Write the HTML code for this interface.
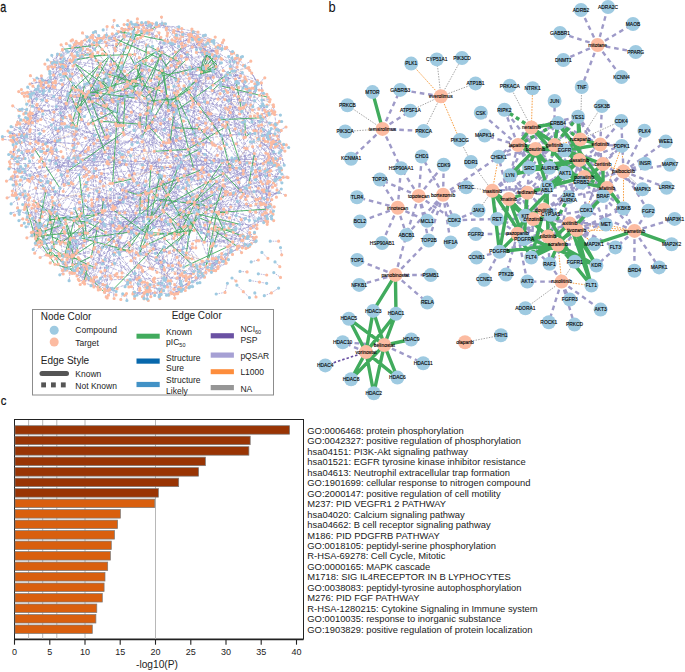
<!DOCTYPE html><html><head><meta charset="utf-8"><style>
html,body{margin:0;padding:0;background:#fff;overflow:hidden;}
svg{display:block;}
text{font-family:"Liberation Sans",sans-serif;}
.nl{font-size:4.9px;text-anchor:middle;fill:#000;stroke:#000;stroke-width:0.12px;}
</style></head><body>
<svg width="685" height="672" viewBox="0 0 685 672">
<rect width="685" height="672" fill="#fff"/>

<path d="M121.1 125.3L116.4 125.9M241.7 196.5L71.5 246.4M241.7 196.5L236.2 215.5M238.8 182.3L237.6 178.1M188.7 180.1L133.2 34.1M32.5 218.3L36.7 233.0M32.5 218.3L38.5 206.6M196.4 209.7L211.1 205.8M180.6 154.8L168.8 135.0M178.7 201.8L185.7 199.2M100.4 278.4L105.0 276.1M88.7 91.7L96.4 95.6M107.8 148.2L139.2 124.7M209.5 185.0L259.8 168.2M105.8 74.1L239.2 133.9M103.1 260.5L96.1 264.2M68.6 183.4L21.4 172.3M178.6 46.3L191.5 35.4M150.0 268.2L130.2 282.7M16.7 139.4L36.9 105.3M135.8 81.3L149.3 100.9M198.7 153.4L115.0 218.0M39.2 220.3L37.9 203.8M204.2 242.2L247.4 237.7M258.4 188.3L265.8 153.0M155.9 52.3L176.0 79.8M155.9 52.3L166.6 102.8M204.5 101.8L282.5 145.3M108.9 56.4L92.7 37.6M108.9 56.4L96.5 45.1M60.4 113.0L33.8 93.1M60.4 113.0L61.6 119.0M218.6 45.6L222.0 49.3M31.9 178.7L35.8 188.1M256.0 204.1L278.8 192.6M62.5 49.4L48.1 68.9M180.5 89.0L92.7 35.0M58.6 236.3L56.5 218.3M58.6 236.3L97.3 228.4M243.2 173.9L88.7 94.9M261.1 204.7L170.5 219.8M197.0 213.9L194.2 204.8M44.8 242.7L40.0 226.0M230.8 207.0L240.6 190.2M20.8 119.8L29.8 131.4M200.9 42.0L213.4 77.3M129.4 252.1L137.8 267.5M63.0 262.0L83.5 264.9M203.3 144.4L204.2 131.7M178.2 224.4L153.9 227.4M178.2 224.4L185.3 226.1M156.5 259.8L139.8 248.3M156.5 259.8L152.5 269.1M81.5 119.5L71.2 126.1M239.9 162.4L275.2 180.9M258.6 125.8L216.5 181.6M34.6 149.1L37.1 89.1M129.3 126.6L161.8 91.2M246.3 86.6L142.5 78.7M246.3 86.6L268.3 111.8M234.5 70.9L257.5 80.7M74.3 217.5L56.5 218.3M236.1 228.6L224.1 223.6M184.2 175.7L173.6 177.4M161.7 219.3L141.3 232.4M126.2 191.2L166.0 195.8M126.2 191.2L145.9 181.2M205.4 160.1L193.7 169.1M205.4 160.1L198.7 153.4M216.8 212.5L233.5 193.0M110.4 200.8L75.7 234.1M226.7 47.4L210.6 39.9M226.7 47.4L206.9 53.1M48.0 181.3L67.9 216.9M48.0 181.3L24.8 178.2M188.7 185.6L207.8 234.5M104.0 223.8L67.3 254.8M104.0 223.8L239.6 224.3M280.5 179.7L267.3 171.3M280.5 179.7L267.3 171.3M88.3 149.7L94.6 135.3M119.6 152.7L115.7 123.7M119.6 152.7L80.3 155.5M10.5 135.8L16.4 143.5M223.2 70.6L257.0 82.2M139.8 248.3L115.9 217.6M207.6 267.3L216.7 258.3M24.4 134.7L24.0 140.2M24.4 134.7L11.1 126.7M198.0 32.1L152.1 23.6M196.5 49.6L198.0 32.1M196.5 49.6L190.7 34.3M161.1 262.3L151.2 235.4M128.6 182.3L119.8 197.6M139.2 277.6L106.2 245.7M239.2 133.9L199.9 139.0M273.6 106.7L260.3 116.2M230.8 135.4L205.4 160.1M159.2 230.1L148.4 219.0M168.4 224.3L192.5 247.7M51.7 66.8L55.3 81.1M199.7 75.8L204.5 101.8M74.0 56.9L29.8 96.5M245.4 218.6L236.2 215.5M251.0 93.2L234.5 70.9M83.7 269.2L62.2 242.0M236.2 143.8L249.5 163.0M35.6 238.8L32.5 218.3M187.5 202.5L192.4 197.9M250.3 89.0L243.9 107.3M223.4 261.4L207.1 268.6M260.2 145.8L275.9 163.7M83.4 245.7L63.5 227.6M160.0 175.0L19.3 134.3M258.6 139.2L258.6 125.8M13.1 137.6L15.4 193.0M26.5 212.8L233.5 193.0M26.5 212.8L29.8 197.6M177.8 98.7L175.1 106.2M145.1 240.0L150.0 268.2M152.5 269.1L142.8 246.8M140.5 253.8L157.0 272.3M86.6 237.8L84.0 281.2M31.0 93.6L44.0 91.1M41.4 158.9L21.9 135.6M85.8 183.8L134.1 199.1M271.6 163.1L262.7 184.0M271.6 163.1L272.9 158.5M192.5 247.7L163.6 290.7M129.4 54.5L99.6 38.3M98.5 251.9L66.6 255.6M230.2 226.2L247.0 148.7M230.2 226.2L229.1 227.8M146.7 238.0L216.0 51.0M146.7 238.0L120.9 249.3M228.2 109.6L210.6 87.7M68.3 93.6L164.6 269.9M28.5 151.0L15.2 158.5M104.9 35.6L99.6 38.3M216.8 133.1L197.4 84.5M20.0 110.5L240.7 197.6M176.5 112.0L168.8 135.0M215.5 226.6L214.3 194.5M211.7 192.2L222.8 214.2M250.0 211.5L247.4 238.5M174.0 30.6L210.6 39.9M213.6 258.7L219.3 262.5M247.5 68.0L232.1 71.0M171.8 293.5L180.0 289.9M171.8 293.5L170.8 292.5M65.3 220.0L91.6 199.8M273.7 151.9L267.3 171.3M196.3 240.9L232.7 242.2M61.0 151.6L40.8 151.4M173.8 238.3L151.1 244.8M141.9 136.7L145.9 113.9M55.4 128.0L59.1 139.5M55.4 128.0L45.9 143.6M230.0 169.6L180.6 154.8M72.8 87.8L53.9 112.0M273.0 214.3L269.4 194.8M178.8 26.8L135.1 24.7M206.5 206.8L204.9 225.2M266.4 190.6L154.9 116.5M28.3 222.6L47.4 146.3M177.8 91.4L71.9 61.5M39.0 109.2L24.0 140.2M178.5 180.5L181.2 162.4M178.5 180.5L161.7 219.3M110.2 72.4L96.4 60.5M267.3 219.4L263.7 222.6M62.5 65.9L59.8 140.2M264.8 212.9L269.7 181.7M64.1 184.5L226.0 235.5M19.1 116.0L11.9 136.0M19.1 116.0L21.4 136.1M139.8 215.0L143.8 221.5M74.1 147.7L74.1 134.1M193.3 198.8L188.9 212.7M210.3 181.1L226.8 144.5M115.1 235.4L93.5 281.7M115.1 235.4L120.9 249.3M150.7 80.5L173.5 105.6M132.9 178.8L130.5 155.7M132.9 178.8L119.8 197.6M145.9 181.2L137.2 183.2M134.7 54.3L144.0 76.0M182.9 252.3L193.7 271.6M192.5 139.8L204.8 129.9M192.5 139.8L213.6 258.7M186.0 73.5L195.9 80.9M17.9 164.0L28.5 151.0M65.9 223.7L43.1 211.8M75.6 266.9L73.0 240.1M74.6 208.7L84.7 184.5M255.7 212.2L264.6 190.1M143.8 221.5L112.0 222.1M256.9 225.1L188.4 221.5M256.9 225.1L250.5 228.5M131.4 232.0L129.4 252.1M131.4 232.0L161.7 219.3M119.8 254.4L146.2 291.5M134.6 296.1L145.3 292.6M114.1 241.3L144.8 246.4M236.1 160.6L253.5 141.6M45.3 176.2L23.1 169.0M222.3 162.4L240.6 190.2M223.7 209.2L258.3 219.1M170.3 166.5L178.5 180.5M121.9 228.0L155.6 130.6M56.3 106.5L48.3 66.9M146.4 44.9L118.2 31.8M146.4 44.9L137.2 92.4M118.2 31.8L112.6 27.1M81.5 213.7L72.9 184.0M127.6 47.5L134.1 41.3M269.4 194.8L279.3 192.5M269.4 194.8L279.3 192.5M233.7 89.2L225.8 75.6M233.7 89.2L227.2 119.4M17.9 156.5L19.9 172.3M17.9 156.5L32.7 151.3M189.0 39.9L167.8 67.9M31.9 93.4L191.4 107.1M97.8 52.4L29.1 120.7M149.7 189.0L148.5 190.6M204.9 225.2L218.6 213.9M247.4 238.5L255.4 241.7M247.4 238.5L242.7 240.4M40.8 119.5L28.7 123.3M64.0 76.7L59.6 54.7M135.4 160.7L129.4 175.4M182.0 43.4L201.0 48.0M41.1 158.0L59.1 139.5M123.9 125.5L160.7 123.7M139.8 85.5L170.6 101.6M214.3 194.5L227.5 191.9M214.3 194.5L224.1 223.6M137.2 92.4L149.2 91.9M137.2 22.8L141.3 31.7M29.9 175.4L31.9 178.7M29.9 175.4L40.9 181.5M157.9 48.8L160.9 37.3M157.9 48.8L269.1 133.1M118.6 125.6L94.6 135.3M191.1 220.0L158.1 199.0M142.5 78.7L135.8 81.3M142.5 78.7L162.7 204.1M128.4 152.0L124.7 160.9M217.4 188.6L210.4 202.4M94.0 171.2L126.4 164.6M94.0 171.2L132.9 178.8M198.8 118.3L131.6 149.4M279.7 141.5L276.6 129.6M243.3 170.7L260.5 202.8M72.9 184.0L102.2 219.4M179.8 291.3L223.0 259.1M211.4 240.8L230.2 226.2M199.5 143.6L226.8 144.5M235.9 82.6L207.9 112.9M161.5 291.5L142.5 296.7M119.7 162.3L107.8 148.2M247.0 162.3L262.3 189.9M68.8 184.7L94.0 159.8M200.5 226.5L208.4 231.5M94.2 277.6L78.2 257.5M268.2 161.3L274.5 165.3M174.4 114.6L177.8 98.7M252.8 106.7L257.5 80.7M210.9 113.8L183.1 89.1M82.6 225.7L84.6 240.7M255.6 159.2L270.8 211.9M140.4 195.1L149.6 192.0M248.9 236.4L247.4 237.7M248.9 236.4L242.8 235.0M116.1 291.5L74.6 273.2M116.1 291.5L88.7 278.4M80.3 155.5L67.6 171.2M240.5 75.9L238.5 83.2M240.5 75.9L187.7 74.3M55.2 62.2L82.0 42.3M244.9 121.4L12.0 178.6M244.9 121.4L228.2 109.6M139.2 124.7L155.6 130.6M139.2 124.7L175.7 156.2M135.3 63.5L122.7 89.5M147.9 45.9L156.4 26.7M137.9 194.8L163.9 167.4M195.3 135.6L144.6 124.5M61.4 174.9L55.0 140.8M110.1 275.9L121.7 277.1M110.1 275.9L93.9 286.9M221.0 148.7L222.3 162.4M100.9 92.8L100.0 82.9M60.4 127.8L74.1 134.1M60.4 127.8L58.0 131.0M176.4 213.1L9.9 132.7M180.8 288.3L150.0 284.5M75.7 161.3L49.5 160.3M261.4 82.9L262.5 119.3M91.5 177.7L84.7 184.5M91.5 177.7L103.6 186.0M162.7 204.1L201.4 232.7M120.2 199.6L113.5 209.6M151.2 235.4L131.4 228.0M26.7 104.2L52.9 86.4M145.8 66.7L121.7 62.8M56.9 213.5L56.5 218.3M56.9 213.5L15.4 193.0M218.2 189.7L70.0 272.9M199.6 149.0L188.2 111.1M33.1 157.6L28.5 151.0M191.4 107.1L176.0 79.8M136.2 233.6L151.2 235.4M67.9 216.9L45.4 226.0M269.7 123.2L281.3 130.4M163.3 142.2L161.4 145.5M262.7 184.0L231.9 157.9M262.7 184.0L220.6 85.8M224.7 99.5L250.8 105.2M143.6 158.5L173.6 177.4M41.7 244.6L197.9 207.6M205.3 44.8L193.8 38.1M30.1 143.6L146.4 44.9M71.9 61.5L60.2 74.7M71.9 61.5L63.7 73.9M43.5 188.2L51.1 213.8M266.6 190.6L276.8 179.0M160.6 293.1L141.1 267.4M96.4 95.6L99.6 66.9M197.8 213.8L201.4 232.7M92.0 205.8L68.2 249.7M131.6 149.4L143.6 158.5M114.8 253.0L118.7 252.4M256.3 130.9L269.7 123.2M220.1 93.7L191.3 88.2M261.1 130.9L194.5 38.8M261.1 130.9L281.0 150.3M137.2 183.2L77.4 250.6M29.6 161.2L52.6 188.9M79.9 196.3L97.1 191.1M79.9 196.3L86.4 182.6M79.4 43.5L95.5 31.7M150.4 190.1L134.1 199.1M118.4 98.9L106.9 130.1M181.4 43.9L186.1 59.3M77.9 157.9L104.7 205.6M226.8 144.5L226.7 122.2M176.6 95.0L199.2 104.8M176.6 95.0L170.6 101.6M167.9 280.9L168.3 294.9M108.1 290.6L103.1 260.5M80.6 161.7L82.1 160.0M161.6 252.5L165.4 279.9M77.1 43.0L14.2 149.5M201.4 232.7L204.9 225.2M169.0 188.6L166.0 195.8M169.0 188.6L205.8 182.7M131.0 22.0L130.0 24.0M145.3 130.5L122.0 157.0M100.0 82.9L63.5 66.6M86.6 220.2L53.4 204.7M150.8 168.7L129.4 175.4M129.8 245.3L102.2 247.7M212.8 144.8L232.7 166.5M67.0 259.7L64.2 254.4M187.7 74.3L213.4 77.3M240.6 190.2L61.5 57.0M240.6 190.2L236.3 168.0M176.9 242.6L180.8 288.3M169.0 142.6L204.8 154.3M38.8 227.3L36.0 244.7M212.1 123.7L226.8 144.5M253.9 130.6L208.7 113.9M136.9 279.3L149.4 287.6M114.4 231.1L136.2 233.6M268.5 162.9L273.4 160.1M244.0 103.3L242.9 121.6M156.1 258.9L179.8 291.3M277.1 123.5L43.5 87.6M89.6 208.8L82.6 225.7M89.6 208.8L280.2 158.4M54.5 203.1L55.6 212.4M204.2 131.7L32.6 93.0M200.6 48.9L205.7 52.0M80.2 107.5L36.9 105.3M108.8 239.7L94.7 247.3M154.9 116.5L152.3 122.1M185.8 275.7L180.8 288.3M185.8 275.7L173.8 289.2M146.7 200.5L153.3 248.8M250.0 182.5L269.4 194.8M82.9 282.4L86.1 266.3M248.8 67.6L258.2 84.0M141.7 205.4L101.5 173.6M141.7 205.4L120.2 199.6M229.5 217.9L247.4 196.2M121.8 66.3L156.0 88.6M155.3 253.3L192.5 247.7M61.3 80.2L53.0 82.9M144.4 31.0L125.2 29.3M118.5 113.8L140.6 37.6M189.3 92.6L176.6 95.0M64.6 123.6L61.6 119.0M141.0 92.9L103.4 105.5M141.0 92.9L45.7 228.4M147.2 233.9L168.5 265.5M72.0 120.3L88.7 94.9M72.0 120.3L26.7 104.2M36.0 244.2L61.9 224.9M36.0 244.2L48.4 255.3M74.1 156.7L88.4 147.6M74.1 156.7L78.1 143.5M187.2 52.9L199.1 39.4M217.9 47.5L222.0 48.7M194.2 204.8L237.6 178.1M194.2 204.8L166.6 205.5M253.5 141.6L267.8 161.7M226.7 122.2L168.0 41.6M210.6 87.7L220.9 58.4M138.2 283.9L158.9 289.1M193.7 143.1L211.8 142.6M188.9 212.7L190.2 226.2M142.6 270.4L167.4 287.0M142.6 270.4L134.6 258.0M106.7 104.7L255.7 212.2M229.9 166.0L201.4 169.8M117.7 101.4L145.8 66.7M175.8 58.2L175.4 52.0M191.8 179.2L176.4 158.5M61.9 224.9L19.7 211.5M115.7 123.7L137.2 92.4M206.9 261.1L212.4 245.6M79.5 202.3L83.6 215.4M97.8 287.2L82.9 282.4M87.6 233.3L79.6 226.5M237.3 55.5L239.7 59.8M237.3 55.5L234.3 62.1M136.7 92.7L36.7 233.0M278.6 164.9L269.4 194.8M33.2 218.6L36.3 243.0M33.2 218.6L205.4 35.0M36.7 233.0L34.1 201.0M86.5 174.9L235.1 58.5M251.9 169.9L265.1 141.3M61.5 57.0L49.2 90.8M241.2 219.6L250.5 228.5M75.7 234.1L63.5 227.6M193.9 222.5L213.4 243.5M12.9 142.2L16.4 143.5M12.9 142.2L10.5 135.8M224.2 223.7L219.1 229.1M192.2 31.1L216.0 51.0M192.2 31.1L196.2 38.6M227.2 119.4L249.1 89.1M238.4 96.5L252.0 121.8M173.5 105.6L176.5 112.0M161.8 91.2L167.4 96.1M39.6 232.8L58.9 253.6M39.6 232.8L50.5 250.4M164.3 250.2L151.1 244.8M164.3 250.2L159.1 296.8M56.3 149.9L27.5 118.5M199.0 211.7L190.7 34.3M125.2 29.3L107.1 286.2M147.5 128.1L164.3 130.0M173.9 114.9L167.4 96.1M59.9 97.8L74.3 45.0M89.0 101.6L84.6 84.3M50.5 212.5L42.2 216.6M43.1 211.8L149.0 232.4M55.4 191.5L28.1 194.6M256.8 176.4L256.8 199.7M73.7 164.8L41.4 158.9M156.6 36.2L127.6 47.5M156.6 36.2L149.0 34.2M211.8 228.7L194.1 230.3M113.1 157.9L122.5 190.1M116.4 125.9L115.7 123.7M133.1 36.5L109.1 37.8M56.3 157.8L67.6 171.2M200.0 142.8L176.2 140.5M232.5 51.5L232.1 71.0M131.8 34.0L124.5 36.9M9.9 167.0L32.4 177.4M199.4 128.9L204.2 131.7M178.1 29.3L181.4 43.9M225.5 194.7L223.2 185.7M148.4 99.3L137.2 92.4M207.9 112.9L234.4 95.5M169.3 106.8L161.8 91.2M165.7 233.6L75.4 56.7M208.9 174.8L211.7 192.2M208.9 174.8L230.0 194.5M89.4 40.4L114.5 263.3M206.9 268.7L212.3 270.6M224.4 229.2L197.0 213.9M88.5 93.7L164.6 269.9M30.9 96.7L32.5 106.2M83.3 93.4L88.5 93.7M83.3 93.4L121.0 68.7M254.4 153.5L235.3 158.4M254.4 153.5L268.9 156.7M67.3 254.8L176.9 103.1M144.6 124.5L155.6 130.6M177.8 92.1L158.9 87.7M46.8 100.6L16.4 143.5M203.8 172.4L193.3 131.9M74.9 96.5L94.9 105.8M14.2 149.5L12.1 158.1M194.2 212.6L200.5 226.5M131.6 139.4L135.4 160.7M131.6 139.4L148.3 107.6M233.2 161.4L211.7 192.2M88.4 123.9L180.1 38.9M75.2 90.2L75.8 103.9M239.6 224.3L242.8 235.0M231.9 70.0L251.0 93.2M231.9 70.0L250.2 92.9M83.7 204.1L113.1 225.6M83.7 204.1L89.6 208.8M65.9 126.9L52.8 119.7M87.2 83.6L109.2 83.1M257.6 113.5L272.4 142.8M246.6 188.6L267.6 221.9M85.5 200.6L45.9 190.9M262.0 204.5L256.8 199.7M199.9 139.0L227.2 119.4M180.7 265.6L156.5 259.8M32.3 155.0L127.2 75.0M170.6 101.6L174.3 92.8M116.5 235.3L114.4 231.1M271.8 199.6L258.9 218.3M170.6 43.0L186.0 73.5M170.6 43.0L189.0 39.9M143.0 61.5L163.3 66.9M141.0 62.8L133.1 36.5M153.6 209.9L166.0 195.8M149.6 192.0L143.8 221.5M83.5 264.9L77.0 276.0M83.5 264.9L89.6 278.2M127.7 85.6L149.0 109.3M55.7 128.3L40.7 85.7M170.8 59.2L160.4 75.8M135.1 273.3L132.0 250.9M135.1 273.3L139.6 290.5M214.2 144.8L211.8 129.9M141.3 232.4L119.8 197.6M141.3 232.4L128.5 231.5M140.8 24.6L146.3 30.2M144.0 76.0L175.4 52.0M207.5 102.4L228.2 109.6M155.0 292.8L145.3 292.6M65.7 73.7L52.8 119.7M76.1 41.4L74.1 62.5M104.1 37.3L134.1 41.3M35.0 206.2L43.1 211.8M72.1 125.0L71.1 107.0M72.1 125.0L93.9 143.7M263.7 222.6L248.6 185.1M162.8 181.5L150.4 190.1M162.8 181.5L178.7 201.8M251.4 243.5L244.5 244.5M251.4 243.5L237.3 246.5M113.6 207.8L146.3 236.6M178.7 166.0L218.9 189.0M178.7 166.0L163.3 142.2M106.4 45.5L109.5 38.0M106.4 45.5L97.8 52.4M246.4 204.0L257.4 199.6M63.0 256.1L59.7 236.2M63.0 256.1L48.4 255.3M201.9 40.4L163.3 66.9M201.9 40.4L205.3 44.8M262.3 90.6L261.4 82.9M262.3 90.6L246.3 86.6M199.4 202.5L199.0 211.7M199.4 202.5L235.2 193.9M169.3 179.7L181.2 162.4M218.9 56.5L195.4 68.8M218.9 56.5L242.3 72.7M61.2 64.8L31.0 93.6M92.3 101.7L94.9 105.8M149.2 91.9L185.0 168.7M220.7 169.9L203.8 172.4M220.7 169.9L210.3 181.1M121.7 277.1L135.1 273.3M89.7 221.5L85.0 219.6M245.5 137.1L217.3 155.3M212.6 70.0L219.8 45.8M78.1 143.5L36.0 141.7M176.6 124.0L170.4 150.9M213.7 160.6L191.8 179.2M20.7 166.7L12.0 178.6M20.7 166.7L17.3 176.5M186.5 252.8L165.5 279.3M72.6 264.8L66.6 255.6M137.0 295.1L156.7 51.3M131.4 228.0L141.3 232.4M114.3 63.5L112.3 33.8M233.4 232.3L224.7 260.8M255.1 220.8L267.6 221.9M105.3 42.0L196.6 265.8M85.4 97.2L122.6 103.1M71.6 213.2L44.8 242.7M50.5 250.4L39.3 246.6M156.1 257.6L129.4 252.1M156.1 257.6L167.9 280.9M148.1 45.8L141.0 62.8M148.1 45.8L106.4 45.5M97.3 228.4L100.3 181.3M218.1 266.6L223.0 259.1M82.2 56.5L64.0 65.4M161.9 52.5L173.8 86.3M161.9 52.5L159.0 32.8M215.0 229.9L230.8 207.0M200.7 111.9L207.9 112.9M175.1 235.6L192.4 197.9M108.7 36.8L140.8 24.6M180.0 209.7L176.9 242.6M147.3 244.0L147.2 233.9M85.5 151.5L74.7 157.8M115.0 218.0L147.3 244.0M265.1 141.3L263.3 129.3M265.1 141.3L245.1 131.9M255.6 241.6L225.6 254.2M218.6 213.9L277.2 145.7M218.6 213.9L197.1 195.9M270.7 147.3L99.6 66.9M136.0 65.0L104.1 72.8M183.7 267.1L183.5 247.9M45.3 234.1L53.7 246.7M110.6 64.6L116.4 44.2M79.8 87.3L60.9 62.0M215.6 246.1L273.5 211.1M45.7 228.4L58.9 222.5M225.6 108.1L199.9 139.0M36.9 105.3L61.3 80.2M123.2 30.8L109.5 38.0M163.8 43.0L175.8 58.2M216.1 66.6L216.0 51.0M102.5 264.0L115.1 235.4M222.8 214.2L217.4 188.6M170.1 43.1L163.8 43.0M94.9 105.8L79.8 87.3M59.5 205.1L149.3 100.9M59.5 205.1L53.4 204.7M85.1 40.0L74.3 45.0M192.9 264.9L183.4 276.3M192.9 264.9L190.6 276.0M162.0 70.6L177.6 81.1M212.1 265.4L219.3 262.5M242.4 122.3L250.0 133.3M233.2 224.3L241.8 240.5M233.2 224.3L224.2 223.7M30.3 129.5L26.7 136.6M32.7 151.3L17.9 164.0M32.7 151.3L45.9 143.6M195.4 68.8L170.8 59.2M31.3 232.5L154.1 286.2M31.3 232.5L113.1 101.8M50.0 236.9L84.6 240.7M50.0 236.9L61.5 219.4M239.6 167.8L77.9 157.9M239.6 167.8L247.0 162.3M42.2 216.6L31.9 235.4M100.2 221.3L103.4 199.6M165.4 279.9L242.9 88.1M242.9 121.6L259.5 95.3M231.3 250.1L223.0 259.1M187.4 54.6L146.3 30.2M187.4 54.6L257.0 228.6M40.8 180.7L35.8 188.1M166.5 295.2L177.7 293.7M77.4 250.6L65.5 243.2M199.1 44.8L201.9 40.4M93.9 143.7L107.0 138.2M93.9 143.7L94.0 159.8M189.8 84.6L154.9 103.9M191.4 98.1L205.6 123.2M191.4 98.1L177.8 92.1M92.6 212.6L115.9 217.6M87.7 189.2L96.6 176.7M266.0 162.0L74.3 45.0M131.6 232.4L114.4 231.1M114.1 254.6L143.8 293.5M262.7 103.9L273.7 151.9M265.6 204.8L256.9 225.1M265.6 204.8L266.1 217.4M249.4 90.5L59.1 139.5M281.6 169.8L267.6 141.6M281.6 169.8L250.6 205.6M104.5 98.1L107.0 138.2M192.5 194.5L183.7 211.5M158.7 283.4L164.5 286.3M249.1 89.1L248.7 90.0M49.3 81.7L79.8 87.3M81.2 44.8L61.2 64.8M176.4 35.2L178.1 29.3M24.3 209.5L31.9 178.7M74.1 134.1L95.9 168.5M151.7 217.0L86.1 169.2M89.0 171.9L73.8 150.6M19.9 128.0L24.4 134.7M274.5 165.3L250.0 182.5M40.9 181.5L50.5 182.9M80.8 49.2L90.7 37.3M80.8 49.2L90.6 56.1M79.6 226.5L101.4 248.2M188.1 149.4L193.7 143.1M72.1 74.0L52.3 63.0M255.5 179.8L220.7 169.9M90.7 37.3L109.1 37.8M79.2 280.6L204.5 277.2M45.9 153.3L48.1 149.8M170.2 141.8L62.3 270.5M77.3 270.4L105.8 285.3M79.7 234.1L267.3 183.5M24.0 140.2L30.1 143.6M24.0 140.2L29.6 161.2M51.9 209.9L31.9 208.1M183.1 89.1L208.7 52.9M189.4 78.4L180.0 62.1M68.7 158.2L73.8 150.6M68.7 158.2L49.5 160.3M8.7 154.5L13.8 154.4M75.4 56.7L82.0 42.3M105.7 232.4L115.1 235.4M112.7 264.1L93.9 286.9M63.5 66.6L256.8 199.7M63.5 66.6L82.2 56.5M262.3 189.9L225.5 194.7M225.6 90.3L204.9 52.3M223.0 184.9L230.0 194.5M243.9 107.3L223.7 80.3M243.9 107.3L258.2 84.0M77.7 55.4L102.4 38.7M240.0 100.2L258.3 83.6M62.3 84.6L46.0 82.5M109.6 56.0L113.2 68.8M116.9 97.2L221.0 148.7M97.3 75.2L70.9 95.7M149.9 110.5L154.9 116.5M159.2 188.6L156.4 216.8M159.2 188.6L167.4 157.1M166.5 28.1L263.4 138.7M201.0 48.0L206.9 53.1M201.0 48.0L221.8 59.2M76.1 131.3L115.0 111.0M106.3 246.5L114.1 254.6M106.3 246.5L68.9 256.9M247.4 196.2L242.4 122.3M197.7 173.1L186.8 182.2M230.3 112.7L239.2 133.9M236.3 168.0L32.5 106.2M236.3 168.0L243.3 170.7M32.9 86.2L39.8 91.5M244.8 148.0L227.2 119.4M103.6 186.0L101.5 173.6M103.6 186.0L86.6 220.2M103.4 105.5L125.0 96.8M158.3 177.4L253.7 237.7M263.1 163.5L13.1 137.6M161.6 176.4L239.6 167.8M131.9 87.9L163.3 66.9M139.3 94.9L140.2 114.7M263.8 198.4L265.6 204.8M263.8 198.4L149.4 30.3M140.2 114.7L123.1 132.5M63.7 73.9L79.8 87.3M15.4 193.0L39.7 167.2M142.2 141.8L130.5 155.7M260.1 170.6L269.5 193.6M164.3 119.4L183.0 73.1M100.9 271.8L108.1 290.6M211.4 272.3L226.2 263.1M107.0 163.4L119.2 179.0M73.0 240.1L66.4 265.5M73.0 240.1L64.4 256.3M37.9 203.8L184.3 271.5M223.0 259.1L192.9 264.9M223.0 259.1L183.4 276.3M71.5 246.4L67.8 251.3M81.6 91.7L70.0 45.8M52.0 242.1L41.7 244.6M263.2 117.7L272.9 113.2M109.1 37.8L120.8 44.3M272.6 141.9L282.5 148.2M80.1 111.4L106.0 106.4M27.3 217.2L158.1 284.6M27.3 217.2L26.5 212.8M62.2 242.0L65.3 220.0M39.8 81.0L25.9 122.0M222.2 160.8L250.0 182.5M49.4 211.2L67.9 216.9M269.5 193.6L267.1 169.9M195.3 39.3L181.9 32.3M220.9 58.4L229.9 61.5M92.7 37.6L93.9 286.9M119.8 197.6L97.1 191.1M183.4 276.3L28.1 194.6M183.4 276.3L180.3 275.4M211.8 129.9L199.5 143.6M211.8 129.9L192.5 139.8M54.7 87.4L57.5 54.1M142.4 282.2L134.5 273.7M171.4 65.4L127.3 250.5M253.5 226.1L73.1 269.6M253.5 226.1L273.5 211.1M156.0 88.6L161.9 52.5M223.9 91.4L212.3 90.5M223.9 91.4L216.8 133.1M37.6 176.1L44.3 164.1M37.6 176.1L15.9 181.8M196.0 267.4L213.6 258.7M76.0 241.6L67.0 259.7M76.0 241.6L85.2 232.8M61.5 219.4L163.8 43.0M166.3 187.6L197.7 173.1M166.3 187.6L224.1 223.6M235.3 158.4L254.4 153.5M160.0 101.4L174.0 112.6M160.0 101.4L151.1 113.3M75.5 110.6L62.3 84.6M122.0 157.0L126.4 164.6M163.3 66.9L152.1 60.7M262.5 119.3L240.0 100.2M145.2 191.9L144.8 185.5M165.5 221.3L153.3 248.8M177.5 178.3L168.8 135.0M23.8 113.9L46.0 82.5M15.0 195.2L22.9 194.6M15.0 195.2L17.3 176.5M180.1 138.3L199.6 149.0M71.1 107.0L89.6 95.1M71.1 107.0L42.4 111.1M141.1 267.4L165.7 233.6M59.6 54.7L109.5 38.0M281.3 130.4L267.8 161.7M151.7 191.6L198.0 175.2M164.3 130.0L169.9 119.1M164.3 130.0L166.6 102.8M173.0 44.0L216.0 51.0M62.5 50.0L64.0 65.4M200.7 180.0L215.8 212.6M150.2 24.9L151.8 29.8M110.2 87.7L100.9 92.8M43.0 93.3L80.1 111.4M43.0 93.3L41.4 75.8M212.0 211.5L230.0 194.5M84.0 167.3L80.6 161.7M150.2 217.8L177.5 178.3M137.5 142.5L93.9 143.7M132.4 94.8L139.3 94.9M277.0 190.1L276.8 179.0M170.8 292.5L156.1 258.9M170.8 292.5L179.8 291.3M234.3 62.1L197.3 41.6M207.8 234.5L241.8 240.5M207.8 65.6L213.0 85.1M207.8 65.6L193.9 37.5M64.3 185.2L82.1 160.0M64.3 185.2L61.4 174.9M190.2 70.6L216.0 51.0M152.8 197.6L133.9 180.9M121.9 56.2L125.0 96.8M226.2 263.1L211.5 268.7M136.4 252.7L132.9 293.9M189.1 224.1L194.1 230.3M191.3 88.2L168.4 110.7M195.8 247.8L198.6 217.5M90.9 280.8L63.9 269.3M90.9 280.8L84.0 281.2M269.9 206.2L245.2 218.8M112.1 99.9L121.0 68.7M67.6 171.2L63.2 191.3M142.7 227.5L113.1 225.6M280.2 158.4L257.4 138.3M211.1 205.8L186.8 182.2M176.6 136.7L172.6 103.3M176.6 136.7L183.6 121.1M134.2 80.8L142.5 78.7M167.4 157.1L87.8 49.3M176.0 79.8L175.8 58.2M151.3 166.4L176.2 140.5M151.3 166.4L165.2 153.6M197.5 69.4L178.6 46.3M197.5 69.4L187.7 74.3M183.5 247.9L197.0 213.9M205.6 123.2L169.3 106.8M130.0 95.1L116.4 125.9M130.0 95.1L97.4 95.4M186.8 182.2L185.7 199.2M186.8 182.2L160.8 184.1M67.3 96.1L103.1 98.9M67.3 96.1L68.3 93.6M135.8 227.5L128.5 231.5M55.5 82.8L36.9 78.0M187.1 59.0L180.1 38.9M158.1 199.0L183.4 187.8M135.9 67.7L127.7 85.6M139.3 122.8L145.9 113.9M177.6 81.1L156.0 88.6M217.1 50.9L202.2 50.1M124.7 160.9L97.4 140.2M124.7 160.9L108.6 157.3M230.2 106.8L225.6 108.1M104.7 205.6L92.2 203.4M70.1 239.7L50.2 222.5M70.1 239.7L44.3 225.5M249.5 163.0L276.5 165.9M48.8 194.5L250.6 205.6M198.9 41.0L190.7 34.3M94.6 267.6L77.8 268.0M94.6 267.6L111.1 278.7M56.2 242.9L278.6 164.9M267.2 209.1L265.1 169.5M243.1 131.2L263.2 117.7M122.4 154.4L109.0 164.0M215.4 145.6L235.2 128.8M166.6 205.5L142.2 201.5M193.7 169.1L36.3 236.7M125.0 96.8L134.2 80.8M255.7 172.2L118.7 228.2M53.9 112.0L92.7 37.6M131.4 112.2L154.9 116.5M227.7 72.5L239.9 162.4M198.0 175.2L188.7 185.6M44.3 164.1L84.0 167.3M136.0 213.0L113.5 209.6M98.9 191.7L112.0 209.0M37.1 89.1L63.5 66.6M211.1 246.4L281.3 189.0M211.1 246.4L212.1 265.4M144.7 98.3L186.5 117.9M208.1 40.1L190.2 70.6M74.0 220.6L76.1 253.2M38.8 242.5L49.9 237.5M19.3 214.3L19.8 210.9M197.3 41.6L199.1 44.8M243.5 194.1L254.0 191.7M276.1 124.7L273.6 106.7M146.4 254.3L192.5 247.7M86.7 94.7L143.0 61.5M105.0 152.0L94.0 171.2M52.7 201.7L50.2 222.5M52.7 201.7L53.4 204.7M202.8 167.5L225.2 191.6M267.8 136.5L236.3 168.0M250.4 116.3L265.8 153.0M193.9 37.5L217.1 53.1M97.8 100.5L67.3 96.1M112.3 90.2L137.2 92.4M112.3 90.2L67.3 96.1M16.5 124.8L32.5 122.7M92.0 108.5L78.1 109.7M92.0 108.5L139.2 124.7M51.3 147.9L44.4 163.6M51.3 147.9L64.3 185.2M221.6 135.9L196.1 98.2M221.6 135.9L225.6 108.1M107.0 267.5L94.7 247.3M107.0 267.5L83.7 269.2M226.0 235.5L231.0 252.0M226.0 235.5L200.5 226.5M245.1 131.9L279.7 141.5M134.6 258.0L116.5 245.1M88.4 147.6L45.3 176.2M88.4 147.6L118.5 113.8M185.7 199.2L187.5 202.5M185.7 199.2L210.2 264.2M120.9 249.3L62.5 49.4M128.5 231.5L131.4 228.0M128.5 231.5L116.5 235.3M42.4 111.1L28.9 117.5M42.4 111.1L80.2 107.5M182.0 273.6L193.4 273.4M43.1 185.8L24.0 140.2M70.9 95.7L68.3 93.6M118.7 228.2L136.0 213.0M164.3 261.3L163.6 267.7M64.9 233.2L79.7 216.4M232.7 166.5L231.9 157.9M232.7 166.5L146.4 254.3M193.1 104.4L205.7 52.0M51.4 124.8L25.9 135.9M116.0 294.9L86.6 278.8M168.4 194.5L257.0 228.6M212.3 90.5L210.6 87.7M263.3 129.3L281.8 174.0M194.1 230.3L161.6 252.5M49.8 73.8L61.6 56.0M190.7 66.8L207.8 65.6M137.4 38.7L212.3 90.5M152.1 60.7L152.1 23.6M171.9 43.8L176.0 79.8M193.3 131.9L230.8 135.4M156.7 51.3L176.4 35.2M9.4 161.8L15.7 146.7M61.6 119.0L28.5 151.0M173.5 32.2L180.1 38.9M173.5 32.2L166.5 28.1M75.8 103.9L88.7 91.7M132.5 81.2L127.2 75.0M63.5 227.6L77.1 245.8M63.5 227.6L94.8 219.6M83.6 215.4L41.4 201.3M83.6 215.4L38.8 227.3M175.8 34.3L193.8 38.1M49.5 160.3L67.6 171.2M178.7 234.5L203.8 264.7M178.7 234.5L185.7 199.2M105.4 137.2L66.3 126.5M219.4 119.8L196.1 98.2M217.1 53.1L203.5 68.7M211.8 142.6L207.2 127.8M211.8 142.6L176.2 140.5M26.7 219.4L59.7 236.2M52.8 119.7L87.2 83.6M254.6 100.6L265.9 112.0M11.1 126.7L43.9 131.1M43.3 148.7L41.9 151.3M77.1 245.8L73.9 238.2M77.1 245.8L76.0 241.6M65.5 269.2L52.0 246.9M99.6 66.9L250.0 133.3M58.9 222.5L73.5 255.2M28.7 101.1L30.5 97.2M244.0 137.7L205.4 35.0M21.4 136.1L25.9 135.9M185.7 232.9L175.1 235.6M185.7 232.9L197.0 213.9M272.4 142.8L266.0 162.0M272.4 142.8L270.7 147.3M205.4 35.0L166.3 29.8M217.9 99.1L227.7 72.5M190.2 226.2L159.2 230.1M70.3 79.2L62.5 65.9M62.3 270.5L72.0 257.0M124.1 134.7L112.1 99.9M40.0 226.0L44.3 225.5M104.9 270.3L127.8 282.4M227.4 162.0L221.0 148.7M205.8 68.5L110.1 275.9M205.8 68.5L75.5 110.6M113.1 101.8L114.9 74.1M134.5 273.7L104.9 259.5M9.9 132.7L198.9 41.0M62.8 118.0L68.3 93.6M189.6 201.7L160.8 184.1M196.7 196.9L200.5 226.5M196.7 196.9L177.5 178.3M19.9 142.1L24.2 158.4M50.3 77.7L52.9 86.4M163.9 167.4L65.5 243.2M156.8 77.1L136.0 65.0M156.8 77.1L145.3 130.5M127.2 75.0L101.2 85.7M183.2 227.1L148.4 219.0M70.8 117.2L59.9 97.8M270.2 204.4L262.7 184.0M27.5 92.3L57.5 140.9M41.9 201.5L70.3 79.2M146.1 194.1L149.7 189.0M146.1 194.1L119.2 179.0M263.5 105.5L264.5 110.1M93.5 281.7L87.3 268.9M178.7 85.6L181.5 56.1M36.9 78.0L53.0 82.9M36.9 78.0L53.7 96.3M10.2 163.8L255.6 159.2M132.1 90.9L100.5 63.6M132.1 90.9L255.6 241.6M98.5 282.0L201.6 72.0M21.4 172.3L19.9 172.3M148.6 223.1L147.2 233.9M104.9 210.7L98.9 191.7M97.4 140.2L123.9 125.5M97.4 140.2L142.2 141.8M57.5 140.9L9.9 132.7M237.1 249.2L196.6 265.8M102.2 219.4L85.0 219.6M174.5 233.5L188.9 212.7M174.5 233.5L148.6 223.1M148.5 190.6L137.9 194.8M148.5 190.6L164.5 176.0M102.0 86.4L110.6 64.6M212.2 258.7L223.0 259.1M210.4 202.4L181.2 162.4M174.0 112.6L178.7 85.6M166.6 102.8L149.3 100.9M73.6 255.8L80.4 237.8M48.4 255.3L47.2 248.0M181.4 291.2L139.3 57.7M92.8 176.3L94.0 171.2M234.4 95.5L153.9 227.4M234.4 95.5L251.5 81.5M96.0 214.6L138.9 215.0M92.2 116.5L74.1 134.1M183.6 121.1L225.9 125.9M40.8 151.4L10.5 135.8M59.7 236.2L58.6 236.3M71.2 126.1L78.1 143.5M71.2 126.1L123.7 49.7M203.2 275.9L170.8 292.5M96.1 264.2L89.6 278.2M96.1 264.2L188.6 34.6M80.4 237.8L87.3 268.9M119.2 226.0L128.5 231.5M230.0 245.2L201.4 232.7M127.3 250.5L118.7 252.4M250.2 92.9L257.5 80.7M250.2 92.9L242.9 121.6M242.3 72.7L226.6 79.8M242.3 72.7L159.2 230.1M198.6 217.5L153.9 227.4M260.8 181.6L225.2 191.6M47.7 220.2L67.9 216.9M122.7 89.5L136.1 98.2M195.6 88.7L176.6 66.9M101.5 113.3L121.1 125.3M245.9 248.4L135.3 63.5M134.1 41.3L134.7 54.3M177.6 168.2L151.3 166.4M181.2 217.1L178.7 201.8M116.5 245.1L104.0 223.8M116.5 245.1L148.2 193.0M225.7 180.1L223.1 173.7M104.6 111.0L97.4 95.4M203.5 68.7L225.8 75.6M130.4 86.5L114.3 63.5M38.5 206.6L43.1 211.8M142.4 165.0L130.5 155.7M208.7 52.9L199.1 44.8M208.7 52.9L195.3 39.3M138.4 192.8L125.8 197.1M213.6 71.9L220.5 82.7M216.5 181.6L85.1 40.0M241.8 240.5L211.8 228.7M145.9 113.9L123.9 125.5M114.9 74.1L109.6 56.0M235.2 128.8L242.4 122.3M252.6 110.0L260.8 106.3M136.9 32.5L109.1 39.4M78.5 89.9L106.9 77.5M257.4 199.6L223.0 184.9M53.4 204.7L27.8 165.9M148.5 126.1L144.6 124.5M109.1 39.4L116.5 40.5M138.6 265.6L164.6 269.9M257.4 138.3L280.2 158.4M74.4 139.7L76.6 128.9M227.5 191.9L210.3 181.1M88.6 195.6L86.6 220.2M124.9 212.7L151.6 233.2M124.9 212.7L79.0 209.1M115.0 48.1L142.9 35.9M151.6 233.2L223.2 70.6M49.9 150.7L68.8 184.7M225.9 125.9L230.2 106.8M105.8 285.3L88.7 278.4M213.4 243.5L240.2 235.8M213.4 243.5L191.1 220.0M82.4 269.7L86.1 266.3M28.7 123.3L25.9 135.9M66.1 103.0L60.4 127.8M159.0 32.8L182.9 252.3M159.0 32.8L141.7 22.6M102.3 212.5L106.3 246.5M218.9 189.0L258.3 219.1M184.7 272.0L192.9 264.9M96.6 176.7L85.8 183.8M101.4 248.2L94.2 277.6M105.4 207.3L120.2 199.6M105.4 207.3L123.2 202.0M249.4 220.3L201.0 205.0M252.6 146.7L260.8 181.6M224.1 223.6L199.4 202.5M85.7 186.4L98.9 191.7M130.5 155.7L73.8 150.6M130.5 155.7L134.1 199.1M245.8 104.8L230.3 66.5M245.8 104.8L214.8 56.1M52.3 63.0L92.4 56.6M52.3 63.0L77.3 219.0M103.1 98.9L116.4 125.9M103.1 98.9L101.6 121.3M147.4 217.1L160.0 175.0M268.0 181.4L269.5 193.6M188.9 92.0L207.8 65.6M190.6 264.4L189.1 287.8M222.0 49.3L161.4 203.2M207.1 268.6L190.1 286.7M204.8 53.6L181.7 36.0M115.9 217.6L134.2 235.2M115.9 217.6L150.2 217.8M184.0 85.9L188.2 111.1M73.9 238.2L41.7 244.6M73.9 238.2L85.2 232.8M58.9 253.6L36.3 243.0M58.9 253.6L272.9 158.5M148.2 193.0L180.0 209.7M196.4 52.4L203.5 68.7M258.2 84.0L249.7 70.3M44.4 163.6L41.4 158.9M190.4 227.5L207.8 234.5M122.6 103.1L96.4 95.6M144.3 150.3L140.2 114.7M216.0 51.0L196.4 52.4M167.8 67.9L180.0 62.1M167.8 67.9L155.9 52.3M122.1 272.9L118.7 252.4M52.2 151.4L57.5 140.9M52.2 151.4L29.8 131.4M95.3 241.4L98.9 191.7M95.3 241.4L112.7 264.1M81.8 49.8L76.1 41.4M196.8 125.0L176.6 136.7M118.7 252.4L118.7 228.2M118.7 252.4L142.8 246.8M66.3 126.5L42.9 144.4M161.4 203.2L178.2 208.1M102.2 247.7L102.2 219.4M277.0 136.1L230.3 112.7M237.1 57.2L233.7 89.2M237.1 57.2L235.6 79.1M254.9 133.4L221.6 135.9M160.7 123.7L167.4 157.1M96.4 60.5L121.7 62.8M114.5 263.3L107.0 267.5M241.6 130.8L258.3 83.6M241.6 130.8L259.9 121.7M97.4 95.4L131.4 112.2M73.1 269.6L52.7 256.0M210.7 171.4L198.2 145.0M104.1 72.8L97.3 75.2M245.2 218.8L224.7 260.8M70.5 238.4L76.1 253.2M55.6 212.4L31.3 232.5M61.8 123.7L70.9 95.7M227.7 92.4L250.2 92.9M227.7 92.4L227.6 73.3M245.0 244.3L198.5 271.9M144.9 208.2L156.4 216.8M72.7 145.6L110.2 133.7M39.7 167.2L132.6 37.6M161.9 267.0L128.8 242.8M224.1 227.1L237.6 178.1M108.1 136.4L109.0 164.0M110.0 183.5L122.8 179.6M25.2 208.3L21.6 177.0M32.5 122.7L30.4 118.4M148.3 107.6L136.7 92.7M265.8 153.0L271.2 128.6M97.1 199.4L246.9 162.8M250.0 133.3L255.6 159.2M153.3 248.8L172.6 269.1M255.5 170.5L272.9 158.5M121.0 68.7L139.3 57.7M231.8 87.7L238.7 87.6M220.5 82.7L233.7 89.2M259.5 95.3L262.3 90.6M206.0 266.0L174.3 294.4M79.1 263.4L91.3 256.5M135.1 24.7L133.1 36.5M140.0 126.6L100.9 92.8M106.9 130.1L110.2 133.7M25.9 122.0L21.4 136.1M247.8 247.5L212.4 245.6M112.0 93.0L254.6 100.6M179.8 250.6L177.1 278.1M203.3 67.4L170.1 43.1M164.5 176.0L178.7 201.8M242.7 240.4L212.2 258.7M188.2 257.9L173.8 289.2M116.8 273.7L144.8 246.4M103.4 199.6L112.0 209.0M220.6 85.8L207.9 112.9M220.6 85.8L225.8 75.6M99.2 42.7L102.4 38.7M165.2 153.6L163.3 142.2M113.5 209.6L120.1 222.8M15.2 158.5L17.9 156.5M15.2 158.5L21.3 142.5M155.6 130.6L75.7 161.3M155.6 130.6L170.2 141.8M198.4 275.7L188.2 257.9M86.1 169.2L67.6 171.2M197.4 84.5L268.0 154.0M223.7 80.3L187.2 52.9M223.7 80.3L199.1 39.4M220.9 198.7L229.9 166.0M117.2 141.9L32.3 113.5M188.5 236.9L188.4 221.5M79.7 216.4L88.3 179.4M254.6 164.1L247.0 162.3M133.9 180.9L125.8 197.1M133.9 180.9L124.7 160.9M12.3 194.9L17.9 164.0M109.1 91.9L80.1 111.4M131.1 260.7L181.0 281.3M137.8 267.5L148.0 284.4M11.9 136.0L26.9 151.3M176.4 158.5L34.6 80.1M176.4 158.5L208.9 174.8M31.2 114.0L37.7 121.0M94.8 219.6L100.9 271.8M182.7 34.5L187.1 59.0M254.4 116.0L269.4 139.0M105.0 276.1L107.0 267.5M88.7 94.9L89.0 101.6M88.7 94.9L110.1 88.8M58.0 131.0L29.1 120.7M225.2 191.6L218.6 213.9M84.6 283.9L71.9 255.2M58.0 170.3L96.6 176.7M58.0 170.3L56.3 149.9M113.0 205.9L112.0 209.0M276.5 165.9L282.5 148.2M53.6 188.0L173.5 32.2M72.3 126.0L64.9 117.3M166.0 195.8L157.3 172.3M120.0 237.6L94.8 219.6M225.1 127.2L243.2 173.9M202.1 190.9L212.0 211.5M25.1 93.0L43.5 87.6M68.9 256.9L83.4 245.7M28.6 216.8L50.5 182.9M237.4 201.4L245.4 218.6M208.7 113.9L227.2 119.4M144.8 185.5L169.0 188.6M185.3 226.1L197.8 213.8M126.2 92.8L92.0 108.5M91.6 199.8L125.8 197.1M42.1 81.6L30.0 84.0M106.0 106.4L92.0 108.5M132.2 24.0L166.5 28.1M193.8 38.1L200.9 42.0M193.8 38.1L156.5 22.8M115.2 207.7L113.0 205.9M185.8 257.2L144.8 246.4M207.2 127.8L170.2 141.8M89.4 268.2L105.7 232.4M91.1 85.5L88.7 94.9M91.1 85.5L98.5 85.9M109.2 83.1L85.4 97.2M109.2 83.1L101.9 80.1M233.5 193.0L250.0 182.5M254.0 191.7L279.3 192.5M84.4 116.5L97.8 100.5M126.4 164.6L94.0 171.2M241.8 111.4L225.6 108.1M183.9 157.0L169.3 179.7M55.3 81.1L63.9 58.9M123.2 202.0L113.0 205.9M178.2 208.1L193.3 198.8M151.1 113.3L148.4 99.3M151.1 113.3L136.1 98.2M39.7 133.7L11.9 136.0M39.7 133.7L38.3 143.3M37.7 121.0L30.9 96.7M78.1 109.7L84.4 116.5M141.8 84.6L141.0 62.8M116.5 40.5L97.5 44.2M159.3 79.1L51.7 66.8M159.3 79.1L168.6 87.0M165.5 23.8L151.8 29.8M12.2 140.3L19.9 142.1M12.2 140.3L21.4 136.1M157.3 172.3L163.9 167.4M147.9 113.0L148.5 126.1M201.4 169.8L212.8 144.8M240.7 197.6L233.2 224.3M85.3 138.0L55.4 128.0M228.1 127.3L200.7 111.9M160.8 184.1L177.5 178.3M158.9 87.7L182.2 47.0M247.0 148.7L232.7 166.5M89.6 95.1L119.2 179.0M89.6 95.1L60.4 113.0M176.6 66.9L148.4 99.3M176.6 66.9L205.8 68.5M86.6 278.8L115.1 235.4M86.6 278.8L79.1 263.4M240.2 235.8L201.4 232.7M250.6 205.6L240.6 190.2M250.6 205.6L92.6 212.6M39.8 235.3L36.0 244.2M245.9 199.5L135.8 81.3M33.0 231.8L63.5 227.6M252.0 121.8L256.3 130.9M252.0 121.8L246.3 86.6M158.1 233.8L166.8 233.4M153.9 227.4L142.2 201.5M104.4 292.3L127.5 284.1M218.0 268.4L24.8 178.2M198.3 103.8L225.1 127.2M147.2 32.7L142.9 35.9M128.8 242.8L104.9 259.5M207.7 259.5L205.3 44.8M66.4 104.0L27.5 92.3M30.5 97.2L52.8 119.7M30.5 97.2L30.1 94.3M178.8 287.3L174.3 294.4M178.8 287.3L204.5 277.2M188.2 111.1L164.3 130.0M138.3 185.0L154.3 151.3M279.1 167.9L275.2 180.9M216.7 258.3L204.5 277.2M126.7 117.0L103.4 105.5M126.7 117.0L108.1 136.4M74.6 273.2L79.2 259.2M118.4 31.6L135.7 26.4M175.7 156.2L208.7 113.9M158.1 284.6L153.2 279.7M158.1 284.6L172.6 265.6M134.2 130.4L148.3 107.6M74.1 157.8L86.5 174.9M100.3 181.3L124.7 160.9M283.3 177.3L82.1 160.0M92.8 279.9L91.0 285.7M219.1 229.1L210.0 222.2M208.4 231.5L230.0 245.2M208.4 231.5L198.3 178.6M196.6 265.8L190.6 276.0M94.0 159.8L68.6 183.4M221.5 117.7L181.6 130.7M175.8 293.7L179.8 291.3M235.6 79.1L71.9 61.5M136.8 223.1L122.4 184.6M142.2 201.5L119.2 226.0M244.8 187.5L245.9 199.5M56.5 218.3L59.9 188.1M56.5 218.3L53.4 204.7M43.9 131.1L25.9 122.0M230.2 74.8L238.5 83.2M26.0 226.8L38.8 227.3M77.3 219.0L79.7 216.4M97.1 191.1L94.0 171.2M159.1 159.9L180.6 154.8M41.4 75.8L38.3 86.2M41.4 75.8L42.7 80.1M142.7 271.3L127.5 284.1M93.6 211.1L98.9 191.7M162.8 210.0L162.7 204.1M162.8 210.0L120.1 222.8M214.8 56.1L117.7 101.4M214.8 56.1L175.8 58.2M176.2 140.5L170.6 101.6M117.2 81.3L168.4 224.3M81.6 75.6L84.6 84.3M267.8 160.7L266.4 190.6M208.1 78.3L189.8 84.6M30.0 84.0L64.0 76.7M30.0 84.0L34.6 80.1M157.0 272.3L146.4 254.3M142.2 70.3L145.8 66.7M124.5 71.2L267.2 209.1M36.0 141.7L60.4 127.8M73.2 83.5L68.3 93.6M73.2 83.5L190.6 264.4M164.6 269.9L177.0 257.4M133.5 292.6L171.8 293.5M27.7 180.1L235.9 82.6M156.4 216.8L71.1 107.0M239.7 114.0L227.2 119.4M239.7 114.0L223.9 91.4M42.9 144.4L59.8 140.2M174.3 92.8L177.6 81.1M205.7 272.4L206.0 266.0M35.8 188.1L42.2 216.6M35.8 188.1L55.4 191.5M52.0 246.9L50.5 250.4M168.4 110.7L211.8 129.9M188.4 221.5L145.1 240.0M215.8 212.6L202.1 190.9M180.0 62.1L169.3 106.8M101.5 173.6L233.2 161.4M101.5 173.6L97.1 191.1M36.0 244.7L36.1 211.1M113.2 68.8L78.5 89.9M113.2 68.8L80.2 107.5M21.6 177.0L44.1 152.6M149.3 100.9L158.9 87.7M108.4 79.9L112.0 93.0M73.8 150.6L69.6 115.6M129.4 175.4L279.2 152.9M178.8 262.9L192.5 247.7M130.6 83.8L132.4 94.8M113.1 225.6L119.8 197.6M60.9 62.0L74.9 96.5M174.2 250.1L150.0 268.2M174.2 250.1L161.2 294.4M122.4 184.6L115.2 207.7M127.3 81.9L110.0 76.5M50.2 222.5L81.5 119.5M50.2 222.5L59.7 236.2M178.4 79.3L213.4 77.3M64.3 231.7L150.8 168.7M204.8 129.9L176.6 124.0M263.4 138.7L265.8 153.0M263.4 138.7L238.8 182.3M65.5 243.2L89.4 268.2M125.8 197.1L201.0 205.0M149.4 70.2L167.4 96.1M45.9 143.6L9.9 132.7M45.9 143.6L74.1 134.1M245.8 88.7L251.0 93.2M254.4 177.6L281.1 168.3M50.5 182.9L39.2 220.3M50.5 182.9L124.5 71.2M195.9 80.9L179.1 289.4M195.9 80.9L196.1 98.2M15.9 181.8L11.1 178.9M15.9 181.8L37.4 224.5M52.2 197.3L45.9 190.9M18.9 150.6L43.3 148.7M87.8 53.5L75.7 60.0M119.2 179.0L96.6 176.7M100.5 63.6L88.7 94.9M100.5 63.6L81.9 56.6M160.9 37.3L180.6 154.8M258.3 219.1L262.3 189.9M183.4 187.8L210.0 222.2M183.4 187.8L162.7 204.1M148.2 52.6L189.0 39.9M148.2 52.6L130.4 86.5M256.0 199.6L278.8 192.6M256.8 199.7L263.6 203.7M272.9 158.5L262.5 135.4M272.9 158.5L8.9 168.8M93.7 249.2L105.4 207.3M284.2 165.2L277.2 145.7M284.2 165.2L277.0 136.1M134.2 235.2L112.6 183.3M223.2 185.7L246.9 162.8M230.3 66.5L217.1 53.1M192.8 100.9L203.3 67.4M156.9 195.1L168.5 265.5M59.1 139.5L53.9 112.0M69.6 115.6L96.5 86.4M167.4 96.1L176.9 103.1M239.3 108.2L192.8 100.9M224.3 186.1L269.4 194.8M55.0 140.8L51.4 124.8M69.2 126.8L71.2 126.1M115.2 275.2L104.4 292.3M181.5 56.1L156.6 36.2M16.6 197.9L18.7 210.7M16.6 197.9L188.2 111.1M235.2 193.9L208.9 174.8M123.1 132.5L141.9 136.7M173.6 127.7L174.4 114.6M240.7 109.8L233.7 89.2M177.8 63.5L156.8 77.1M92.4 56.6L53.7 96.3M126.8 226.3L120.0 237.6M176.8 110.3L166.6 102.8M263.5 93.3L266.9 94.4M37.4 224.5L36.7 233.0M140.3 280.4L144.5 282.1M263.6 203.7L260.0 198.3M264.0 191.7L254.0 191.7M109.5 289.7L108.1 290.6M39.3 246.6L41.7 244.6M167.4 287.0L163.7 277.8M128.1 30.1L137.2 22.8M250.8 105.2L250.3 96.4M112.4 288.3L105.8 285.3M146.3 30.2L150.2 24.9M269.6 101.7L261.9 100.1M25.0 171.6L25.7 165.6M40.7 85.7L49.3 81.7M222.0 48.7L216.0 51.0M80.8 273.3L77.3 270.4M199.3 271.2L200.0 266.6M249.7 232.6L253.7 237.7M244.9 66.0L237.1 57.2M17.1 163.1L12.1 158.1M242.4 247.8L253.7 237.7M13.8 154.4L18.5 150.3M185.3 290.5L178.8 287.3M153.7 281.1L145.3 292.6M265.0 171.3L256.8 176.4M162.1 283.2L161.2 294.4M251.7 73.1L257.0 82.2M44.0 90.4L42.4 100.2M149.4 287.6L150.8 296.7M194.5 38.8L193.8 38.1M31.9 235.4L39.6 232.8M189.1 287.8L173.8 289.2M168.0 41.6L166.5 28.1M186.0 280.6L183.4 276.3M250.5 228.5L257.0 228.6M66.7 270.2L63.0 262.0M269.1 133.1L270.7 147.3M142.2 23.9L140.6 37.6M202.6 54.5L209.6 54.5M35.6 89.5L31.9 93.4M237.9 63.1L228.6 56.6M271.2 128.6L269.4 136.1M161.2 294.4L154.1 286.2M16.1 195.2L24.8 191.1M96.5 45.1L106.5 35.2M180.1 38.9L175.0 41.0M32.3 236.0L31.3 232.5M275.9 163.7L268.0 154.0M42.7 80.1L41.4 75.8M72.0 257.0L65.5 269.2M237.3 246.5L242.7 240.4M165.5 279.3L158.1 284.6M43.8 239.9L41.7 244.6M270.6 124.5L263.2 117.7M281.0 150.3L276.0 144.0M229.9 61.5L232.1 71.0M258.9 218.3L267.3 219.4M56.7 62.6L52.3 63.0M254.3 88.6L259.2 90.0M68.2 249.7L63.0 256.1M28.4 200.1L28.1 194.6M145.8 22.6L147.2 32.7M224.7 260.8L231.0 252.0M49.1 237.9L36.0 244.7M114.5 38.4L118.2 31.8M136.1 24.7L138.3 31.3M262.5 135.4L258.6 139.2M272.9 113.2L273.6 106.7M250.3 244.5L256.3 237.0M28.5 114.5L37.7 121.0M148.2 26.0L147.2 33.2M54.2 62.0L48.1 68.9M205.4 46.3L193.9 37.5M73.5 255.2L68.2 249.7M132.9 293.9L144.6 292.3M41.1 224.0L38.8 227.3M72.9 66.1L75.7 60.0M62.3 66.4L56.7 62.6M166.3 29.8L162.2 23.4M261.8 114.5L265.9 112.0M74.1 270.5L89.6 278.2M19.3 134.3L19.9 128.0M266.3 212.9L271.6 216.1M24.2 158.4L18.9 158.0M175.2 41.4L175.0 41.0M242.9 88.1L244.9 77.2M140.6 37.6L147.9 45.9M109.5 38.0L123.8 35.0M124.5 295.3L126.5 293.6M48.5 85.9L39.8 91.5M168.3 294.9L168.9 295.1M188.6 34.6L191.5 35.4M216.3 47.0L208.7 52.9M267.9 207.5L260.5 202.8M30.4 118.4L29.5 113.7M264.6 190.1L273.6 183.0M54.7 63.5L57.5 54.1M83.5 272.0L82.4 269.7M192.5 39.7L191.5 35.4M273.6 183.0L279.7 171.5M60.6 69.0L61.6 56.0M25.5 195.9L18.5 198.8M36.3 236.7L36.7 233.0M188.8 277.0L189.1 287.8M186.4 278.6L189.1 287.8M29.5 113.7L32.3 113.5M259.9 121.7L269.7 123.2M124.5 36.9L116.4 44.2M211.5 268.7L216.2 261.7M71.9 255.2L67.3 254.8M255.4 241.7L256.2 240.9M216.2 261.7L219.3 262.5M29.5 181.3L25.0 171.6M250.7 95.1L246.3 86.6M276.0 144.0L271.3 142.7M131.4 28.8L145.8 22.6M174.7 284.7L185.3 290.5M205.7 52.0L218.9 56.5M244.9 77.2L242.6 81.2M266.1 217.4L266.3 212.9M60.2 74.7L55.5 82.8M19.9 172.3L27.8 165.9M18.7 210.7L19.3 214.3M124.1 24.6L127.4 24.6M16.5 184.1L11.1 178.9M87.8 49.3L76.1 41.4M154.1 286.2L155.0 292.8M99.6 38.3L100.9 40.6M175.0 41.0L181.4 43.9M169.9 283.7L171.8 293.5M152.1 23.6L149.0 34.2M213.4 270.5L218.5 257.2M267.8 161.7L269.2 157.9M18.9 158.0L24.2 158.4M44.0 91.1L37.1 89.1M141.7 22.6L149.0 34.2M204.9 52.3L196.4 52.4M273.3 141.0L276.1 124.7M63.9 269.3L63.0 262.0M130.9 39.1L134.1 41.3M225.1 48.6L237.0 55.4M56.1 258.7L62.2 259.8M162.2 23.4L152.1 23.6M267.6 221.9L266.1 217.4M16.4 143.5L13.1 137.6M74.5 63.4L72.1 74.0M117.4 25.6L125.2 29.3M94.7 49.5L82.0 42.3M36.1 211.1L42.2 216.6M29.1 204.8L22.7 204.5M143.8 293.5L133.5 292.6M271.5 144.8L276.0 144.0M207.4 58.9L209.6 54.5M146.2 291.5L149.4 287.6M236.7 81.3L235.9 82.6M87.3 268.9L86.6 278.8M242.8 235.0L233.4 232.3M96.5 277.0L90.9 280.8M278.6 130.9L279.7 141.5M21.9 135.6L12.9 142.2M279.7 171.5L281.8 174.0M142.9 35.9L149.4 30.3M180.0 289.9L175.8 293.7M269.5 131.8L269.4 139.0M43.5 87.6L54.7 87.4M58.3 264.0L62.3 270.5M244.5 244.5L243.1 236.1M102.9 284.3L113.0 289.6M97.5 38.5L102.4 38.7M127.4 24.6L128.1 30.1M213.9 40.6L204.2 36.0M210.0 41.4L196.2 38.6M221.4 62.8L212.6 70.0M82.0 42.3L80.8 49.2M281.1 168.3L280.2 158.4M258.3 83.6L249.4 90.5M77.0 52.4L87.5 54.5M74.3 45.0L82.8 48.6M277.2 145.7L282.5 145.3M267.3 171.3L275.9 163.7M225.6 254.2L218.5 257.2M10.9 140.3L12.2 140.3M161.8 290.0L155.0 292.8M62.2 259.8L64.4 256.3M264.5 110.1L252.6 110.0M267.5 218.6L267.2 224.3M231.6 53.7L226.7 47.4M267.2 115.2L272.9 113.2M235.1 58.5L232.1 71.0M261.9 100.1L268.3 97.3M130.0 24.0L135.7 26.4M18.5 198.8L14.4 195.6M58.3 264.4L65.5 269.2M275.4 147.1L269.5 131.8M274.8 180.0L266.6 190.6M46.0 82.5L49.3 81.7M263.2 118.3L272.9 113.2M174.3 294.4L168.3 294.9M19.8 210.9L33.5 204.6M190.6 276.0L193.4 273.4M42.4 100.2L30.1 94.3M43.3 232.7L39.6 232.8M265.1 169.5L268.2 161.3M159.8 289.4L164.5 286.3M48.3 66.9L57.5 54.1M214.0 43.2L217.1 53.1M276.6 159.7L280.2 158.4M76.3 265.1L68.9 256.9M276.8 179.0L279.6 177.7M210.2 264.2L219.3 262.5M273.4 160.1L274.5 165.3M30.2 112.6L30.9 117.8M232.6 241.9L242.7 240.4M249.7 70.3L237.9 63.1M33.8 93.1L31.9 93.4M44.3 225.5L40.0 226.0M113.0 289.6L105.8 285.3M269.1 133.1L275.0 133.8M228.6 56.6L233.6 52.9M53.5 75.1L49.7 71.4M74.1 62.5L69.9 60.2M105.1 290.8L106.2 297.0M250.7 95.1L255.7 89.6M262.5 214.7L266.7 216.4M18.5 198.8L11.2 203.9M100.9 40.6L98.8 35.7M56.1 258.7L50.2 262.9M164.9 40.6L167.7 33.2M134.5 292.0L134.6 298.4M99.6 38.3L95.5 31.7M23.1 169.0L18.1 170.3M30.4 118.4L25.6 117.6M273.8 125.2L279.5 121.4M29.5 113.7L25.9 113.2M52.9 86.4L46.0 82.7M44.3 225.5L36.6 228.4M34.6 80.1L30.4 75.7M197.0 268.1L199.4 271.3M147.3 283.1L146.3 290.0M205.4 46.3L207.0 42.7M189.8 37.0L193.7 31.9M266.1 217.4L273.7 220.6M274.6 114.5L280.4 115.1M188.6 34.6L191.9 29.0M18.7 110.3L12.7 105.8M175.0 41.0L175.2 37.2M281.0 150.3L284.9 151.1M64.0 65.4L62.8 61.3M248.7 90.0L252.0 88.0M138.3 31.3L138.7 27.6M258.9 108.8L266.8 106.6M211.9 41.3L215.2 37.1M22.8 218.9L18.9 220.6M237.3 246.5L241.6 252.6M175.2 41.4L176.9 38.2M54.2 62.0L51.8 55.3M10.4 136.6L2.4 136.7M94.7 49.5L92.9 44.0M24.8 191.1L19.9 193.9M81.9 56.6L80.1 49.5M279.6 177.7L288.0 177.6M222.0 48.7L223.7 40.2M30.9 117.8L25.7 112.5M29.1 204.8L24.9 207.0M18.5 150.3L10.8 152.2M32.3 236.0L26.9 237.8M250.3 96.4L255.5 90.6M243.4 65.4L250.8 61.2M10.9 140.3L2.7 139.2M140.3 280.4L139.8 288.3M267.9 207.5L274.2 206.8M268.9 156.7L275.9 158.7M89.6 278.2L84.1 282.3M36.1 211.1L30.0 215.4M102.9 284.3L98.3 289.9M242.8 235.0L245.4 237.7M63.9 269.3L63.2 274.0M260.0 198.3L267.7 199.6M24.3 223.1L21.5 225.5M72.1 55.2L68.0 51.9M106.5 35.2L107.1 26.5M126.5 293.6L126.9 300.5M75.5 44.0L72.5 39.9M180.1 38.9L182.4 36.3M276.0 144.0L283.7 144.4M127.8 280.6L125.1 286.7M266.3 212.9L271.7 218.8M149.4 287.6L149.0 291.3M43.5 87.6L41.1 83.9M26.9 151.3L21.9 152.7M159.8 289.4L160.3 294.7M142.9 35.9L142.4 30.7M181.7 36.0L181.8 28.6M148.2 26.0L148.9 22.3M41.1 224.0L36.7 224.7M232.6 241.9L239.1 246.1M186.4 278.6L186.2 287.3M267.0 105.2L273.4 104.9M14.5 135.5L8.0 131.1M27.4 96.2L21.4 89.6M281.8 174.0L287.0 177.2M14.4 195.6L7.1 197.8M77.8 268.0L72.0 272.7M229.9 61.5L232.0 58.2M25.1 158.6L17.3 161.7M128.1 30.1L129.1 26.6M123.8 35.0L121.7 28.5M282.5 145.3L286.3 144.9M82.8 48.6L81.7 41.7M275.2 124.2L281.7 121.5M273.3 141.0L279.8 142.6M29.1 120.7L23.7 120.0M32.6 93.0L27.7 87.2M210.2 264.2L215.7 270.7M83.5 272.0L78.3 279.4M107.1 286.2L104.6 289.1M16.5 184.1L13.1 185.0M64.2 254.4L59.9 256.2M151.8 29.8L150.2 23.5M42.2 241.6L35.3 243.2M87.3 268.9L81.9 273.6M190.6 276.0L192.4 281.7M58.9 241.3L56.1 243.5M113.0 289.6L114.1 298.5M11.1 178.9L6.5 181.1M221.3 257.2L225.9 263.3M30.1 94.3L22.3 93.4M181.0 281.3L181.6 285.0M258.3 83.6L264.8 77.8M17.3 176.5L12.9 176.0M191.5 35.4L193.3 31.9M74.3 45.0L71.1 40.8M276.8 179.0L281.9 182.8M242.6 81.2L245.9 79.7M46.4 254.9L40.1 257.5M66.6 50.7L61.1 44.8M96.5 45.1L96.5 40.7M36.3 243.0L33.2 249.4M43.8 239.9L39.9 241.1M174.3 294.4L174.8 298.2M144.5 282.1L147.1 287.8M261.9 100.1L270.1 99.5M24.4 96.3L18.7 91.6M130.9 39.1L128.5 33.5M46.0 82.5L41.6 81.1M168.0 41.6L167.1 35.8M70.0 45.8L66.3 43.7M279.3 192.5L285.5 195.3M97.5 44.2L94.6 40.5M154.5 278.2L154.3 282.0M112.4 288.3L108.4 295.2M161.2 294.4L159.9 298.6M264.0 191.7L269.5 195.0M63.1 67.2L56.3 62.9M26.6 109.7L22.2 109.2M19.9 172.3L15.8 171.8M258.9 218.3L265.0 221.2M39.3 246.6L34.7 253.2M148.0 284.4L148.6 290.7M171.5 43.4L172.2 39.9M66.7 270.2L59.8 274.8M143.8 293.5L144.1 298.8M271.5 144.8L275.7 142.8M82.9 55.4L80.2 50.3M72.0 257.0L65.1 262.8M278.6 130.9L286.0 127.0M249.6 236.2L254.8 239.0M263.2 118.3L269.3 114.7M239.7 59.8L242.5 56.5M219.8 45.8L222.4 42.5M265.0 171.3L270.8 170.7M249.7 232.6L254.2 238.9M144.6 292.3L144.0 298.4M162.2 23.4L161.5 17.1M150.0 284.5L150.4 290.8M147.3 294.3L147.3 299.1M262.5 135.4L267.8 133.5M130.0 24.0L127.9 20.5M265.1 169.5L270.2 171.1M180.3 275.4L181.0 283.5M122.7 293.8L120.8 299.5M207.4 58.9L212.4 54.7M242.9 88.1L246.4 81.1M282.5 148.2L288.7 147.5M200.0 266.6L201.9 273.6M130.0 279.7L131.5 286.7M39.8 91.5L37.4 89.0M18.9 158.0L12.1 156.6M132.6 37.6L133.0 31.9M77.0 52.4L72.5 47.5M203.8 264.7L209.4 270.3M79.2 259.2L77.6 265.5M25.0 171.6L20.0 171.4M145.3 292.6L148.3 300.5M112.6 27.1L114.1 20.3M136.1 24.7L137.4 18.9M19.7 211.5L14.5 215.2M268.5 139.0L273.7 135.1M188.8 277.0L189.1 282.3M194.5 38.8L197.5 36.0M237.9 63.1L241.3 57.1M18.7 210.7L10.9 213.3M70.0 272.9L69.1 280.7M62.3 66.4L60.3 63.5M84.0 281.2L80.2 284.5M109.5 289.7L107.2 298.0M148.3 26.0L147.9 22.1M271.3 142.7L278.2 139.6M199.3 271.2L203.1 274.8M227.6 73.3L230.3 68.0M237.1 67.1L240.5 58.9M74.5 63.4L73.5 59.4M87.2 37.4L82.5 32.9M271.2 128.6L278.7 130.4M54.7 63.5L47.5 59.9M60.6 69.0L54.7 66.8M48.1 68.9L44.9 64.1M86.1 266.3L81.7 272.3M265.4 176.0L269.5 175.2M92.7 53.8L90.3 50.7M268.9 113.1L271.7 110.7M263.6 203.7L270.8 205.1M42.4 100.2L36.4 99.0M127.8 282.4L128.9 286.9" stroke="#8e8ac8" stroke-width="0.6" stroke-dasharray="3 1.3" fill="none" opacity="1"/>
<path d="M196.1 98.2L214.8 56.1M191.9 258.8L203.8 264.7M161.1 262.3L272.9 113.2M230.8 135.4L225.6 108.1M260.2 145.8L261.1 130.9M28.9 117.5L24.4 96.3M141.9 136.7L147.5 128.1M110.2 72.4L127.7 85.6M82.1 160.0L57.5 140.9M225.8 75.6L247.5 68.0M250.4 141.9L265.1 141.3M204.8 154.3L52.7 201.7M55.2 62.2L71.9 61.5M30.1 143.6L30.5 97.2M258.0 116.9L238.4 96.5M150.8 168.7L139.2 124.7M185.0 168.7L197.9 207.6M20.5 180.1L15.0 195.2M249.7 187.4L256.0 199.6M163.6 267.7L169.9 283.7M147.3 292.8L134.5 273.7M19.9 184.5L36.1 211.1M265.4 212.5L246.6 188.6M228.9 100.8L258.0 116.9M170.4 283.4L129.8 245.3M43.8 209.3L73.5 255.2M227.3 258.8L226.2 263.1M263.1 163.5L275.3 185.4M62.2 242.0L87.1 222.1M92.7 37.6L108.9 56.4M27.5 118.5L16.5 124.8M76.6 128.9L57.5 140.9M198.5 271.9L193.4 273.4M37.1 89.1L42.1 81.6M154.3 151.3L107.3 161.7M212.4 245.6L215.8 212.6M253.7 237.7L248.4 236.5M224.4 145.8L211.8 129.9M110.5 189.4L102.2 219.4M230.0 245.2L226.2 263.1M145.9 113.9L139.3 94.9M202.3 261.2L153.2 279.7M154.9 103.9L143.0 61.5M259.5 95.3L273.6 106.7M183.0 73.1L186.1 59.3M159.3 73.0L177.8 92.1M183.7 211.5L164.6 238.7M218.0 268.4L186.5 252.8M207.7 259.5L202.3 261.2M207.8 43.2L217.9 47.5M215.8 212.6L229.1 227.8M175.4 52.0L196.2 38.6M121.7 62.8L100.0 82.9M51.1 213.8L52.2 197.3" stroke="#fdd0a2" stroke-width="0.4" fill="none"/>
<path d="M115.0 111.0L88.4 123.9M148.1 45.8L180.0 62.1M129.4 54.5L154.9 103.9M149.3 100.9L177.8 98.7M101.9 80.1L110.0 76.5M110.1 88.8L71.9 61.5M127.3 81.9L114.9 74.1M146.4 44.9L145.8 66.7M159.3 73.0L182.2 47.0M97.5 44.2L121.0 68.7M160.3 58.5L114.5 38.4M112.1 99.9L101.9 80.1M125.5 86.9L139.8 85.5M97.3 75.2L110.2 87.7M163.3 66.9L168.4 110.7M132.4 94.8L141.0 62.8M90.6 56.1L134.7 54.3M108.9 56.4L68.3 93.6M88.5 93.7L109.6 56.0M99.2 42.7L94.7 49.5M105.8 74.1L92.7 53.8M110.1 88.8L97.8 100.5M115.0 48.1L124.5 36.9M132.6 37.6L158.5 25.8M118.5 113.8L92.3 101.7M133.2 34.1L164.9 40.6M87.2 83.6L100.5 63.6M156.7 51.3L135.3 63.5M141.8 84.6L112.0 93.0M133.2 34.1L118.4 31.6M141.0 92.9L161.9 52.5M156.7 51.3L110.2 87.7M104.1 72.8L161.8 91.2M88.5 93.7L75.5 110.6M96.5 45.1L62.5 49.4M92.7 53.8L74.0 56.9M88.7 91.7L136.1 98.2M144.7 98.3L187.1 59.0M123.8 35.0L125.2 29.3M97.4 95.4L98.5 85.9M156.8 77.1L207.8 65.6M135.3 63.5L141.8 84.6M162.0 70.6L151.1 113.3M106.1 54.1L75.7 60.0M148.4 99.3L137.2 92.4M110.1 88.8L121.9 56.2M156.7 51.3L167.8 67.9M88.7 94.9L105.4 137.2M116.9 97.2L130.0 95.1M148.4 99.3L145.3 130.5M89.6 95.1L78.1 109.7M205.8 68.5L201.6 72.0M212.6 70.0L205.8 68.5M213.6 71.9L212.6 70.0M207.4 58.9L204.9 52.3M205.5 66.0L201.6 72.0M203.5 68.7L197.5 69.4M91.3 256.5L97.3 228.4M36.7 233.0L43.3 232.7M39.6 232.8L36.7 233.0M61.9 224.9L39.6 232.8M64.4 256.3L52.0 246.9M83.7 204.1L92.6 212.6M91.3 256.5L62.3 270.5M61.9 224.9L56.9 213.5M67.3 254.8L94.6 267.6M39.6 232.8L52.7 256.0M51.1 213.8L34.1 201.0M50.5 250.4L48.4 255.3M72.0 257.0L73.1 269.6M41.1 224.0L39.2 220.3M47.2 248.0L74.6 273.2M85.0 219.6L104.9 210.7M35.6 238.8L25.8 204.7M46.4 254.9L64.4 256.3M67.9 216.9L47.7 220.2M43.3 232.7L33.2 218.6M65.9 223.7L73.6 255.8M77.8 268.0L82.4 269.7M43.3 232.7L65.5 243.2M77.1 245.8L77.4 250.6M102.2 219.4L87.6 233.3M82.4 269.7L104.4 292.3M74.0 220.6L79.6 226.5M36.3 236.7L44.8 242.7M83.6 215.4L74.3 217.5M53.7 246.7L50.5 250.4M49.1 237.9L36.0 244.7M64.9 233.2L36.3 236.7M61.9 224.9L49.4 211.2M65.5 269.2L68.8 268.4M79.1 263.4L83.5 264.9M85.2 232.8L80.4 237.8M82.6 225.7L84.6 240.7M36.0 244.7L40.0 226.0M87.1 222.1L56.5 218.3M53.7 246.7L49.4 211.2M49.1 237.9L56.9 213.5M70.5 238.4L66.6 255.6M64.9 233.2L85.2 232.8M87.3 268.9L84.0 281.2M87.1 222.1L105.7 232.4M36.3 236.7L36.0 244.2M58.3 264.0L56.1 258.7M82.6 225.7L60.3 243.9M63.5 227.6L48.4 255.3M36.3 236.7L54.9 264.3M59.5 255.6L79.2 259.2M54.9 264.3L73.1 269.6M65.3 220.0L73.0 240.1M72.0 257.0L95.3 241.4M164.6 238.7L199.3 271.2M162.7 204.1L149.7 189.0M199.5 202.5L214.3 194.5M194.5 202.3L216.5 181.6M197.8 213.8L199.4 202.5M185.7 232.9L162.8 210.0M191.1 220.0L185.8 257.2M188.2 257.9L191.9 258.8M215.0 229.9L234.9 230.0M156.1 257.6L163.9 246.9M170.5 219.8L178.7 234.5M139.8 248.3L153.6 209.9M183.7 267.1L227.5 246.8M178.7 201.8L201.0 205.0M147.2 233.9L153.9 227.4M197.0 213.9L239.6 224.3M147.2 233.9L112.0 209.0M185.7 199.2L187.5 202.5M204.2 242.2L223.0 184.9M178.7 201.8L158.1 199.0M178.7 234.5L225.5 194.7M139.8 215.0L140.4 195.1M178.7 234.5L194.2 204.8M153.3 248.8L113.0 289.6M210.0 222.2L198.6 217.5M193.9 222.5L142.8 246.8M197.9 207.6L201.0 205.0M195.9 80.9L170.6 101.6M73.2 83.5L66.4 104.0M144.0 76.0L88.5 93.7M102.2 247.7L158.1 199.0M248.6 185.1L254.4 153.5M112.0 93.0L136.9 32.5M82.6 225.7L74.6 208.7M196.8 125.0L211.8 142.6M199.4 128.9L173.6 127.7M194.5 202.3L222.3 162.4M125.0 96.8L123.1 132.5M181.2 217.1L194.2 212.6M176.4 213.1L188.4 221.5M142.2 70.3L130.4 86.5M232.7 166.5L227.4 162.0M204.2 242.2L183.7 211.5M72.0 120.3L76.6 128.9M112.6 183.3L118.4 98.9M79.0 209.1L83.6 215.4M188.1 149.4L225.1 127.2M81.5 119.5L70.9 95.7M166.6 205.5L223.1 173.7M45.9 190.9L36.3 236.7M170.7 221.4L194.5 202.3M199.6 149.0L183.9 157.0M215.8 212.6L267.2 209.1M136.7 92.7L109.6 56.0M243.5 194.1L220.7 169.9M197.0 213.9L188.5 236.9M191.3 88.2L166.6 102.8M121.1 125.3L74.1 62.5M150.8 168.7L147.4 217.1M216.8 212.5L206.0 266.0M168.4 224.3L165.5 221.3M53.4 204.7L41.7 244.6M86.6 237.8L131.4 232.0M112.6 183.3L132.9 178.8M154.3 151.3L188.1 149.4M79.3 174.8L86.6 237.8M193.7 169.1L174.3 92.8M85.4 97.2L63.7 73.9M157.3 172.3L166.3 187.6M88.7 94.9L96.4 95.6M216.8 212.5L226.7 212.4M239.9 162.4L226.7 122.2M140.2 114.7L140.0 126.6M184.0 85.9L221.6 135.9M146.7 238.0L138.6 255.2M230.0 169.6L221.6 135.9M185.5 188.7L194.5 202.3M76.6 128.9L84.6 84.3M163.8 211.9L120.9 249.3M177.8 98.7L195.5 136.0M245.5 137.1L244.9 121.4M105.0 152.0L81.6 91.7M220.6 85.8L268.3 97.3M219.1 229.1L206.0 266.0M176.9 242.6L198.6 217.5M219.4 119.8L263.2 117.7M121.9 56.2L137.2 22.8M123.1 132.5L67.6 171.2M215.5 226.6L247.4 237.7M102.1 210.6L103.4 199.6M176.8 110.3L232.1 71.0M196.7 196.9L199.4 202.5M250.0 133.3L245.5 137.1M151.2 235.4L194.1 230.3M223.7 80.3L212.3 90.5M127.3 250.5L178.5 180.5M162.0 70.6L169.3 106.8M199.4 202.5L206.5 206.8M96.0 214.6L47.7 220.2M146.3 236.6L160.0 175.0M150.7 80.5L161.9 52.5M241.8 111.4L235.6 79.1M74.0 220.6L64.4 256.3M149.0 232.4L178.7 234.5M127.3 250.5L80.4 237.8M59.9 188.1L34.6 149.1M177.6 168.2L162.8 210.0M201.4 169.8L137.9 194.8M160.8 184.1L181.2 217.1M211.8 228.7L237.3 246.5M149.4 127.3L163.3 142.2M137.9 194.8L126.2 191.2M170.2 141.8L174.0 112.6M164.3 250.2L185.7 232.9M169.3 106.8L195.9 80.9M215.8 212.6L226.0 235.5M71.2 126.1L81.6 91.7M141.9 136.7L167.4 96.1M132.0 250.9L115.7 249.3M178.4 79.3L141.0 62.8M144.6 124.5L101.6 121.3M200.5 74L207 55M200.5 74L210 56M200.5 74L213 58M200.5 74L216 61M200.5 74L217 65M200.5 74L216 69M200.5 74L212 71M207 55L217 65M210 56L216 69M203 60L207 55M203 60L200.5 74" stroke="#41ab5d" stroke-width="0.9" fill="none"/>
<path d="M270.2 241.2L278.6 241.2M280.5 247.6L281.7 254.8M261.9 252.4L267.9 258.3M251.2 261.9L258.3 260M275 261.9L279.8 266.7M240 271.4L247.1 271.9M258.3 273.8L266.7 275M273.8 272.6L280.5 277.4M250 280.5L259.5 282.1L266.7 283.3M236.9 285.2L243.3 291.7L249.5 297.6M216.2 294L225 292.4L227.4 283.3M254.8 292.9L256 297M264.3 295.7L271.4 292.9L278.6 288.1M232 278L236 281" stroke="#8e8ac8" stroke-width="0.6" stroke-dasharray="1.5 1" fill="none"/>
<path d="M117.8 213.1a1.6 1.6 0 1 0 3.2 0a1.6 1.6 0 1 0 -3.2 0M119.5 125.3a1.6 1.6 0 1 0 3.2 0a1.6 1.6 0 1 0 -3.2 0M240.1 196.5a1.6 1.6 0 1 0 3.2 0a1.6 1.6 0 1 0 -3.2 0M237.2 182.3a1.6 1.6 0 1 0 3.2 0a1.6 1.6 0 1 0 -3.2 0M187.1 180.1a1.6 1.6 0 1 0 3.2 0a1.6 1.6 0 1 0 -3.2 0M49.9 62.6a1.6 1.6 0 1 0 3.2 0a1.6 1.6 0 1 0 -3.2 0M63.3 117.3a1.6 1.6 0 1 0 3.2 0a1.6 1.6 0 1 0 -3.2 0M179.0 154.8a1.6 1.6 0 1 0 3.2 0a1.6 1.6 0 1 0 -3.2 0M190.3 258.8a1.6 1.6 0 1 0 3.2 0a1.6 1.6 0 1 0 -3.2 0M87.1 91.7a1.6 1.6 0 1 0 3.2 0a1.6 1.6 0 1 0 -3.2 0M106.2 148.2a1.6 1.6 0 1 0 3.2 0a1.6 1.6 0 1 0 -3.2 0M101.5 260.5a1.6 1.6 0 1 0 3.2 0a1.6 1.6 0 1 0 -3.2 0M148.4 268.2a1.6 1.6 0 1 0 3.2 0a1.6 1.6 0 1 0 -3.2 0M15.1 139.4a1.6 1.6 0 1 0 3.2 0a1.6 1.6 0 1 0 -3.2 0M134.2 81.3a1.6 1.6 0 1 0 3.2 0a1.6 1.6 0 1 0 -3.2 0M197.1 153.4a1.6 1.6 0 1 0 3.2 0a1.6 1.6 0 1 0 -3.2 0M37.6 220.3a1.6 1.6 0 1 0 3.2 0a1.6 1.6 0 1 0 -3.2 0M202.6 242.2a1.6 1.6 0 1 0 3.2 0a1.6 1.6 0 1 0 -3.2 0M256.8 188.3a1.6 1.6 0 1 0 3.2 0a1.6 1.6 0 1 0 -3.2 0M217.0 45.6a1.6 1.6 0 1 0 3.2 0a1.6 1.6 0 1 0 -3.2 0M30.3 178.7a1.6 1.6 0 1 0 3.2 0a1.6 1.6 0 1 0 -3.2 0M254.4 204.1a1.6 1.6 0 1 0 3.2 0a1.6 1.6 0 1 0 -3.2 0M60.9 49.4a1.6 1.6 0 1 0 3.2 0a1.6 1.6 0 1 0 -3.2 0M178.9 89.0a1.6 1.6 0 1 0 3.2 0a1.6 1.6 0 1 0 -3.2 0M241.6 173.9a1.6 1.6 0 1 0 3.2 0a1.6 1.6 0 1 0 -3.2 0M259.5 204.7a1.6 1.6 0 1 0 3.2 0a1.6 1.6 0 1 0 -3.2 0M195.4 213.9a1.6 1.6 0 1 0 3.2 0a1.6 1.6 0 1 0 -3.2 0M229.2 207.0a1.6 1.6 0 1 0 3.2 0a1.6 1.6 0 1 0 -3.2 0M199.3 42.0a1.6 1.6 0 1 0 3.2 0a1.6 1.6 0 1 0 -3.2 0M127.8 252.1a1.6 1.6 0 1 0 3.2 0a1.6 1.6 0 1 0 -3.2 0M201.7 144.4a1.6 1.6 0 1 0 3.2 0a1.6 1.6 0 1 0 -3.2 0M176.6 224.4a1.6 1.6 0 1 0 3.2 0a1.6 1.6 0 1 0 -3.2 0M79.9 119.5a1.6 1.6 0 1 0 3.2 0a1.6 1.6 0 1 0 -3.2 0M238.3 162.4a1.6 1.6 0 1 0 3.2 0a1.6 1.6 0 1 0 -3.2 0M71.1 238.8a1.6 1.6 0 1 0 3.2 0a1.6 1.6 0 1 0 -3.2 0M257.0 125.8a1.6 1.6 0 1 0 3.2 0a1.6 1.6 0 1 0 -3.2 0M33.0 149.1a1.6 1.6 0 1 0 3.2 0a1.6 1.6 0 1 0 -3.2 0M182.6 175.7a1.6 1.6 0 1 0 3.2 0a1.6 1.6 0 1 0 -3.2 0M160.1 219.3a1.6 1.6 0 1 0 3.2 0a1.6 1.6 0 1 0 -3.2 0M124.6 191.2a1.6 1.6 0 1 0 3.2 0a1.6 1.6 0 1 0 -3.2 0M203.8 160.1a1.6 1.6 0 1 0 3.2 0a1.6 1.6 0 1 0 -3.2 0M215.2 212.5a1.6 1.6 0 1 0 3.2 0a1.6 1.6 0 1 0 -3.2 0M100.0 121.3a1.6 1.6 0 1 0 3.2 0a1.6 1.6 0 1 0 -3.2 0M143.2 246.4a1.6 1.6 0 1 0 3.2 0a1.6 1.6 0 1 0 -3.2 0M108.8 200.8a1.6 1.6 0 1 0 3.2 0a1.6 1.6 0 1 0 -3.2 0M225.1 47.4a1.6 1.6 0 1 0 3.2 0a1.6 1.6 0 1 0 -3.2 0M173.5 106.2a1.6 1.6 0 1 0 3.2 0a1.6 1.6 0 1 0 -3.2 0M278.9 179.7a1.6 1.6 0 1 0 3.2 0a1.6 1.6 0 1 0 -3.2 0M86.7 149.7a1.6 1.6 0 1 0 3.2 0a1.6 1.6 0 1 0 -3.2 0M8.9 135.8a1.6 1.6 0 1 0 3.2 0a1.6 1.6 0 1 0 -3.2 0M221.6 70.6a1.6 1.6 0 1 0 3.2 0a1.6 1.6 0 1 0 -3.2 0M22.8 134.7a1.6 1.6 0 1 0 3.2 0a1.6 1.6 0 1 0 -3.2 0M196.4 32.1a1.6 1.6 0 1 0 3.2 0a1.6 1.6 0 1 0 -3.2 0M220.2 59.2a1.6 1.6 0 1 0 3.2 0a1.6 1.6 0 1 0 -3.2 0M159.5 262.3a1.6 1.6 0 1 0 3.2 0a1.6 1.6 0 1 0 -3.2 0M221.5 173.7a1.6 1.6 0 1 0 3.2 0a1.6 1.6 0 1 0 -3.2 0M137.6 277.6a1.6 1.6 0 1 0 3.2 0a1.6 1.6 0 1 0 -3.2 0M272.0 106.7a1.6 1.6 0 1 0 3.2 0a1.6 1.6 0 1 0 -3.2 0M229.2 135.4a1.6 1.6 0 1 0 3.2 0a1.6 1.6 0 1 0 -3.2 0M157.6 230.1a1.6 1.6 0 1 0 3.2 0a1.6 1.6 0 1 0 -3.2 0M50.1 66.8a1.6 1.6 0 1 0 3.2 0a1.6 1.6 0 1 0 -3.2 0M72.4 56.9a1.6 1.6 0 1 0 3.2 0a1.6 1.6 0 1 0 -3.2 0M249.4 93.2a1.6 1.6 0 1 0 3.2 0a1.6 1.6 0 1 0 -3.2 0M144.5 60.3a1.6 1.6 0 1 0 3.2 0a1.6 1.6 0 1 0 -3.2 0M198.6 272.6a1.6 1.6 0 1 0 3.2 0a1.6 1.6 0 1 0 -3.2 0M82.1 269.2a1.6 1.6 0 1 0 3.2 0a1.6 1.6 0 1 0 -3.2 0M234.6 143.8a1.6 1.6 0 1 0 3.2 0a1.6 1.6 0 1 0 -3.2 0M34.0 238.8a1.6 1.6 0 1 0 3.2 0a1.6 1.6 0 1 0 -3.2 0M134.5 98.2a1.6 1.6 0 1 0 3.2 0a1.6 1.6 0 1 0 -3.2 0M185.9 202.5a1.6 1.6 0 1 0 3.2 0a1.6 1.6 0 1 0 -3.2 0M248.7 89.0a1.6 1.6 0 1 0 3.2 0a1.6 1.6 0 1 0 -3.2 0M258.6 145.8a1.6 1.6 0 1 0 3.2 0a1.6 1.6 0 1 0 -3.2 0M81.8 245.7a1.6 1.6 0 1 0 3.2 0a1.6 1.6 0 1 0 -3.2 0M176.2 98.7a1.6 1.6 0 1 0 3.2 0a1.6 1.6 0 1 0 -3.2 0M150.9 269.1a1.6 1.6 0 1 0 3.2 0a1.6 1.6 0 1 0 -3.2 0M29.4 93.6a1.6 1.6 0 1 0 3.2 0a1.6 1.6 0 1 0 -3.2 0M39.8 158.9a1.6 1.6 0 1 0 3.2 0a1.6 1.6 0 1 0 -3.2 0M121.5 156.6a1.6 1.6 0 1 0 3.2 0a1.6 1.6 0 1 0 -3.2 0M84.2 183.8a1.6 1.6 0 1 0 3.2 0a1.6 1.6 0 1 0 -3.2 0M190.9 247.7a1.6 1.6 0 1 0 3.2 0a1.6 1.6 0 1 0 -3.2 0M127.8 54.5a1.6 1.6 0 1 0 3.2 0a1.6 1.6 0 1 0 -3.2 0M96.9 251.9a1.6 1.6 0 1 0 3.2 0a1.6 1.6 0 1 0 -3.2 0M27.3 117.5a1.6 1.6 0 1 0 3.2 0a1.6 1.6 0 1 0 -3.2 0M145.1 238.0a1.6 1.6 0 1 0 3.2 0a1.6 1.6 0 1 0 -3.2 0M158.7 58.5a1.6 1.6 0 1 0 3.2 0a1.6 1.6 0 1 0 -3.2 0M30.7 113.5a1.6 1.6 0 1 0 3.2 0a1.6 1.6 0 1 0 -3.2 0M226.6 109.6a1.6 1.6 0 1 0 3.2 0a1.6 1.6 0 1 0 -3.2 0M26.9 151.0a1.6 1.6 0 1 0 3.2 0a1.6 1.6 0 1 0 -3.2 0M44.3 190.9a1.6 1.6 0 1 0 3.2 0a1.6 1.6 0 1 0 -3.2 0M10.4 178.6a1.6 1.6 0 1 0 3.2 0a1.6 1.6 0 1 0 -3.2 0M103.3 35.6a1.6 1.6 0 1 0 3.2 0a1.6 1.6 0 1 0 -3.2 0M215.2 133.1a1.6 1.6 0 1 0 3.2 0a1.6 1.6 0 1 0 -3.2 0M18.4 110.5a1.6 1.6 0 1 0 3.2 0a1.6 1.6 0 1 0 -3.2 0M213.9 226.6a1.6 1.6 0 1 0 3.2 0a1.6 1.6 0 1 0 -3.2 0M210.1 192.2a1.6 1.6 0 1 0 3.2 0a1.6 1.6 0 1 0 -3.2 0M248.4 211.5a1.6 1.6 0 1 0 3.2 0a1.6 1.6 0 1 0 -3.2 0M172.4 30.6a1.6 1.6 0 1 0 3.2 0a1.6 1.6 0 1 0 -3.2 0M212.0 258.7a1.6 1.6 0 1 0 3.2 0a1.6 1.6 0 1 0 -3.2 0M245.9 68.0a1.6 1.6 0 1 0 3.2 0a1.6 1.6 0 1 0 -3.2 0M170.2 293.5a1.6 1.6 0 1 0 3.2 0a1.6 1.6 0 1 0 -3.2 0M63.7 220.0a1.6 1.6 0 1 0 3.2 0a1.6 1.6 0 1 0 -3.2 0M194.7 240.9a1.6 1.6 0 1 0 3.2 0a1.6 1.6 0 1 0 -3.2 0M59.4 151.6a1.6 1.6 0 1 0 3.2 0a1.6 1.6 0 1 0 -3.2 0M172.2 238.3a1.6 1.6 0 1 0 3.2 0a1.6 1.6 0 1 0 -3.2 0M228.4 169.6a1.6 1.6 0 1 0 3.2 0a1.6 1.6 0 1 0 -3.2 0M71.2 87.8a1.6 1.6 0 1 0 3.2 0a1.6 1.6 0 1 0 -3.2 0M271.4 214.3a1.6 1.6 0 1 0 3.2 0a1.6 1.6 0 1 0 -3.2 0M204.9 206.8a1.6 1.6 0 1 0 3.2 0a1.6 1.6 0 1 0 -3.2 0M264.8 190.6a1.6 1.6 0 1 0 3.2 0a1.6 1.6 0 1 0 -3.2 0M26.7 222.6a1.6 1.6 0 1 0 3.2 0a1.6 1.6 0 1 0 -3.2 0M176.2 91.4a1.6 1.6 0 1 0 3.2 0a1.6 1.6 0 1 0 -3.2 0M37.4 109.2a1.6 1.6 0 1 0 3.2 0a1.6 1.6 0 1 0 -3.2 0M176.9 180.5a1.6 1.6 0 1 0 3.2 0a1.6 1.6 0 1 0 -3.2 0M108.6 72.4a1.6 1.6 0 1 0 3.2 0a1.6 1.6 0 1 0 -3.2 0M265.7 219.4a1.6 1.6 0 1 0 3.2 0a1.6 1.6 0 1 0 -3.2 0M60.9 65.9a1.6 1.6 0 1 0 3.2 0a1.6 1.6 0 1 0 -3.2 0M263.2 212.9a1.6 1.6 0 1 0 3.2 0a1.6 1.6 0 1 0 -3.2 0M62.5 184.5a1.6 1.6 0 1 0 3.2 0a1.6 1.6 0 1 0 -3.2 0M208.7 181.1a1.6 1.6 0 1 0 3.2 0a1.6 1.6 0 1 0 -3.2 0M149.1 80.5a1.6 1.6 0 1 0 3.2 0a1.6 1.6 0 1 0 -3.2 0M80.5 160.0a1.6 1.6 0 1 0 3.2 0a1.6 1.6 0 1 0 -3.2 0M131.3 178.8a1.6 1.6 0 1 0 3.2 0a1.6 1.6 0 1 0 -3.2 0M144.3 181.2a1.6 1.6 0 1 0 3.2 0a1.6 1.6 0 1 0 -3.2 0M133.1 54.3a1.6 1.6 0 1 0 3.2 0a1.6 1.6 0 1 0 -3.2 0M190.9 139.8a1.6 1.6 0 1 0 3.2 0a1.6 1.6 0 1 0 -3.2 0M16.3 164.0a1.6 1.6 0 1 0 3.2 0a1.6 1.6 0 1 0 -3.2 0M64.3 223.7a1.6 1.6 0 1 0 3.2 0a1.6 1.6 0 1 0 -3.2 0M113.9 50.8a1.6 1.6 0 1 0 3.2 0a1.6 1.6 0 1 0 -3.2 0M196.7 178.6a1.6 1.6 0 1 0 3.2 0a1.6 1.6 0 1 0 -3.2 0M254.1 212.2a1.6 1.6 0 1 0 3.2 0a1.6 1.6 0 1 0 -3.2 0M255.3 225.1a1.6 1.6 0 1 0 3.2 0a1.6 1.6 0 1 0 -3.2 0M197.4 240.8a1.6 1.6 0 1 0 3.2 0a1.6 1.6 0 1 0 -3.2 0M149.2 296.7a1.6 1.6 0 1 0 3.2 0a1.6 1.6 0 1 0 -3.2 0M112.5 241.3a1.6 1.6 0 1 0 3.2 0a1.6 1.6 0 1 0 -3.2 0M234.5 160.6a1.6 1.6 0 1 0 3.2 0a1.6 1.6 0 1 0 -3.2 0M43.7 176.2a1.6 1.6 0 1 0 3.2 0a1.6 1.6 0 1 0 -3.2 0M175.4 257.4a1.6 1.6 0 1 0 3.2 0a1.6 1.6 0 1 0 -3.2 0M220.7 162.4a1.6 1.6 0 1 0 3.2 0a1.6 1.6 0 1 0 -3.2 0M222.1 209.2a1.6 1.6 0 1 0 3.2 0a1.6 1.6 0 1 0 -3.2 0M168.7 166.5a1.6 1.6 0 1 0 3.2 0a1.6 1.6 0 1 0 -3.2 0M120.3 228.0a1.6 1.6 0 1 0 3.2 0a1.6 1.6 0 1 0 -3.2 0M144.8 44.9a1.6 1.6 0 1 0 3.2 0a1.6 1.6 0 1 0 -3.2 0M116.6 31.8a1.6 1.6 0 1 0 3.2 0a1.6 1.6 0 1 0 -3.2 0M79.9 213.7a1.6 1.6 0 1 0 3.2 0a1.6 1.6 0 1 0 -3.2 0M126.0 47.5a1.6 1.6 0 1 0 3.2 0a1.6 1.6 0 1 0 -3.2 0M267.8 194.8a1.6 1.6 0 1 0 3.2 0a1.6 1.6 0 1 0 -3.2 0M232.1 89.2a1.6 1.6 0 1 0 3.2 0a1.6 1.6 0 1 0 -3.2 0M16.3 156.5a1.6 1.6 0 1 0 3.2 0a1.6 1.6 0 1 0 -3.2 0M187.4 39.9a1.6 1.6 0 1 0 3.2 0a1.6 1.6 0 1 0 -3.2 0M96.2 52.4a1.6 1.6 0 1 0 3.2 0a1.6 1.6 0 1 0 -3.2 0M203.3 225.2a1.6 1.6 0 1 0 3.2 0a1.6 1.6 0 1 0 -3.2 0M39.2 119.5a1.6 1.6 0 1 0 3.2 0a1.6 1.6 0 1 0 -3.2 0M133.8 160.7a1.6 1.6 0 1 0 3.2 0a1.6 1.6 0 1 0 -3.2 0M180.4 43.4a1.6 1.6 0 1 0 3.2 0a1.6 1.6 0 1 0 -3.2 0M39.5 158.0a1.6 1.6 0 1 0 3.2 0a1.6 1.6 0 1 0 -3.2 0M122.3 125.5a1.6 1.6 0 1 0 3.2 0a1.6 1.6 0 1 0 -3.2 0M135.6 92.4a1.6 1.6 0 1 0 3.2 0a1.6 1.6 0 1 0 -3.2 0M135.6 22.8a1.6 1.6 0 1 0 3.2 0a1.6 1.6 0 1 0 -3.2 0M156.3 48.8a1.6 1.6 0 1 0 3.2 0a1.6 1.6 0 1 0 -3.2 0M117.0 125.6a1.6 1.6 0 1 0 3.2 0a1.6 1.6 0 1 0 -3.2 0M140.9 78.7a1.6 1.6 0 1 0 3.2 0a1.6 1.6 0 1 0 -3.2 0M126.8 152.0a1.6 1.6 0 1 0 3.2 0a1.6 1.6 0 1 0 -3.2 0M215.8 188.6a1.6 1.6 0 1 0 3.2 0a1.6 1.6 0 1 0 -3.2 0M89.0 56.1a1.6 1.6 0 1 0 3.2 0a1.6 1.6 0 1 0 -3.2 0M108.5 88.8a1.6 1.6 0 1 0 3.2 0a1.6 1.6 0 1 0 -3.2 0M197.2 118.3a1.6 1.6 0 1 0 3.2 0a1.6 1.6 0 1 0 -3.2 0M241.7 170.7a1.6 1.6 0 1 0 3.2 0a1.6 1.6 0 1 0 -3.2 0M202.6 36.0a1.6 1.6 0 1 0 3.2 0a1.6 1.6 0 1 0 -3.2 0M71.3 184.0a1.6 1.6 0 1 0 3.2 0a1.6 1.6 0 1 0 -3.2 0M178.2 291.3a1.6 1.6 0 1 0 3.2 0a1.6 1.6 0 1 0 -3.2 0M171.0 265.6a1.6 1.6 0 1 0 3.2 0a1.6 1.6 0 1 0 -3.2 0M159.9 291.5a1.6 1.6 0 1 0 3.2 0a1.6 1.6 0 1 0 -3.2 0M118.1 162.3a1.6 1.6 0 1 0 3.2 0a1.6 1.6 0 1 0 -3.2 0M245.4 162.3a1.6 1.6 0 1 0 3.2 0a1.6 1.6 0 1 0 -3.2 0M67.2 184.7a1.6 1.6 0 1 0 3.2 0a1.6 1.6 0 1 0 -3.2 0M92.6 277.6a1.6 1.6 0 1 0 3.2 0a1.6 1.6 0 1 0 -3.2 0M266.6 161.3a1.6 1.6 0 1 0 3.2 0a1.6 1.6 0 1 0 -3.2 0M209.3 113.8a1.6 1.6 0 1 0 3.2 0a1.6 1.6 0 1 0 -3.2 0M81.0 225.7a1.6 1.6 0 1 0 3.2 0a1.6 1.6 0 1 0 -3.2 0M254.0 159.2a1.6 1.6 0 1 0 3.2 0a1.6 1.6 0 1 0 -3.2 0M83.6 232.8a1.6 1.6 0 1 0 3.2 0a1.6 1.6 0 1 0 -3.2 0M138.8 195.1a1.6 1.6 0 1 0 3.2 0a1.6 1.6 0 1 0 -3.2 0M247.3 236.4a1.6 1.6 0 1 0 3.2 0a1.6 1.6 0 1 0 -3.2 0M144.7 236.6a1.6 1.6 0 1 0 3.2 0a1.6 1.6 0 1 0 -3.2 0M78.7 155.5a1.6 1.6 0 1 0 3.2 0a1.6 1.6 0 1 0 -3.2 0M49.1 257.3a1.6 1.6 0 1 0 3.2 0a1.6 1.6 0 1 0 -3.2 0M238.9 75.9a1.6 1.6 0 1 0 3.2 0a1.6 1.6 0 1 0 -3.2 0M53.6 62.2a1.6 1.6 0 1 0 3.2 0a1.6 1.6 0 1 0 -3.2 0M137.6 124.7a1.6 1.6 0 1 0 3.2 0a1.6 1.6 0 1 0 -3.2 0M136.3 194.8a1.6 1.6 0 1 0 3.2 0a1.6 1.6 0 1 0 -3.2 0M108.5 275.9a1.6 1.6 0 1 0 3.2 0a1.6 1.6 0 1 0 -3.2 0M219.4 148.7a1.6 1.6 0 1 0 3.2 0a1.6 1.6 0 1 0 -3.2 0M99.3 92.8a1.6 1.6 0 1 0 3.2 0a1.6 1.6 0 1 0 -3.2 0M179.2 288.3a1.6 1.6 0 1 0 3.2 0a1.6 1.6 0 1 0 -3.2 0M74.1 161.3a1.6 1.6 0 1 0 3.2 0a1.6 1.6 0 1 0 -3.2 0M259.8 82.9a1.6 1.6 0 1 0 3.2 0a1.6 1.6 0 1 0 -3.2 0M89.9 177.7a1.6 1.6 0 1 0 3.2 0a1.6 1.6 0 1 0 -3.2 0M118.6 199.6a1.6 1.6 0 1 0 3.2 0a1.6 1.6 0 1 0 -3.2 0M149.6 235.4a1.6 1.6 0 1 0 3.2 0a1.6 1.6 0 1 0 -3.2 0M216.6 189.7a1.6 1.6 0 1 0 3.2 0a1.6 1.6 0 1 0 -3.2 0M31.5 157.6a1.6 1.6 0 1 0 3.2 0a1.6 1.6 0 1 0 -3.2 0M189.8 107.1a1.6 1.6 0 1 0 3.2 0a1.6 1.6 0 1 0 -3.2 0M134.6 233.6a1.6 1.6 0 1 0 3.2 0a1.6 1.6 0 1 0 -3.2 0M161.7 142.2a1.6 1.6 0 1 0 3.2 0a1.6 1.6 0 1 0 -3.2 0M261.1 184.0a1.6 1.6 0 1 0 3.2 0a1.6 1.6 0 1 0 -3.2 0M223.1 99.5a1.6 1.6 0 1 0 3.2 0a1.6 1.6 0 1 0 -3.2 0M142.0 158.5a1.6 1.6 0 1 0 3.2 0a1.6 1.6 0 1 0 -3.2 0M40.1 244.6a1.6 1.6 0 1 0 3.2 0a1.6 1.6 0 1 0 -3.2 0M217.6 147.1a1.6 1.6 0 1 0 3.2 0a1.6 1.6 0 1 0 -3.2 0M190.8 197.9a1.6 1.6 0 1 0 3.2 0a1.6 1.6 0 1 0 -3.2 0M28.5 143.6a1.6 1.6 0 1 0 3.2 0a1.6 1.6 0 1 0 -3.2 0M256.4 116.9a1.6 1.6 0 1 0 3.2 0a1.6 1.6 0 1 0 -3.2 0M70.3 61.5a1.6 1.6 0 1 0 3.2 0a1.6 1.6 0 1 0 -3.2 0M41.9 188.2a1.6 1.6 0 1 0 3.2 0a1.6 1.6 0 1 0 -3.2 0M159.0 293.1a1.6 1.6 0 1 0 3.2 0a1.6 1.6 0 1 0 -3.2 0M94.8 95.6a1.6 1.6 0 1 0 3.2 0a1.6 1.6 0 1 0 -3.2 0M196.2 213.8a1.6 1.6 0 1 0 3.2 0a1.6 1.6 0 1 0 -3.2 0M36.7 143.3a1.6 1.6 0 1 0 3.2 0a1.6 1.6 0 1 0 -3.2 0M90.4 205.8a1.6 1.6 0 1 0 3.2 0a1.6 1.6 0 1 0 -3.2 0M130.0 149.4a1.6 1.6 0 1 0 3.2 0a1.6 1.6 0 1 0 -3.2 0M113.2 253.0a1.6 1.6 0 1 0 3.2 0a1.6 1.6 0 1 0 -3.2 0M254.7 130.9a1.6 1.6 0 1 0 3.2 0a1.6 1.6 0 1 0 -3.2 0M218.5 93.7a1.6 1.6 0 1 0 3.2 0a1.6 1.6 0 1 0 -3.2 0M151.5 233.8a1.6 1.6 0 1 0 3.2 0a1.6 1.6 0 1 0 -3.2 0M259.5 130.9a1.6 1.6 0 1 0 3.2 0a1.6 1.6 0 1 0 -3.2 0M78.3 196.3a1.6 1.6 0 1 0 3.2 0a1.6 1.6 0 1 0 -3.2 0M77.8 43.5a1.6 1.6 0 1 0 3.2 0a1.6 1.6 0 1 0 -3.2 0M148.8 190.1a1.6 1.6 0 1 0 3.2 0a1.6 1.6 0 1 0 -3.2 0M116.8 98.9a1.6 1.6 0 1 0 3.2 0a1.6 1.6 0 1 0 -3.2 0M179.8 43.9a1.6 1.6 0 1 0 3.2 0a1.6 1.6 0 1 0 -3.2 0M175.0 95.0a1.6 1.6 0 1 0 3.2 0a1.6 1.6 0 1 0 -3.2 0M166.3 280.9a1.6 1.6 0 1 0 3.2 0a1.6 1.6 0 1 0 -3.2 0M106.5 290.6a1.6 1.6 0 1 0 3.2 0a1.6 1.6 0 1 0 -3.2 0M75.5 43.0a1.6 1.6 0 1 0 3.2 0a1.6 1.6 0 1 0 -3.2 0M176.1 293.7a1.6 1.6 0 1 0 3.2 0a1.6 1.6 0 1 0 -3.2 0M229.3 193.7a1.6 1.6 0 1 0 3.2 0a1.6 1.6 0 1 0 -3.2 0M249.9 81.5a1.6 1.6 0 1 0 3.2 0a1.6 1.6 0 1 0 -3.2 0M221.0 124.9a1.6 1.6 0 1 0 3.2 0a1.6 1.6 0 1 0 -3.2 0M143.7 130.5a1.6 1.6 0 1 0 3.2 0a1.6 1.6 0 1 0 -3.2 0M98.4 82.9a1.6 1.6 0 1 0 3.2 0a1.6 1.6 0 1 0 -3.2 0M149.2 168.7a1.6 1.6 0 1 0 3.2 0a1.6 1.6 0 1 0 -3.2 0M128.2 245.3a1.6 1.6 0 1 0 3.2 0a1.6 1.6 0 1 0 -3.2 0M196.6 145.0a1.6 1.6 0 1 0 3.2 0a1.6 1.6 0 1 0 -3.2 0M211.2 144.8a1.6 1.6 0 1 0 3.2 0a1.6 1.6 0 1 0 -3.2 0M65.4 259.7a1.6 1.6 0 1 0 3.2 0a1.6 1.6 0 1 0 -3.2 0M186.1 74.3a1.6 1.6 0 1 0 3.2 0a1.6 1.6 0 1 0 -3.2 0M239.0 190.2a1.6 1.6 0 1 0 3.2 0a1.6 1.6 0 1 0 -3.2 0M51.1 256.0a1.6 1.6 0 1 0 3.2 0a1.6 1.6 0 1 0 -3.2 0M167.4 142.6a1.6 1.6 0 1 0 3.2 0a1.6 1.6 0 1 0 -3.2 0M147.8 127.3a1.6 1.6 0 1 0 3.2 0a1.6 1.6 0 1 0 -3.2 0M183.4 168.7a1.6 1.6 0 1 0 3.2 0a1.6 1.6 0 1 0 -3.2 0M210.5 123.7a1.6 1.6 0 1 0 3.2 0a1.6 1.6 0 1 0 -3.2 0M142.1 27.6a1.6 1.6 0 1 0 3.2 0a1.6 1.6 0 1 0 -3.2 0M252.3 130.6a1.6 1.6 0 1 0 3.2 0a1.6 1.6 0 1 0 -3.2 0M135.3 279.3a1.6 1.6 0 1 0 3.2 0a1.6 1.6 0 1 0 -3.2 0M168.8 150.9a1.6 1.6 0 1 0 3.2 0a1.6 1.6 0 1 0 -3.2 0M154.5 258.9a1.6 1.6 0 1 0 3.2 0a1.6 1.6 0 1 0 -3.2 0M275.5 123.5a1.6 1.6 0 1 0 3.2 0a1.6 1.6 0 1 0 -3.2 0M202.6 131.7a1.6 1.6 0 1 0 3.2 0a1.6 1.6 0 1 0 -3.2 0M183.7 45.3a1.6 1.6 0 1 0 3.2 0a1.6 1.6 0 1 0 -3.2 0M78.6 107.5a1.6 1.6 0 1 0 3.2 0a1.6 1.6 0 1 0 -3.2 0M107.2 239.7a1.6 1.6 0 1 0 3.2 0a1.6 1.6 0 1 0 -3.2 0M153.3 116.5a1.6 1.6 0 1 0 3.2 0a1.6 1.6 0 1 0 -3.2 0M184.2 275.7a1.6 1.6 0 1 0 3.2 0a1.6 1.6 0 1 0 -3.2 0M145.1 200.5a1.6 1.6 0 1 0 3.2 0a1.6 1.6 0 1 0 -3.2 0M248.4 182.5a1.6 1.6 0 1 0 3.2 0a1.6 1.6 0 1 0 -3.2 0M81.3 282.4a1.6 1.6 0 1 0 3.2 0a1.6 1.6 0 1 0 -3.2 0M247.2 67.6a1.6 1.6 0 1 0 3.2 0a1.6 1.6 0 1 0 -3.2 0M140.1 205.4a1.6 1.6 0 1 0 3.2 0a1.6 1.6 0 1 0 -3.2 0M227.9 217.9a1.6 1.6 0 1 0 3.2 0a1.6 1.6 0 1 0 -3.2 0M142.8 31.0a1.6 1.6 0 1 0 3.2 0a1.6 1.6 0 1 0 -3.2 0M187.7 92.6a1.6 1.6 0 1 0 3.2 0a1.6 1.6 0 1 0 -3.2 0M63.0 123.6a1.6 1.6 0 1 0 3.2 0a1.6 1.6 0 1 0 -3.2 0M139.4 92.9a1.6 1.6 0 1 0 3.2 0a1.6 1.6 0 1 0 -3.2 0M145.6 233.9a1.6 1.6 0 1 0 3.2 0a1.6 1.6 0 1 0 -3.2 0M70.4 120.3a1.6 1.6 0 1 0 3.2 0a1.6 1.6 0 1 0 -3.2 0M34.4 244.2a1.6 1.6 0 1 0 3.2 0a1.6 1.6 0 1 0 -3.2 0M72.5 156.7a1.6 1.6 0 1 0 3.2 0a1.6 1.6 0 1 0 -3.2 0M185.6 52.9a1.6 1.6 0 1 0 3.2 0a1.6 1.6 0 1 0 -3.2 0M18.9 180.1a1.6 1.6 0 1 0 3.2 0a1.6 1.6 0 1 0 -3.2 0M221.9 180.1a1.6 1.6 0 1 0 3.2 0a1.6 1.6 0 1 0 -3.2 0M192.6 204.8a1.6 1.6 0 1 0 3.2 0a1.6 1.6 0 1 0 -3.2 0M225.1 122.2a1.6 1.6 0 1 0 3.2 0a1.6 1.6 0 1 0 -3.2 0M192.1 143.1a1.6 1.6 0 1 0 3.2 0a1.6 1.6 0 1 0 -3.2 0M187.3 212.7a1.6 1.6 0 1 0 3.2 0a1.6 1.6 0 1 0 -3.2 0M141.0 270.4a1.6 1.6 0 1 0 3.2 0a1.6 1.6 0 1 0 -3.2 0M105.1 104.7a1.6 1.6 0 1 0 3.2 0a1.6 1.6 0 1 0 -3.2 0M228.3 166.0a1.6 1.6 0 1 0 3.2 0a1.6 1.6 0 1 0 -3.2 0M174.2 58.2a1.6 1.6 0 1 0 3.2 0a1.6 1.6 0 1 0 -3.2 0M114.1 123.7a1.6 1.6 0 1 0 3.2 0a1.6 1.6 0 1 0 -3.2 0M77.9 202.3a1.6 1.6 0 1 0 3.2 0a1.6 1.6 0 1 0 -3.2 0M96.2 287.2a1.6 1.6 0 1 0 3.2 0a1.6 1.6 0 1 0 -3.2 0M86.0 233.3a1.6 1.6 0 1 0 3.2 0a1.6 1.6 0 1 0 -3.2 0M100.5 210.6a1.6 1.6 0 1 0 3.2 0a1.6 1.6 0 1 0 -3.2 0M135.1 92.7a1.6 1.6 0 1 0 3.2 0a1.6 1.6 0 1 0 -3.2 0M277.0 164.9a1.6 1.6 0 1 0 3.2 0a1.6 1.6 0 1 0 -3.2 0M31.6 218.6a1.6 1.6 0 1 0 3.2 0a1.6 1.6 0 1 0 -3.2 0M35.1 233.0a1.6 1.6 0 1 0 3.2 0a1.6 1.6 0 1 0 -3.2 0M84.9 174.9a1.6 1.6 0 1 0 3.2 0a1.6 1.6 0 1 0 -3.2 0M59.9 57.0a1.6 1.6 0 1 0 3.2 0a1.6 1.6 0 1 0 -3.2 0M239.6 219.6a1.6 1.6 0 1 0 3.2 0a1.6 1.6 0 1 0 -3.2 0M192.3 222.5a1.6 1.6 0 1 0 3.2 0a1.6 1.6 0 1 0 -3.2 0M11.3 142.2a1.6 1.6 0 1 0 3.2 0a1.6 1.6 0 1 0 -3.2 0M222.6 223.7a1.6 1.6 0 1 0 3.2 0a1.6 1.6 0 1 0 -3.2 0M190.6 31.1a1.6 1.6 0 1 0 3.2 0a1.6 1.6 0 1 0 -3.2 0M162.2 211.9a1.6 1.6 0 1 0 3.2 0a1.6 1.6 0 1 0 -3.2 0M273.2 111.9a1.6 1.6 0 1 0 3.2 0a1.6 1.6 0 1 0 -3.2 0M107.4 164.0a1.6 1.6 0 1 0 3.2 0a1.6 1.6 0 1 0 -3.2 0M236.8 96.5a1.6 1.6 0 1 0 3.2 0a1.6 1.6 0 1 0 -3.2 0M171.9 105.6a1.6 1.6 0 1 0 3.2 0a1.6 1.6 0 1 0 -3.2 0M160.2 91.2a1.6 1.6 0 1 0 3.2 0a1.6 1.6 0 1 0 -3.2 0M38.0 232.8a1.6 1.6 0 1 0 3.2 0a1.6 1.6 0 1 0 -3.2 0M162.7 250.2a1.6 1.6 0 1 0 3.2 0a1.6 1.6 0 1 0 -3.2 0M123.6 29.3a1.6 1.6 0 1 0 3.2 0a1.6 1.6 0 1 0 -3.2 0M248.1 187.4a1.6 1.6 0 1 0 3.2 0a1.6 1.6 0 1 0 -3.2 0M145.9 128.1a1.6 1.6 0 1 0 3.2 0a1.6 1.6 0 1 0 -3.2 0M172.3 114.9a1.6 1.6 0 1 0 3.2 0a1.6 1.6 0 1 0 -3.2 0M58.3 97.8a1.6 1.6 0 1 0 3.2 0a1.6 1.6 0 1 0 -3.2 0M87.4 101.6a1.6 1.6 0 1 0 3.2 0a1.6 1.6 0 1 0 -3.2 0M48.9 212.5a1.6 1.6 0 1 0 3.2 0a1.6 1.6 0 1 0 -3.2 0M41.5 211.8a1.6 1.6 0 1 0 3.2 0a1.6 1.6 0 1 0 -3.2 0M255.2 176.4a1.6 1.6 0 1 0 3.2 0a1.6 1.6 0 1 0 -3.2 0M155.0 36.2a1.6 1.6 0 1 0 3.2 0a1.6 1.6 0 1 0 -3.2 0M82.4 176.6a1.6 1.6 0 1 0 3.2 0a1.6 1.6 0 1 0 -3.2 0M94.3 168.5a1.6 1.6 0 1 0 3.2 0a1.6 1.6 0 1 0 -3.2 0M210.2 228.7a1.6 1.6 0 1 0 3.2 0a1.6 1.6 0 1 0 -3.2 0M225.1 212.4a1.6 1.6 0 1 0 3.2 0a1.6 1.6 0 1 0 -3.2 0M111.5 157.9a1.6 1.6 0 1 0 3.2 0a1.6 1.6 0 1 0 -3.2 0M114.8 125.9a1.6 1.6 0 1 0 3.2 0a1.6 1.6 0 1 0 -3.2 0M54.7 157.8a1.6 1.6 0 1 0 3.2 0a1.6 1.6 0 1 0 -3.2 0M198.4 142.8a1.6 1.6 0 1 0 3.2 0a1.6 1.6 0 1 0 -3.2 0M130.2 34.0a1.6 1.6 0 1 0 3.2 0a1.6 1.6 0 1 0 -3.2 0M8.3 167.0a1.6 1.6 0 1 0 3.2 0a1.6 1.6 0 1 0 -3.2 0M197.8 128.9a1.6 1.6 0 1 0 3.2 0a1.6 1.6 0 1 0 -3.2 0M176.5 29.3a1.6 1.6 0 1 0 3.2 0a1.6 1.6 0 1 0 -3.2 0M223.9 194.7a1.6 1.6 0 1 0 3.2 0a1.6 1.6 0 1 0 -3.2 0M206.3 112.9a1.6 1.6 0 1 0 3.2 0a1.6 1.6 0 1 0 -3.2 0M10.5 158.1a1.6 1.6 0 1 0 3.2 0a1.6 1.6 0 1 0 -3.2 0M61.3 156.9a1.6 1.6 0 1 0 3.2 0a1.6 1.6 0 1 0 -3.2 0M207.3 174.8a1.6 1.6 0 1 0 3.2 0a1.6 1.6 0 1 0 -3.2 0M205.3 268.7a1.6 1.6 0 1 0 3.2 0a1.6 1.6 0 1 0 -3.2 0M222.8 229.2a1.6 1.6 0 1 0 3.2 0a1.6 1.6 0 1 0 -3.2 0M86.9 93.7a1.6 1.6 0 1 0 3.2 0a1.6 1.6 0 1 0 -3.2 0M81.7 93.4a1.6 1.6 0 1 0 3.2 0a1.6 1.6 0 1 0 -3.2 0M167.0 87.0a1.6 1.6 0 1 0 3.2 0a1.6 1.6 0 1 0 -3.2 0M252.8 153.5a1.6 1.6 0 1 0 3.2 0a1.6 1.6 0 1 0 -3.2 0M65.7 254.8a1.6 1.6 0 1 0 3.2 0a1.6 1.6 0 1 0 -3.2 0M176.2 92.1a1.6 1.6 0 1 0 3.2 0a1.6 1.6 0 1 0 -3.2 0M45.2 100.6a1.6 1.6 0 1 0 3.2 0a1.6 1.6 0 1 0 -3.2 0M141.3 167.5a1.6 1.6 0 1 0 3.2 0a1.6 1.6 0 1 0 -3.2 0M202.2 172.4a1.6 1.6 0 1 0 3.2 0a1.6 1.6 0 1 0 -3.2 0M73.3 96.5a1.6 1.6 0 1 0 3.2 0a1.6 1.6 0 1 0 -3.2 0M12.6 149.5a1.6 1.6 0 1 0 3.2 0a1.6 1.6 0 1 0 -3.2 0M130.0 139.4a1.6 1.6 0 1 0 3.2 0a1.6 1.6 0 1 0 -3.2 0M162.0 267.7a1.6 1.6 0 1 0 3.2 0a1.6 1.6 0 1 0 -3.2 0M86.8 123.9a1.6 1.6 0 1 0 3.2 0a1.6 1.6 0 1 0 -3.2 0M73.6 90.2a1.6 1.6 0 1 0 3.2 0a1.6 1.6 0 1 0 -3.2 0M230.3 70.0a1.6 1.6 0 1 0 3.2 0a1.6 1.6 0 1 0 -3.2 0M256.0 113.5a1.6 1.6 0 1 0 3.2 0a1.6 1.6 0 1 0 -3.2 0M145.7 292.8a1.6 1.6 0 1 0 3.2 0a1.6 1.6 0 1 0 -3.2 0M83.9 200.6a1.6 1.6 0 1 0 3.2 0a1.6 1.6 0 1 0 -3.2 0M260.4 204.5a1.6 1.6 0 1 0 3.2 0a1.6 1.6 0 1 0 -3.2 0M198.3 139.0a1.6 1.6 0 1 0 3.2 0a1.6 1.6 0 1 0 -3.2 0M179.1 265.6a1.6 1.6 0 1 0 3.2 0a1.6 1.6 0 1 0 -3.2 0M114.9 235.3a1.6 1.6 0 1 0 3.2 0a1.6 1.6 0 1 0 -3.2 0M270.2 199.6a1.6 1.6 0 1 0 3.2 0a1.6 1.6 0 1 0 -3.2 0M141.4 61.5a1.6 1.6 0 1 0 3.2 0a1.6 1.6 0 1 0 -3.2 0M148.0 192.0a1.6 1.6 0 1 0 3.2 0a1.6 1.6 0 1 0 -3.2 0M81.9 264.9a1.6 1.6 0 1 0 3.2 0a1.6 1.6 0 1 0 -3.2 0M100.8 38.7a1.6 1.6 0 1 0 3.2 0a1.6 1.6 0 1 0 -3.2 0M126.1 85.6a1.6 1.6 0 1 0 3.2 0a1.6 1.6 0 1 0 -3.2 0M169.2 59.2a1.6 1.6 0 1 0 3.2 0a1.6 1.6 0 1 0 -3.2 0M212.6 144.8a1.6 1.6 0 1 0 3.2 0a1.6 1.6 0 1 0 -3.2 0M159.8 145.5a1.6 1.6 0 1 0 3.2 0a1.6 1.6 0 1 0 -3.2 0M139.2 24.6a1.6 1.6 0 1 0 3.2 0a1.6 1.6 0 1 0 -3.2 0M205.9 102.4a1.6 1.6 0 1 0 3.2 0a1.6 1.6 0 1 0 -3.2 0M153.4 292.8a1.6 1.6 0 1 0 3.2 0a1.6 1.6 0 1 0 -3.2 0M64.1 73.7a1.6 1.6 0 1 0 3.2 0a1.6 1.6 0 1 0 -3.2 0M74.5 41.4a1.6 1.6 0 1 0 3.2 0a1.6 1.6 0 1 0 -3.2 0M102.5 37.3a1.6 1.6 0 1 0 3.2 0a1.6 1.6 0 1 0 -3.2 0M33.4 206.2a1.6 1.6 0 1 0 3.2 0a1.6 1.6 0 1 0 -3.2 0M70.5 125.0a1.6 1.6 0 1 0 3.2 0a1.6 1.6 0 1 0 -3.2 0M161.2 181.5a1.6 1.6 0 1 0 3.2 0a1.6 1.6 0 1 0 -3.2 0M249.8 243.5a1.6 1.6 0 1 0 3.2 0a1.6 1.6 0 1 0 -3.2 0M112.0 207.8a1.6 1.6 0 1 0 3.2 0a1.6 1.6 0 1 0 -3.2 0M104.5 54.1a1.6 1.6 0 1 0 3.2 0a1.6 1.6 0 1 0 -3.2 0M104.8 45.5a1.6 1.6 0 1 0 3.2 0a1.6 1.6 0 1 0 -3.2 0M244.8 204.0a1.6 1.6 0 1 0 3.2 0a1.6 1.6 0 1 0 -3.2 0M200.3 40.4a1.6 1.6 0 1 0 3.2 0a1.6 1.6 0 1 0 -3.2 0M263.8 212.5a1.6 1.6 0 1 0 3.2 0a1.6 1.6 0 1 0 -3.2 0M260.7 90.6a1.6 1.6 0 1 0 3.2 0a1.6 1.6 0 1 0 -3.2 0M197.8 202.5a1.6 1.6 0 1 0 3.2 0a1.6 1.6 0 1 0 -3.2 0M167.7 179.7a1.6 1.6 0 1 0 3.2 0a1.6 1.6 0 1 0 -3.2 0M59.6 64.8a1.6 1.6 0 1 0 3.2 0a1.6 1.6 0 1 0 -3.2 0M90.7 101.7a1.6 1.6 0 1 0 3.2 0a1.6 1.6 0 1 0 -3.2 0M183.9 188.7a1.6 1.6 0 1 0 3.2 0a1.6 1.6 0 1 0 -3.2 0M147.6 91.9a1.6 1.6 0 1 0 3.2 0a1.6 1.6 0 1 0 -3.2 0M104.6 245.7a1.6 1.6 0 1 0 3.2 0a1.6 1.6 0 1 0 -3.2 0M120.1 277.1a1.6 1.6 0 1 0 3.2 0a1.6 1.6 0 1 0 -3.2 0M243.9 137.1a1.6 1.6 0 1 0 3.2 0a1.6 1.6 0 1 0 -3.2 0M236.0 178.1a1.6 1.6 0 1 0 3.2 0a1.6 1.6 0 1 0 -3.2 0M30.3 208.1a1.6 1.6 0 1 0 3.2 0a1.6 1.6 0 1 0 -3.2 0M76.6 257.5a1.6 1.6 0 1 0 3.2 0a1.6 1.6 0 1 0 -3.2 0M76.5 143.5a1.6 1.6 0 1 0 3.2 0a1.6 1.6 0 1 0 -3.2 0M171.0 103.3a1.6 1.6 0 1 0 3.2 0a1.6 1.6 0 1 0 -3.2 0M212.1 160.6a1.6 1.6 0 1 0 3.2 0a1.6 1.6 0 1 0 -3.2 0M184.9 252.8a1.6 1.6 0 1 0 3.2 0a1.6 1.6 0 1 0 -3.2 0M71.0 264.8a1.6 1.6 0 1 0 3.2 0a1.6 1.6 0 1 0 -3.2 0M129.8 228.0a1.6 1.6 0 1 0 3.2 0a1.6 1.6 0 1 0 -3.2 0M112.7 63.5a1.6 1.6 0 1 0 3.2 0a1.6 1.6 0 1 0 -3.2 0M231.8 232.3a1.6 1.6 0 1 0 3.2 0a1.6 1.6 0 1 0 -3.2 0M103.7 42.0a1.6 1.6 0 1 0 3.2 0a1.6 1.6 0 1 0 -3.2 0M83.8 97.2a1.6 1.6 0 1 0 3.2 0a1.6 1.6 0 1 0 -3.2 0M70.0 213.2a1.6 1.6 0 1 0 3.2 0a1.6 1.6 0 1 0 -3.2 0M180.0 130.7a1.6 1.6 0 1 0 3.2 0a1.6 1.6 0 1 0 -3.2 0M164.7 142.9a1.6 1.6 0 1 0 3.2 0a1.6 1.6 0 1 0 -3.2 0M165.2 233.4a1.6 1.6 0 1 0 3.2 0a1.6 1.6 0 1 0 -3.2 0M48.9 250.4a1.6 1.6 0 1 0 3.2 0a1.6 1.6 0 1 0 -3.2 0M154.5 257.6a1.6 1.6 0 1 0 3.2 0a1.6 1.6 0 1 0 -3.2 0M146.5 45.8a1.6 1.6 0 1 0 3.2 0a1.6 1.6 0 1 0 -3.2 0M95.7 228.4a1.6 1.6 0 1 0 3.2 0a1.6 1.6 0 1 0 -3.2 0M216.5 266.6a1.6 1.6 0 1 0 3.2 0a1.6 1.6 0 1 0 -3.2 0M80.6 56.5a1.6 1.6 0 1 0 3.2 0a1.6 1.6 0 1 0 -3.2 0M190.9 243.9a1.6 1.6 0 1 0 3.2 0a1.6 1.6 0 1 0 -3.2 0M160.3 52.5a1.6 1.6 0 1 0 3.2 0a1.6 1.6 0 1 0 -3.2 0M213.4 229.9a1.6 1.6 0 1 0 3.2 0a1.6 1.6 0 1 0 -3.2 0M199.1 111.9a1.6 1.6 0 1 0 3.2 0a1.6 1.6 0 1 0 -3.2 0M173.5 235.6a1.6 1.6 0 1 0 3.2 0a1.6 1.6 0 1 0 -3.2 0M107.1 36.8a1.6 1.6 0 1 0 3.2 0a1.6 1.6 0 1 0 -3.2 0M178.4 209.7a1.6 1.6 0 1 0 3.2 0a1.6 1.6 0 1 0 -3.2 0M145.7 244.0a1.6 1.6 0 1 0 3.2 0a1.6 1.6 0 1 0 -3.2 0M83.9 151.5a1.6 1.6 0 1 0 3.2 0a1.6 1.6 0 1 0 -3.2 0M263.5 141.3a1.6 1.6 0 1 0 3.2 0a1.6 1.6 0 1 0 -3.2 0M217.0 213.9a1.6 1.6 0 1 0 3.2 0a1.6 1.6 0 1 0 -3.2 0M269.1 147.3a1.6 1.6 0 1 0 3.2 0a1.6 1.6 0 1 0 -3.2 0M134.4 65.0a1.6 1.6 0 1 0 3.2 0a1.6 1.6 0 1 0 -3.2 0M121.2 179.6a1.6 1.6 0 1 0 3.2 0a1.6 1.6 0 1 0 -3.2 0M43.7 234.1a1.6 1.6 0 1 0 3.2 0a1.6 1.6 0 1 0 -3.2 0M109.0 64.6a1.6 1.6 0 1 0 3.2 0a1.6 1.6 0 1 0 -3.2 0M44.1 228.4a1.6 1.6 0 1 0 3.2 0a1.6 1.6 0 1 0 -3.2 0M224.0 108.1a1.6 1.6 0 1 0 3.2 0a1.6 1.6 0 1 0 -3.2 0M35.3 105.3a1.6 1.6 0 1 0 3.2 0a1.6 1.6 0 1 0 -3.2 0M121.6 30.8a1.6 1.6 0 1 0 3.2 0a1.6 1.6 0 1 0 -3.2 0M214.5 66.6a1.6 1.6 0 1 0 3.2 0a1.6 1.6 0 1 0 -3.2 0M221.2 214.2a1.6 1.6 0 1 0 3.2 0a1.6 1.6 0 1 0 -3.2 0M57.9 205.1a1.6 1.6 0 1 0 3.2 0a1.6 1.6 0 1 0 -3.2 0M77.2 95.7a1.6 1.6 0 1 0 3.2 0a1.6 1.6 0 1 0 -3.2 0M83.5 40.0a1.6 1.6 0 1 0 3.2 0a1.6 1.6 0 1 0 -3.2 0M191.3 264.9a1.6 1.6 0 1 0 3.2 0a1.6 1.6 0 1 0 -3.2 0M160.4 70.6a1.6 1.6 0 1 0 3.2 0a1.6 1.6 0 1 0 -3.2 0M231.6 224.3a1.6 1.6 0 1 0 3.2 0a1.6 1.6 0 1 0 -3.2 0M28.7 129.5a1.6 1.6 0 1 0 3.2 0a1.6 1.6 0 1 0 -3.2 0M31.1 151.3a1.6 1.6 0 1 0 3.2 0a1.6 1.6 0 1 0 -3.2 0M29.7 232.5a1.6 1.6 0 1 0 3.2 0a1.6 1.6 0 1 0 -3.2 0M173.5 273.5a1.6 1.6 0 1 0 3.2 0a1.6 1.6 0 1 0 -3.2 0M120.9 190.1a1.6 1.6 0 1 0 3.2 0a1.6 1.6 0 1 0 -3.2 0M130.4 250.9a1.6 1.6 0 1 0 3.2 0a1.6 1.6 0 1 0 -3.2 0M40.6 216.6a1.6 1.6 0 1 0 3.2 0a1.6 1.6 0 1 0 -3.2 0M98.6 221.3a1.6 1.6 0 1 0 3.2 0a1.6 1.6 0 1 0 -3.2 0M241.3 121.6a1.6 1.6 0 1 0 3.2 0a1.6 1.6 0 1 0 -3.2 0M168.8 283.4a1.6 1.6 0 1 0 3.2 0a1.6 1.6 0 1 0 -3.2 0M90.6 203.4a1.6 1.6 0 1 0 3.2 0a1.6 1.6 0 1 0 -3.2 0M75.8 250.6a1.6 1.6 0 1 0 3.2 0a1.6 1.6 0 1 0 -3.2 0M197.5 44.8a1.6 1.6 0 1 0 3.2 0a1.6 1.6 0 1 0 -3.2 0M65.8 176.0a1.6 1.6 0 1 0 3.2 0a1.6 1.6 0 1 0 -3.2 0M92.3 143.7a1.6 1.6 0 1 0 3.2 0a1.6 1.6 0 1 0 -3.2 0M189.8 98.1a1.6 1.6 0 1 0 3.2 0a1.6 1.6 0 1 0 -3.2 0M86.1 189.2a1.6 1.6 0 1 0 3.2 0a1.6 1.6 0 1 0 -3.2 0M264.4 162.0a1.6 1.6 0 1 0 3.2 0a1.6 1.6 0 1 0 -3.2 0M264.0 204.8a1.6 1.6 0 1 0 3.2 0a1.6 1.6 0 1 0 -3.2 0M225.7 258.8a1.6 1.6 0 1 0 3.2 0a1.6 1.6 0 1 0 -3.2 0M280.0 169.8a1.6 1.6 0 1 0 3.2 0a1.6 1.6 0 1 0 -3.2 0M110.4 209.0a1.6 1.6 0 1 0 3.2 0a1.6 1.6 0 1 0 -3.2 0M247.5 89.1a1.6 1.6 0 1 0 3.2 0a1.6 1.6 0 1 0 -3.2 0M79.6 44.8a1.6 1.6 0 1 0 3.2 0a1.6 1.6 0 1 0 -3.2 0M182.7 271.5a1.6 1.6 0 1 0 3.2 0a1.6 1.6 0 1 0 -3.2 0M22.7 209.5a1.6 1.6 0 1 0 3.2 0a1.6 1.6 0 1 0 -3.2 0M72.5 134.1a1.6 1.6 0 1 0 3.2 0a1.6 1.6 0 1 0 -3.2 0M150.1 217.0a1.6 1.6 0 1 0 3.2 0a1.6 1.6 0 1 0 -3.2 0M105.7 161.7a1.6 1.6 0 1 0 3.2 0a1.6 1.6 0 1 0 -3.2 0M87.4 171.9a1.6 1.6 0 1 0 3.2 0a1.6 1.6 0 1 0 -3.2 0M43.0 165.5a1.6 1.6 0 1 0 3.2 0a1.6 1.6 0 1 0 -3.2 0M39.3 181.5a1.6 1.6 0 1 0 3.2 0a1.6 1.6 0 1 0 -3.2 0M78.0 226.5a1.6 1.6 0 1 0 3.2 0a1.6 1.6 0 1 0 -3.2 0M186.5 149.4a1.6 1.6 0 1 0 3.2 0a1.6 1.6 0 1 0 -3.2 0M70.5 74.0a1.6 1.6 0 1 0 3.2 0a1.6 1.6 0 1 0 -3.2 0M89.1 37.3a1.6 1.6 0 1 0 3.2 0a1.6 1.6 0 1 0 -3.2 0M77.6 280.6a1.6 1.6 0 1 0 3.2 0a1.6 1.6 0 1 0 -3.2 0M44.3 153.3a1.6 1.6 0 1 0 3.2 0a1.6 1.6 0 1 0 -3.2 0M168.6 141.8a1.6 1.6 0 1 0 3.2 0a1.6 1.6 0 1 0 -3.2 0M75.7 270.4a1.6 1.6 0 1 0 3.2 0a1.6 1.6 0 1 0 -3.2 0M78.1 234.1a1.6 1.6 0 1 0 3.2 0a1.6 1.6 0 1 0 -3.2 0M167.8 252.7a1.6 1.6 0 1 0 3.2 0a1.6 1.6 0 1 0 -3.2 0M187.8 78.4a1.6 1.6 0 1 0 3.2 0a1.6 1.6 0 1 0 -3.2 0M73.8 56.7a1.6 1.6 0 1 0 3.2 0a1.6 1.6 0 1 0 -3.2 0M104.1 232.4a1.6 1.6 0 1 0 3.2 0a1.6 1.6 0 1 0 -3.2 0M111.1 264.1a1.6 1.6 0 1 0 3.2 0a1.6 1.6 0 1 0 -3.2 0M61.9 66.6a1.6 1.6 0 1 0 3.2 0a1.6 1.6 0 1 0 -3.2 0M260.7 189.9a1.6 1.6 0 1 0 3.2 0a1.6 1.6 0 1 0 -3.2 0M224.0 90.3a1.6 1.6 0 1 0 3.2 0a1.6 1.6 0 1 0 -3.2 0M221.4 184.9a1.6 1.6 0 1 0 3.2 0a1.6 1.6 0 1 0 -3.2 0M242.3 107.3a1.6 1.6 0 1 0 3.2 0a1.6 1.6 0 1 0 -3.2 0M238.4 100.2a1.6 1.6 0 1 0 3.2 0a1.6 1.6 0 1 0 -3.2 0M60.7 84.6a1.6 1.6 0 1 0 3.2 0a1.6 1.6 0 1 0 -3.2 0M108.0 56.0a1.6 1.6 0 1 0 3.2 0a1.6 1.6 0 1 0 -3.2 0M95.7 75.2a1.6 1.6 0 1 0 3.2 0a1.6 1.6 0 1 0 -3.2 0M157.6 188.6a1.6 1.6 0 1 0 3.2 0a1.6 1.6 0 1 0 -3.2 0M164.9 28.1a1.6 1.6 0 1 0 3.2 0a1.6 1.6 0 1 0 -3.2 0M199.4 48.0a1.6 1.6 0 1 0 3.2 0a1.6 1.6 0 1 0 -3.2 0M74.5 131.3a1.6 1.6 0 1 0 3.2 0a1.6 1.6 0 1 0 -3.2 0M245.8 196.2a1.6 1.6 0 1 0 3.2 0a1.6 1.6 0 1 0 -3.2 0M196.1 173.1a1.6 1.6 0 1 0 3.2 0a1.6 1.6 0 1 0 -3.2 0M184.5 59.3a1.6 1.6 0 1 0 3.2 0a1.6 1.6 0 1 0 -3.2 0M228.7 112.7a1.6 1.6 0 1 0 3.2 0a1.6 1.6 0 1 0 -3.2 0M234.7 168.0a1.6 1.6 0 1 0 3.2 0a1.6 1.6 0 1 0 -3.2 0M31.3 86.2a1.6 1.6 0 1 0 3.2 0a1.6 1.6 0 1 0 -3.2 0M243.2 148.0a1.6 1.6 0 1 0 3.2 0a1.6 1.6 0 1 0 -3.2 0M102.0 186.0a1.6 1.6 0 1 0 3.2 0a1.6 1.6 0 1 0 -3.2 0M101.8 105.5a1.6 1.6 0 1 0 3.2 0a1.6 1.6 0 1 0 -3.2 0M261.5 163.5a1.6 1.6 0 1 0 3.2 0a1.6 1.6 0 1 0 -3.2 0M255.4 228.6a1.6 1.6 0 1 0 3.2 0a1.6 1.6 0 1 0 -3.2 0M137.7 94.9a1.6 1.6 0 1 0 3.2 0a1.6 1.6 0 1 0 -3.2 0M138.6 114.7a1.6 1.6 0 1 0 3.2 0a1.6 1.6 0 1 0 -3.2 0M62.1 73.9a1.6 1.6 0 1 0 3.2 0a1.6 1.6 0 1 0 -3.2 0M13.8 193.0a1.6 1.6 0 1 0 3.2 0a1.6 1.6 0 1 0 -3.2 0M140.9 296.7a1.6 1.6 0 1 0 3.2 0a1.6 1.6 0 1 0 -3.2 0M140.6 141.8a1.6 1.6 0 1 0 3.2 0a1.6 1.6 0 1 0 -3.2 0M258.5 170.6a1.6 1.6 0 1 0 3.2 0a1.6 1.6 0 1 0 -3.2 0M99.3 271.8a1.6 1.6 0 1 0 3.2 0a1.6 1.6 0 1 0 -3.2 0M105.4 163.4a1.6 1.6 0 1 0 3.2 0a1.6 1.6 0 1 0 -3.2 0M36.3 203.8a1.6 1.6 0 1 0 3.2 0a1.6 1.6 0 1 0 -3.2 0M221.4 259.1a1.6 1.6 0 1 0 3.2 0a1.6 1.6 0 1 0 -3.2 0M80.0 91.7a1.6 1.6 0 1 0 3.2 0a1.6 1.6 0 1 0 -3.2 0M50.4 242.1a1.6 1.6 0 1 0 3.2 0a1.6 1.6 0 1 0 -3.2 0M261.6 117.7a1.6 1.6 0 1 0 3.2 0a1.6 1.6 0 1 0 -3.2 0M107.5 37.8a1.6 1.6 0 1 0 3.2 0a1.6 1.6 0 1 0 -3.2 0M89.7 256.5a1.6 1.6 0 1 0 3.2 0a1.6 1.6 0 1 0 -3.2 0M271.0 141.9a1.6 1.6 0 1 0 3.2 0a1.6 1.6 0 1 0 -3.2 0M78.5 111.4a1.6 1.6 0 1 0 3.2 0a1.6 1.6 0 1 0 -3.2 0M60.6 242.0a1.6 1.6 0 1 0 3.2 0a1.6 1.6 0 1 0 -3.2 0M38.2 81.0a1.6 1.6 0 1 0 3.2 0a1.6 1.6 0 1 0 -3.2 0M47.8 211.2a1.6 1.6 0 1 0 3.2 0a1.6 1.6 0 1 0 -3.2 0M267.9 193.6a1.6 1.6 0 1 0 3.2 0a1.6 1.6 0 1 0 -3.2 0M193.7 39.3a1.6 1.6 0 1 0 3.2 0a1.6 1.6 0 1 0 -3.2 0M74.6 126.1a1.6 1.6 0 1 0 3.2 0a1.6 1.6 0 1 0 -3.2 0M219.3 58.4a1.6 1.6 0 1 0 3.2 0a1.6 1.6 0 1 0 -3.2 0M91.1 37.6a1.6 1.6 0 1 0 3.2 0a1.6 1.6 0 1 0 -3.2 0M181.8 276.3a1.6 1.6 0 1 0 3.2 0a1.6 1.6 0 1 0 -3.2 0M210.2 129.9a1.6 1.6 0 1 0 3.2 0a1.6 1.6 0 1 0 -3.2 0M53.1 87.4a1.6 1.6 0 1 0 3.2 0a1.6 1.6 0 1 0 -3.2 0M140.8 282.2a1.6 1.6 0 1 0 3.2 0a1.6 1.6 0 1 0 -3.2 0M169.8 65.4a1.6 1.6 0 1 0 3.2 0a1.6 1.6 0 1 0 -3.2 0M251.9 226.1a1.6 1.6 0 1 0 3.2 0a1.6 1.6 0 1 0 -3.2 0M154.4 88.6a1.6 1.6 0 1 0 3.2 0a1.6 1.6 0 1 0 -3.2 0M28.2 96.5a1.6 1.6 0 1 0 3.2 0a1.6 1.6 0 1 0 -3.2 0M36.0 176.1a1.6 1.6 0 1 0 3.2 0a1.6 1.6 0 1 0 -3.2 0M169.1 221.4a1.6 1.6 0 1 0 3.2 0a1.6 1.6 0 1 0 -3.2 0M194.4 267.4a1.6 1.6 0 1 0 3.2 0a1.6 1.6 0 1 0 -3.2 0M164.7 187.6a1.6 1.6 0 1 0 3.2 0a1.6 1.6 0 1 0 -3.2 0M158.4 101.4a1.6 1.6 0 1 0 3.2 0a1.6 1.6 0 1 0 -3.2 0M120.4 157.0a1.6 1.6 0 1 0 3.2 0a1.6 1.6 0 1 0 -3.2 0M211.4 85.1a1.6 1.6 0 1 0 3.2 0a1.6 1.6 0 1 0 -3.2 0M143.6 191.9a1.6 1.6 0 1 0 3.2 0a1.6 1.6 0 1 0 -3.2 0M175.9 178.3a1.6 1.6 0 1 0 3.2 0a1.6 1.6 0 1 0 -3.2 0M22.2 113.9a1.6 1.6 0 1 0 3.2 0a1.6 1.6 0 1 0 -3.2 0M13.4 195.2a1.6 1.6 0 1 0 3.2 0a1.6 1.6 0 1 0 -3.2 0M178.5 138.3a1.6 1.6 0 1 0 3.2 0a1.6 1.6 0 1 0 -3.2 0M139.5 267.4a1.6 1.6 0 1 0 3.2 0a1.6 1.6 0 1 0 -3.2 0M58.0 54.7a1.6 1.6 0 1 0 3.2 0a1.6 1.6 0 1 0 -3.2 0M86.7 179.4a1.6 1.6 0 1 0 3.2 0a1.6 1.6 0 1 0 -3.2 0M279.7 130.4a1.6 1.6 0 1 0 3.2 0a1.6 1.6 0 1 0 -3.2 0M150.1 191.6a1.6 1.6 0 1 0 3.2 0a1.6 1.6 0 1 0 -3.2 0M141.2 246.8a1.6 1.6 0 1 0 3.2 0a1.6 1.6 0 1 0 -3.2 0M253.2 83.8a1.6 1.6 0 1 0 3.2 0a1.6 1.6 0 1 0 -3.2 0M60.9 50.0a1.6 1.6 0 1 0 3.2 0a1.6 1.6 0 1 0 -3.2 0M108.6 87.7a1.6 1.6 0 1 0 3.2 0a1.6 1.6 0 1 0 -3.2 0M210.4 211.5a1.6 1.6 0 1 0 3.2 0a1.6 1.6 0 1 0 -3.2 0M82.4 167.3a1.6 1.6 0 1 0 3.2 0a1.6 1.6 0 1 0 -3.2 0M148.6 217.8a1.6 1.6 0 1 0 3.2 0a1.6 1.6 0 1 0 -3.2 0M275.4 190.1a1.6 1.6 0 1 0 3.2 0a1.6 1.6 0 1 0 -3.2 0M169.2 292.5a1.6 1.6 0 1 0 3.2 0a1.6 1.6 0 1 0 -3.2 0M254.7 237.0a1.6 1.6 0 1 0 3.2 0a1.6 1.6 0 1 0 -3.2 0M206.2 65.6a1.6 1.6 0 1 0 3.2 0a1.6 1.6 0 1 0 -3.2 0M62.7 185.2a1.6 1.6 0 1 0 3.2 0a1.6 1.6 0 1 0 -3.2 0M104.3 118.3a1.6 1.6 0 1 0 3.2 0a1.6 1.6 0 1 0 -3.2 0M151.2 197.6a1.6 1.6 0 1 0 3.2 0a1.6 1.6 0 1 0 -3.2 0M120.3 56.2a1.6 1.6 0 1 0 3.2 0a1.6 1.6 0 1 0 -3.2 0M224.6 263.1a1.6 1.6 0 1 0 3.2 0a1.6 1.6 0 1 0 -3.2 0M134.8 252.7a1.6 1.6 0 1 0 3.2 0a1.6 1.6 0 1 0 -3.2 0M189.7 88.2a1.6 1.6 0 1 0 3.2 0a1.6 1.6 0 1 0 -3.2 0M194.2 247.8a1.6 1.6 0 1 0 3.2 0a1.6 1.6 0 1 0 -3.2 0M89.3 280.8a1.6 1.6 0 1 0 3.2 0a1.6 1.6 0 1 0 -3.2 0M110.5 99.9a1.6 1.6 0 1 0 3.2 0a1.6 1.6 0 1 0 -3.2 0M66.0 171.2a1.6 1.6 0 1 0 3.2 0a1.6 1.6 0 1 0 -3.2 0M53.3 264.3a1.6 1.6 0 1 0 3.2 0a1.6 1.6 0 1 0 -3.2 0M278.6 158.4a1.6 1.6 0 1 0 3.2 0a1.6 1.6 0 1 0 -3.2 0M209.5 205.8a1.6 1.6 0 1 0 3.2 0a1.6 1.6 0 1 0 -3.2 0M132.6 80.8a1.6 1.6 0 1 0 3.2 0a1.6 1.6 0 1 0 -3.2 0M165.8 157.1a1.6 1.6 0 1 0 3.2 0a1.6 1.6 0 1 0 -3.2 0M149.7 166.4a1.6 1.6 0 1 0 3.2 0a1.6 1.6 0 1 0 -3.2 0M195.9 69.4a1.6 1.6 0 1 0 3.2 0a1.6 1.6 0 1 0 -3.2 0M204.0 123.2a1.6 1.6 0 1 0 3.2 0a1.6 1.6 0 1 0 -3.2 0M53.9 82.8a1.6 1.6 0 1 0 3.2 0a1.6 1.6 0 1 0 -3.2 0M185.5 59.0a1.6 1.6 0 1 0 3.2 0a1.6 1.6 0 1 0 -3.2 0M134.3 67.7a1.6 1.6 0 1 0 3.2 0a1.6 1.6 0 1 0 -3.2 0M137.7 122.8a1.6 1.6 0 1 0 3.2 0a1.6 1.6 0 1 0 -3.2 0M176.0 81.1a1.6 1.6 0 1 0 3.2 0a1.6 1.6 0 1 0 -3.2 0M215.5 50.9a1.6 1.6 0 1 0 3.2 0a1.6 1.6 0 1 0 -3.2 0M228.6 106.8a1.6 1.6 0 1 0 3.2 0a1.6 1.6 0 1 0 -3.2 0M197.6 104.8a1.6 1.6 0 1 0 3.2 0a1.6 1.6 0 1 0 -3.2 0M194.4 277.7a1.6 1.6 0 1 0 3.2 0a1.6 1.6 0 1 0 -3.2 0M68.5 239.7a1.6 1.6 0 1 0 3.2 0a1.6 1.6 0 1 0 -3.2 0M247.9 163.0a1.6 1.6 0 1 0 3.2 0a1.6 1.6 0 1 0 -3.2 0M231.1 242.2a1.6 1.6 0 1 0 3.2 0a1.6 1.6 0 1 0 -3.2 0M197.3 41.0a1.6 1.6 0 1 0 3.2 0a1.6 1.6 0 1 0 -3.2 0M93.0 267.6a1.6 1.6 0 1 0 3.2 0a1.6 1.6 0 1 0 -3.2 0M265.6 209.1a1.6 1.6 0 1 0 3.2 0a1.6 1.6 0 1 0 -3.2 0M213.8 145.6a1.6 1.6 0 1 0 3.2 0a1.6 1.6 0 1 0 -3.2 0M165.0 205.5a1.6 1.6 0 1 0 3.2 0a1.6 1.6 0 1 0 -3.2 0M144.0 286.9a1.6 1.6 0 1 0 3.2 0a1.6 1.6 0 1 0 -3.2 0M192.1 169.1a1.6 1.6 0 1 0 3.2 0a1.6 1.6 0 1 0 -3.2 0M254.1 172.2a1.6 1.6 0 1 0 3.2 0a1.6 1.6 0 1 0 -3.2 0M52.3 112.0a1.6 1.6 0 1 0 3.2 0a1.6 1.6 0 1 0 -3.2 0M129.8 112.2a1.6 1.6 0 1 0 3.2 0a1.6 1.6 0 1 0 -3.2 0M196.4 175.2a1.6 1.6 0 1 0 3.2 0a1.6 1.6 0 1 0 -3.2 0M42.7 164.1a1.6 1.6 0 1 0 3.2 0a1.6 1.6 0 1 0 -3.2 0M134.4 213.0a1.6 1.6 0 1 0 3.2 0a1.6 1.6 0 1 0 -3.2 0M97.3 191.7a1.6 1.6 0 1 0 3.2 0a1.6 1.6 0 1 0 -3.2 0M209.5 246.4a1.6 1.6 0 1 0 3.2 0a1.6 1.6 0 1 0 -3.2 0M143.1 98.3a1.6 1.6 0 1 0 3.2 0a1.6 1.6 0 1 0 -3.2 0M206.5 40.1a1.6 1.6 0 1 0 3.2 0a1.6 1.6 0 1 0 -3.2 0M72.4 220.6a1.6 1.6 0 1 0 3.2 0a1.6 1.6 0 1 0 -3.2 0M200.0 72.0a1.6 1.6 0 1 0 3.2 0a1.6 1.6 0 1 0 -3.2 0M37.2 242.5a1.6 1.6 0 1 0 3.2 0a1.6 1.6 0 1 0 -3.2 0M189.1 34.3a1.6 1.6 0 1 0 3.2 0a1.6 1.6 0 1 0 -3.2 0M195.7 41.6a1.6 1.6 0 1 0 3.2 0a1.6 1.6 0 1 0 -3.2 0M241.9 194.1a1.6 1.6 0 1 0 3.2 0a1.6 1.6 0 1 0 -3.2 0M144.8 254.3a1.6 1.6 0 1 0 3.2 0a1.6 1.6 0 1 0 -3.2 0M85.1 94.7a1.6 1.6 0 1 0 3.2 0a1.6 1.6 0 1 0 -3.2 0M103.4 152.0a1.6 1.6 0 1 0 3.2 0a1.6 1.6 0 1 0 -3.2 0M51.1 201.7a1.6 1.6 0 1 0 3.2 0a1.6 1.6 0 1 0 -3.2 0M201.2 167.5a1.6 1.6 0 1 0 3.2 0a1.6 1.6 0 1 0 -3.2 0M248.8 116.3a1.6 1.6 0 1 0 3.2 0a1.6 1.6 0 1 0 -3.2 0M192.3 37.5a1.6 1.6 0 1 0 3.2 0a1.6 1.6 0 1 0 -3.2 0M167.2 139.8a1.6 1.6 0 1 0 3.2 0a1.6 1.6 0 1 0 -3.2 0M96.2 100.5a1.6 1.6 0 1 0 3.2 0a1.6 1.6 0 1 0 -3.2 0M110.7 90.2a1.6 1.6 0 1 0 3.2 0a1.6 1.6 0 1 0 -3.2 0M14.9 124.8a1.6 1.6 0 1 0 3.2 0a1.6 1.6 0 1 0 -3.2 0M49.7 147.9a1.6 1.6 0 1 0 3.2 0a1.6 1.6 0 1 0 -3.2 0M224.4 235.5a1.6 1.6 0 1 0 3.2 0a1.6 1.6 0 1 0 -3.2 0M243.5 131.9a1.6 1.6 0 1 0 3.2 0a1.6 1.6 0 1 0 -3.2 0M133.0 258.0a1.6 1.6 0 1 0 3.2 0a1.6 1.6 0 1 0 -3.2 0M86.8 147.6a1.6 1.6 0 1 0 3.2 0a1.6 1.6 0 1 0 -3.2 0M119.3 249.3a1.6 1.6 0 1 0 3.2 0a1.6 1.6 0 1 0 -3.2 0M126.9 231.5a1.6 1.6 0 1 0 3.2 0a1.6 1.6 0 1 0 -3.2 0M203.9 66.0a1.6 1.6 0 1 0 3.2 0a1.6 1.6 0 1 0 -3.2 0M40.8 111.1a1.6 1.6 0 1 0 3.2 0a1.6 1.6 0 1 0 -3.2 0M180.4 273.6a1.6 1.6 0 1 0 3.2 0a1.6 1.6 0 1 0 -3.2 0M69.3 95.7a1.6 1.6 0 1 0 3.2 0a1.6 1.6 0 1 0 -3.2 0M117.1 228.2a1.6 1.6 0 1 0 3.2 0a1.6 1.6 0 1 0 -3.2 0M63.3 233.2a1.6 1.6 0 1 0 3.2 0a1.6 1.6 0 1 0 -3.2 0M191.5 104.4a1.6 1.6 0 1 0 3.2 0a1.6 1.6 0 1 0 -3.2 0M114.4 294.9a1.6 1.6 0 1 0 3.2 0a1.6 1.6 0 1 0 -3.2 0M109.5 278.7a1.6 1.6 0 1 0 3.2 0a1.6 1.6 0 1 0 -3.2 0M166.8 194.5a1.6 1.6 0 1 0 3.2 0a1.6 1.6 0 1 0 -3.2 0M210.7 90.5a1.6 1.6 0 1 0 3.2 0a1.6 1.6 0 1 0 -3.2 0M228.4 194.5a1.6 1.6 0 1 0 3.2 0a1.6 1.6 0 1 0 -3.2 0M31.9 204.6a1.6 1.6 0 1 0 3.2 0a1.6 1.6 0 1 0 -3.2 0M192.5 230.3a1.6 1.6 0 1 0 3.2 0a1.6 1.6 0 1 0 -3.2 0M74.5 253.2a1.6 1.6 0 1 0 3.2 0a1.6 1.6 0 1 0 -3.2 0M189.1 66.8a1.6 1.6 0 1 0 3.2 0a1.6 1.6 0 1 0 -3.2 0M135.8 38.7a1.6 1.6 0 1 0 3.2 0a1.6 1.6 0 1 0 -3.2 0M150.5 60.7a1.6 1.6 0 1 0 3.2 0a1.6 1.6 0 1 0 -3.2 0M152.7 151.3a1.6 1.6 0 1 0 3.2 0a1.6 1.6 0 1 0 -3.2 0M155.1 51.3a1.6 1.6 0 1 0 3.2 0a1.6 1.6 0 1 0 -3.2 0M7.8 161.8a1.6 1.6 0 1 0 3.2 0a1.6 1.6 0 1 0 -3.2 0M60.0 119.0a1.6 1.6 0 1 0 3.2 0a1.6 1.6 0 1 0 -3.2 0M171.9 32.2a1.6 1.6 0 1 0 3.2 0a1.6 1.6 0 1 0 -3.2 0M74.2 103.9a1.6 1.6 0 1 0 3.2 0a1.6 1.6 0 1 0 -3.2 0M51.0 188.9a1.6 1.6 0 1 0 3.2 0a1.6 1.6 0 1 0 -3.2 0M130.9 81.2a1.6 1.6 0 1 0 3.2 0a1.6 1.6 0 1 0 -3.2 0M61.9 227.6a1.6 1.6 0 1 0 3.2 0a1.6 1.6 0 1 0 -3.2 0M174.2 34.3a1.6 1.6 0 1 0 3.2 0a1.6 1.6 0 1 0 -3.2 0M177.1 234.5a1.6 1.6 0 1 0 3.2 0a1.6 1.6 0 1 0 -3.2 0M210.8 245.6a1.6 1.6 0 1 0 3.2 0a1.6 1.6 0 1 0 -3.2 0M103.8 137.2a1.6 1.6 0 1 0 3.2 0a1.6 1.6 0 1 0 -3.2 0M217.8 119.8a1.6 1.6 0 1 0 3.2 0a1.6 1.6 0 1 0 -3.2 0M215.5 53.1a1.6 1.6 0 1 0 3.2 0a1.6 1.6 0 1 0 -3.2 0M210.2 142.6a1.6 1.6 0 1 0 3.2 0a1.6 1.6 0 1 0 -3.2 0M25.1 219.4a1.6 1.6 0 1 0 3.2 0a1.6 1.6 0 1 0 -3.2 0M51.2 119.7a1.6 1.6 0 1 0 3.2 0a1.6 1.6 0 1 0 -3.2 0M41.7 148.7a1.6 1.6 0 1 0 3.2 0a1.6 1.6 0 1 0 -3.2 0M108.4 76.5a1.6 1.6 0 1 0 3.2 0a1.6 1.6 0 1 0 -3.2 0M98.0 66.9a1.6 1.6 0 1 0 3.2 0a1.6 1.6 0 1 0 -3.2 0M217.0 212.0a1.6 1.6 0 1 0 3.2 0a1.6 1.6 0 1 0 -3.2 0M27.1 101.1a1.6 1.6 0 1 0 3.2 0a1.6 1.6 0 1 0 -3.2 0M242.4 137.7a1.6 1.6 0 1 0 3.2 0a1.6 1.6 0 1 0 -3.2 0M39.8 201.3a1.6 1.6 0 1 0 3.2 0a1.6 1.6 0 1 0 -3.2 0M184.1 232.9a1.6 1.6 0 1 0 3.2 0a1.6 1.6 0 1 0 -3.2 0M270.8 142.8a1.6 1.6 0 1 0 3.2 0a1.6 1.6 0 1 0 -3.2 0M237.1 87.6a1.6 1.6 0 1 0 3.2 0a1.6 1.6 0 1 0 -3.2 0M216.3 99.1a1.6 1.6 0 1 0 3.2 0a1.6 1.6 0 1 0 -3.2 0M188.6 226.2a1.6 1.6 0 1 0 3.2 0a1.6 1.6 0 1 0 -3.2 0M42.5 152.6a1.6 1.6 0 1 0 3.2 0a1.6 1.6 0 1 0 -3.2 0M168.9 219.8a1.6 1.6 0 1 0 3.2 0a1.6 1.6 0 1 0 -3.2 0M68.7 79.2a1.6 1.6 0 1 0 3.2 0a1.6 1.6 0 1 0 -3.2 0M60.7 270.5a1.6 1.6 0 1 0 3.2 0a1.6 1.6 0 1 0 -3.2 0M122.5 134.7a1.6 1.6 0 1 0 3.2 0a1.6 1.6 0 1 0 -3.2 0M103.3 270.3a1.6 1.6 0 1 0 3.2 0a1.6 1.6 0 1 0 -3.2 0M225.8 162.0a1.6 1.6 0 1 0 3.2 0a1.6 1.6 0 1 0 -3.2 0M204.2 68.5a1.6 1.6 0 1 0 3.2 0a1.6 1.6 0 1 0 -3.2 0M111.5 101.8a1.6 1.6 0 1 0 3.2 0a1.6 1.6 0 1 0 -3.2 0M37.9 161.4a1.6 1.6 0 1 0 3.2 0a1.6 1.6 0 1 0 -3.2 0M188.0 201.7a1.6 1.6 0 1 0 3.2 0a1.6 1.6 0 1 0 -3.2 0M147.4 109.3a1.6 1.6 0 1 0 3.2 0a1.6 1.6 0 1 0 -3.2 0M195.1 196.9a1.6 1.6 0 1 0 3.2 0a1.6 1.6 0 1 0 -3.2 0M162.3 167.4a1.6 1.6 0 1 0 3.2 0a1.6 1.6 0 1 0 -3.2 0M155.2 77.1a1.6 1.6 0 1 0 3.2 0a1.6 1.6 0 1 0 -3.2 0M125.6 75.0a1.6 1.6 0 1 0 3.2 0a1.6 1.6 0 1 0 -3.2 0M181.6 227.1a1.6 1.6 0 1 0 3.2 0a1.6 1.6 0 1 0 -3.2 0M252.1 237.7a1.6 1.6 0 1 0 3.2 0a1.6 1.6 0 1 0 -3.2 0M69.2 117.2a1.6 1.6 0 1 0 3.2 0a1.6 1.6 0 1 0 -3.2 0M268.6 204.4a1.6 1.6 0 1 0 3.2 0a1.6 1.6 0 1 0 -3.2 0M25.9 92.3a1.6 1.6 0 1 0 3.2 0a1.6 1.6 0 1 0 -3.2 0M144.5 194.1a1.6 1.6 0 1 0 3.2 0a1.6 1.6 0 1 0 -3.2 0M91.9 281.7a1.6 1.6 0 1 0 3.2 0a1.6 1.6 0 1 0 -3.2 0M177.1 85.6a1.6 1.6 0 1 0 3.2 0a1.6 1.6 0 1 0 -3.2 0M8.6 163.8a1.6 1.6 0 1 0 3.2 0a1.6 1.6 0 1 0 -3.2 0M148.4 250.9a1.6 1.6 0 1 0 3.2 0a1.6 1.6 0 1 0 -3.2 0M130.5 90.9a1.6 1.6 0 1 0 3.2 0a1.6 1.6 0 1 0 -3.2 0M19.8 172.3a1.6 1.6 0 1 0 3.2 0a1.6 1.6 0 1 0 -3.2 0M103.3 210.7a1.6 1.6 0 1 0 3.2 0a1.6 1.6 0 1 0 -3.2 0M222.8 145.8a1.6 1.6 0 1 0 3.2 0a1.6 1.6 0 1 0 -3.2 0M95.8 140.2a1.6 1.6 0 1 0 3.2 0a1.6 1.6 0 1 0 -3.2 0M111.0 183.3a1.6 1.6 0 1 0 3.2 0a1.6 1.6 0 1 0 -3.2 0M235.5 249.2a1.6 1.6 0 1 0 3.2 0a1.6 1.6 0 1 0 -3.2 0M172.9 233.5a1.6 1.6 0 1 0 3.2 0a1.6 1.6 0 1 0 -3.2 0M100.4 86.4a1.6 1.6 0 1 0 3.2 0a1.6 1.6 0 1 0 -3.2 0M210.6 258.7a1.6 1.6 0 1 0 3.2 0a1.6 1.6 0 1 0 -3.2 0M172.4 112.6a1.6 1.6 0 1 0 3.2 0a1.6 1.6 0 1 0 -3.2 0M24.2 204.7a1.6 1.6 0 1 0 3.2 0a1.6 1.6 0 1 0 -3.2 0M165.0 102.8a1.6 1.6 0 1 0 3.2 0a1.6 1.6 0 1 0 -3.2 0M72.0 255.8a1.6 1.6 0 1 0 3.2 0a1.6 1.6 0 1 0 -3.2 0M46.8 255.3a1.6 1.6 0 1 0 3.2 0a1.6 1.6 0 1 0 -3.2 0M73.1 157.8a1.6 1.6 0 1 0 3.2 0a1.6 1.6 0 1 0 -3.2 0M91.2 176.3a1.6 1.6 0 1 0 3.2 0a1.6 1.6 0 1 0 -3.2 0M123.9 86.9a1.6 1.6 0 1 0 3.2 0a1.6 1.6 0 1 0 -3.2 0M232.8 95.5a1.6 1.6 0 1 0 3.2 0a1.6 1.6 0 1 0 -3.2 0M94.4 214.6a1.6 1.6 0 1 0 3.2 0a1.6 1.6 0 1 0 -3.2 0M182.0 121.1a1.6 1.6 0 1 0 3.2 0a1.6 1.6 0 1 0 -3.2 0M128.6 282.7a1.6 1.6 0 1 0 3.2 0a1.6 1.6 0 1 0 -3.2 0M58.1 236.2a1.6 1.6 0 1 0 3.2 0a1.6 1.6 0 1 0 -3.2 0M69.6 126.1a1.6 1.6 0 1 0 3.2 0a1.6 1.6 0 1 0 -3.2 0M94.5 264.2a1.6 1.6 0 1 0 3.2 0a1.6 1.6 0 1 0 -3.2 0M227.5 227.8a1.6 1.6 0 1 0 3.2 0a1.6 1.6 0 1 0 -3.2 0M117.6 226.0a1.6 1.6 0 1 0 3.2 0a1.6 1.6 0 1 0 -3.2 0M228.4 245.2a1.6 1.6 0 1 0 3.2 0a1.6 1.6 0 1 0 -3.2 0M125.7 250.5a1.6 1.6 0 1 0 3.2 0a1.6 1.6 0 1 0 -3.2 0M248.6 92.9a1.6 1.6 0 1 0 3.2 0a1.6 1.6 0 1 0 -3.2 0M259.2 181.6a1.6 1.6 0 1 0 3.2 0a1.6 1.6 0 1 0 -3.2 0M99.6 85.7a1.6 1.6 0 1 0 3.2 0a1.6 1.6 0 1 0 -3.2 0M121.1 89.5a1.6 1.6 0 1 0 3.2 0a1.6 1.6 0 1 0 -3.2 0M99.9 113.3a1.6 1.6 0 1 0 3.2 0a1.6 1.6 0 1 0 -3.2 0M244.3 248.4a1.6 1.6 0 1 0 3.2 0a1.6 1.6 0 1 0 -3.2 0M132.5 41.3a1.6 1.6 0 1 0 3.2 0a1.6 1.6 0 1 0 -3.2 0M179.6 217.1a1.6 1.6 0 1 0 3.2 0a1.6 1.6 0 1 0 -3.2 0M114.9 245.1a1.6 1.6 0 1 0 3.2 0a1.6 1.6 0 1 0 -3.2 0M36.9 206.6a1.6 1.6 0 1 0 3.2 0a1.6 1.6 0 1 0 -3.2 0M207.1 52.9a1.6 1.6 0 1 0 3.2 0a1.6 1.6 0 1 0 -3.2 0M214.9 181.6a1.6 1.6 0 1 0 3.2 0a1.6 1.6 0 1 0 -3.2 0M240.2 240.5a1.6 1.6 0 1 0 3.2 0a1.6 1.6 0 1 0 -3.2 0M144.3 113.9a1.6 1.6 0 1 0 3.2 0a1.6 1.6 0 1 0 -3.2 0M142.4 32.3a1.6 1.6 0 1 0 3.2 0a1.6 1.6 0 1 0 -3.2 0M135.3 206.1a1.6 1.6 0 1 0 3.2 0a1.6 1.6 0 1 0 -3.2 0M233.6 128.8a1.6 1.6 0 1 0 3.2 0a1.6 1.6 0 1 0 -3.2 0M251.0 110.0a1.6 1.6 0 1 0 3.2 0a1.6 1.6 0 1 0 -3.2 0M135.3 32.5a1.6 1.6 0 1 0 3.2 0a1.6 1.6 0 1 0 -3.2 0M76.9 89.9a1.6 1.6 0 1 0 3.2 0a1.6 1.6 0 1 0 -3.2 0M255.8 199.6a1.6 1.6 0 1 0 3.2 0a1.6 1.6 0 1 0 -3.2 0M51.8 204.7a1.6 1.6 0 1 0 3.2 0a1.6 1.6 0 1 0 -3.2 0M193.9 136.0a1.6 1.6 0 1 0 3.2 0a1.6 1.6 0 1 0 -3.2 0M146.9 126.1a1.6 1.6 0 1 0 3.2 0a1.6 1.6 0 1 0 -3.2 0M107.5 39.4a1.6 1.6 0 1 0 3.2 0a1.6 1.6 0 1 0 -3.2 0M137.0 265.6a1.6 1.6 0 1 0 3.2 0a1.6 1.6 0 1 0 -3.2 0M255.8 138.3a1.6 1.6 0 1 0 3.2 0a1.6 1.6 0 1 0 -3.2 0M72.8 139.7a1.6 1.6 0 1 0 3.2 0a1.6 1.6 0 1 0 -3.2 0M225.9 191.9a1.6 1.6 0 1 0 3.2 0a1.6 1.6 0 1 0 -3.2 0M123.3 212.7a1.6 1.6 0 1 0 3.2 0a1.6 1.6 0 1 0 -3.2 0M113.4 48.1a1.6 1.6 0 1 0 3.2 0a1.6 1.6 0 1 0 -3.2 0M48.3 150.7a1.6 1.6 0 1 0 3.2 0a1.6 1.6 0 1 0 -3.2 0M224.3 125.9a1.6 1.6 0 1 0 3.2 0a1.6 1.6 0 1 0 -3.2 0M104.2 285.3a1.6 1.6 0 1 0 3.2 0a1.6 1.6 0 1 0 -3.2 0M211.8 243.5a1.6 1.6 0 1 0 3.2 0a1.6 1.6 0 1 0 -3.2 0M27.1 123.3a1.6 1.6 0 1 0 3.2 0a1.6 1.6 0 1 0 -3.2 0M200.7 261.2a1.6 1.6 0 1 0 3.2 0a1.6 1.6 0 1 0 -3.2 0M64.5 103.0a1.6 1.6 0 1 0 3.2 0a1.6 1.6 0 1 0 -3.2 0M157.4 32.8a1.6 1.6 0 1 0 3.2 0a1.6 1.6 0 1 0 -3.2 0M204.2 212.4a1.6 1.6 0 1 0 3.2 0a1.6 1.6 0 1 0 -3.2 0M100.7 212.5a1.6 1.6 0 1 0 3.2 0a1.6 1.6 0 1 0 -3.2 0M95.0 176.7a1.6 1.6 0 1 0 3.2 0a1.6 1.6 0 1 0 -3.2 0M99.8 248.2a1.6 1.6 0 1 0 3.2 0a1.6 1.6 0 1 0 -3.2 0M266.4 154.0a1.6 1.6 0 1 0 3.2 0a1.6 1.6 0 1 0 -3.2 0M251.0 146.7a1.6 1.6 0 1 0 3.2 0a1.6 1.6 0 1 0 -3.2 0M244.2 104.8a1.6 1.6 0 1 0 3.2 0a1.6 1.6 0 1 0 -3.2 0M101.5 98.9a1.6 1.6 0 1 0 3.2 0a1.6 1.6 0 1 0 -3.2 0M145.8 217.1a1.6 1.6 0 1 0 3.2 0a1.6 1.6 0 1 0 -3.2 0M266.4 181.4a1.6 1.6 0 1 0 3.2 0a1.6 1.6 0 1 0 -3.2 0M187.3 92.0a1.6 1.6 0 1 0 3.2 0a1.6 1.6 0 1 0 -3.2 0M205.5 268.6a1.6 1.6 0 1 0 3.2 0a1.6 1.6 0 1 0 -3.2 0M203.2 53.6a1.6 1.6 0 1 0 3.2 0a1.6 1.6 0 1 0 -3.2 0M114.3 217.6a1.6 1.6 0 1 0 3.2 0a1.6 1.6 0 1 0 -3.2 0M182.4 85.9a1.6 1.6 0 1 0 3.2 0a1.6 1.6 0 1 0 -3.2 0M72.3 238.2a1.6 1.6 0 1 0 3.2 0a1.6 1.6 0 1 0 -3.2 0M57.3 253.6a1.6 1.6 0 1 0 3.2 0a1.6 1.6 0 1 0 -3.2 0M146.6 193.0a1.6 1.6 0 1 0 3.2 0a1.6 1.6 0 1 0 -3.2 0M194.8 52.4a1.6 1.6 0 1 0 3.2 0a1.6 1.6 0 1 0 -3.2 0M42.8 163.6a1.6 1.6 0 1 0 3.2 0a1.6 1.6 0 1 0 -3.2 0M188.8 227.5a1.6 1.6 0 1 0 3.2 0a1.6 1.6 0 1 0 -3.2 0M105.4 138.2a1.6 1.6 0 1 0 3.2 0a1.6 1.6 0 1 0 -3.2 0M121.0 103.1a1.6 1.6 0 1 0 3.2 0a1.6 1.6 0 1 0 -3.2 0M15.9 207.9a1.6 1.6 0 1 0 3.2 0a1.6 1.6 0 1 0 -3.2 0M83.1 184.5a1.6 1.6 0 1 0 3.2 0a1.6 1.6 0 1 0 -3.2 0M142.7 150.3a1.6 1.6 0 1 0 3.2 0a1.6 1.6 0 1 0 -3.2 0M214.4 51.0a1.6 1.6 0 1 0 3.2 0a1.6 1.6 0 1 0 -3.2 0M166.2 67.9a1.6 1.6 0 1 0 3.2 0a1.6 1.6 0 1 0 -3.2 0M120.5 272.9a1.6 1.6 0 1 0 3.2 0a1.6 1.6 0 1 0 -3.2 0M50.6 151.4a1.6 1.6 0 1 0 3.2 0a1.6 1.6 0 1 0 -3.2 0M93.7 241.4a1.6 1.6 0 1 0 3.2 0a1.6 1.6 0 1 0 -3.2 0M80.2 49.8a1.6 1.6 0 1 0 3.2 0a1.6 1.6 0 1 0 -3.2 0M195.2 125.0a1.6 1.6 0 1 0 3.2 0a1.6 1.6 0 1 0 -3.2 0M159.8 203.2a1.6 1.6 0 1 0 3.2 0a1.6 1.6 0 1 0 -3.2 0M275.4 136.1a1.6 1.6 0 1 0 3.2 0a1.6 1.6 0 1 0 -3.2 0M235.5 57.2a1.6 1.6 0 1 0 3.2 0a1.6 1.6 0 1 0 -3.2 0M159.1 123.7a1.6 1.6 0 1 0 3.2 0a1.6 1.6 0 1 0 -3.2 0M94.8 60.5a1.6 1.6 0 1 0 3.2 0a1.6 1.6 0 1 0 -3.2 0M240.0 130.8a1.6 1.6 0 1 0 3.2 0a1.6 1.6 0 1 0 -3.2 0M95.8 95.4a1.6 1.6 0 1 0 3.2 0a1.6 1.6 0 1 0 -3.2 0M102.5 72.8a1.6 1.6 0 1 0 3.2 0a1.6 1.6 0 1 0 -3.2 0M68.9 238.4a1.6 1.6 0 1 0 3.2 0a1.6 1.6 0 1 0 -3.2 0M54.0 212.4a1.6 1.6 0 1 0 3.2 0a1.6 1.6 0 1 0 -3.2 0M60.2 123.7a1.6 1.6 0 1 0 3.2 0a1.6 1.6 0 1 0 -3.2 0M192.9 202.3a1.6 1.6 0 1 0 3.2 0a1.6 1.6 0 1 0 -3.2 0M226.1 92.4a1.6 1.6 0 1 0 3.2 0a1.6 1.6 0 1 0 -3.2 0M143.3 208.2a1.6 1.6 0 1 0 3.2 0a1.6 1.6 0 1 0 -3.2 0M71.1 145.6a1.6 1.6 0 1 0 3.2 0a1.6 1.6 0 1 0 -3.2 0M38.1 167.2a1.6 1.6 0 1 0 3.2 0a1.6 1.6 0 1 0 -3.2 0M106.5 136.4a1.6 1.6 0 1 0 3.2 0a1.6 1.6 0 1 0 -3.2 0M108.4 183.5a1.6 1.6 0 1 0 3.2 0a1.6 1.6 0 1 0 -3.2 0M23.6 208.3a1.6 1.6 0 1 0 3.2 0a1.6 1.6 0 1 0 -3.2 0M30.9 122.7a1.6 1.6 0 1 0 3.2 0a1.6 1.6 0 1 0 -3.2 0M146.7 107.6a1.6 1.6 0 1 0 3.2 0a1.6 1.6 0 1 0 -3.2 0M264.2 153.0a1.6 1.6 0 1 0 3.2 0a1.6 1.6 0 1 0 -3.2 0M95.5 199.4a1.6 1.6 0 1 0 3.2 0a1.6 1.6 0 1 0 -3.2 0M153.3 103.9a1.6 1.6 0 1 0 3.2 0a1.6 1.6 0 1 0 -3.2 0M150.7 122.1a1.6 1.6 0 1 0 3.2 0a1.6 1.6 0 1 0 -3.2 0M151.7 248.8a1.6 1.6 0 1 0 3.2 0a1.6 1.6 0 1 0 -3.2 0M253.9 170.5a1.6 1.6 0 1 0 3.2 0a1.6 1.6 0 1 0 -3.2 0M163.0 238.7a1.6 1.6 0 1 0 3.2 0a1.6 1.6 0 1 0 -3.2 0M230.2 87.7a1.6 1.6 0 1 0 3.2 0a1.6 1.6 0 1 0 -3.2 0M257.9 95.3a1.6 1.6 0 1 0 3.2 0a1.6 1.6 0 1 0 -3.2 0M204.4 266.0a1.6 1.6 0 1 0 3.2 0a1.6 1.6 0 1 0 -3.2 0M90.5 44.4a1.6 1.6 0 1 0 3.2 0a1.6 1.6 0 1 0 -3.2 0M208.4 222.2a1.6 1.6 0 1 0 3.2 0a1.6 1.6 0 1 0 -3.2 0M138.4 126.6a1.6 1.6 0 1 0 3.2 0a1.6 1.6 0 1 0 -3.2 0M105.3 130.1a1.6 1.6 0 1 0 3.2 0a1.6 1.6 0 1 0 -3.2 0M24.3 122.0a1.6 1.6 0 1 0 3.2 0a1.6 1.6 0 1 0 -3.2 0M246.2 247.5a1.6 1.6 0 1 0 3.2 0a1.6 1.6 0 1 0 -3.2 0M178.2 250.6a1.6 1.6 0 1 0 3.2 0a1.6 1.6 0 1 0 -3.2 0M162.9 176.0a1.6 1.6 0 1 0 3.2 0a1.6 1.6 0 1 0 -3.2 0M241.1 240.4a1.6 1.6 0 1 0 3.2 0a1.6 1.6 0 1 0 -3.2 0M186.6 257.9a1.6 1.6 0 1 0 3.2 0a1.6 1.6 0 1 0 -3.2 0M115.2 273.7a1.6 1.6 0 1 0 3.2 0a1.6 1.6 0 1 0 -3.2 0M101.8 199.6a1.6 1.6 0 1 0 3.2 0a1.6 1.6 0 1 0 -3.2 0M163.6 153.6a1.6 1.6 0 1 0 3.2 0a1.6 1.6 0 1 0 -3.2 0M111.9 209.6a1.6 1.6 0 1 0 3.2 0a1.6 1.6 0 1 0 -3.2 0M154.0 130.6a1.6 1.6 0 1 0 3.2 0a1.6 1.6 0 1 0 -3.2 0M84.5 169.2a1.6 1.6 0 1 0 3.2 0a1.6 1.6 0 1 0 -3.2 0M222.1 80.3a1.6 1.6 0 1 0 3.2 0a1.6 1.6 0 1 0 -3.2 0M219.3 198.7a1.6 1.6 0 1 0 3.2 0a1.6 1.6 0 1 0 -3.2 0M172.2 289.2a1.6 1.6 0 1 0 3.2 0a1.6 1.6 0 1 0 -3.2 0M115.6 141.9a1.6 1.6 0 1 0 3.2 0a1.6 1.6 0 1 0 -3.2 0M38.1 181.8a1.6 1.6 0 1 0 3.2 0a1.6 1.6 0 1 0 -3.2 0M78.1 216.4a1.6 1.6 0 1 0 3.2 0a1.6 1.6 0 1 0 -3.2 0M253.0 164.1a1.6 1.6 0 1 0 3.2 0a1.6 1.6 0 1 0 -3.2 0M132.3 180.9a1.6 1.6 0 1 0 3.2 0a1.6 1.6 0 1 0 -3.2 0M10.7 194.9a1.6 1.6 0 1 0 3.2 0a1.6 1.6 0 1 0 -3.2 0M200.5 176.4a1.6 1.6 0 1 0 3.2 0a1.6 1.6 0 1 0 -3.2 0M107.5 91.9a1.6 1.6 0 1 0 3.2 0a1.6 1.6 0 1 0 -3.2 0M129.5 260.7a1.6 1.6 0 1 0 3.2 0a1.6 1.6 0 1 0 -3.2 0M136.2 267.5a1.6 1.6 0 1 0 3.2 0a1.6 1.6 0 1 0 -3.2 0M10.3 136.0a1.6 1.6 0 1 0 3.2 0a1.6 1.6 0 1 0 -3.2 0M29.6 114.0a1.6 1.6 0 1 0 3.2 0a1.6 1.6 0 1 0 -3.2 0M93.2 219.6a1.6 1.6 0 1 0 3.2 0a1.6 1.6 0 1 0 -3.2 0M252.8 116.0a1.6 1.6 0 1 0 3.2 0a1.6 1.6 0 1 0 -3.2 0M103.4 276.1a1.6 1.6 0 1 0 3.2 0a1.6 1.6 0 1 0 -3.2 0M137.7 57.7a1.6 1.6 0 1 0 3.2 0a1.6 1.6 0 1 0 -3.2 0M87.1 94.9a1.6 1.6 0 1 0 3.2 0a1.6 1.6 0 1 0 -3.2 0M56.4 131.0a1.6 1.6 0 1 0 3.2 0a1.6 1.6 0 1 0 -3.2 0M223.6 191.6a1.6 1.6 0 1 0 3.2 0a1.6 1.6 0 1 0 -3.2 0M83.0 283.9a1.6 1.6 0 1 0 3.2 0a1.6 1.6 0 1 0 -3.2 0M56.4 170.3a1.6 1.6 0 1 0 3.2 0a1.6 1.6 0 1 0 -3.2 0M111.4 205.9a1.6 1.6 0 1 0 3.2 0a1.6 1.6 0 1 0 -3.2 0M274.9 165.9a1.6 1.6 0 1 0 3.2 0a1.6 1.6 0 1 0 -3.2 0M70.7 126.0a1.6 1.6 0 1 0 3.2 0a1.6 1.6 0 1 0 -3.2 0M164.4 195.8a1.6 1.6 0 1 0 3.2 0a1.6 1.6 0 1 0 -3.2 0M118.4 237.6a1.6 1.6 0 1 0 3.2 0a1.6 1.6 0 1 0 -3.2 0M128.9 54.8a1.6 1.6 0 1 0 3.2 0a1.6 1.6 0 1 0 -3.2 0M223.5 127.2a1.6 1.6 0 1 0 3.2 0a1.6 1.6 0 1 0 -3.2 0M240.4 108.2a1.6 1.6 0 1 0 3.2 0a1.6 1.6 0 1 0 -3.2 0M200.5 190.9a1.6 1.6 0 1 0 3.2 0a1.6 1.6 0 1 0 -3.2 0M23.5 93.0a1.6 1.6 0 1 0 3.2 0a1.6 1.6 0 1 0 -3.2 0M67.3 256.9a1.6 1.6 0 1 0 3.2 0a1.6 1.6 0 1 0 -3.2 0M27.0 216.8a1.6 1.6 0 1 0 3.2 0a1.6 1.6 0 1 0 -3.2 0M207.1 113.9a1.6 1.6 0 1 0 3.2 0a1.6 1.6 0 1 0 -3.2 0M183.7 226.1a1.6 1.6 0 1 0 3.2 0a1.6 1.6 0 1 0 -3.2 0M124.6 92.8a1.6 1.6 0 1 0 3.2 0a1.6 1.6 0 1 0 -3.2 0M90.0 199.8a1.6 1.6 0 1 0 3.2 0a1.6 1.6 0 1 0 -3.2 0M40.5 81.6a1.6 1.6 0 1 0 3.2 0a1.6 1.6 0 1 0 -3.2 0M104.4 106.4a1.6 1.6 0 1 0 3.2 0a1.6 1.6 0 1 0 -3.2 0M192.2 38.1a1.6 1.6 0 1 0 3.2 0a1.6 1.6 0 1 0 -3.2 0M113.6 207.7a1.6 1.6 0 1 0 3.2 0a1.6 1.6 0 1 0 -3.2 0M184.2 257.2a1.6 1.6 0 1 0 3.2 0a1.6 1.6 0 1 0 -3.2 0M205.6 127.8a1.6 1.6 0 1 0 3.2 0a1.6 1.6 0 1 0 -3.2 0M89.5 85.5a1.6 1.6 0 1 0 3.2 0a1.6 1.6 0 1 0 -3.2 0M93.1 247.3a1.6 1.6 0 1 0 3.2 0a1.6 1.6 0 1 0 -3.2 0M124.8 164.6a1.6 1.6 0 1 0 3.2 0a1.6 1.6 0 1 0 -3.2 0M53.7 81.1a1.6 1.6 0 1 0 3.2 0a1.6 1.6 0 1 0 -3.2 0M181.4 73.1a1.6 1.6 0 1 0 3.2 0a1.6 1.6 0 1 0 -3.2 0M36.1 121.0a1.6 1.6 0 1 0 3.2 0a1.6 1.6 0 1 0 -3.2 0M76.5 109.7a1.6 1.6 0 1 0 3.2 0a1.6 1.6 0 1 0 -3.2 0M140.2 84.6a1.6 1.6 0 1 0 3.2 0a1.6 1.6 0 1 0 -3.2 0M114.9 40.5a1.6 1.6 0 1 0 3.2 0a1.6 1.6 0 1 0 -3.2 0M157.7 79.1a1.6 1.6 0 1 0 3.2 0a1.6 1.6 0 1 0 -3.2 0M69.6 182.7a1.6 1.6 0 1 0 3.2 0a1.6 1.6 0 1 0 -3.2 0M10.6 140.3a1.6 1.6 0 1 0 3.2 0a1.6 1.6 0 1 0 -3.2 0M155.7 172.3a1.6 1.6 0 1 0 3.2 0a1.6 1.6 0 1 0 -3.2 0M30.8 177.4a1.6 1.6 0 1 0 3.2 0a1.6 1.6 0 1 0 -3.2 0M157.7 73.0a1.6 1.6 0 1 0 3.2 0a1.6 1.6 0 1 0 -3.2 0M215.7 155.3a1.6 1.6 0 1 0 3.2 0a1.6 1.6 0 1 0 -3.2 0M146.3 113.0a1.6 1.6 0 1 0 3.2 0a1.6 1.6 0 1 0 -3.2 0M199.8 169.8a1.6 1.6 0 1 0 3.2 0a1.6 1.6 0 1 0 -3.2 0M239.1 197.6a1.6 1.6 0 1 0 3.2 0a1.6 1.6 0 1 0 -3.2 0M83.7 138.0a1.6 1.6 0 1 0 3.2 0a1.6 1.6 0 1 0 -3.2 0M182.1 211.5a1.6 1.6 0 1 0 3.2 0a1.6 1.6 0 1 0 -3.2 0M134.1 26.4a1.6 1.6 0 1 0 3.2 0a1.6 1.6 0 1 0 -3.2 0M159.2 184.1a1.6 1.6 0 1 0 3.2 0a1.6 1.6 0 1 0 -3.2 0M157.3 87.7a1.6 1.6 0 1 0 3.2 0a1.6 1.6 0 1 0 -3.2 0M245.4 148.7a1.6 1.6 0 1 0 3.2 0a1.6 1.6 0 1 0 -3.2 0M175.0 66.9a1.6 1.6 0 1 0 3.2 0a1.6 1.6 0 1 0 -3.2 0M85.0 278.8a1.6 1.6 0 1 0 3.2 0a1.6 1.6 0 1 0 -3.2 0M238.6 235.8a1.6 1.6 0 1 0 3.2 0a1.6 1.6 0 1 0 -3.2 0M249.0 205.6a1.6 1.6 0 1 0 3.2 0a1.6 1.6 0 1 0 -3.2 0M38.2 235.3a1.6 1.6 0 1 0 3.2 0a1.6 1.6 0 1 0 -3.2 0M244.3 199.5a1.6 1.6 0 1 0 3.2 0a1.6 1.6 0 1 0 -3.2 0M31.4 231.8a1.6 1.6 0 1 0 3.2 0a1.6 1.6 0 1 0 -3.2 0M156.5 233.8a1.6 1.6 0 1 0 3.2 0a1.6 1.6 0 1 0 -3.2 0M137.0 255.2a1.6 1.6 0 1 0 3.2 0a1.6 1.6 0 1 0 -3.2 0M102.8 292.3a1.6 1.6 0 1 0 3.2 0a1.6 1.6 0 1 0 -3.2 0M166.9 265.5a1.6 1.6 0 1 0 3.2 0a1.6 1.6 0 1 0 -3.2 0M216.4 268.4a1.6 1.6 0 1 0 3.2 0a1.6 1.6 0 1 0 -3.2 0M196.7 103.8a1.6 1.6 0 1 0 3.2 0a1.6 1.6 0 1 0 -3.2 0M145.6 32.7a1.6 1.6 0 1 0 3.2 0a1.6 1.6 0 1 0 -3.2 0M127.2 242.8a1.6 1.6 0 1 0 3.2 0a1.6 1.6 0 1 0 -3.2 0M13.0 172.0a1.6 1.6 0 1 0 3.2 0a1.6 1.6 0 1 0 -3.2 0M206.1 259.5a1.6 1.6 0 1 0 3.2 0a1.6 1.6 0 1 0 -3.2 0M64.8 104.0a1.6 1.6 0 1 0 3.2 0a1.6 1.6 0 1 0 -3.2 0M177.2 287.3a1.6 1.6 0 1 0 3.2 0a1.6 1.6 0 1 0 -3.2 0M65.0 255.6a1.6 1.6 0 1 0 3.2 0a1.6 1.6 0 1 0 -3.2 0M235.4 55.4a1.6 1.6 0 1 0 3.2 0a1.6 1.6 0 1 0 -3.2 0M136.7 185.0a1.6 1.6 0 1 0 3.2 0a1.6 1.6 0 1 0 -3.2 0M215.1 258.3a1.6 1.6 0 1 0 3.2 0a1.6 1.6 0 1 0 -3.2 0M195.5 195.9a1.6 1.6 0 1 0 3.2 0a1.6 1.6 0 1 0 -3.2 0M125.1 117.0a1.6 1.6 0 1 0 3.2 0a1.6 1.6 0 1 0 -3.2 0M73.0 273.2a1.6 1.6 0 1 0 3.2 0a1.6 1.6 0 1 0 -3.2 0M116.8 31.6a1.6 1.6 0 1 0 3.2 0a1.6 1.6 0 1 0 -3.2 0M174.1 156.2a1.6 1.6 0 1 0 3.2 0a1.6 1.6 0 1 0 -3.2 0M156.5 284.6a1.6 1.6 0 1 0 3.2 0a1.6 1.6 0 1 0 -3.2 0M98.7 181.3a1.6 1.6 0 1 0 3.2 0a1.6 1.6 0 1 0 -3.2 0M281.7 177.3a1.6 1.6 0 1 0 3.2 0a1.6 1.6 0 1 0 -3.2 0M91.2 279.9a1.6 1.6 0 1 0 3.2 0a1.6 1.6 0 1 0 -3.2 0M217.5 229.1a1.6 1.6 0 1 0 3.2 0a1.6 1.6 0 1 0 -3.2 0M206.8 231.5a1.6 1.6 0 1 0 3.2 0a1.6 1.6 0 1 0 -3.2 0M83.0 240.7a1.6 1.6 0 1 0 3.2 0a1.6 1.6 0 1 0 -3.2 0M174.2 293.7a1.6 1.6 0 1 0 3.2 0a1.6 1.6 0 1 0 -3.2 0M234.0 79.1a1.6 1.6 0 1 0 3.2 0a1.6 1.6 0 1 0 -3.2 0M140.6 201.5a1.6 1.6 0 1 0 3.2 0a1.6 1.6 0 1 0 -3.2 0M54.9 218.3a1.6 1.6 0 1 0 3.2 0a1.6 1.6 0 1 0 -3.2 0M132.7 173.6a1.6 1.6 0 1 0 3.2 0a1.6 1.6 0 1 0 -3.2 0M100.9 53.8a1.6 1.6 0 1 0 3.2 0a1.6 1.6 0 1 0 -3.2 0M42.3 131.1a1.6 1.6 0 1 0 3.2 0a1.6 1.6 0 1 0 -3.2 0M77.4 209.1a1.6 1.6 0 1 0 3.2 0a1.6 1.6 0 1 0 -3.2 0M75.7 219.0a1.6 1.6 0 1 0 3.2 0a1.6 1.6 0 1 0 -3.2 0M157.5 159.9a1.6 1.6 0 1 0 3.2 0a1.6 1.6 0 1 0 -3.2 0M39.8 75.8a1.6 1.6 0 1 0 3.2 0a1.6 1.6 0 1 0 -3.2 0M141.1 271.3a1.6 1.6 0 1 0 3.2 0a1.6 1.6 0 1 0 -3.2 0M92.0 211.1a1.6 1.6 0 1 0 3.2 0a1.6 1.6 0 1 0 -3.2 0M161.2 210.0a1.6 1.6 0 1 0 3.2 0a1.6 1.6 0 1 0 -3.2 0M174.6 140.5a1.6 1.6 0 1 0 3.2 0a1.6 1.6 0 1 0 -3.2 0M115.6 81.3a1.6 1.6 0 1 0 3.2 0a1.6 1.6 0 1 0 -3.2 0M80.0 75.6a1.6 1.6 0 1 0 3.2 0a1.6 1.6 0 1 0 -3.2 0M266.2 160.7a1.6 1.6 0 1 0 3.2 0a1.6 1.6 0 1 0 -3.2 0M206.5 78.3a1.6 1.6 0 1 0 3.2 0a1.6 1.6 0 1 0 -3.2 0M28.4 84.0a1.6 1.6 0 1 0 3.2 0a1.6 1.6 0 1 0 -3.2 0M155.4 272.3a1.6 1.6 0 1 0 3.2 0a1.6 1.6 0 1 0 -3.2 0M140.6 70.3a1.6 1.6 0 1 0 3.2 0a1.6 1.6 0 1 0 -3.2 0M122.9 71.2a1.6 1.6 0 1 0 3.2 0a1.6 1.6 0 1 0 -3.2 0M34.4 141.7a1.6 1.6 0 1 0 3.2 0a1.6 1.6 0 1 0 -3.2 0M163.0 269.9a1.6 1.6 0 1 0 3.2 0a1.6 1.6 0 1 0 -3.2 0M131.9 292.6a1.6 1.6 0 1 0 3.2 0a1.6 1.6 0 1 0 -3.2 0M26.1 180.1a1.6 1.6 0 1 0 3.2 0a1.6 1.6 0 1 0 -3.2 0M45.8 146.3a1.6 1.6 0 1 0 3.2 0a1.6 1.6 0 1 0 -3.2 0M154.8 216.8a1.6 1.6 0 1 0 3.2 0a1.6 1.6 0 1 0 -3.2 0M238.1 114.0a1.6 1.6 0 1 0 3.2 0a1.6 1.6 0 1 0 -3.2 0M41.3 144.4a1.6 1.6 0 1 0 3.2 0a1.6 1.6 0 1 0 -3.2 0M172.7 92.8a1.6 1.6 0 1 0 3.2 0a1.6 1.6 0 1 0 -3.2 0M204.1 272.4a1.6 1.6 0 1 0 3.2 0a1.6 1.6 0 1 0 -3.2 0M34.2 188.1a1.6 1.6 0 1 0 3.2 0a1.6 1.6 0 1 0 -3.2 0M167.2 135.0a1.6 1.6 0 1 0 3.2 0a1.6 1.6 0 1 0 -3.2 0M166.8 110.7a1.6 1.6 0 1 0 3.2 0a1.6 1.6 0 1 0 -3.2 0M214.2 212.6a1.6 1.6 0 1 0 3.2 0a1.6 1.6 0 1 0 -3.2 0M178.4 62.1a1.6 1.6 0 1 0 3.2 0a1.6 1.6 0 1 0 -3.2 0M99.9 173.6a1.6 1.6 0 1 0 3.2 0a1.6 1.6 0 1 0 -3.2 0M34.4 244.7a1.6 1.6 0 1 0 3.2 0a1.6 1.6 0 1 0 -3.2 0M111.6 68.8a1.6 1.6 0 1 0 3.2 0a1.6 1.6 0 1 0 -3.2 0M147.7 100.9a1.6 1.6 0 1 0 3.2 0a1.6 1.6 0 1 0 -3.2 0M72.2 150.6a1.6 1.6 0 1 0 3.2 0a1.6 1.6 0 1 0 -3.2 0M85.5 222.1a1.6 1.6 0 1 0 3.2 0a1.6 1.6 0 1 0 -3.2 0M127.8 175.4a1.6 1.6 0 1 0 3.2 0a1.6 1.6 0 1 0 -3.2 0M177.2 262.9a1.6 1.6 0 1 0 3.2 0a1.6 1.6 0 1 0 -3.2 0M204.2 182.7a1.6 1.6 0 1 0 3.2 0a1.6 1.6 0 1 0 -3.2 0M129.0 83.8a1.6 1.6 0 1 0 3.2 0a1.6 1.6 0 1 0 -3.2 0M111.5 225.6a1.6 1.6 0 1 0 3.2 0a1.6 1.6 0 1 0 -3.2 0M168.3 119.1a1.6 1.6 0 1 0 3.2 0a1.6 1.6 0 1 0 -3.2 0M172.6 250.1a1.6 1.6 0 1 0 3.2 0a1.6 1.6 0 1 0 -3.2 0M173.8 52.0a1.6 1.6 0 1 0 3.2 0a1.6 1.6 0 1 0 -3.2 0M61.6 191.3a1.6 1.6 0 1 0 3.2 0a1.6 1.6 0 1 0 -3.2 0M125.7 81.9a1.6 1.6 0 1 0 3.2 0a1.6 1.6 0 1 0 -3.2 0M48.6 222.5a1.6 1.6 0 1 0 3.2 0a1.6 1.6 0 1 0 -3.2 0M176.8 79.3a1.6 1.6 0 1 0 3.2 0a1.6 1.6 0 1 0 -3.2 0M62.7 231.7a1.6 1.6 0 1 0 3.2 0a1.6 1.6 0 1 0 -3.2 0M203.2 129.9a1.6 1.6 0 1 0 3.2 0a1.6 1.6 0 1 0 -3.2 0M261.8 138.7a1.6 1.6 0 1 0 3.2 0a1.6 1.6 0 1 0 -3.2 0M63.9 243.2a1.6 1.6 0 1 0 3.2 0a1.6 1.6 0 1 0 -3.2 0M124.2 197.1a1.6 1.6 0 1 0 3.2 0a1.6 1.6 0 1 0 -3.2 0M147.8 70.2a1.6 1.6 0 1 0 3.2 0a1.6 1.6 0 1 0 -3.2 0M244.2 88.7a1.6 1.6 0 1 0 3.2 0a1.6 1.6 0 1 0 -3.2 0M252.8 177.6a1.6 1.6 0 1 0 3.2 0a1.6 1.6 0 1 0 -3.2 0M48.9 182.9a1.6 1.6 0 1 0 3.2 0a1.6 1.6 0 1 0 -3.2 0M194.3 80.9a1.6 1.6 0 1 0 3.2 0a1.6 1.6 0 1 0 -3.2 0M14.3 181.8a1.6 1.6 0 1 0 3.2 0a1.6 1.6 0 1 0 -3.2 0M50.6 197.3a1.6 1.6 0 1 0 3.2 0a1.6 1.6 0 1 0 -3.2 0M17.3 150.6a1.6 1.6 0 1 0 3.2 0a1.6 1.6 0 1 0 -3.2 0M86.2 53.5a1.6 1.6 0 1 0 3.2 0a1.6 1.6 0 1 0 -3.2 0M117.6 179.0a1.6 1.6 0 1 0 3.2 0a1.6 1.6 0 1 0 -3.2 0M98.9 63.6a1.6 1.6 0 1 0 3.2 0a1.6 1.6 0 1 0 -3.2 0M159.3 37.3a1.6 1.6 0 1 0 3.2 0a1.6 1.6 0 1 0 -3.2 0M196.3 207.6a1.6 1.6 0 1 0 3.2 0a1.6 1.6 0 1 0 -3.2 0M146.6 52.6a1.6 1.6 0 1 0 3.2 0a1.6 1.6 0 1 0 -3.2 0M254.4 199.6a1.6 1.6 0 1 0 3.2 0a1.6 1.6 0 1 0 -3.2 0M120.1 62.8a1.6 1.6 0 1 0 3.2 0a1.6 1.6 0 1 0 -3.2 0M255.2 199.7a1.6 1.6 0 1 0 3.2 0a1.6 1.6 0 1 0 -3.2 0M49.5 213.8a1.6 1.6 0 1 0 3.2 0a1.6 1.6 0 1 0 -3.2 0M271.3 158.5a1.6 1.6 0 1 0 3.2 0a1.6 1.6 0 1 0 -3.2 0M92.1 249.2a1.6 1.6 0 1 0 3.2 0a1.6 1.6 0 1 0 -3.2 0M115.4 229.3a1.6 1.6 0 1 0 3.2 0a1.6 1.6 0 1 0 -3.2 0M211.8 77.3a1.6 1.6 0 1 0 3.2 0a1.6 1.6 0 1 0 -3.2 0M50.5 153.5a1.6 1.6 0 1 0 3.2 0a1.6 1.6 0 1 0 -3.2 0M221.6 185.7a1.6 1.6 0 1 0 3.2 0a1.6 1.6 0 1 0 -3.2 0M191.2 100.9a1.6 1.6 0 1 0 3.2 0a1.6 1.6 0 1 0 -3.2 0M155.3 195.1a1.6 1.6 0 1 0 3.2 0a1.6 1.6 0 1 0 -3.2 0M57.5 139.5a1.6 1.6 0 1 0 3.2 0a1.6 1.6 0 1 0 -3.2 0M68.0 115.6a1.6 1.6 0 1 0 3.2 0a1.6 1.6 0 1 0 -3.2 0M165.8 96.1a1.6 1.6 0 1 0 3.2 0a1.6 1.6 0 1 0 -3.2 0M237.7 108.2a1.6 1.6 0 1 0 3.2 0a1.6 1.6 0 1 0 -3.2 0M222.7 186.1a1.6 1.6 0 1 0 3.2 0a1.6 1.6 0 1 0 -3.2 0M53.4 140.8a1.6 1.6 0 1 0 3.2 0a1.6 1.6 0 1 0 -3.2 0M113.6 275.2a1.6 1.6 0 1 0 3.2 0a1.6 1.6 0 1 0 -3.2 0M179.9 56.1a1.6 1.6 0 1 0 3.2 0a1.6 1.6 0 1 0 -3.2 0M233.6 193.9a1.6 1.6 0 1 0 3.2 0a1.6 1.6 0 1 0 -3.2 0M121.5 132.5a1.6 1.6 0 1 0 3.2 0a1.6 1.6 0 1 0 -3.2 0M172.0 127.7a1.6 1.6 0 1 0 3.2 0a1.6 1.6 0 1 0 -3.2 0M91.5 123.4a1.6 1.6 0 1 0 3.2 0a1.6 1.6 0 1 0 -3.2 0M239.1 109.8a1.6 1.6 0 1 0 3.2 0a1.6 1.6 0 1 0 -3.2 0M176.2 63.5a1.6 1.6 0 1 0 3.2 0a1.6 1.6 0 1 0 -3.2 0M90.8 56.6a1.6 1.6 0 1 0 3.2 0a1.6 1.6 0 1 0 -3.2 0M125.2 226.3a1.6 1.6 0 1 0 3.2 0a1.6 1.6 0 1 0 -3.2 0M169.9 43.4a1.6 1.6 0 1 0 3.2 0a1.6 1.6 0 1 0 -3.2 0M91.1 35.0a1.6 1.6 0 1 0 3.2 0a1.6 1.6 0 1 0 -3.2 0M262.0 203.7a1.6 1.6 0 1 0 3.2 0a1.6 1.6 0 1 0 -3.2 0M262.4 191.7a1.6 1.6 0 1 0 3.2 0a1.6 1.6 0 1 0 -3.2 0M107.9 289.7a1.6 1.6 0 1 0 3.2 0a1.6 1.6 0 1 0 -3.2 0M257.6 90.0a1.6 1.6 0 1 0 3.2 0a1.6 1.6 0 1 0 -3.2 0M218.2 45.8a1.6 1.6 0 1 0 3.2 0a1.6 1.6 0 1 0 -3.2 0M180.6 47.0a1.6 1.6 0 1 0 3.2 0a1.6 1.6 0 1 0 -3.2 0M37.7 246.6a1.6 1.6 0 1 0 3.2 0a1.6 1.6 0 1 0 -3.2 0M52.1 246.7a1.6 1.6 0 1 0 3.2 0a1.6 1.6 0 1 0 -3.2 0M165.8 287.0a1.6 1.6 0 1 0 3.2 0a1.6 1.6 0 1 0 -3.2 0M126.5 30.1a1.6 1.6 0 1 0 3.2 0a1.6 1.6 0 1 0 -3.2 0M209.0 39.9a1.6 1.6 0 1 0 3.2 0a1.6 1.6 0 1 0 -3.2 0M249.2 105.2a1.6 1.6 0 1 0 3.2 0a1.6 1.6 0 1 0 -3.2 0M264.3 112.0a1.6 1.6 0 1 0 3.2 0a1.6 1.6 0 1 0 -3.2 0M144.7 30.2a1.6 1.6 0 1 0 3.2 0a1.6 1.6 0 1 0 -3.2 0M268.0 101.7a1.6 1.6 0 1 0 3.2 0a1.6 1.6 0 1 0 -3.2 0M39.1 85.7a1.6 1.6 0 1 0 3.2 0a1.6 1.6 0 1 0 -3.2 0M266.7 97.3a1.6 1.6 0 1 0 3.2 0a1.6 1.6 0 1 0 -3.2 0M77.6 259.2a1.6 1.6 0 1 0 3.2 0a1.6 1.6 0 1 0 -3.2 0M146.4 284.4a1.6 1.6 0 1 0 3.2 0a1.6 1.6 0 1 0 -3.2 0M197.7 271.2a1.6 1.6 0 1 0 3.2 0a1.6 1.6 0 1 0 -3.2 0M103.5 290.8a1.6 1.6 0 1 0 3.2 0a1.6 1.6 0 1 0 -3.2 0M17.1 110.3a1.6 1.6 0 1 0 3.2 0a1.6 1.6 0 1 0 -3.2 0M27.5 120.7a1.6 1.6 0 1 0 3.2 0a1.6 1.6 0 1 0 -3.2 0M270.9 187.2a1.6 1.6 0 1 0 3.2 0a1.6 1.6 0 1 0 -3.2 0M248.1 232.6a1.6 1.6 0 1 0 3.2 0a1.6 1.6 0 1 0 -3.2 0M230.9 254.4a1.6 1.6 0 1 0 3.2 0a1.6 1.6 0 1 0 -3.2 0M64.8 265.5a1.6 1.6 0 1 0 3.2 0a1.6 1.6 0 1 0 -3.2 0M73.9 44.0a1.6 1.6 0 1 0 3.2 0a1.6 1.6 0 1 0 -3.2 0M84.5 266.3a1.6 1.6 0 1 0 3.2 0a1.6 1.6 0 1 0 -3.2 0M235.5 67.1a1.6 1.6 0 1 0 3.2 0a1.6 1.6 0 1 0 -3.2 0M15.5 163.1a1.6 1.6 0 1 0 3.2 0a1.6 1.6 0 1 0 -3.2 0M240.8 247.8a1.6 1.6 0 1 0 3.2 0a1.6 1.6 0 1 0 -3.2 0M210.7 270.6a1.6 1.6 0 1 0 3.2 0a1.6 1.6 0 1 0 -3.2 0M12.2 154.4a1.6 1.6 0 1 0 3.2 0a1.6 1.6 0 1 0 -3.2 0M186.9 284.6a1.6 1.6 0 1 0 3.2 0a1.6 1.6 0 1 0 -3.2 0M183.7 290.5a1.6 1.6 0 1 0 3.2 0a1.6 1.6 0 1 0 -3.2 0M152.1 281.1a1.6 1.6 0 1 0 3.2 0a1.6 1.6 0 1 0 -3.2 0M273.7 185.4a1.6 1.6 0 1 0 3.2 0a1.6 1.6 0 1 0 -3.2 0M250.1 73.1a1.6 1.6 0 1 0 3.2 0a1.6 1.6 0 1 0 -3.2 0M25.8 96.2a1.6 1.6 0 1 0 3.2 0a1.6 1.6 0 1 0 -3.2 0M111.0 27.1a1.6 1.6 0 1 0 3.2 0a1.6 1.6 0 1 0 -3.2 0M147.8 287.6a1.6 1.6 0 1 0 3.2 0a1.6 1.6 0 1 0 -3.2 0M280.9 145.3a1.6 1.6 0 1 0 3.2 0a1.6 1.6 0 1 0 -3.2 0M51.9 75.1a1.6 1.6 0 1 0 3.2 0a1.6 1.6 0 1 0 -3.2 0M196.9 38.0a1.6 1.6 0 1 0 3.2 0a1.6 1.6 0 1 0 -3.2 0M192.9 38.8a1.6 1.6 0 1 0 3.2 0a1.6 1.6 0 1 0 -3.2 0M265.3 94.4a1.6 1.6 0 1 0 3.2 0a1.6 1.6 0 1 0 -3.2 0M266.7 111.8a1.6 1.6 0 1 0 3.2 0a1.6 1.6 0 1 0 -3.2 0M85.6 37.4a1.6 1.6 0 1 0 3.2 0a1.6 1.6 0 1 0 -3.2 0M68.4 272.9a1.6 1.6 0 1 0 3.2 0a1.6 1.6 0 1 0 -3.2 0M86.5 263.7a1.6 1.6 0 1 0 3.2 0a1.6 1.6 0 1 0 -3.2 0M267.6 157.9a1.6 1.6 0 1 0 3.2 0a1.6 1.6 0 1 0 -3.2 0M15.7 176.5a1.6 1.6 0 1 0 3.2 0a1.6 1.6 0 1 0 -3.2 0M166.4 41.6a1.6 1.6 0 1 0 3.2 0a1.6 1.6 0 1 0 -3.2 0M184.4 280.6a1.6 1.6 0 1 0 3.2 0a1.6 1.6 0 1 0 -3.2 0M214.2 58.3a1.6 1.6 0 1 0 3.2 0a1.6 1.6 0 1 0 -3.2 0M248.9 228.5a1.6 1.6 0 1 0 3.2 0a1.6 1.6 0 1 0 -3.2 0M65.1 270.2a1.6 1.6 0 1 0 3.2 0a1.6 1.6 0 1 0 -3.2 0M140.6 23.9a1.6 1.6 0 1 0 3.2 0a1.6 1.6 0 1 0 -3.2 0M247.1 90.0a1.6 1.6 0 1 0 3.2 0a1.6 1.6 0 1 0 -3.2 0M200.6 50.1a1.6 1.6 0 1 0 3.2 0a1.6 1.6 0 1 0 -3.2 0M236.3 63.1a1.6 1.6 0 1 0 3.2 0a1.6 1.6 0 1 0 -3.2 0M273.0 114.5a1.6 1.6 0 1 0 3.2 0a1.6 1.6 0 1 0 -3.2 0M142.9 282.1a1.6 1.6 0 1 0 3.2 0a1.6 1.6 0 1 0 -3.2 0M14.5 195.2a1.6 1.6 0 1 0 3.2 0a1.6 1.6 0 1 0 -3.2 0M94.9 45.1a1.6 1.6 0 1 0 3.2 0a1.6 1.6 0 1 0 -3.2 0M48.3 237.5a1.6 1.6 0 1 0 3.2 0a1.6 1.6 0 1 0 -3.2 0M178.5 38.9a1.6 1.6 0 1 0 3.2 0a1.6 1.6 0 1 0 -3.2 0M30.7 236.0a1.6 1.6 0 1 0 3.2 0a1.6 1.6 0 1 0 -3.2 0M76.2 268.0a1.6 1.6 0 1 0 3.2 0a1.6 1.6 0 1 0 -3.2 0M274.3 163.7a1.6 1.6 0 1 0 3.2 0a1.6 1.6 0 1 0 -3.2 0M194.6 38.6a1.6 1.6 0 1 0 3.2 0a1.6 1.6 0 1 0 -3.2 0M75.4 276.0a1.6 1.6 0 1 0 3.2 0a1.6 1.6 0 1 0 -3.2 0M70.4 257.0a1.6 1.6 0 1 0 3.2 0a1.6 1.6 0 1 0 -3.2 0M46.5 68.9a1.6 1.6 0 1 0 3.2 0a1.6 1.6 0 1 0 -3.2 0M79.2 55.8a1.6 1.6 0 1 0 3.2 0a1.6 1.6 0 1 0 -3.2 0M235.7 246.5a1.6 1.6 0 1 0 3.2 0a1.6 1.6 0 1 0 -3.2 0M262.8 191.6a1.6 1.6 0 1 0 3.2 0a1.6 1.6 0 1 0 -3.2 0M272.2 125.2a1.6 1.6 0 1 0 3.2 0a1.6 1.6 0 1 0 -3.2 0M51.4 82.9a1.6 1.6 0 1 0 3.2 0a1.6 1.6 0 1 0 -3.2 0M269.0 124.5a1.6 1.6 0 1 0 3.2 0a1.6 1.6 0 1 0 -3.2 0M8.8 136.6a1.6 1.6 0 1 0 3.2 0a1.6 1.6 0 1 0 -3.2 0M198.4 266.6a1.6 1.6 0 1 0 3.2 0a1.6 1.6 0 1 0 -3.2 0M26.5 194.6a1.6 1.6 0 1 0 3.2 0a1.6 1.6 0 1 0 -3.2 0M143.7 292.6a1.6 1.6 0 1 0 3.2 0a1.6 1.6 0 1 0 -3.2 0M248.0 236.2a1.6 1.6 0 1 0 3.2 0a1.6 1.6 0 1 0 -3.2 0M58.7 243.9a1.6 1.6 0 1 0 3.2 0a1.6 1.6 0 1 0 -3.2 0M32.5 201.0a1.6 1.6 0 1 0 3.2 0a1.6 1.6 0 1 0 -3.2 0M62.8 256.3a1.6 1.6 0 1 0 3.2 0a1.6 1.6 0 1 0 -3.2 0M19.7 142.5a1.6 1.6 0 1 0 3.2 0a1.6 1.6 0 1 0 -3.2 0M252.7 88.6a1.6 1.6 0 1 0 3.2 0a1.6 1.6 0 1 0 -3.2 0M66.6 249.7a1.6 1.6 0 1 0 3.2 0a1.6 1.6 0 1 0 -3.2 0M258.9 202.8a1.6 1.6 0 1 0 3.2 0a1.6 1.6 0 1 0 -3.2 0M26.8 200.1a1.6 1.6 0 1 0 3.2 0a1.6 1.6 0 1 0 -3.2 0M241.0 81.2a1.6 1.6 0 1 0 3.2 0a1.6 1.6 0 1 0 -3.2 0M82.4 281.2a1.6 1.6 0 1 0 3.2 0a1.6 1.6 0 1 0 -3.2 0M260.0 124.8a1.6 1.6 0 1 0 3.2 0a1.6 1.6 0 1 0 -3.2 0M223.1 260.8a1.6 1.6 0 1 0 3.2 0a1.6 1.6 0 1 0 -3.2 0M22.8 96.3a1.6 1.6 0 1 0 3.2 0a1.6 1.6 0 1 0 -3.2 0M60.0 56.0a1.6 1.6 0 1 0 3.2 0a1.6 1.6 0 1 0 -3.2 0M154.8 26.7a1.6 1.6 0 1 0 3.2 0a1.6 1.6 0 1 0 -3.2 0M18.2 123.9a1.6 1.6 0 1 0 3.2 0a1.6 1.6 0 1 0 -3.2 0M269.7 142.7a1.6 1.6 0 1 0 3.2 0a1.6 1.6 0 1 0 -3.2 0M187.0 41.5a1.6 1.6 0 1 0 3.2 0a1.6 1.6 0 1 0 -3.2 0M57.3 241.3a1.6 1.6 0 1 0 3.2 0a1.6 1.6 0 1 0 -3.2 0M112.9 38.4a1.6 1.6 0 1 0 3.2 0a1.6 1.6 0 1 0 -3.2 0M35.4 104.3a1.6 1.6 0 1 0 3.2 0a1.6 1.6 0 1 0 -3.2 0M180.3 32.3a1.6 1.6 0 1 0 3.2 0a1.6 1.6 0 1 0 -3.2 0M241.8 65.4a1.6 1.6 0 1 0 3.2 0a1.6 1.6 0 1 0 -3.2 0M92.3 286.9a1.6 1.6 0 1 0 3.2 0a1.6 1.6 0 1 0 -3.2 0M271.3 113.2a1.6 1.6 0 1 0 3.2 0a1.6 1.6 0 1 0 -3.2 0M88.0 278.2a1.6 1.6 0 1 0 3.2 0a1.6 1.6 0 1 0 -3.2 0M40.6 241.6a1.6 1.6 0 1 0 3.2 0a1.6 1.6 0 1 0 -3.2 0M178.7 275.4a1.6 1.6 0 1 0 3.2 0a1.6 1.6 0 1 0 -3.2 0M28.2 197.6a1.6 1.6 0 1 0 3.2 0a1.6 1.6 0 1 0 -3.2 0M63.9 66.2a1.6 1.6 0 1 0 3.2 0a1.6 1.6 0 1 0 -3.2 0M90.6 284.8a1.6 1.6 0 1 0 3.2 0a1.6 1.6 0 1 0 -3.2 0M150.2 29.8a1.6 1.6 0 1 0 3.2 0a1.6 1.6 0 1 0 -3.2 0M26.9 114.5a1.6 1.6 0 1 0 3.2 0a1.6 1.6 0 1 0 -3.2 0M12.9 135.5a1.6 1.6 0 1 0 3.2 0a1.6 1.6 0 1 0 -3.2 0M162.8 23.9a1.6 1.6 0 1 0 3.2 0a1.6 1.6 0 1 0 -3.2 0M203.8 46.3a1.6 1.6 0 1 0 3.2 0a1.6 1.6 0 1 0 -3.2 0M71.9 255.2a1.6 1.6 0 1 0 3.2 0a1.6 1.6 0 1 0 -3.2 0M131.3 293.9a1.6 1.6 0 1 0 3.2 0a1.6 1.6 0 1 0 -3.2 0M260.9 214.7a1.6 1.6 0 1 0 3.2 0a1.6 1.6 0 1 0 -3.2 0M147.4 34.2a1.6 1.6 0 1 0 3.2 0a1.6 1.6 0 1 0 -3.2 0M71.3 66.1a1.6 1.6 0 1 0 3.2 0a1.6 1.6 0 1 0 -3.2 0M164.7 29.8a1.6 1.6 0 1 0 3.2 0a1.6 1.6 0 1 0 -3.2 0M260.2 114.5a1.6 1.6 0 1 0 3.2 0a1.6 1.6 0 1 0 -3.2 0M189.9 35.4a1.6 1.6 0 1 0 3.2 0a1.6 1.6 0 1 0 -3.2 0M17.7 134.3a1.6 1.6 0 1 0 3.2 0a1.6 1.6 0 1 0 -3.2 0M264.7 212.9a1.6 1.6 0 1 0 3.2 0a1.6 1.6 0 1 0 -3.2 0M22.6 158.4a1.6 1.6 0 1 0 3.2 0a1.6 1.6 0 1 0 -3.2 0M81.2 48.6a1.6 1.6 0 1 0 3.2 0a1.6 1.6 0 1 0 -3.2 0M39.0 232.9a1.6 1.6 0 1 0 3.2 0a1.6 1.6 0 1 0 -3.2 0M126.2 280.6a1.6 1.6 0 1 0 3.2 0a1.6 1.6 0 1 0 -3.2 0M173.6 41.4a1.6 1.6 0 1 0 3.2 0a1.6 1.6 0 1 0 -3.2 0M217.7 262.5a1.6 1.6 0 1 0 3.2 0a1.6 1.6 0 1 0 -3.2 0M147.8 30.3a1.6 1.6 0 1 0 3.2 0a1.6 1.6 0 1 0 -3.2 0M139.0 37.6a1.6 1.6 0 1 0 3.2 0a1.6 1.6 0 1 0 -3.2 0M122.9 295.3a1.6 1.6 0 1 0 3.2 0a1.6 1.6 0 1 0 -3.2 0M46.9 85.9a1.6 1.6 0 1 0 3.2 0a1.6 1.6 0 1 0 -3.2 0M124.9 293.6a1.6 1.6 0 1 0 3.2 0a1.6 1.6 0 1 0 -3.2 0M91.1 53.8a1.6 1.6 0 1 0 3.2 0a1.6 1.6 0 1 0 -3.2 0M187.0 34.6a1.6 1.6 0 1 0 3.2 0a1.6 1.6 0 1 0 -3.2 0M214.7 47.0a1.6 1.6 0 1 0 3.2 0a1.6 1.6 0 1 0 -3.2 0M271.3 162.7a1.6 1.6 0 1 0 3.2 0a1.6 1.6 0 1 0 -3.2 0M28.8 118.4a1.6 1.6 0 1 0 3.2 0a1.6 1.6 0 1 0 -3.2 0M263.0 190.1a1.6 1.6 0 1 0 3.2 0a1.6 1.6 0 1 0 -3.2 0M248.0 246.3a1.6 1.6 0 1 0 3.2 0a1.6 1.6 0 1 0 -3.2 0M53.1 63.5a1.6 1.6 0 1 0 3.2 0a1.6 1.6 0 1 0 -3.2 0M81.9 272.0a1.6 1.6 0 1 0 3.2 0a1.6 1.6 0 1 0 -3.2 0M169.1 280.7a1.6 1.6 0 1 0 3.2 0a1.6 1.6 0 1 0 -3.2 0M175.5 278.1a1.6 1.6 0 1 0 3.2 0a1.6 1.6 0 1 0 -3.2 0M265.7 183.5a1.6 1.6 0 1 0 3.2 0a1.6 1.6 0 1 0 -3.2 0M272.0 183.0a1.6 1.6 0 1 0 3.2 0a1.6 1.6 0 1 0 -3.2 0M59.0 69.0a1.6 1.6 0 1 0 3.2 0a1.6 1.6 0 1 0 -3.2 0M31.0 93.0a1.6 1.6 0 1 0 3.2 0a1.6 1.6 0 1 0 -3.2 0M267.3 156.7a1.6 1.6 0 1 0 3.2 0a1.6 1.6 0 1 0 -3.2 0M273.5 128.0a1.6 1.6 0 1 0 3.2 0a1.6 1.6 0 1 0 -3.2 0M280.9 148.2a1.6 1.6 0 1 0 3.2 0a1.6 1.6 0 1 0 -3.2 0M110.7 33.8a1.6 1.6 0 1 0 3.2 0a1.6 1.6 0 1 0 -3.2 0M70.7 273.5a1.6 1.6 0 1 0 3.2 0a1.6 1.6 0 1 0 -3.2 0M34.7 236.7a1.6 1.6 0 1 0 3.2 0a1.6 1.6 0 1 0 -3.2 0M187.2 277.0a1.6 1.6 0 1 0 3.2 0a1.6 1.6 0 1 0 -3.2 0M14.1 146.7a1.6 1.6 0 1 0 3.2 0a1.6 1.6 0 1 0 -3.2 0M184.8 278.6a1.6 1.6 0 1 0 3.2 0a1.6 1.6 0 1 0 -3.2 0M27.9 113.7a1.6 1.6 0 1 0 3.2 0a1.6 1.6 0 1 0 -3.2 0M122.9 36.9a1.6 1.6 0 1 0 3.2 0a1.6 1.6 0 1 0 -3.2 0M269.2 211.9a1.6 1.6 0 1 0 3.2 0a1.6 1.6 0 1 0 -3.2 0M122.2 35.0a1.6 1.6 0 1 0 3.2 0a1.6 1.6 0 1 0 -3.2 0M274.8 197.2a1.6 1.6 0 1 0 3.2 0a1.6 1.6 0 1 0 -3.2 0M70.3 255.2a1.6 1.6 0 1 0 3.2 0a1.6 1.6 0 1 0 -3.2 0M188.2 37.0a1.6 1.6 0 1 0 3.2 0a1.6 1.6 0 1 0 -3.2 0M253.8 241.7a1.6 1.6 0 1 0 3.2 0a1.6 1.6 0 1 0 -3.2 0M27.9 181.3a1.6 1.6 0 1 0 3.2 0a1.6 1.6 0 1 0 -3.2 0M178.4 290.0a1.6 1.6 0 1 0 3.2 0a1.6 1.6 0 1 0 -3.2 0M114.8 44.2a1.6 1.6 0 1 0 3.2 0a1.6 1.6 0 1 0 -3.2 0M129.8 28.8a1.6 1.6 0 1 0 3.2 0a1.6 1.6 0 1 0 -3.2 0M190.7 47.0a1.6 1.6 0 1 0 3.2 0a1.6 1.6 0 1 0 -3.2 0M173.1 284.7a1.6 1.6 0 1 0 3.2 0a1.6 1.6 0 1 0 -3.2 0M44.8 254.9a1.6 1.6 0 1 0 3.2 0a1.6 1.6 0 1 0 -3.2 0M204.1 52.0a1.6 1.6 0 1 0 3.2 0a1.6 1.6 0 1 0 -3.2 0M10.7 191.0a1.6 1.6 0 1 0 3.2 0a1.6 1.6 0 1 0 -3.2 0M243.3 77.2a1.6 1.6 0 1 0 3.2 0a1.6 1.6 0 1 0 -3.2 0M264.5 217.4a1.6 1.6 0 1 0 3.2 0a1.6 1.6 0 1 0 -3.2 0M18.3 172.3a1.6 1.6 0 1 0 3.2 0a1.6 1.6 0 1 0 -3.2 0M21.3 194.6a1.6 1.6 0 1 0 3.2 0a1.6 1.6 0 1 0 -3.2 0M62.4 65.4a1.6 1.6 0 1 0 3.2 0a1.6 1.6 0 1 0 -3.2 0M122.5 24.6a1.6 1.6 0 1 0 3.2 0a1.6 1.6 0 1 0 -3.2 0M14.9 184.1a1.6 1.6 0 1 0 3.2 0a1.6 1.6 0 1 0 -3.2 0M86.2 49.3a1.6 1.6 0 1 0 3.2 0a1.6 1.6 0 1 0 -3.2 0M152.5 286.2a1.6 1.6 0 1 0 3.2 0a1.6 1.6 0 1 0 -3.2 0M98.0 38.3a1.6 1.6 0 1 0 3.2 0a1.6 1.6 0 1 0 -3.2 0M220.1 253.6a1.6 1.6 0 1 0 3.2 0a1.6 1.6 0 1 0 -3.2 0M33.0 80.1a1.6 1.6 0 1 0 3.2 0a1.6 1.6 0 1 0 -3.2 0M152.9 278.2a1.6 1.6 0 1 0 3.2 0a1.6 1.6 0 1 0 -3.2 0M173.4 41.0a1.6 1.6 0 1 0 3.2 0a1.6 1.6 0 1 0 -3.2 0M266.0 141.6a1.6 1.6 0 1 0 3.2 0a1.6 1.6 0 1 0 -3.2 0M277.7 192.5a1.6 1.6 0 1 0 3.2 0a1.6 1.6 0 1 0 -3.2 0M151.6 279.7a1.6 1.6 0 1 0 3.2 0a1.6 1.6 0 1 0 -3.2 0M261.7 94.8a1.6 1.6 0 1 0 3.2 0a1.6 1.6 0 1 0 -3.2 0M150.5 23.6a1.6 1.6 0 1 0 3.2 0a1.6 1.6 0 1 0 -3.2 0M267.8 139.0a1.6 1.6 0 1 0 3.2 0a1.6 1.6 0 1 0 -3.2 0M191.8 273.4a1.6 1.6 0 1 0 3.2 0a1.6 1.6 0 1 0 -3.2 0M211.8 270.5a1.6 1.6 0 1 0 3.2 0a1.6 1.6 0 1 0 -3.2 0M266.2 161.7a1.6 1.6 0 1 0 3.2 0a1.6 1.6 0 1 0 -3.2 0M29.3 117.8a1.6 1.6 0 1 0 3.2 0a1.6 1.6 0 1 0 -3.2 0M265.6 224.3a1.6 1.6 0 1 0 3.2 0a1.6 1.6 0 1 0 -3.2 0M16.1 122.3a1.6 1.6 0 1 0 3.2 0a1.6 1.6 0 1 0 -3.2 0M34.7 243.0a1.6 1.6 0 1 0 3.2 0a1.6 1.6 0 1 0 -3.2 0M203.3 52.3a1.6 1.6 0 1 0 3.2 0a1.6 1.6 0 1 0 -3.2 0M12.8 195.6a1.6 1.6 0 1 0 3.2 0a1.6 1.6 0 1 0 -3.2 0M21.2 218.9a1.6 1.6 0 1 0 3.2 0a1.6 1.6 0 1 0 -3.2 0M271.7 141.0a1.6 1.6 0 1 0 3.2 0a1.6 1.6 0 1 0 -3.2 0M62.3 269.3a1.6 1.6 0 1 0 3.2 0a1.6 1.6 0 1 0 -3.2 0M129.3 39.1a1.6 1.6 0 1 0 3.2 0a1.6 1.6 0 1 0 -3.2 0M223.5 48.6a1.6 1.6 0 1 0 3.2 0a1.6 1.6 0 1 0 -3.2 0M54.5 258.7a1.6 1.6 0 1 0 3.2 0a1.6 1.6 0 1 0 -3.2 0M51.3 86.4a1.6 1.6 0 1 0 3.2 0a1.6 1.6 0 1 0 -3.2 0M266.0 221.9a1.6 1.6 0 1 0 3.2 0a1.6 1.6 0 1 0 -3.2 0M38.0 230.0a1.6 1.6 0 1 0 3.2 0a1.6 1.6 0 1 0 -3.2 0M72.9 63.4a1.6 1.6 0 1 0 3.2 0a1.6 1.6 0 1 0 -3.2 0M248.7 96.4a1.6 1.6 0 1 0 3.2 0a1.6 1.6 0 1 0 -3.2 0M34.5 211.1a1.6 1.6 0 1 0 3.2 0a1.6 1.6 0 1 0 -3.2 0M27.5 204.8a1.6 1.6 0 1 0 3.2 0a1.6 1.6 0 1 0 -3.2 0M142.2 293.5a1.6 1.6 0 1 0 3.2 0a1.6 1.6 0 1 0 -3.2 0M252.8 233.4a1.6 1.6 0 1 0 3.2 0a1.6 1.6 0 1 0 -3.2 0M269.9 144.8a1.6 1.6 0 1 0 3.2 0a1.6 1.6 0 1 0 -3.2 0M257.3 108.8a1.6 1.6 0 1 0 3.2 0a1.6 1.6 0 1 0 -3.2 0M205.8 58.9a1.6 1.6 0 1 0 3.2 0a1.6 1.6 0 1 0 -3.2 0M146.7 26.0a1.6 1.6 0 1 0 3.2 0a1.6 1.6 0 1 0 -3.2 0M144.6 291.5a1.6 1.6 0 1 0 3.2 0a1.6 1.6 0 1 0 -3.2 0M85.7 268.9a1.6 1.6 0 1 0 3.2 0a1.6 1.6 0 1 0 -3.2 0M163.3 40.6a1.6 1.6 0 1 0 3.2 0a1.6 1.6 0 1 0 -3.2 0M180.1 36.0a1.6 1.6 0 1 0 3.2 0a1.6 1.6 0 1 0 -3.2 0M241.2 235.0a1.6 1.6 0 1 0 3.2 0a1.6 1.6 0 1 0 -3.2 0M94.9 277.0a1.6 1.6 0 1 0 3.2 0a1.6 1.6 0 1 0 -3.2 0M57.9 255.6a1.6 1.6 0 1 0 3.2 0a1.6 1.6 0 1 0 -3.2 0M277.0 130.9a1.6 1.6 0 1 0 3.2 0a1.6 1.6 0 1 0 -3.2 0M28.2 131.4a1.6 1.6 0 1 0 3.2 0a1.6 1.6 0 1 0 -3.2 0M100.5 49.4a1.6 1.6 0 1 0 3.2 0a1.6 1.6 0 1 0 -3.2 0M116.4 277.2a1.6 1.6 0 1 0 3.2 0a1.6 1.6 0 1 0 -3.2 0M119.2 44.3a1.6 1.6 0 1 0 3.2 0a1.6 1.6 0 1 0 -3.2 0M202.9 277.2a1.6 1.6 0 1 0 3.2 0a1.6 1.6 0 1 0 -3.2 0M95.9 44.2a1.6 1.6 0 1 0 3.2 0a1.6 1.6 0 1 0 -3.2 0M141.3 35.9a1.6 1.6 0 1 0 3.2 0a1.6 1.6 0 1 0 -3.2 0M268.1 181.7a1.6 1.6 0 1 0 3.2 0a1.6 1.6 0 1 0 -3.2 0M178.4 289.9a1.6 1.6 0 1 0 3.2 0a1.6 1.6 0 1 0 -3.2 0M41.9 87.6a1.6 1.6 0 1 0 3.2 0a1.6 1.6 0 1 0 -3.2 0M98.9 289.3a1.6 1.6 0 1 0 3.2 0a1.6 1.6 0 1 0 -3.2 0M56.7 264.0a1.6 1.6 0 1 0 3.2 0a1.6 1.6 0 1 0 -3.2 0M242.9 244.5a1.6 1.6 0 1 0 3.2 0a1.6 1.6 0 1 0 -3.2 0M267.8 136.1a1.6 1.6 0 1 0 3.2 0a1.6 1.6 0 1 0 -3.2 0M101.3 284.3a1.6 1.6 0 1 0 3.2 0a1.6 1.6 0 1 0 -3.2 0M95.9 38.5a1.6 1.6 0 1 0 3.2 0a1.6 1.6 0 1 0 -3.2 0M265.4 105.2a1.6 1.6 0 1 0 3.2 0a1.6 1.6 0 1 0 -3.2 0M208.4 41.4a1.6 1.6 0 1 0 3.2 0a1.6 1.6 0 1 0 -3.2 0M80.4 42.3a1.6 1.6 0 1 0 3.2 0a1.6 1.6 0 1 0 -3.2 0M72.7 45.0a1.6 1.6 0 1 0 3.2 0a1.6 1.6 0 1 0 -3.2 0M275.6 145.7a1.6 1.6 0 1 0 3.2 0a1.6 1.6 0 1 0 -3.2 0M70.5 55.2a1.6 1.6 0 1 0 3.2 0a1.6 1.6 0 1 0 -3.2 0M167.3 295.1a1.6 1.6 0 1 0 3.2 0a1.6 1.6 0 1 0 -3.2 0M265.7 171.3a1.6 1.6 0 1 0 3.2 0a1.6 1.6 0 1 0 -3.2 0M225.9 246.8a1.6 1.6 0 1 0 3.2 0a1.6 1.6 0 1 0 -3.2 0M62.6 254.4a1.6 1.6 0 1 0 3.2 0a1.6 1.6 0 1 0 -3.2 0M143.0 292.3a1.6 1.6 0 1 0 3.2 0a1.6 1.6 0 1 0 -3.2 0M9.3 140.3a1.6 1.6 0 1 0 3.2 0a1.6 1.6 0 1 0 -3.2 0M145.7 283.1a1.6 1.6 0 1 0 3.2 0a1.6 1.6 0 1 0 -3.2 0M115.4 288.8a1.6 1.6 0 1 0 3.2 0a1.6 1.6 0 1 0 -3.2 0M156.9 25.8a1.6 1.6 0 1 0 3.2 0a1.6 1.6 0 1 0 -3.2 0M238.1 59.8a1.6 1.6 0 1 0 3.2 0a1.6 1.6 0 1 0 -3.2 0M81.3 55.4a1.6 1.6 0 1 0 3.2 0a1.6 1.6 0 1 0 -3.2 0M9.9 177.4a1.6 1.6 0 1 0 3.2 0a1.6 1.6 0 1 0 -3.2 0M160.2 290.0a1.6 1.6 0 1 0 3.2 0a1.6 1.6 0 1 0 -3.2 0M60.6 259.8a1.6 1.6 0 1 0 3.2 0a1.6 1.6 0 1 0 -3.2 0M262.9 110.1a1.6 1.6 0 1 0 3.2 0a1.6 1.6 0 1 0 -3.2 0M226.0 73.3a1.6 1.6 0 1 0 3.2 0a1.6 1.6 0 1 0 -3.2 0M230.0 53.7a1.6 1.6 0 1 0 3.2 0a1.6 1.6 0 1 0 -3.2 0M265.6 115.2a1.6 1.6 0 1 0 3.2 0a1.6 1.6 0 1 0 -3.2 0M233.5 58.5a1.6 1.6 0 1 0 3.2 0a1.6 1.6 0 1 0 -3.2 0M128.4 24.0a1.6 1.6 0 1 0 3.2 0a1.6 1.6 0 1 0 -3.2 0M16.9 198.8a1.6 1.6 0 1 0 3.2 0a1.6 1.6 0 1 0 -3.2 0M56.7 264.4a1.6 1.6 0 1 0 3.2 0a1.6 1.6 0 1 0 -3.2 0M273.8 147.1a1.6 1.6 0 1 0 3.2 0a1.6 1.6 0 1 0 -3.2 0M70.3 53.9a1.6 1.6 0 1 0 3.2 0a1.6 1.6 0 1 0 -3.2 0M136.7 31.3a1.6 1.6 0 1 0 3.2 0a1.6 1.6 0 1 0 -3.2 0M44.4 82.5a1.6 1.6 0 1 0 3.2 0a1.6 1.6 0 1 0 -3.2 0M219.7 257.2a1.6 1.6 0 1 0 3.2 0a1.6 1.6 0 1 0 -3.2 0M261.6 118.3a1.6 1.6 0 1 0 3.2 0a1.6 1.6 0 1 0 -3.2 0M255.9 80.7a1.6 1.6 0 1 0 3.2 0a1.6 1.6 0 1 0 -3.2 0M172.7 294.4a1.6 1.6 0 1 0 3.2 0a1.6 1.6 0 1 0 -3.2 0M189.0 276.0a1.6 1.6 0 1 0 3.2 0a1.6 1.6 0 1 0 -3.2 0M263.5 169.5a1.6 1.6 0 1 0 3.2 0a1.6 1.6 0 1 0 -3.2 0M25.3 151.3a1.6 1.6 0 1 0 3.2 0a1.6 1.6 0 1 0 -3.2 0M26.2 165.9a1.6 1.6 0 1 0 3.2 0a1.6 1.6 0 1 0 -3.2 0M46.7 66.9a1.6 1.6 0 1 0 3.2 0a1.6 1.6 0 1 0 -3.2 0M275.0 159.7a1.6 1.6 0 1 0 3.2 0a1.6 1.6 0 1 0 -3.2 0M74.7 265.1a1.6 1.6 0 1 0 3.2 0a1.6 1.6 0 1 0 -3.2 0M208.6 264.2a1.6 1.6 0 1 0 3.2 0a1.6 1.6 0 1 0 -3.2 0M271.8 160.1a1.6 1.6 0 1 0 3.2 0a1.6 1.6 0 1 0 -3.2 0M138.0 290.5a1.6 1.6 0 1 0 3.2 0a1.6 1.6 0 1 0 -3.2 0M28.6 112.6a1.6 1.6 0 1 0 3.2 0a1.6 1.6 0 1 0 -3.2 0M231.0 241.9a1.6 1.6 0 1 0 3.2 0a1.6 1.6 0 1 0 -3.2 0M17.6 142.2a1.6 1.6 0 1 0 3.2 0a1.6 1.6 0 1 0 -3.2 0M248.1 70.3a1.6 1.6 0 1 0 3.2 0a1.6 1.6 0 1 0 -3.2 0M42.7 225.5a1.6 1.6 0 1 0 3.2 0a1.6 1.6 0 1 0 -3.2 0M258.4 198.3a1.6 1.6 0 1 0 3.2 0a1.6 1.6 0 1 0 -3.2 0M232.0 52.9a1.6 1.6 0 1 0 3.2 0a1.6 1.6 0 1 0 -3.2 0M68.3 60.2a1.6 1.6 0 1 0 3.2 0a1.6 1.6 0 1 0 -3.2 0M104.6 297.0a1.6 1.6 0 1 0 3.2 0a1.6 1.6 0 1 0 -3.2 0M48.6 262.9a1.6 1.6 0 1 0 3.2 0a1.6 1.6 0 1 0 -3.2 0M166.1 33.2a1.6 1.6 0 1 0 3.2 0a1.6 1.6 0 1 0 -3.2 0M133.0 298.4a1.6 1.6 0 1 0 3.2 0a1.6 1.6 0 1 0 -3.2 0M93.9 31.7a1.6 1.6 0 1 0 3.2 0a1.6 1.6 0 1 0 -3.2 0M277.9 121.4a1.6 1.6 0 1 0 3.2 0a1.6 1.6 0 1 0 -3.2 0M44.4 82.7a1.6 1.6 0 1 0 3.2 0a1.6 1.6 0 1 0 -3.2 0M35.0 228.4a1.6 1.6 0 1 0 3.2 0a1.6 1.6 0 1 0 -3.2 0M28.8 75.7a1.6 1.6 0 1 0 3.2 0a1.6 1.6 0 1 0 -3.2 0M144.7 290.0a1.6 1.6 0 1 0 3.2 0a1.6 1.6 0 1 0 -3.2 0M205.4 42.7a1.6 1.6 0 1 0 3.2 0a1.6 1.6 0 1 0 -3.2 0M192.1 31.9a1.6 1.6 0 1 0 3.2 0a1.6 1.6 0 1 0 -3.2 0M272.1 220.6a1.6 1.6 0 1 0 3.2 0a1.6 1.6 0 1 0 -3.2 0M190.3 29.0a1.6 1.6 0 1 0 3.2 0a1.6 1.6 0 1 0 -3.2 0M11.1 105.8a1.6 1.6 0 1 0 3.2 0a1.6 1.6 0 1 0 -3.2 0M173.6 37.2a1.6 1.6 0 1 0 3.2 0a1.6 1.6 0 1 0 -3.2 0M283.3 151.1a1.6 1.6 0 1 0 3.2 0a1.6 1.6 0 1 0 -3.2 0M250.4 88.0a1.6 1.6 0 1 0 3.2 0a1.6 1.6 0 1 0 -3.2 0M137.1 27.6a1.6 1.6 0 1 0 3.2 0a1.6 1.6 0 1 0 -3.2 0M213.6 37.1a1.6 1.6 0 1 0 3.2 0a1.6 1.6 0 1 0 -3.2 0M240.0 252.6a1.6 1.6 0 1 0 3.2 0a1.6 1.6 0 1 0 -3.2 0M175.3 38.2a1.6 1.6 0 1 0 3.2 0a1.6 1.6 0 1 0 -3.2 0M91.3 44.0a1.6 1.6 0 1 0 3.2 0a1.6 1.6 0 1 0 -3.2 0M78.5 49.5a1.6 1.6 0 1 0 3.2 0a1.6 1.6 0 1 0 -3.2 0M286.4 177.6a1.6 1.6 0 1 0 3.2 0a1.6 1.6 0 1 0 -3.2 0M222.1 40.2a1.6 1.6 0 1 0 3.2 0a1.6 1.6 0 1 0 -3.2 0M24.1 112.5a1.6 1.6 0 1 0 3.2 0a1.6 1.6 0 1 0 -3.2 0M23.3 207.0a1.6 1.6 0 1 0 3.2 0a1.6 1.6 0 1 0 -3.2 0M9.2 152.2a1.6 1.6 0 1 0 3.2 0a1.6 1.6 0 1 0 -3.2 0M25.3 237.8a1.6 1.6 0 1 0 3.2 0a1.6 1.6 0 1 0 -3.2 0M249.2 61.2a1.6 1.6 0 1 0 3.2 0a1.6 1.6 0 1 0 -3.2 0M1.1 139.2a1.6 1.6 0 1 0 3.2 0a1.6 1.6 0 1 0 -3.2 0M138.2 288.3a1.6 1.6 0 1 0 3.2 0a1.6 1.6 0 1 0 -3.2 0M272.6 206.8a1.6 1.6 0 1 0 3.2 0a1.6 1.6 0 1 0 -3.2 0M82.5 282.3a1.6 1.6 0 1 0 3.2 0a1.6 1.6 0 1 0 -3.2 0M28.4 215.4a1.6 1.6 0 1 0 3.2 0a1.6 1.6 0 1 0 -3.2 0M96.7 289.9a1.6 1.6 0 1 0 3.2 0a1.6 1.6 0 1 0 -3.2 0M243.8 237.7a1.6 1.6 0 1 0 3.2 0a1.6 1.6 0 1 0 -3.2 0M61.6 274.0a1.6 1.6 0 1 0 3.2 0a1.6 1.6 0 1 0 -3.2 0M266.1 199.6a1.6 1.6 0 1 0 3.2 0a1.6 1.6 0 1 0 -3.2 0M19.9 225.5a1.6 1.6 0 1 0 3.2 0a1.6 1.6 0 1 0 -3.2 0M105.5 26.5a1.6 1.6 0 1 0 3.2 0a1.6 1.6 0 1 0 -3.2 0M70.9 39.9a1.6 1.6 0 1 0 3.2 0a1.6 1.6 0 1 0 -3.2 0M180.8 36.3a1.6 1.6 0 1 0 3.2 0a1.6 1.6 0 1 0 -3.2 0M147.4 291.3a1.6 1.6 0 1 0 3.2 0a1.6 1.6 0 1 0 -3.2 0M39.5 83.9a1.6 1.6 0 1 0 3.2 0a1.6 1.6 0 1 0 -3.2 0M158.7 294.7a1.6 1.6 0 1 0 3.2 0a1.6 1.6 0 1 0 -3.2 0M140.8 30.7a1.6 1.6 0 1 0 3.2 0a1.6 1.6 0 1 0 -3.2 0M180.2 28.6a1.6 1.6 0 1 0 3.2 0a1.6 1.6 0 1 0 -3.2 0M147.3 22.3a1.6 1.6 0 1 0 3.2 0a1.6 1.6 0 1 0 -3.2 0M35.1 224.7a1.6 1.6 0 1 0 3.2 0a1.6 1.6 0 1 0 -3.2 0M237.5 246.1a1.6 1.6 0 1 0 3.2 0a1.6 1.6 0 1 0 -3.2 0M184.6 287.3a1.6 1.6 0 1 0 3.2 0a1.6 1.6 0 1 0 -3.2 0M271.8 104.9a1.6 1.6 0 1 0 3.2 0a1.6 1.6 0 1 0 -3.2 0M6.4 131.1a1.6 1.6 0 1 0 3.2 0a1.6 1.6 0 1 0 -3.2 0M19.8 89.6a1.6 1.6 0 1 0 3.2 0a1.6 1.6 0 1 0 -3.2 0M285.4 177.2a1.6 1.6 0 1 0 3.2 0a1.6 1.6 0 1 0 -3.2 0M5.5 197.8a1.6 1.6 0 1 0 3.2 0a1.6 1.6 0 1 0 -3.2 0M70.4 272.7a1.6 1.6 0 1 0 3.2 0a1.6 1.6 0 1 0 -3.2 0M127.5 26.6a1.6 1.6 0 1 0 3.2 0a1.6 1.6 0 1 0 -3.2 0M120.1 28.5a1.6 1.6 0 1 0 3.2 0a1.6 1.6 0 1 0 -3.2 0M284.7 144.9a1.6 1.6 0 1 0 3.2 0a1.6 1.6 0 1 0 -3.2 0M80.1 41.7a1.6 1.6 0 1 0 3.2 0a1.6 1.6 0 1 0 -3.2 0M278.2 142.6a1.6 1.6 0 1 0 3.2 0a1.6 1.6 0 1 0 -3.2 0M22.1 120.0a1.6 1.6 0 1 0 3.2 0a1.6 1.6 0 1 0 -3.2 0M214.1 270.7a1.6 1.6 0 1 0 3.2 0a1.6 1.6 0 1 0 -3.2 0M76.7 279.4a1.6 1.6 0 1 0 3.2 0a1.6 1.6 0 1 0 -3.2 0M103.0 289.1a1.6 1.6 0 1 0 3.2 0a1.6 1.6 0 1 0 -3.2 0M58.3 256.2a1.6 1.6 0 1 0 3.2 0a1.6 1.6 0 1 0 -3.2 0M148.6 23.5a1.6 1.6 0 1 0 3.2 0a1.6 1.6 0 1 0 -3.2 0M80.3 273.6a1.6 1.6 0 1 0 3.2 0a1.6 1.6 0 1 0 -3.2 0M54.5 243.5a1.6 1.6 0 1 0 3.2 0a1.6 1.6 0 1 0 -3.2 0M112.5 298.5a1.6 1.6 0 1 0 3.2 0a1.6 1.6 0 1 0 -3.2 0M4.9 181.1a1.6 1.6 0 1 0 3.2 0a1.6 1.6 0 1 0 -3.2 0M224.3 263.3a1.6 1.6 0 1 0 3.2 0a1.6 1.6 0 1 0 -3.2 0M20.7 93.4a1.6 1.6 0 1 0 3.2 0a1.6 1.6 0 1 0 -3.2 0M263.2 77.8a1.6 1.6 0 1 0 3.2 0a1.6 1.6 0 1 0 -3.2 0M11.3 176.0a1.6 1.6 0 1 0 3.2 0a1.6 1.6 0 1 0 -3.2 0M69.5 40.8a1.6 1.6 0 1 0 3.2 0a1.6 1.6 0 1 0 -3.2 0M244.3 79.7a1.6 1.6 0 1 0 3.2 0a1.6 1.6 0 1 0 -3.2 0M38.5 257.5a1.6 1.6 0 1 0 3.2 0a1.6 1.6 0 1 0 -3.2 0M59.5 44.8a1.6 1.6 0 1 0 3.2 0a1.6 1.6 0 1 0 -3.2 0M94.9 40.7a1.6 1.6 0 1 0 3.2 0a1.6 1.6 0 1 0 -3.2 0M38.3 241.1a1.6 1.6 0 1 0 3.2 0a1.6 1.6 0 1 0 -3.2 0M173.2 298.2a1.6 1.6 0 1 0 3.2 0a1.6 1.6 0 1 0 -3.2 0M268.5 99.5a1.6 1.6 0 1 0 3.2 0a1.6 1.6 0 1 0 -3.2 0M17.1 91.6a1.6 1.6 0 1 0 3.2 0a1.6 1.6 0 1 0 -3.2 0M40.0 81.1a1.6 1.6 0 1 0 3.2 0a1.6 1.6 0 1 0 -3.2 0M165.5 35.8a1.6 1.6 0 1 0 3.2 0a1.6 1.6 0 1 0 -3.2 0M64.7 43.7a1.6 1.6 0 1 0 3.2 0a1.6 1.6 0 1 0 -3.2 0M283.9 195.3a1.6 1.6 0 1 0 3.2 0a1.6 1.6 0 1 0 -3.2 0M93.0 40.5a1.6 1.6 0 1 0 3.2 0a1.6 1.6 0 1 0 -3.2 0M152.7 282.0a1.6 1.6 0 1 0 3.2 0a1.6 1.6 0 1 0 -3.2 0M106.8 295.2a1.6 1.6 0 1 0 3.2 0a1.6 1.6 0 1 0 -3.2 0M158.3 298.6a1.6 1.6 0 1 0 3.2 0a1.6 1.6 0 1 0 -3.2 0M267.9 195.0a1.6 1.6 0 1 0 3.2 0a1.6 1.6 0 1 0 -3.2 0M54.7 62.9a1.6 1.6 0 1 0 3.2 0a1.6 1.6 0 1 0 -3.2 0M14.2 171.8a1.6 1.6 0 1 0 3.2 0a1.6 1.6 0 1 0 -3.2 0M263.4 221.2a1.6 1.6 0 1 0 3.2 0a1.6 1.6 0 1 0 -3.2 0M33.1 253.2a1.6 1.6 0 1 0 3.2 0a1.6 1.6 0 1 0 -3.2 0M147.0 290.7a1.6 1.6 0 1 0 3.2 0a1.6 1.6 0 1 0 -3.2 0M170.6 39.9a1.6 1.6 0 1 0 3.2 0a1.6 1.6 0 1 0 -3.2 0M142.5 298.8a1.6 1.6 0 1 0 3.2 0a1.6 1.6 0 1 0 -3.2 0M274.1 142.8a1.6 1.6 0 1 0 3.2 0a1.6 1.6 0 1 0 -3.2 0M63.5 262.8a1.6 1.6 0 1 0 3.2 0a1.6 1.6 0 1 0 -3.2 0M284.4 127.0a1.6 1.6 0 1 0 3.2 0a1.6 1.6 0 1 0 -3.2 0M253.2 239.0a1.6 1.6 0 1 0 3.2 0a1.6 1.6 0 1 0 -3.2 0M220.8 42.5a1.6 1.6 0 1 0 3.2 0a1.6 1.6 0 1 0 -3.2 0M269.2 170.7a1.6 1.6 0 1 0 3.2 0a1.6 1.6 0 1 0 -3.2 0M252.6 238.9a1.6 1.6 0 1 0 3.2 0a1.6 1.6 0 1 0 -3.2 0M159.9 17.1a1.6 1.6 0 1 0 3.2 0a1.6 1.6 0 1 0 -3.2 0M148.8 290.8a1.6 1.6 0 1 0 3.2 0a1.6 1.6 0 1 0 -3.2 0M126.3 20.5a1.6 1.6 0 1 0 3.2 0a1.6 1.6 0 1 0 -3.2 0M268.6 171.1a1.6 1.6 0 1 0 3.2 0a1.6 1.6 0 1 0 -3.2 0M119.2 299.5a1.6 1.6 0 1 0 3.2 0a1.6 1.6 0 1 0 -3.2 0M210.8 54.7a1.6 1.6 0 1 0 3.2 0a1.6 1.6 0 1 0 -3.2 0M244.8 81.1a1.6 1.6 0 1 0 3.2 0a1.6 1.6 0 1 0 -3.2 0M129.9 286.7a1.6 1.6 0 1 0 3.2 0a1.6 1.6 0 1 0 -3.2 0M70.9 47.5a1.6 1.6 0 1 0 3.2 0a1.6 1.6 0 1 0 -3.2 0M207.8 270.3a1.6 1.6 0 1 0 3.2 0a1.6 1.6 0 1 0 -3.2 0M146.7 300.5a1.6 1.6 0 1 0 3.2 0a1.6 1.6 0 1 0 -3.2 0M112.5 20.3a1.6 1.6 0 1 0 3.2 0a1.6 1.6 0 1 0 -3.2 0M135.8 18.9a1.6 1.6 0 1 0 3.2 0a1.6 1.6 0 1 0 -3.2 0M12.9 215.2a1.6 1.6 0 1 0 3.2 0a1.6 1.6 0 1 0 -3.2 0M272.1 135.1a1.6 1.6 0 1 0 3.2 0a1.6 1.6 0 1 0 -3.2 0M187.5 282.3a1.6 1.6 0 1 0 3.2 0a1.6 1.6 0 1 0 -3.2 0M195.9 36.0a1.6 1.6 0 1 0 3.2 0a1.6 1.6 0 1 0 -3.2 0M58.7 63.5a1.6 1.6 0 1 0 3.2 0a1.6 1.6 0 1 0 -3.2 0M78.6 284.5a1.6 1.6 0 1 0 3.2 0a1.6 1.6 0 1 0 -3.2 0M105.6 298.0a1.6 1.6 0 1 0 3.2 0a1.6 1.6 0 1 0 -3.2 0M146.3 22.1a1.6 1.6 0 1 0 3.2 0a1.6 1.6 0 1 0 -3.2 0M276.6 139.6a1.6 1.6 0 1 0 3.2 0a1.6 1.6 0 1 0 -3.2 0M201.5 274.8a1.6 1.6 0 1 0 3.2 0a1.6 1.6 0 1 0 -3.2 0M228.7 68.0a1.6 1.6 0 1 0 3.2 0a1.6 1.6 0 1 0 -3.2 0M238.9 58.9a1.6 1.6 0 1 0 3.2 0a1.6 1.6 0 1 0 -3.2 0M71.9 59.4a1.6 1.6 0 1 0 3.2 0a1.6 1.6 0 1 0 -3.2 0M80.9 32.9a1.6 1.6 0 1 0 3.2 0a1.6 1.6 0 1 0 -3.2 0M53.1 66.8a1.6 1.6 0 1 0 3.2 0a1.6 1.6 0 1 0 -3.2 0M43.3 64.1a1.6 1.6 0 1 0 3.2 0a1.6 1.6 0 1 0 -3.2 0M267.9 175.2a1.6 1.6 0 1 0 3.2 0a1.6 1.6 0 1 0 -3.2 0M88.7 50.7a1.6 1.6 0 1 0 3.2 0a1.6 1.6 0 1 0 -3.2 0M270.1 110.7a1.6 1.6 0 1 0 3.2 0a1.6 1.6 0 1 0 -3.2 0M269.2 205.1a1.6 1.6 0 1 0 3.2 0a1.6 1.6 0 1 0 -3.2 0M127.3 286.9a1.6 1.6 0 1 0 3.2 0a1.6 1.6 0 1 0 -3.2 0M277.0 241.2a1.6 1.6 0 1 0 3.2 0a1.6 1.6 0 1 0 -3.2 0M280.1 254.8a1.6 1.6 0 1 0 3.2 0a1.6 1.6 0 1 0 -3.2 0M266.3 258.3a1.6 1.6 0 1 0 3.2 0a1.6 1.6 0 1 0 -3.2 0M256.7 260.0a1.6 1.6 0 1 0 3.2 0a1.6 1.6 0 1 0 -3.2 0M278.2 266.7a1.6 1.6 0 1 0 3.2 0a1.6 1.6 0 1 0 -3.2 0M245.5 271.9a1.6 1.6 0 1 0 3.2 0a1.6 1.6 0 1 0 -3.2 0M265.1 275.0a1.6 1.6 0 1 0 3.2 0a1.6 1.6 0 1 0 -3.2 0M278.9 277.4a1.6 1.6 0 1 0 3.2 0a1.6 1.6 0 1 0 -3.2 0M257.9 282.1a1.6 1.6 0 1 0 3.2 0a1.6 1.6 0 1 0 -3.2 0M241.7 291.7a1.6 1.6 0 1 0 3.2 0a1.6 1.6 0 1 0 -3.2 0M223.4 292.4a1.6 1.6 0 1 0 3.2 0a1.6 1.6 0 1 0 -3.2 0M254.4 297.0a1.6 1.6 0 1 0 3.2 0a1.6 1.6 0 1 0 -3.2 0M269.8 292.9a1.6 1.6 0 1 0 3.2 0a1.6 1.6 0 1 0 -3.2 0M234.4 281.0a1.6 1.6 0 1 0 3.2 0a1.6 1.6 0 1 0 -3.2 0" fill="#fcbba1"/>
<path d="M58.2 140.2a1.6 1.6 0 1 0 3.2 0a1.6 1.6 0 1 0 -3.2 0M30.9 218.3a1.6 1.6 0 1 0 3.2 0a1.6 1.6 0 1 0 -3.2 0M194.8 209.7a1.6 1.6 0 1 0 3.2 0a1.6 1.6 0 1 0 -3.2 0M194.5 98.2a1.6 1.6 0 1 0 3.2 0a1.6 1.6 0 1 0 -3.2 0M177.1 201.8a1.6 1.6 0 1 0 3.2 0a1.6 1.6 0 1 0 -3.2 0M98.8 278.4a1.6 1.6 0 1 0 3.2 0a1.6 1.6 0 1 0 -3.2 0M207.9 185.0a1.6 1.6 0 1 0 3.2 0a1.6 1.6 0 1 0 -3.2 0M104.2 74.1a1.6 1.6 0 1 0 3.2 0a1.6 1.6 0 1 0 -3.2 0M67.0 183.4a1.6 1.6 0 1 0 3.2 0a1.6 1.6 0 1 0 -3.2 0M177.0 46.3a1.6 1.6 0 1 0 3.2 0a1.6 1.6 0 1 0 -3.2 0M154.3 52.3a1.6 1.6 0 1 0 3.2 0a1.6 1.6 0 1 0 -3.2 0M202.9 101.8a1.6 1.6 0 1 0 3.2 0a1.6 1.6 0 1 0 -3.2 0M107.3 56.4a1.6 1.6 0 1 0 3.2 0a1.6 1.6 0 1 0 -3.2 0M58.8 113.0a1.6 1.6 0 1 0 3.2 0a1.6 1.6 0 1 0 -3.2 0M57.0 236.3a1.6 1.6 0 1 0 3.2 0a1.6 1.6 0 1 0 -3.2 0M170.5 206.1a1.6 1.6 0 1 0 3.2 0a1.6 1.6 0 1 0 -3.2 0M43.2 242.7a1.6 1.6 0 1 0 3.2 0a1.6 1.6 0 1 0 -3.2 0M19.2 119.8a1.6 1.6 0 1 0 3.2 0a1.6 1.6 0 1 0 -3.2 0M61.4 262.0a1.6 1.6 0 1 0 3.2 0a1.6 1.6 0 1 0 -3.2 0M154.9 259.8a1.6 1.6 0 1 0 3.2 0a1.6 1.6 0 1 0 -3.2 0M127.7 126.6a1.6 1.6 0 1 0 3.2 0a1.6 1.6 0 1 0 -3.2 0M244.7 86.6a1.6 1.6 0 1 0 3.2 0a1.6 1.6 0 1 0 -3.2 0M232.9 70.9a1.6 1.6 0 1 0 3.2 0a1.6 1.6 0 1 0 -3.2 0M72.7 217.5a1.6 1.6 0 1 0 3.2 0a1.6 1.6 0 1 0 -3.2 0M234.5 228.6a1.6 1.6 0 1 0 3.2 0a1.6 1.6 0 1 0 -3.2 0M273.6 180.9a1.6 1.6 0 1 0 3.2 0a1.6 1.6 0 1 0 -3.2 0M46.4 181.3a1.6 1.6 0 1 0 3.2 0a1.6 1.6 0 1 0 -3.2 0M187.1 185.6a1.6 1.6 0 1 0 3.2 0a1.6 1.6 0 1 0 -3.2 0M102.4 223.8a1.6 1.6 0 1 0 3.2 0a1.6 1.6 0 1 0 -3.2 0M118.0 152.7a1.6 1.6 0 1 0 3.2 0a1.6 1.6 0 1 0 -3.2 0M138.2 248.3a1.6 1.6 0 1 0 3.2 0a1.6 1.6 0 1 0 -3.2 0M206.0 267.3a1.6 1.6 0 1 0 3.2 0a1.6 1.6 0 1 0 -3.2 0M110.4 222.1a1.6 1.6 0 1 0 3.2 0a1.6 1.6 0 1 0 -3.2 0M194.9 49.6a1.6 1.6 0 1 0 3.2 0a1.6 1.6 0 1 0 -3.2 0M127.0 182.3a1.6 1.6 0 1 0 3.2 0a1.6 1.6 0 1 0 -3.2 0M237.6 133.9a1.6 1.6 0 1 0 3.2 0a1.6 1.6 0 1 0 -3.2 0M166.8 224.3a1.6 1.6 0 1 0 3.2 0a1.6 1.6 0 1 0 -3.2 0M198.1 75.8a1.6 1.6 0 1 0 3.2 0a1.6 1.6 0 1 0 -3.2 0M243.8 218.6a1.6 1.6 0 1 0 3.2 0a1.6 1.6 0 1 0 -3.2 0M221.8 261.4a1.6 1.6 0 1 0 3.2 0a1.6 1.6 0 1 0 -3.2 0M158.4 175.0a1.6 1.6 0 1 0 3.2 0a1.6 1.6 0 1 0 -3.2 0M257.0 139.2a1.6 1.6 0 1 0 3.2 0a1.6 1.6 0 1 0 -3.2 0M11.5 137.6a1.6 1.6 0 1 0 3.2 0a1.6 1.6 0 1 0 -3.2 0M24.9 212.8a1.6 1.6 0 1 0 3.2 0a1.6 1.6 0 1 0 -3.2 0M143.5 240.0a1.6 1.6 0 1 0 3.2 0a1.6 1.6 0 1 0 -3.2 0M138.9 253.8a1.6 1.6 0 1 0 3.2 0a1.6 1.6 0 1 0 -3.2 0M85.0 237.8a1.6 1.6 0 1 0 3.2 0a1.6 1.6 0 1 0 -3.2 0M27.0 224.0a1.6 1.6 0 1 0 3.2 0a1.6 1.6 0 1 0 -3.2 0M270.0 163.1a1.6 1.6 0 1 0 3.2 0a1.6 1.6 0 1 0 -3.2 0M228.6 226.2a1.6 1.6 0 1 0 3.2 0a1.6 1.6 0 1 0 -3.2 0M66.7 93.6a1.6 1.6 0 1 0 3.2 0a1.6 1.6 0 1 0 -3.2 0M174.9 112.0a1.6 1.6 0 1 0 3.2 0a1.6 1.6 0 1 0 -3.2 0M113.4 111.0a1.6 1.6 0 1 0 3.2 0a1.6 1.6 0 1 0 -3.2 0M272.1 151.9a1.6 1.6 0 1 0 3.2 0a1.6 1.6 0 1 0 -3.2 0M140.3 136.7a1.6 1.6 0 1 0 3.2 0a1.6 1.6 0 1 0 -3.2 0M53.8 128.0a1.6 1.6 0 1 0 3.2 0a1.6 1.6 0 1 0 -3.2 0M177.2 26.8a1.6 1.6 0 1 0 3.2 0a1.6 1.6 0 1 0 -3.2 0M137.3 215.0a1.6 1.6 0 1 0 3.2 0a1.6 1.6 0 1 0 -3.2 0M17.5 116.0a1.6 1.6 0 1 0 3.2 0a1.6 1.6 0 1 0 -3.2 0M138.2 215.0a1.6 1.6 0 1 0 3.2 0a1.6 1.6 0 1 0 -3.2 0M72.5 147.7a1.6 1.6 0 1 0 3.2 0a1.6 1.6 0 1 0 -3.2 0M191.7 198.8a1.6 1.6 0 1 0 3.2 0a1.6 1.6 0 1 0 -3.2 0M113.5 235.4a1.6 1.6 0 1 0 3.2 0a1.6 1.6 0 1 0 -3.2 0M181.3 252.3a1.6 1.6 0 1 0 3.2 0a1.6 1.6 0 1 0 -3.2 0M184.4 73.5a1.6 1.6 0 1 0 3.2 0a1.6 1.6 0 1 0 -3.2 0M91.8 32.5a1.6 1.6 0 1 0 3.2 0a1.6 1.6 0 1 0 -3.2 0M74.0 266.9a1.6 1.6 0 1 0 3.2 0a1.6 1.6 0 1 0 -3.2 0M73.0 208.7a1.6 1.6 0 1 0 3.2 0a1.6 1.6 0 1 0 -3.2 0M142.2 221.5a1.6 1.6 0 1 0 3.2 0a1.6 1.6 0 1 0 -3.2 0M224.2 75.6a1.6 1.6 0 1 0 3.2 0a1.6 1.6 0 1 0 -3.2 0M129.8 232.0a1.6 1.6 0 1 0 3.2 0a1.6 1.6 0 1 0 -3.2 0M118.2 254.4a1.6 1.6 0 1 0 3.2 0a1.6 1.6 0 1 0 -3.2 0M133.0 296.1a1.6 1.6 0 1 0 3.2 0a1.6 1.6 0 1 0 -3.2 0M248.8 141.9a1.6 1.6 0 1 0 3.2 0a1.6 1.6 0 1 0 -3.2 0M54.7 106.5a1.6 1.6 0 1 0 3.2 0a1.6 1.6 0 1 0 -3.2 0M203.2 154.3a1.6 1.6 0 1 0 3.2 0a1.6 1.6 0 1 0 -3.2 0M131.6 34.1a1.6 1.6 0 1 0 3.2 0a1.6 1.6 0 1 0 -3.2 0M211.0 239.8a1.6 1.6 0 1 0 3.2 0a1.6 1.6 0 1 0 -3.2 0M30.3 93.4a1.6 1.6 0 1 0 3.2 0a1.6 1.6 0 1 0 -3.2 0M148.1 189.0a1.6 1.6 0 1 0 3.2 0a1.6 1.6 0 1 0 -3.2 0M245.8 238.5a1.6 1.6 0 1 0 3.2 0a1.6 1.6 0 1 0 -3.2 0M62.4 76.7a1.6 1.6 0 1 0 3.2 0a1.6 1.6 0 1 0 -3.2 0M138.2 85.5a1.6 1.6 0 1 0 3.2 0a1.6 1.6 0 1 0 -3.2 0M212.7 194.5a1.6 1.6 0 1 0 3.2 0a1.6 1.6 0 1 0 -3.2 0M54.3 163.4a1.6 1.6 0 1 0 3.2 0a1.6 1.6 0 1 0 -3.2 0M28.3 175.4a1.6 1.6 0 1 0 3.2 0a1.6 1.6 0 1 0 -3.2 0M189.5 220.0a1.6 1.6 0 1 0 3.2 0a1.6 1.6 0 1 0 -3.2 0M46.5 149.8a1.6 1.6 0 1 0 3.2 0a1.6 1.6 0 1 0 -3.2 0M92.4 171.2a1.6 1.6 0 1 0 3.2 0a1.6 1.6 0 1 0 -3.2 0M278.1 141.5a1.6 1.6 0 1 0 3.2 0a1.6 1.6 0 1 0 -3.2 0M209.8 240.8a1.6 1.6 0 1 0 3.2 0a1.6 1.6 0 1 0 -3.2 0M197.9 143.6a1.6 1.6 0 1 0 3.2 0a1.6 1.6 0 1 0 -3.2 0M188.2 67.3a1.6 1.6 0 1 0 3.2 0a1.6 1.6 0 1 0 -3.2 0M234.3 82.6a1.6 1.6 0 1 0 3.2 0a1.6 1.6 0 1 0 -3.2 0M198.9 226.5a1.6 1.6 0 1 0 3.2 0a1.6 1.6 0 1 0 -3.2 0M172.8 114.6a1.6 1.6 0 1 0 3.2 0a1.6 1.6 0 1 0 -3.2 0M251.2 106.7a1.6 1.6 0 1 0 3.2 0a1.6 1.6 0 1 0 -3.2 0M114.5 291.5a1.6 1.6 0 1 0 3.2 0a1.6 1.6 0 1 0 -3.2 0M243.3 121.4a1.6 1.6 0 1 0 3.2 0a1.6 1.6 0 1 0 -3.2 0M133.7 63.5a1.6 1.6 0 1 0 3.2 0a1.6 1.6 0 1 0 -3.2 0M146.3 45.9a1.6 1.6 0 1 0 3.2 0a1.6 1.6 0 1 0 -3.2 0M193.7 135.6a1.6 1.6 0 1 0 3.2 0a1.6 1.6 0 1 0 -3.2 0M59.8 174.9a1.6 1.6 0 1 0 3.2 0a1.6 1.6 0 1 0 -3.2 0M58.8 127.8a1.6 1.6 0 1 0 3.2 0a1.6 1.6 0 1 0 -3.2 0M174.8 213.1a1.6 1.6 0 1 0 3.2 0a1.6 1.6 0 1 0 -3.2 0M161.1 204.1a1.6 1.6 0 1 0 3.2 0a1.6 1.6 0 1 0 -3.2 0M25.1 104.2a1.6 1.6 0 1 0 3.2 0a1.6 1.6 0 1 0 -3.2 0M144.2 66.7a1.6 1.6 0 1 0 3.2 0a1.6 1.6 0 1 0 -3.2 0M55.3 213.5a1.6 1.6 0 1 0 3.2 0a1.6 1.6 0 1 0 -3.2 0M83.4 219.6a1.6 1.6 0 1 0 3.2 0a1.6 1.6 0 1 0 -3.2 0M198.0 149.0a1.6 1.6 0 1 0 3.2 0a1.6 1.6 0 1 0 -3.2 0M66.3 216.9a1.6 1.6 0 1 0 3.2 0a1.6 1.6 0 1 0 -3.2 0M268.1 123.2a1.6 1.6 0 1 0 3.2 0a1.6 1.6 0 1 0 -3.2 0M203.7 44.8a1.6 1.6 0 1 0 3.2 0a1.6 1.6 0 1 0 -3.2 0M265.0 190.6a1.6 1.6 0 1 0 3.2 0a1.6 1.6 0 1 0 -3.2 0M66.9 70.6a1.6 1.6 0 1 0 3.2 0a1.6 1.6 0 1 0 -3.2 0M176.5 187.3a1.6 1.6 0 1 0 3.2 0a1.6 1.6 0 1 0 -3.2 0M135.6 183.2a1.6 1.6 0 1 0 3.2 0a1.6 1.6 0 1 0 -3.2 0M28.0 161.2a1.6 1.6 0 1 0 3.2 0a1.6 1.6 0 1 0 -3.2 0M94.9 240.1a1.6 1.6 0 1 0 3.2 0a1.6 1.6 0 1 0 -3.2 0M76.3 157.9a1.6 1.6 0 1 0 3.2 0a1.6 1.6 0 1 0 -3.2 0M225.2 144.5a1.6 1.6 0 1 0 3.2 0a1.6 1.6 0 1 0 -3.2 0M79.0 161.7a1.6 1.6 0 1 0 3.2 0a1.6 1.6 0 1 0 -3.2 0M160.0 252.5a1.6 1.6 0 1 0 3.2 0a1.6 1.6 0 1 0 -3.2 0M199.8 232.7a1.6 1.6 0 1 0 3.2 0a1.6 1.6 0 1 0 -3.2 0M167.4 188.6a1.6 1.6 0 1 0 3.2 0a1.6 1.6 0 1 0 -3.2 0M129.4 22.0a1.6 1.6 0 1 0 3.2 0a1.6 1.6 0 1 0 -3.2 0M85.0 220.2a1.6 1.6 0 1 0 3.2 0a1.6 1.6 0 1 0 -3.2 0M175.3 242.6a1.6 1.6 0 1 0 3.2 0a1.6 1.6 0 1 0 -3.2 0M37.2 227.3a1.6 1.6 0 1 0 3.2 0a1.6 1.6 0 1 0 -3.2 0M103.3 225.6a1.6 1.6 0 1 0 3.2 0a1.6 1.6 0 1 0 -3.2 0M112.8 231.1a1.6 1.6 0 1 0 3.2 0a1.6 1.6 0 1 0 -3.2 0M266.9 162.9a1.6 1.6 0 1 0 3.2 0a1.6 1.6 0 1 0 -3.2 0M242.4 103.3a1.6 1.6 0 1 0 3.2 0a1.6 1.6 0 1 0 -3.2 0M88.0 208.8a1.6 1.6 0 1 0 3.2 0a1.6 1.6 0 1 0 -3.2 0M52.9 203.1a1.6 1.6 0 1 0 3.2 0a1.6 1.6 0 1 0 -3.2 0M199.0 48.9a1.6 1.6 0 1 0 3.2 0a1.6 1.6 0 1 0 -3.2 0M120.2 66.3a1.6 1.6 0 1 0 3.2 0a1.6 1.6 0 1 0 -3.2 0M153.7 253.3a1.6 1.6 0 1 0 3.2 0a1.6 1.6 0 1 0 -3.2 0M59.7 80.2a1.6 1.6 0 1 0 3.2 0a1.6 1.6 0 1 0 -3.2 0M116.9 113.8a1.6 1.6 0 1 0 3.2 0a1.6 1.6 0 1 0 -3.2 0M194.2 157.2a1.6 1.6 0 1 0 3.2 0a1.6 1.6 0 1 0 -3.2 0M216.3 47.5a1.6 1.6 0 1 0 3.2 0a1.6 1.6 0 1 0 -3.2 0M251.9 141.6a1.6 1.6 0 1 0 3.2 0a1.6 1.6 0 1 0 -3.2 0M209.0 87.7a1.6 1.6 0 1 0 3.2 0a1.6 1.6 0 1 0 -3.2 0M136.6 283.9a1.6 1.6 0 1 0 3.2 0a1.6 1.6 0 1 0 -3.2 0M52.1 96.3a1.6 1.6 0 1 0 3.2 0a1.6 1.6 0 1 0 -3.2 0M162.3 246.9a1.6 1.6 0 1 0 3.2 0a1.6 1.6 0 1 0 -3.2 0M116.1 101.4a1.6 1.6 0 1 0 3.2 0a1.6 1.6 0 1 0 -3.2 0M118.5 222.8a1.6 1.6 0 1 0 3.2 0a1.6 1.6 0 1 0 -3.2 0M190.2 179.2a1.6 1.6 0 1 0 3.2 0a1.6 1.6 0 1 0 -3.2 0M60.3 224.9a1.6 1.6 0 1 0 3.2 0a1.6 1.6 0 1 0 -3.2 0M205.3 261.1a1.6 1.6 0 1 0 3.2 0a1.6 1.6 0 1 0 -3.2 0M103.3 259.5a1.6 1.6 0 1 0 3.2 0a1.6 1.6 0 1 0 -3.2 0M235.7 55.5a1.6 1.6 0 1 0 3.2 0a1.6 1.6 0 1 0 -3.2 0M250.3 169.9a1.6 1.6 0 1 0 3.2 0a1.6 1.6 0 1 0 -3.2 0M74.1 234.1a1.6 1.6 0 1 0 3.2 0a1.6 1.6 0 1 0 -3.2 0M225.6 119.4a1.6 1.6 0 1 0 3.2 0a1.6 1.6 0 1 0 -3.2 0M175.3 103.1a1.6 1.6 0 1 0 3.2 0a1.6 1.6 0 1 0 -3.2 0M54.7 149.9a1.6 1.6 0 1 0 3.2 0a1.6 1.6 0 1 0 -3.2 0M197.4 211.7a1.6 1.6 0 1 0 3.2 0a1.6 1.6 0 1 0 -3.2 0M53.8 191.5a1.6 1.6 0 1 0 3.2 0a1.6 1.6 0 1 0 -3.2 0M72.1 164.8a1.6 1.6 0 1 0 3.2 0a1.6 1.6 0 1 0 -3.2 0M131.5 36.5a1.6 1.6 0 1 0 3.2 0a1.6 1.6 0 1 0 -3.2 0M107.0 157.3a1.6 1.6 0 1 0 3.2 0a1.6 1.6 0 1 0 -3.2 0M230.9 51.5a1.6 1.6 0 1 0 3.2 0a1.6 1.6 0 1 0 -3.2 0M146.8 99.3a1.6 1.6 0 1 0 3.2 0a1.6 1.6 0 1 0 -3.2 0M167.7 106.8a1.6 1.6 0 1 0 3.2 0a1.6 1.6 0 1 0 -3.2 0M164.1 233.6a1.6 1.6 0 1 0 3.2 0a1.6 1.6 0 1 0 -3.2 0M87.8 40.4a1.6 1.6 0 1 0 3.2 0a1.6 1.6 0 1 0 -3.2 0M218.8 83.6a1.6 1.6 0 1 0 3.2 0a1.6 1.6 0 1 0 -3.2 0M29.3 96.7a1.6 1.6 0 1 0 3.2 0a1.6 1.6 0 1 0 -3.2 0M84.8 182.6a1.6 1.6 0 1 0 3.2 0a1.6 1.6 0 1 0 -3.2 0M143.0 124.5a1.6 1.6 0 1 0 3.2 0a1.6 1.6 0 1 0 -3.2 0M55.9 54.1a1.6 1.6 0 1 0 3.2 0a1.6 1.6 0 1 0 -3.2 0M192.6 212.6a1.6 1.6 0 1 0 3.2 0a1.6 1.6 0 1 0 -3.2 0M231.6 161.4a1.6 1.6 0 1 0 3.2 0a1.6 1.6 0 1 0 -3.2 0M213.0 214.2a1.6 1.6 0 1 0 3.2 0a1.6 1.6 0 1 0 -3.2 0M146.8 219.0a1.6 1.6 0 1 0 3.2 0a1.6 1.6 0 1 0 -3.2 0M238.0 224.3a1.6 1.6 0 1 0 3.2 0a1.6 1.6 0 1 0 -3.2 0M82.1 204.1a1.6 1.6 0 1 0 3.2 0a1.6 1.6 0 1 0 -3.2 0M258.2 168.2a1.6 1.6 0 1 0 3.2 0a1.6 1.6 0 1 0 -3.2 0M64.3 126.9a1.6 1.6 0 1 0 3.2 0a1.6 1.6 0 1 0 -3.2 0M85.6 83.6a1.6 1.6 0 1 0 3.2 0a1.6 1.6 0 1 0 -3.2 0M245.0 188.6a1.6 1.6 0 1 0 3.2 0a1.6 1.6 0 1 0 -3.2 0M250.4 168.2a1.6 1.6 0 1 0 3.2 0a1.6 1.6 0 1 0 -3.2 0M30.7 155.0a1.6 1.6 0 1 0 3.2 0a1.6 1.6 0 1 0 -3.2 0M169.0 101.6a1.6 1.6 0 1 0 3.2 0a1.6 1.6 0 1 0 -3.2 0M169.0 43.0a1.6 1.6 0 1 0 3.2 0a1.6 1.6 0 1 0 -3.2 0M273.1 165.1a1.6 1.6 0 1 0 3.2 0a1.6 1.6 0 1 0 -3.2 0M139.4 62.8a1.6 1.6 0 1 0 3.2 0a1.6 1.6 0 1 0 -3.2 0M152.0 209.9a1.6 1.6 0 1 0 3.2 0a1.6 1.6 0 1 0 -3.2 0M54.1 128.3a1.6 1.6 0 1 0 3.2 0a1.6 1.6 0 1 0 -3.2 0M133.5 273.3a1.6 1.6 0 1 0 3.2 0a1.6 1.6 0 1 0 -3.2 0M139.7 232.4a1.6 1.6 0 1 0 3.2 0a1.6 1.6 0 1 0 -3.2 0M142.4 76.0a1.6 1.6 0 1 0 3.2 0a1.6 1.6 0 1 0 -3.2 0M18.3 184.5a1.6 1.6 0 1 0 3.2 0a1.6 1.6 0 1 0 -3.2 0M171.0 269.1a1.6 1.6 0 1 0 3.2 0a1.6 1.6 0 1 0 -3.2 0M262.1 222.6a1.6 1.6 0 1 0 3.2 0a1.6 1.6 0 1 0 -3.2 0M177.1 166.0a1.6 1.6 0 1 0 3.2 0a1.6 1.6 0 1 0 -3.2 0M61.4 256.1a1.6 1.6 0 1 0 3.2 0a1.6 1.6 0 1 0 -3.2 0M217.3 56.5a1.6 1.6 0 1 0 3.2 0a1.6 1.6 0 1 0 -3.2 0M219.1 169.9a1.6 1.6 0 1 0 3.2 0a1.6 1.6 0 1 0 -3.2 0M88.1 221.5a1.6 1.6 0 1 0 3.2 0a1.6 1.6 0 1 0 -3.2 0M211.0 70.0a1.6 1.6 0 1 0 3.2 0a1.6 1.6 0 1 0 -3.2 0M175.0 124.0a1.6 1.6 0 1 0 3.2 0a1.6 1.6 0 1 0 -3.2 0M154.9 22.8a1.6 1.6 0 1 0 3.2 0a1.6 1.6 0 1 0 -3.2 0M245.3 162.8a1.6 1.6 0 1 0 3.2 0a1.6 1.6 0 1 0 -3.2 0M19.1 166.7a1.6 1.6 0 1 0 3.2 0a1.6 1.6 0 1 0 -3.2 0M135.4 295.1a1.6 1.6 0 1 0 3.2 0a1.6 1.6 0 1 0 -3.2 0M253.5 220.8a1.6 1.6 0 1 0 3.2 0a1.6 1.6 0 1 0 -3.2 0M227.3 100.8a1.6 1.6 0 1 0 3.2 0a1.6 1.6 0 1 0 -3.2 0M24.3 135.9a1.6 1.6 0 1 0 3.2 0a1.6 1.6 0 1 0 -3.2 0M113.4 218.0a1.6 1.6 0 1 0 3.2 0a1.6 1.6 0 1 0 -3.2 0M254.0 241.6a1.6 1.6 0 1 0 3.2 0a1.6 1.6 0 1 0 -3.2 0M182.1 267.1a1.6 1.6 0 1 0 3.2 0a1.6 1.6 0 1 0 -3.2 0M197.9 202.5a1.6 1.6 0 1 0 3.2 0a1.6 1.6 0 1 0 -3.2 0M78.2 87.3a1.6 1.6 0 1 0 3.2 0a1.6 1.6 0 1 0 -3.2 0M214.0 246.1a1.6 1.6 0 1 0 3.2 0a1.6 1.6 0 1 0 -3.2 0M81.5 194.0a1.6 1.6 0 1 0 3.2 0a1.6 1.6 0 1 0 -3.2 0M162.2 43.0a1.6 1.6 0 1 0 3.2 0a1.6 1.6 0 1 0 -3.2 0M83.0 84.3a1.6 1.6 0 1 0 3.2 0a1.6 1.6 0 1 0 -3.2 0M100.9 264.0a1.6 1.6 0 1 0 3.2 0a1.6 1.6 0 1 0 -3.2 0M168.5 43.1a1.6 1.6 0 1 0 3.2 0a1.6 1.6 0 1 0 -3.2 0M93.3 105.8a1.6 1.6 0 1 0 3.2 0a1.6 1.6 0 1 0 -3.2 0M7.3 168.8a1.6 1.6 0 1 0 3.2 0a1.6 1.6 0 1 0 -3.2 0M247.0 185.1a1.6 1.6 0 1 0 3.2 0a1.6 1.6 0 1 0 -3.2 0M210.5 265.4a1.6 1.6 0 1 0 3.2 0a1.6 1.6 0 1 0 -3.2 0M240.8 122.3a1.6 1.6 0 1 0 3.2 0a1.6 1.6 0 1 0 -3.2 0M193.8 68.8a1.6 1.6 0 1 0 3.2 0a1.6 1.6 0 1 0 -3.2 0M48.4 236.9a1.6 1.6 0 1 0 3.2 0a1.6 1.6 0 1 0 -3.2 0M238.0 167.8a1.6 1.6 0 1 0 3.2 0a1.6 1.6 0 1 0 -3.2 0M163.8 279.9a1.6 1.6 0 1 0 3.2 0a1.6 1.6 0 1 0 -3.2 0M229.7 250.1a1.6 1.6 0 1 0 3.2 0a1.6 1.6 0 1 0 -3.2 0M185.8 54.6a1.6 1.6 0 1 0 3.2 0a1.6 1.6 0 1 0 -3.2 0M39.2 180.7a1.6 1.6 0 1 0 3.2 0a1.6 1.6 0 1 0 -3.2 0M164.9 295.2a1.6 1.6 0 1 0 3.2 0a1.6 1.6 0 1 0 -3.2 0M188.2 84.6a1.6 1.6 0 1 0 3.2 0a1.6 1.6 0 1 0 -3.2 0M91.0 212.6a1.6 1.6 0 1 0 3.2 0a1.6 1.6 0 1 0 -3.2 0M130.0 232.4a1.6 1.6 0 1 0 3.2 0a1.6 1.6 0 1 0 -3.2 0M112.5 254.6a1.6 1.6 0 1 0 3.2 0a1.6 1.6 0 1 0 -3.2 0M42.2 209.3a1.6 1.6 0 1 0 3.2 0a1.6 1.6 0 1 0 -3.2 0M96.9 85.9a1.6 1.6 0 1 0 3.2 0a1.6 1.6 0 1 0 -3.2 0M261.1 103.9a1.6 1.6 0 1 0 3.2 0a1.6 1.6 0 1 0 -3.2 0M247.8 90.5a1.6 1.6 0 1 0 3.2 0a1.6 1.6 0 1 0 -3.2 0M130.3 144.4a1.6 1.6 0 1 0 3.2 0a1.6 1.6 0 1 0 -3.2 0M102.9 98.1a1.6 1.6 0 1 0 3.2 0a1.6 1.6 0 1 0 -3.2 0M190.9 194.5a1.6 1.6 0 1 0 3.2 0a1.6 1.6 0 1 0 -3.2 0M157.1 283.4a1.6 1.6 0 1 0 3.2 0a1.6 1.6 0 1 0 -3.2 0M47.7 81.7a1.6 1.6 0 1 0 3.2 0a1.6 1.6 0 1 0 -3.2 0M174.8 35.2a1.6 1.6 0 1 0 3.2 0a1.6 1.6 0 1 0 -3.2 0M25.1 136.6a1.6 1.6 0 1 0 3.2 0a1.6 1.6 0 1 0 -3.2 0M18.3 128.0a1.6 1.6 0 1 0 3.2 0a1.6 1.6 0 1 0 -3.2 0M272.9 165.3a1.6 1.6 0 1 0 3.2 0a1.6 1.6 0 1 0 -3.2 0M79.2 49.2a1.6 1.6 0 1 0 3.2 0a1.6 1.6 0 1 0 -3.2 0M253.9 179.8a1.6 1.6 0 1 0 3.2 0a1.6 1.6 0 1 0 -3.2 0M122.1 49.7a1.6 1.6 0 1 0 3.2 0a1.6 1.6 0 1 0 -3.2 0M22.4 140.2a1.6 1.6 0 1 0 3.2 0a1.6 1.6 0 1 0 -3.2 0M50.3 209.9a1.6 1.6 0 1 0 3.2 0a1.6 1.6 0 1 0 -3.2 0M181.5 89.1a1.6 1.6 0 1 0 3.2 0a1.6 1.6 0 1 0 -3.2 0M67.1 158.2a1.6 1.6 0 1 0 3.2 0a1.6 1.6 0 1 0 -3.2 0M7.1 154.5a1.6 1.6 0 1 0 3.2 0a1.6 1.6 0 1 0 -3.2 0M210.2 162.6a1.6 1.6 0 1 0 3.2 0a1.6 1.6 0 1 0 -3.2 0M76.1 55.4a1.6 1.6 0 1 0 3.2 0a1.6 1.6 0 1 0 -3.2 0M115.3 97.2a1.6 1.6 0 1 0 3.2 0a1.6 1.6 0 1 0 -3.2 0M148.3 110.5a1.6 1.6 0 1 0 3.2 0a1.6 1.6 0 1 0 -3.2 0M94.9 86.4a1.6 1.6 0 1 0 3.2 0a1.6 1.6 0 1 0 -3.2 0M114.1 249.3a1.6 1.6 0 1 0 3.2 0a1.6 1.6 0 1 0 -3.2 0M104.7 246.5a1.6 1.6 0 1 0 3.2 0a1.6 1.6 0 1 0 -3.2 0M59.6 55.2a1.6 1.6 0 1 0 3.2 0a1.6 1.6 0 1 0 -3.2 0M156.7 177.4a1.6 1.6 0 1 0 3.2 0a1.6 1.6 0 1 0 -3.2 0M160.0 176.4a1.6 1.6 0 1 0 3.2 0a1.6 1.6 0 1 0 -3.2 0M130.3 87.9a1.6 1.6 0 1 0 3.2 0a1.6 1.6 0 1 0 -3.2 0M262.2 198.4a1.6 1.6 0 1 0 3.2 0a1.6 1.6 0 1 0 -3.2 0M115.0 33.8a1.6 1.6 0 1 0 3.2 0a1.6 1.6 0 1 0 -3.2 0M162.7 119.4a1.6 1.6 0 1 0 3.2 0a1.6 1.6 0 1 0 -3.2 0M209.8 272.3a1.6 1.6 0 1 0 3.2 0a1.6 1.6 0 1 0 -3.2 0M71.4 240.1a1.6 1.6 0 1 0 3.2 0a1.6 1.6 0 1 0 -3.2 0M69.9 246.4a1.6 1.6 0 1 0 3.2 0a1.6 1.6 0 1 0 -3.2 0M71.4 127.4a1.6 1.6 0 1 0 3.2 0a1.6 1.6 0 1 0 -3.2 0M271.9 211.1a1.6 1.6 0 1 0 3.2 0a1.6 1.6 0 1 0 -3.2 0M25.7 217.2a1.6 1.6 0 1 0 3.2 0a1.6 1.6 0 1 0 -3.2 0M172.2 86.3a1.6 1.6 0 1 0 3.2 0a1.6 1.6 0 1 0 -3.2 0M220.6 160.8a1.6 1.6 0 1 0 3.2 0a1.6 1.6 0 1 0 -3.2 0M197.5 39.4a1.6 1.6 0 1 0 3.2 0a1.6 1.6 0 1 0 -3.2 0M118.2 197.6a1.6 1.6 0 1 0 3.2 0a1.6 1.6 0 1 0 -3.2 0M25.9 118.5a1.6 1.6 0 1 0 3.2 0a1.6 1.6 0 1 0 -3.2 0M77.7 174.8a1.6 1.6 0 1 0 3.2 0a1.6 1.6 0 1 0 -3.2 0M222.3 91.4a1.6 1.6 0 1 0 3.2 0a1.6 1.6 0 1 0 -3.2 0M74.4 241.6a1.6 1.6 0 1 0 3.2 0a1.6 1.6 0 1 0 -3.2 0M59.9 219.4a1.6 1.6 0 1 0 3.2 0a1.6 1.6 0 1 0 -3.2 0M233.7 158.4a1.6 1.6 0 1 0 3.2 0a1.6 1.6 0 1 0 -3.2 0M233.3 230.0a1.6 1.6 0 1 0 3.2 0a1.6 1.6 0 1 0 -3.2 0M73.9 110.6a1.6 1.6 0 1 0 3.2 0a1.6 1.6 0 1 0 -3.2 0M279.7 189.0a1.6 1.6 0 1 0 3.2 0a1.6 1.6 0 1 0 -3.2 0M75.0 128.9a1.6 1.6 0 1 0 3.2 0a1.6 1.6 0 1 0 -3.2 0M161.7 66.9a1.6 1.6 0 1 0 3.2 0a1.6 1.6 0 1 0 -3.2 0M260.9 119.3a1.6 1.6 0 1 0 3.2 0a1.6 1.6 0 1 0 -3.2 0M201.7 35.9a1.6 1.6 0 1 0 3.2 0a1.6 1.6 0 1 0 -3.2 0M163.9 221.3a1.6 1.6 0 1 0 3.2 0a1.6 1.6 0 1 0 -3.2 0M69.5 107.0a1.6 1.6 0 1 0 3.2 0a1.6 1.6 0 1 0 -3.2 0M100.3 80.1a1.6 1.6 0 1 0 3.2 0a1.6 1.6 0 1 0 -3.2 0M162.7 130.0a1.6 1.6 0 1 0 3.2 0a1.6 1.6 0 1 0 -3.2 0M171.4 44.0a1.6 1.6 0 1 0 3.2 0a1.6 1.6 0 1 0 -3.2 0M199.1 180.0a1.6 1.6 0 1 0 3.2 0a1.6 1.6 0 1 0 -3.2 0M148.6 24.9a1.6 1.6 0 1 0 3.2 0a1.6 1.6 0 1 0 -3.2 0M41.4 93.3a1.6 1.6 0 1 0 3.2 0a1.6 1.6 0 1 0 -3.2 0M142.0 214.3a1.6 1.6 0 1 0 3.2 0a1.6 1.6 0 1 0 -3.2 0M135.9 142.5a1.6 1.6 0 1 0 3.2 0a1.6 1.6 0 1 0 -3.2 0M130.8 94.8a1.6 1.6 0 1 0 3.2 0a1.6 1.6 0 1 0 -3.2 0M232.7 62.1a1.6 1.6 0 1 0 3.2 0a1.6 1.6 0 1 0 -3.2 0M206.2 234.5a1.6 1.6 0 1 0 3.2 0a1.6 1.6 0 1 0 -3.2 0M188.6 70.6a1.6 1.6 0 1 0 3.2 0a1.6 1.6 0 1 0 -3.2 0M187.5 224.1a1.6 1.6 0 1 0 3.2 0a1.6 1.6 0 1 0 -3.2 0M268.3 206.2a1.6 1.6 0 1 0 3.2 0a1.6 1.6 0 1 0 -3.2 0M141.1 227.5a1.6 1.6 0 1 0 3.2 0a1.6 1.6 0 1 0 -3.2 0M175.0 136.7a1.6 1.6 0 1 0 3.2 0a1.6 1.6 0 1 0 -3.2 0M174.4 79.8a1.6 1.6 0 1 0 3.2 0a1.6 1.6 0 1 0 -3.2 0M181.9 247.9a1.6 1.6 0 1 0 3.2 0a1.6 1.6 0 1 0 -3.2 0M93.0 135.3a1.6 1.6 0 1 0 3.2 0a1.6 1.6 0 1 0 -3.2 0M196.9 271.9a1.6 1.6 0 1 0 3.2 0a1.6 1.6 0 1 0 -3.2 0M128.4 95.1a1.6 1.6 0 1 0 3.2 0a1.6 1.6 0 1 0 -3.2 0M185.2 182.2a1.6 1.6 0 1 0 3.2 0a1.6 1.6 0 1 0 -3.2 0M65.7 96.1a1.6 1.6 0 1 0 3.2 0a1.6 1.6 0 1 0 -3.2 0M134.2 227.5a1.6 1.6 0 1 0 3.2 0a1.6 1.6 0 1 0 -3.2 0M156.5 199.0a1.6 1.6 0 1 0 3.2 0a1.6 1.6 0 1 0 -3.2 0M123.1 160.9a1.6 1.6 0 1 0 3.2 0a1.6 1.6 0 1 0 -3.2 0M103.1 205.6a1.6 1.6 0 1 0 3.2 0a1.6 1.6 0 1 0 -3.2 0M47.2 194.5a1.6 1.6 0 1 0 3.2 0a1.6 1.6 0 1 0 -3.2 0M54.6 242.9a1.6 1.6 0 1 0 3.2 0a1.6 1.6 0 1 0 -3.2 0M241.5 131.2a1.6 1.6 0 1 0 3.2 0a1.6 1.6 0 1 0 -3.2 0M40.3 151.3a1.6 1.6 0 1 0 3.2 0a1.6 1.6 0 1 0 -3.2 0M120.8 154.4a1.6 1.6 0 1 0 3.2 0a1.6 1.6 0 1 0 -3.2 0M123.4 96.8a1.6 1.6 0 1 0 3.2 0a1.6 1.6 0 1 0 -3.2 0M226.1 72.5a1.6 1.6 0 1 0 3.2 0a1.6 1.6 0 1 0 -3.2 0M35.5 89.1a1.6 1.6 0 1 0 3.2 0a1.6 1.6 0 1 0 -3.2 0M158.8 75.8a1.6 1.6 0 1 0 3.2 0a1.6 1.6 0 1 0 -3.2 0M149.5 244.8a1.6 1.6 0 1 0 3.2 0a1.6 1.6 0 1 0 -3.2 0M17.7 214.3a1.6 1.6 0 1 0 3.2 0a1.6 1.6 0 1 0 -3.2 0M274.5 124.7a1.6 1.6 0 1 0 3.2 0a1.6 1.6 0 1 0 -3.2 0M266.2 136.5a1.6 1.6 0 1 0 3.2 0a1.6 1.6 0 1 0 -3.2 0M90.4 108.5a1.6 1.6 0 1 0 3.2 0a1.6 1.6 0 1 0 -3.2 0M220.0 135.9a1.6 1.6 0 1 0 3.2 0a1.6 1.6 0 1 0 -3.2 0M105.4 267.5a1.6 1.6 0 1 0 3.2 0a1.6 1.6 0 1 0 -3.2 0M184.1 199.2a1.6 1.6 0 1 0 3.2 0a1.6 1.6 0 1 0 -3.2 0M234.6 215.5a1.6 1.6 0 1 0 3.2 0a1.6 1.6 0 1 0 -3.2 0M41.5 185.8a1.6 1.6 0 1 0 3.2 0a1.6 1.6 0 1 0 -3.2 0M162.7 261.3a1.6 1.6 0 1 0 3.2 0a1.6 1.6 0 1 0 -3.2 0M231.1 166.5a1.6 1.6 0 1 0 3.2 0a1.6 1.6 0 1 0 -3.2 0M49.8 124.8a1.6 1.6 0 1 0 3.2 0a1.6 1.6 0 1 0 -3.2 0M199.4 205.0a1.6 1.6 0 1 0 3.2 0a1.6 1.6 0 1 0 -3.2 0M261.7 129.3a1.6 1.6 0 1 0 3.2 0a1.6 1.6 0 1 0 -3.2 0M48.2 73.8a1.6 1.6 0 1 0 3.2 0a1.6 1.6 0 1 0 -3.2 0M170.3 43.8a1.6 1.6 0 1 0 3.2 0a1.6 1.6 0 1 0 -3.2 0M191.7 131.9a1.6 1.6 0 1 0 3.2 0a1.6 1.6 0 1 0 -3.2 0M82.0 215.4a1.6 1.6 0 1 0 3.2 0a1.6 1.6 0 1 0 -3.2 0M47.9 160.3a1.6 1.6 0 1 0 3.2 0a1.6 1.6 0 1 0 -3.2 0M179.6 162.4a1.6 1.6 0 1 0 3.2 0a1.6 1.6 0 1 0 -3.2 0M253.0 100.6a1.6 1.6 0 1 0 3.2 0a1.6 1.6 0 1 0 -3.2 0M9.5 126.7a1.6 1.6 0 1 0 3.2 0a1.6 1.6 0 1 0 -3.2 0M75.5 245.8a1.6 1.6 0 1 0 3.2 0a1.6 1.6 0 1 0 -3.2 0M63.9 269.2a1.6 1.6 0 1 0 3.2 0a1.6 1.6 0 1 0 -3.2 0M57.3 222.5a1.6 1.6 0 1 0 3.2 0a1.6 1.6 0 1 0 -3.2 0M230.3 157.9a1.6 1.6 0 1 0 3.2 0a1.6 1.6 0 1 0 -3.2 0M19.8 136.1a1.6 1.6 0 1 0 3.2 0a1.6 1.6 0 1 0 -3.2 0M93.0 155.9a1.6 1.6 0 1 0 3.2 0a1.6 1.6 0 1 0 -3.2 0M203.8 35.0a1.6 1.6 0 1 0 3.2 0a1.6 1.6 0 1 0 -3.2 0M38.4 226.0a1.6 1.6 0 1 0 3.2 0a1.6 1.6 0 1 0 -3.2 0M132.9 273.7a1.6 1.6 0 1 0 3.2 0a1.6 1.6 0 1 0 -3.2 0M8.3 132.7a1.6 1.6 0 1 0 3.2 0a1.6 1.6 0 1 0 -3.2 0M61.2 118.0a1.6 1.6 0 1 0 3.2 0a1.6 1.6 0 1 0 -3.2 0M18.3 142.1a1.6 1.6 0 1 0 3.2 0a1.6 1.6 0 1 0 -3.2 0M48.7 77.7a1.6 1.6 0 1 0 3.2 0a1.6 1.6 0 1 0 -3.2 0M58.3 188.1a1.6 1.6 0 1 0 3.2 0a1.6 1.6 0 1 0 -3.2 0M40.3 201.5a1.6 1.6 0 1 0 3.2 0a1.6 1.6 0 1 0 -3.2 0M261.9 105.5a1.6 1.6 0 1 0 3.2 0a1.6 1.6 0 1 0 -3.2 0M35.3 78.0a1.6 1.6 0 1 0 3.2 0a1.6 1.6 0 1 0 -3.2 0M96.9 282.0a1.6 1.6 0 1 0 3.2 0a1.6 1.6 0 1 0 -3.2 0M147.0 223.1a1.6 1.6 0 1 0 3.2 0a1.6 1.6 0 1 0 -3.2 0M55.9 140.9a1.6 1.6 0 1 0 3.2 0a1.6 1.6 0 1 0 -3.2 0M100.6 219.4a1.6 1.6 0 1 0 3.2 0a1.6 1.6 0 1 0 -3.2 0M146.9 190.6a1.6 1.6 0 1 0 3.2 0a1.6 1.6 0 1 0 -3.2 0M208.8 202.4a1.6 1.6 0 1 0 3.2 0a1.6 1.6 0 1 0 -3.2 0M179.8 291.2a1.6 1.6 0 1 0 3.2 0a1.6 1.6 0 1 0 -3.2 0M90.6 116.5a1.6 1.6 0 1 0 3.2 0a1.6 1.6 0 1 0 -3.2 0M39.2 151.4a1.6 1.6 0 1 0 3.2 0a1.6 1.6 0 1 0 -3.2 0M108.9 189.4a1.6 1.6 0 1 0 3.2 0a1.6 1.6 0 1 0 -3.2 0M201.6 275.9a1.6 1.6 0 1 0 3.2 0a1.6 1.6 0 1 0 -3.2 0M78.8 237.8a1.6 1.6 0 1 0 3.2 0a1.6 1.6 0 1 0 -3.2 0M132.5 199.1a1.6 1.6 0 1 0 3.2 0a1.6 1.6 0 1 0 -3.2 0M240.7 72.7a1.6 1.6 0 1 0 3.2 0a1.6 1.6 0 1 0 -3.2 0M197.0 217.5a1.6 1.6 0 1 0 3.2 0a1.6 1.6 0 1 0 -3.2 0M46.1 220.2a1.6 1.6 0 1 0 3.2 0a1.6 1.6 0 1 0 -3.2 0M194.0 88.7a1.6 1.6 0 1 0 3.2 0a1.6 1.6 0 1 0 -3.2 0M176.0 168.2a1.6 1.6 0 1 0 3.2 0a1.6 1.6 0 1 0 -3.2 0M224.1 180.1a1.6 1.6 0 1 0 3.2 0a1.6 1.6 0 1 0 -3.2 0M103.0 111.0a1.6 1.6 0 1 0 3.2 0a1.6 1.6 0 1 0 -3.2 0M201.9 68.7a1.6 1.6 0 1 0 3.2 0a1.6 1.6 0 1 0 -3.2 0M128.8 86.5a1.6 1.6 0 1 0 3.2 0a1.6 1.6 0 1 0 -3.2 0M140.8 165.0a1.6 1.6 0 1 0 3.2 0a1.6 1.6 0 1 0 -3.2 0M136.8 192.8a1.6 1.6 0 1 0 3.2 0a1.6 1.6 0 1 0 -3.2 0M212.0 71.9a1.6 1.6 0 1 0 3.2 0a1.6 1.6 0 1 0 -3.2 0M177.5 289.4a1.6 1.6 0 1 0 3.2 0a1.6 1.6 0 1 0 -3.2 0M113.3 74.1a1.6 1.6 0 1 0 3.2 0a1.6 1.6 0 1 0 -3.2 0M87.0 195.6a1.6 1.6 0 1 0 3.2 0a1.6 1.6 0 1 0 -3.2 0M150.0 233.2a1.6 1.6 0 1 0 3.2 0a1.6 1.6 0 1 0 -3.2 0M80.8 269.7a1.6 1.6 0 1 0 3.2 0a1.6 1.6 0 1 0 -3.2 0M217.3 189.0a1.6 1.6 0 1 0 3.2 0a1.6 1.6 0 1 0 -3.2 0M183.1 272.0a1.6 1.6 0 1 0 3.2 0a1.6 1.6 0 1 0 -3.2 0M103.8 207.3a1.6 1.6 0 1 0 3.2 0a1.6 1.6 0 1 0 -3.2 0M160.7 167.9a1.6 1.6 0 1 0 3.2 0a1.6 1.6 0 1 0 -3.2 0M247.8 220.3a1.6 1.6 0 1 0 3.2 0a1.6 1.6 0 1 0 -3.2 0M222.5 223.6a1.6 1.6 0 1 0 3.2 0a1.6 1.6 0 1 0 -3.2 0M84.1 186.4a1.6 1.6 0 1 0 3.2 0a1.6 1.6 0 1 0 -3.2 0M128.9 155.7a1.6 1.6 0 1 0 3.2 0a1.6 1.6 0 1 0 -3.2 0M50.7 63.0a1.6 1.6 0 1 0 3.2 0a1.6 1.6 0 1 0 -3.2 0M189.0 264.4a1.6 1.6 0 1 0 3.2 0a1.6 1.6 0 1 0 -3.2 0M220.4 49.3a1.6 1.6 0 1 0 3.2 0a1.6 1.6 0 1 0 -3.2 0M41.4 114.0a1.6 1.6 0 1 0 3.2 0a1.6 1.6 0 1 0 -3.2 0M256.6 84.0a1.6 1.6 0 1 0 3.2 0a1.6 1.6 0 1 0 -3.2 0M172.0 177.4a1.6 1.6 0 1 0 3.2 0a1.6 1.6 0 1 0 -3.2 0M117.1 252.4a1.6 1.6 0 1 0 3.2 0a1.6 1.6 0 1 0 -3.2 0M64.7 126.5a1.6 1.6 0 1 0 3.2 0a1.6 1.6 0 1 0 -3.2 0M100.6 247.7a1.6 1.6 0 1 0 3.2 0a1.6 1.6 0 1 0 -3.2 0M253.3 133.4a1.6 1.6 0 1 0 3.2 0a1.6 1.6 0 1 0 -3.2 0M112.9 263.3a1.6 1.6 0 1 0 3.2 0a1.6 1.6 0 1 0 -3.2 0M71.5 269.6a1.6 1.6 0 1 0 3.2 0a1.6 1.6 0 1 0 -3.2 0M209.1 171.4a1.6 1.6 0 1 0 3.2 0a1.6 1.6 0 1 0 -3.2 0M243.6 218.8a1.6 1.6 0 1 0 3.2 0a1.6 1.6 0 1 0 -3.2 0M243.4 244.3a1.6 1.6 0 1 0 3.2 0a1.6 1.6 0 1 0 -3.2 0M160.3 267.0a1.6 1.6 0 1 0 3.2 0a1.6 1.6 0 1 0 -3.2 0M222.5 227.1a1.6 1.6 0 1 0 3.2 0a1.6 1.6 0 1 0 -3.2 0M246.8 236.5a1.6 1.6 0 1 0 3.2 0a1.6 1.6 0 1 0 -3.2 0M248.4 133.3a1.6 1.6 0 1 0 3.2 0a1.6 1.6 0 1 0 -3.2 0M119.4 68.7a1.6 1.6 0 1 0 3.2 0a1.6 1.6 0 1 0 -3.2 0M218.9 82.7a1.6 1.6 0 1 0 3.2 0a1.6 1.6 0 1 0 -3.2 0M77.5 263.4a1.6 1.6 0 1 0 3.2 0a1.6 1.6 0 1 0 -3.2 0M133.5 24.7a1.6 1.6 0 1 0 3.2 0a1.6 1.6 0 1 0 -3.2 0M110.4 93.0a1.6 1.6 0 1 0 3.2 0a1.6 1.6 0 1 0 -3.2 0M201.7 67.4a1.6 1.6 0 1 0 3.2 0a1.6 1.6 0 1 0 -3.2 0M219.0 85.8a1.6 1.6 0 1 0 3.2 0a1.6 1.6 0 1 0 -3.2 0M97.6 42.7a1.6 1.6 0 1 0 3.2 0a1.6 1.6 0 1 0 -3.2 0M13.6 158.5a1.6 1.6 0 1 0 3.2 0a1.6 1.6 0 1 0 -3.2 0M196.8 275.7a1.6 1.6 0 1 0 3.2 0a1.6 1.6 0 1 0 -3.2 0M105.3 77.5a1.6 1.6 0 1 0 3.2 0a1.6 1.6 0 1 0 -3.2 0M195.8 84.5a1.6 1.6 0 1 0 3.2 0a1.6 1.6 0 1 0 -3.2 0M186.9 236.9a1.6 1.6 0 1 0 3.2 0a1.6 1.6 0 1 0 -3.2 0M174.8 158.5a1.6 1.6 0 1 0 3.2 0a1.6 1.6 0 1 0 -3.2 0M230.5 71.0a1.6 1.6 0 1 0 3.2 0a1.6 1.6 0 1 0 -3.2 0M68.5 75.9a1.6 1.6 0 1 0 3.2 0a1.6 1.6 0 1 0 -3.2 0M181.1 34.5a1.6 1.6 0 1 0 3.2 0a1.6 1.6 0 1 0 -3.2 0M147.4 232.4a1.6 1.6 0 1 0 3.2 0a1.6 1.6 0 1 0 -3.2 0M52.0 188.0a1.6 1.6 0 1 0 3.2 0a1.6 1.6 0 1 0 -3.2 0M235.8 201.4a1.6 1.6 0 1 0 3.2 0a1.6 1.6 0 1 0 -3.2 0M143.2 185.5a1.6 1.6 0 1 0 3.2 0a1.6 1.6 0 1 0 -3.2 0M130.6 24.0a1.6 1.6 0 1 0 3.2 0a1.6 1.6 0 1 0 -3.2 0M108.6 133.7a1.6 1.6 0 1 0 3.2 0a1.6 1.6 0 1 0 -3.2 0M225.0 79.8a1.6 1.6 0 1 0 3.2 0a1.6 1.6 0 1 0 -3.2 0M87.8 268.2a1.6 1.6 0 1 0 3.2 0a1.6 1.6 0 1 0 -3.2 0M107.6 83.1a1.6 1.6 0 1 0 3.2 0a1.6 1.6 0 1 0 -3.2 0M231.9 193.0a1.6 1.6 0 1 0 3.2 0a1.6 1.6 0 1 0 -3.2 0M252.4 191.7a1.6 1.6 0 1 0 3.2 0a1.6 1.6 0 1 0 -3.2 0M82.8 116.5a1.6 1.6 0 1 0 3.2 0a1.6 1.6 0 1 0 -3.2 0M240.2 111.4a1.6 1.6 0 1 0 3.2 0a1.6 1.6 0 1 0 -3.2 0M182.3 157.0a1.6 1.6 0 1 0 3.2 0a1.6 1.6 0 1 0 -3.2 0M121.6 202.0a1.6 1.6 0 1 0 3.2 0a1.6 1.6 0 1 0 -3.2 0M176.6 208.1a1.6 1.6 0 1 0 3.2 0a1.6 1.6 0 1 0 -3.2 0M149.5 113.3a1.6 1.6 0 1 0 3.2 0a1.6 1.6 0 1 0 -3.2 0M38.1 133.7a1.6 1.6 0 1 0 3.2 0a1.6 1.6 0 1 0 -3.2 0M163.9 23.8a1.6 1.6 0 1 0 3.2 0a1.6 1.6 0 1 0 -3.2 0M226.5 127.3a1.6 1.6 0 1 0 3.2 0a1.6 1.6 0 1 0 -3.2 0M88.0 95.1a1.6 1.6 0 1 0 3.2 0a1.6 1.6 0 1 0 -3.2 0M250.4 121.8a1.6 1.6 0 1 0 3.2 0a1.6 1.6 0 1 0 -3.2 0M152.3 227.4a1.6 1.6 0 1 0 3.2 0a1.6 1.6 0 1 0 -3.2 0M151.0 46.3a1.6 1.6 0 1 0 3.2 0a1.6 1.6 0 1 0 -3.2 0M28.9 97.2a1.6 1.6 0 1 0 3.2 0a1.6 1.6 0 1 0 -3.2 0M186.6 111.1a1.6 1.6 0 1 0 3.2 0a1.6 1.6 0 1 0 -3.2 0M277.5 167.9a1.6 1.6 0 1 0 3.2 0a1.6 1.6 0 1 0 -3.2 0M132.6 130.4a1.6 1.6 0 1 0 3.2 0a1.6 1.6 0 1 0 -3.2 0M72.5 157.8a1.6 1.6 0 1 0 3.2 0a1.6 1.6 0 1 0 -3.2 0M195.0 265.8a1.6 1.6 0 1 0 3.2 0a1.6 1.6 0 1 0 -3.2 0M216.9 257.2a1.6 1.6 0 1 0 3.2 0a1.6 1.6 0 1 0 -3.2 0M92.4 159.8a1.6 1.6 0 1 0 3.2 0a1.6 1.6 0 1 0 -3.2 0M219.9 117.7a1.6 1.6 0 1 0 3.2 0a1.6 1.6 0 1 0 -3.2 0M135.2 223.1a1.6 1.6 0 1 0 3.2 0a1.6 1.6 0 1 0 -3.2 0M243.2 187.5a1.6 1.6 0 1 0 3.2 0a1.6 1.6 0 1 0 -3.2 0M93.9 31.7a1.6 1.6 0 1 0 3.2 0a1.6 1.6 0 1 0 -3.2 0M228.6 74.8a1.6 1.6 0 1 0 3.2 0a1.6 1.6 0 1 0 -3.2 0M24.4 226.8a1.6 1.6 0 1 0 3.2 0a1.6 1.6 0 1 0 -3.2 0M95.5 191.1a1.6 1.6 0 1 0 3.2 0a1.6 1.6 0 1 0 -3.2 0M213.2 56.1a1.6 1.6 0 1 0 3.2 0a1.6 1.6 0 1 0 -3.2 0M89.4 285.7a1.6 1.6 0 1 0 3.2 0a1.6 1.6 0 1 0 -3.2 0M107.5 85.1a1.6 1.6 0 1 0 3.2 0a1.6 1.6 0 1 0 -3.2 0M71.6 83.5a1.6 1.6 0 1 0 3.2 0a1.6 1.6 0 1 0 -3.2 0M206.2 43.2a1.6 1.6 0 1 0 3.2 0a1.6 1.6 0 1 0 -3.2 0M50.4 246.9a1.6 1.6 0 1 0 3.2 0a1.6 1.6 0 1 0 -3.2 0M186.8 221.5a1.6 1.6 0 1 0 3.2 0a1.6 1.6 0 1 0 -3.2 0M20.0 177.0a1.6 1.6 0 1 0 3.2 0a1.6 1.6 0 1 0 -3.2 0M106.8 79.9a1.6 1.6 0 1 0 3.2 0a1.6 1.6 0 1 0 -3.2 0M59.3 62.0a1.6 1.6 0 1 0 3.2 0a1.6 1.6 0 1 0 -3.2 0M120.8 184.6a1.6 1.6 0 1 0 3.2 0a1.6 1.6 0 1 0 -3.2 0M44.3 143.6a1.6 1.6 0 1 0 3.2 0a1.6 1.6 0 1 0 -3.2 0M256.7 219.1a1.6 1.6 0 1 0 3.2 0a1.6 1.6 0 1 0 -3.2 0M181.8 187.8a1.6 1.6 0 1 0 3.2 0a1.6 1.6 0 1 0 -3.2 0M184.9 117.9a1.6 1.6 0 1 0 3.2 0a1.6 1.6 0 1 0 -3.2 0M282.6 165.2a1.6 1.6 0 1 0 3.2 0a1.6 1.6 0 1 0 -3.2 0M132.6 235.2a1.6 1.6 0 1 0 3.2 0a1.6 1.6 0 1 0 -3.2 0M228.7 66.5a1.6 1.6 0 1 0 3.2 0a1.6 1.6 0 1 0 -3.2 0M46.2 182.5a1.6 1.6 0 1 0 3.2 0a1.6 1.6 0 1 0 -3.2 0M67.6 126.8a1.6 1.6 0 1 0 3.2 0a1.6 1.6 0 1 0 -3.2 0M125.9 284.1a1.6 1.6 0 1 0 3.2 0a1.6 1.6 0 1 0 -3.2 0M15.0 197.9a1.6 1.6 0 1 0 3.2 0a1.6 1.6 0 1 0 -3.2 0M21.1 204.5a1.6 1.6 0 1 0 3.2 0a1.6 1.6 0 1 0 -3.2 0M175.2 110.3a1.6 1.6 0 1 0 3.2 0a1.6 1.6 0 1 0 -3.2 0M261.9 93.3a1.6 1.6 0 1 0 3.2 0a1.6 1.6 0 1 0 -3.2 0M254.6 240.9a1.6 1.6 0 1 0 3.2 0a1.6 1.6 0 1 0 -3.2 0M35.8 224.5a1.6 1.6 0 1 0 3.2 0a1.6 1.6 0 1 0 -3.2 0M138.7 280.4a1.6 1.6 0 1 0 3.2 0a1.6 1.6 0 1 0 -3.2 0M28.5 94.3a1.6 1.6 0 1 0 3.2 0a1.6 1.6 0 1 0 -3.2 0M18.2 109.5a1.6 1.6 0 1 0 3.2 0a1.6 1.6 0 1 0 -3.2 0M252.9 232.4a1.6 1.6 0 1 0 3.2 0a1.6 1.6 0 1 0 -3.2 0M85.5 36.9a1.6 1.6 0 1 0 3.2 0a1.6 1.6 0 1 0 -3.2 0M110.8 288.3a1.6 1.6 0 1 0 3.2 0a1.6 1.6 0 1 0 -3.2 0M23.4 171.6a1.6 1.6 0 1 0 3.2 0a1.6 1.6 0 1 0 -3.2 0M128.4 279.7a1.6 1.6 0 1 0 3.2 0a1.6 1.6 0 1 0 -3.2 0M220.4 48.7a1.6 1.6 0 1 0 3.2 0a1.6 1.6 0 1 0 -3.2 0M47.6 90.8a1.6 1.6 0 1 0 3.2 0a1.6 1.6 0 1 0 -3.2 0M68.4 45.8a1.6 1.6 0 1 0 3.2 0a1.6 1.6 0 1 0 -3.2 0M79.2 273.3a1.6 1.6 0 1 0 3.2 0a1.6 1.6 0 1 0 -3.2 0M36.7 86.2a1.6 1.6 0 1 0 3.2 0a1.6 1.6 0 1 0 -3.2 0M202.2 264.7a1.6 1.6 0 1 0 3.2 0a1.6 1.6 0 1 0 -3.2 0M243.3 66.0a1.6 1.6 0 1 0 3.2 0a1.6 1.6 0 1 0 -3.2 0M23.5 158.6a1.6 1.6 0 1 0 3.2 0a1.6 1.6 0 1 0 -3.2 0M263.4 171.3a1.6 1.6 0 1 0 3.2 0a1.6 1.6 0 1 0 -3.2 0M21.5 169.0a1.6 1.6 0 1 0 3.2 0a1.6 1.6 0 1 0 -3.2 0M30.9 106.2a1.6 1.6 0 1 0 3.2 0a1.6 1.6 0 1 0 -3.2 0M160.5 283.2a1.6 1.6 0 1 0 3.2 0a1.6 1.6 0 1 0 -3.2 0M11.6 144.8a1.6 1.6 0 1 0 3.2 0a1.6 1.6 0 1 0 -3.2 0M42.4 90.4a1.6 1.6 0 1 0 3.2 0a1.6 1.6 0 1 0 -3.2 0M30.3 235.4a1.6 1.6 0 1 0 3.2 0a1.6 1.6 0 1 0 -3.2 0M148.4 284.5a1.6 1.6 0 1 0 3.2 0a1.6 1.6 0 1 0 -3.2 0M187.5 287.8a1.6 1.6 0 1 0 3.2 0a1.6 1.6 0 1 0 -3.2 0M145.6 33.2a1.6 1.6 0 1 0 3.2 0a1.6 1.6 0 1 0 -3.2 0M267.5 133.1a1.6 1.6 0 1 0 3.2 0a1.6 1.6 0 1 0 -3.2 0M201.0 54.5a1.6 1.6 0 1 0 3.2 0a1.6 1.6 0 1 0 -3.2 0M205.3 53.1a1.6 1.6 0 1 0 3.2 0a1.6 1.6 0 1 0 -3.2 0M34.0 89.5a1.6 1.6 0 1 0 3.2 0a1.6 1.6 0 1 0 -3.2 0M269.6 128.6a1.6 1.6 0 1 0 3.2 0a1.6 1.6 0 1 0 -3.2 0M265.3 135.7a1.6 1.6 0 1 0 3.2 0a1.6 1.6 0 1 0 -3.2 0M159.6 294.4a1.6 1.6 0 1 0 3.2 0a1.6 1.6 0 1 0 -3.2 0M24.1 165.6a1.6 1.6 0 1 0 3.2 0a1.6 1.6 0 1 0 -3.2 0M258.7 116.2a1.6 1.6 0 1 0 3.2 0a1.6 1.6 0 1 0 -3.2 0M74.1 60.0a1.6 1.6 0 1 0 3.2 0a1.6 1.6 0 1 0 -3.2 0M208.0 54.5a1.6 1.6 0 1 0 3.2 0a1.6 1.6 0 1 0 -3.2 0M280.2 174.0a1.6 1.6 0 1 0 3.2 0a1.6 1.6 0 1 0 -3.2 0M41.1 80.1a1.6 1.6 0 1 0 3.2 0a1.6 1.6 0 1 0 -3.2 0M104.9 35.2a1.6 1.6 0 1 0 3.2 0a1.6 1.6 0 1 0 -3.2 0M198.3 282.7a1.6 1.6 0 1 0 3.2 0a1.6 1.6 0 1 0 -3.2 0M163.9 279.3a1.6 1.6 0 1 0 3.2 0a1.6 1.6 0 1 0 -3.2 0M42.2 239.9a1.6 1.6 0 1 0 3.2 0a1.6 1.6 0 1 0 -3.2 0M279.4 150.3a1.6 1.6 0 1 0 3.2 0a1.6 1.6 0 1 0 -3.2 0M210.3 41.3a1.6 1.6 0 1 0 3.2 0a1.6 1.6 0 1 0 -3.2 0M228.3 61.5a1.6 1.6 0 1 0 3.2 0a1.6 1.6 0 1 0 -3.2 0M243.5 81.9a1.6 1.6 0 1 0 3.2 0a1.6 1.6 0 1 0 -3.2 0M257.3 218.3a1.6 1.6 0 1 0 3.2 0a1.6 1.6 0 1 0 -3.2 0M55.1 62.6a1.6 1.6 0 1 0 3.2 0a1.6 1.6 0 1 0 -3.2 0M92.3 42.5a1.6 1.6 0 1 0 3.2 0a1.6 1.6 0 1 0 -3.2 0M144.2 22.6a1.6 1.6 0 1 0 3.2 0a1.6 1.6 0 1 0 -3.2 0M47.5 237.9a1.6 1.6 0 1 0 3.2 0a1.6 1.6 0 1 0 -3.2 0M121.1 293.8a1.6 1.6 0 1 0 3.2 0a1.6 1.6 0 1 0 -3.2 0M226.9 259.6a1.6 1.6 0 1 0 3.2 0a1.6 1.6 0 1 0 -3.2 0M134.5 24.7a1.6 1.6 0 1 0 3.2 0a1.6 1.6 0 1 0 -3.2 0M105.5 286.2a1.6 1.6 0 1 0 3.2 0a1.6 1.6 0 1 0 -3.2 0M260.9 135.4a1.6 1.6 0 1 0 3.2 0a1.6 1.6 0 1 0 -3.2 0M195.7 283.1a1.6 1.6 0 1 0 3.2 0a1.6 1.6 0 1 0 -3.2 0M248.7 244.5a1.6 1.6 0 1 0 3.2 0a1.6 1.6 0 1 0 -3.2 0M275.0 129.6a1.6 1.6 0 1 0 3.2 0a1.6 1.6 0 1 0 -3.2 0M146.6 26.0a1.6 1.6 0 1 0 3.2 0a1.6 1.6 0 1 0 -3.2 0M66.2 251.3a1.6 1.6 0 1 0 3.2 0a1.6 1.6 0 1 0 -3.2 0M52.6 62.0a1.6 1.6 0 1 0 3.2 0a1.6 1.6 0 1 0 -3.2 0M39.5 224.0a1.6 1.6 0 1 0 3.2 0a1.6 1.6 0 1 0 -3.2 0M246.5 245.9a1.6 1.6 0 1 0 3.2 0a1.6 1.6 0 1 0 -3.2 0M60.7 66.4a1.6 1.6 0 1 0 3.2 0a1.6 1.6 0 1 0 -3.2 0M72.5 270.5a1.6 1.6 0 1 0 3.2 0a1.6 1.6 0 1 0 -3.2 0M192.1 271.6a1.6 1.6 0 1 0 3.2 0a1.6 1.6 0 1 0 -3.2 0M85.9 54.5a1.6 1.6 0 1 0 3.2 0a1.6 1.6 0 1 0 -3.2 0M241.3 88.1a1.6 1.6 0 1 0 3.2 0a1.6 1.6 0 1 0 -3.2 0M72.5 62.5a1.6 1.6 0 1 0 3.2 0a1.6 1.6 0 1 0 -3.2 0M229.4 252.0a1.6 1.6 0 1 0 3.2 0a1.6 1.6 0 1 0 -3.2 0M107.9 38.0a1.6 1.6 0 1 0 3.2 0a1.6 1.6 0 1 0 -3.2 0M166.7 294.9a1.6 1.6 0 1 0 3.2 0a1.6 1.6 0 1 0 -3.2 0M101.6 29.9a1.6 1.6 0 1 0 3.2 0a1.6 1.6 0 1 0 -3.2 0M266.3 207.5a1.6 1.6 0 1 0 3.2 0a1.6 1.6 0 1 0 -3.2 0M190.9 39.7a1.6 1.6 0 1 0 3.2 0a1.6 1.6 0 1 0 -3.2 0M22.7 223.1a1.6 1.6 0 1 0 3.2 0a1.6 1.6 0 1 0 -3.2 0M16.9 150.3a1.6 1.6 0 1 0 3.2 0a1.6 1.6 0 1 0 -3.2 0M162.4 280.1a1.6 1.6 0 1 0 3.2 0a1.6 1.6 0 1 0 -3.2 0M9.5 178.9a1.6 1.6 0 1 0 3.2 0a1.6 1.6 0 1 0 -3.2 0M23.9 195.9a1.6 1.6 0 1 0 3.2 0a1.6 1.6 0 1 0 -3.2 0M188.5 286.7a1.6 1.6 0 1 0 3.2 0a1.6 1.6 0 1 0 -3.2 0M266.9 139.0a1.6 1.6 0 1 0 3.2 0a1.6 1.6 0 1 0 -3.2 0M258.3 121.7a1.6 1.6 0 1 0 3.2 0a1.6 1.6 0 1 0 -3.2 0M265.5 169.9a1.6 1.6 0 1 0 3.2 0a1.6 1.6 0 1 0 -3.2 0M132.9 292.0a1.6 1.6 0 1 0 3.2 0a1.6 1.6 0 1 0 -3.2 0M209.9 268.7a1.6 1.6 0 1 0 3.2 0a1.6 1.6 0 1 0 -3.2 0M277.6 152.9a1.6 1.6 0 1 0 3.2 0a1.6 1.6 0 1 0 -3.2 0M214.6 261.7a1.6 1.6 0 1 0 3.2 0a1.6 1.6 0 1 0 -3.2 0M249.1 95.1a1.6 1.6 0 1 0 3.2 0a1.6 1.6 0 1 0 -3.2 0M23.2 178.2a1.6 1.6 0 1 0 3.2 0a1.6 1.6 0 1 0 -3.2 0M25.0 109.7a1.6 1.6 0 1 0 3.2 0a1.6 1.6 0 1 0 -3.2 0M263.8 176.0a1.6 1.6 0 1 0 3.2 0a1.6 1.6 0 1 0 -3.2 0M274.4 144.0a1.6 1.6 0 1 0 3.2 0a1.6 1.6 0 1 0 -3.2 0M58.6 74.7a1.6 1.6 0 1 0 3.2 0a1.6 1.6 0 1 0 -3.2 0M181.3 289.3a1.6 1.6 0 1 0 3.2 0a1.6 1.6 0 1 0 -3.2 0M254.0 86.3a1.6 1.6 0 1 0 3.2 0a1.6 1.6 0 1 0 -3.2 0M245.8 237.7a1.6 1.6 0 1 0 3.2 0a1.6 1.6 0 1 0 -3.2 0M17.1 210.7a1.6 1.6 0 1 0 3.2 0a1.6 1.6 0 1 0 -3.2 0M162.0 290.7a1.6 1.6 0 1 0 3.2 0a1.6 1.6 0 1 0 -3.2 0M61.5 67.2a1.6 1.6 0 1 0 3.2 0a1.6 1.6 0 1 0 -3.2 0M277.2 192.6a1.6 1.6 0 1 0 3.2 0a1.6 1.6 0 1 0 -3.2 0M168.3 283.7a1.6 1.6 0 1 0 3.2 0a1.6 1.6 0 1 0 -3.2 0M259.2 106.3a1.6 1.6 0 1 0 3.2 0a1.6 1.6 0 1 0 -3.2 0M241.5 236.1a1.6 1.6 0 1 0 3.2 0a1.6 1.6 0 1 0 -3.2 0M236.9 83.2a1.6 1.6 0 1 0 3.2 0a1.6 1.6 0 1 0 -3.2 0M17.3 158.0a1.6 1.6 0 1 0 3.2 0a1.6 1.6 0 1 0 -3.2 0M42.4 91.1a1.6 1.6 0 1 0 3.2 0a1.6 1.6 0 1 0 -3.2 0M140.1 22.6a1.6 1.6 0 1 0 3.2 0a1.6 1.6 0 1 0 -3.2 0M65.0 50.7a1.6 1.6 0 1 0 3.2 0a1.6 1.6 0 1 0 -3.2 0M155.0 24.4a1.6 1.6 0 1 0 3.2 0a1.6 1.6 0 1 0 -3.2 0M160.6 23.4a1.6 1.6 0 1 0 3.2 0a1.6 1.6 0 1 0 -3.2 0M99.3 40.6a1.6 1.6 0 1 0 3.2 0a1.6 1.6 0 1 0 -3.2 0M14.8 143.5a1.6 1.6 0 1 0 3.2 0a1.6 1.6 0 1 0 -3.2 0M131.0 37.6a1.6 1.6 0 1 0 3.2 0a1.6 1.6 0 1 0 -3.2 0M115.8 25.6a1.6 1.6 0 1 0 3.2 0a1.6 1.6 0 1 0 -3.2 0M93.1 49.5a1.6 1.6 0 1 0 3.2 0a1.6 1.6 0 1 0 -3.2 0M195.4 268.1a1.6 1.6 0 1 0 3.2 0a1.6 1.6 0 1 0 -3.2 0M67.2 268.4a1.6 1.6 0 1 0 3.2 0a1.6 1.6 0 1 0 -3.2 0M278.0 177.7a1.6 1.6 0 1 0 3.2 0a1.6 1.6 0 1 0 -3.2 0M235.1 81.3a1.6 1.6 0 1 0 3.2 0a1.6 1.6 0 1 0 -3.2 0M20.3 135.6a1.6 1.6 0 1 0 3.2 0a1.6 1.6 0 1 0 -3.2 0M43.8 226.0a1.6 1.6 0 1 0 3.2 0a1.6 1.6 0 1 0 -3.2 0M278.1 171.5a1.6 1.6 0 1 0 3.2 0a1.6 1.6 0 1 0 -3.2 0M145.7 294.3a1.6 1.6 0 1 0 3.2 0a1.6 1.6 0 1 0 -3.2 0M267.9 131.8a1.6 1.6 0 1 0 3.2 0a1.6 1.6 0 1 0 -3.2 0M38.2 91.5a1.6 1.6 0 1 0 3.2 0a1.6 1.6 0 1 0 -3.2 0M270.0 216.1a1.6 1.6 0 1 0 3.2 0a1.6 1.6 0 1 0 -3.2 0M126.2 282.4a1.6 1.6 0 1 0 3.2 0a1.6 1.6 0 1 0 -3.2 0M125.8 24.6a1.6 1.6 0 1 0 3.2 0a1.6 1.6 0 1 0 -3.2 0M212.3 40.6a1.6 1.6 0 1 0 3.2 0a1.6 1.6 0 1 0 -3.2 0M219.8 62.8a1.6 1.6 0 1 0 3.2 0a1.6 1.6 0 1 0 -3.2 0M279.5 168.3a1.6 1.6 0 1 0 3.2 0a1.6 1.6 0 1 0 -3.2 0M256.7 83.6a1.6 1.6 0 1 0 3.2 0a1.6 1.6 0 1 0 -3.2 0M75.4 52.4a1.6 1.6 0 1 0 3.2 0a1.6 1.6 0 1 0 -3.2 0M224.0 254.2a1.6 1.6 0 1 0 3.2 0a1.6 1.6 0 1 0 -3.2 0M191.0 286.6a1.6 1.6 0 1 0 3.2 0a1.6 1.6 0 1 0 -3.2 0M45.6 248.0a1.6 1.6 0 1 0 3.2 0a1.6 1.6 0 1 0 -3.2 0M62.3 58.9a1.6 1.6 0 1 0 3.2 0a1.6 1.6 0 1 0 -3.2 0M157.5 296.8a1.6 1.6 0 1 0 3.2 0a1.6 1.6 0 1 0 -3.2 0M18.1 211.5a1.6 1.6 0 1 0 3.2 0a1.6 1.6 0 1 0 -3.2 0M23.2 191.1a1.6 1.6 0 1 0 3.2 0a1.6 1.6 0 1 0 -3.2 0M265.9 218.6a1.6 1.6 0 1 0 3.2 0a1.6 1.6 0 1 0 -3.2 0M139.7 31.7a1.6 1.6 0 1 0 3.2 0a1.6 1.6 0 1 0 -3.2 0M153.1 295.4a1.6 1.6 0 1 0 3.2 0a1.6 1.6 0 1 0 -3.2 0M260.3 100.1a1.6 1.6 0 1 0 3.2 0a1.6 1.6 0 1 0 -3.2 0M179.4 281.3a1.6 1.6 0 1 0 3.2 0a1.6 1.6 0 1 0 -3.2 0M273.2 180.0a1.6 1.6 0 1 0 3.2 0a1.6 1.6 0 1 0 -3.2 0M157.3 289.1a1.6 1.6 0 1 0 3.2 0a1.6 1.6 0 1 0 -3.2 0M227.0 56.6a1.6 1.6 0 1 0 3.2 0a1.6 1.6 0 1 0 -3.2 0M255.4 82.2a1.6 1.6 0 1 0 3.2 0a1.6 1.6 0 1 0 -3.2 0M162.9 286.3a1.6 1.6 0 1 0 3.2 0a1.6 1.6 0 1 0 -3.2 0M18.2 210.9a1.6 1.6 0 1 0 3.2 0a1.6 1.6 0 1 0 -3.2 0M40.8 100.2a1.6 1.6 0 1 0 3.2 0a1.6 1.6 0 1 0 -3.2 0M41.7 232.7a1.6 1.6 0 1 0 3.2 0a1.6 1.6 0 1 0 -3.2 0M158.2 289.4a1.6 1.6 0 1 0 3.2 0a1.6 1.6 0 1 0 -3.2 0M212.4 43.2a1.6 1.6 0 1 0 3.2 0a1.6 1.6 0 1 0 -3.2 0M162.1 277.8a1.6 1.6 0 1 0 3.2 0a1.6 1.6 0 1 0 -3.2 0M87.1 278.4a1.6 1.6 0 1 0 3.2 0a1.6 1.6 0 1 0 -3.2 0M275.2 179.0a1.6 1.6 0 1 0 3.2 0a1.6 1.6 0 1 0 -3.2 0M157.8 295.0a1.6 1.6 0 1 0 3.2 0a1.6 1.6 0 1 0 -3.2 0M32.2 93.1a1.6 1.6 0 1 0 3.2 0a1.6 1.6 0 1 0 -3.2 0M80.3 56.6a1.6 1.6 0 1 0 3.2 0a1.6 1.6 0 1 0 -3.2 0M273.6 124.2a1.6 1.6 0 1 0 3.2 0a1.6 1.6 0 1 0 -3.2 0M267.3 113.1a1.6 1.6 0 1 0 3.2 0a1.6 1.6 0 1 0 -3.2 0M111.4 289.6a1.6 1.6 0 1 0 3.2 0a1.6 1.6 0 1 0 -3.2 0M273.4 133.8a1.6 1.6 0 1 0 3.2 0a1.6 1.6 0 1 0 -3.2 0M48.1 71.4a1.6 1.6 0 1 0 3.2 0a1.6 1.6 0 1 0 -3.2 0M254.1 89.6a1.6 1.6 0 1 0 3.2 0a1.6 1.6 0 1 0 -3.2 0M265.1 216.4a1.6 1.6 0 1 0 3.2 0a1.6 1.6 0 1 0 -3.2 0M9.6 203.9a1.6 1.6 0 1 0 3.2 0a1.6 1.6 0 1 0 -3.2 0M97.2 35.7a1.6 1.6 0 1 0 3.2 0a1.6 1.6 0 1 0 -3.2 0M16.5 170.3a1.6 1.6 0 1 0 3.2 0a1.6 1.6 0 1 0 -3.2 0M24.0 117.6a1.6 1.6 0 1 0 3.2 0a1.6 1.6 0 1 0 -3.2 0M24.3 113.2a1.6 1.6 0 1 0 3.2 0a1.6 1.6 0 1 0 -3.2 0M197.8 271.3a1.6 1.6 0 1 0 3.2 0a1.6 1.6 0 1 0 -3.2 0M278.8 115.1a1.6 1.6 0 1 0 3.2 0a1.6 1.6 0 1 0 -3.2 0M61.2 61.3a1.6 1.6 0 1 0 3.2 0a1.6 1.6 0 1 0 -3.2 0M265.2 106.6a1.6 1.6 0 1 0 3.2 0a1.6 1.6 0 1 0 -3.2 0M17.3 220.6a1.6 1.6 0 1 0 3.2 0a1.6 1.6 0 1 0 -3.2 0M50.2 55.3a1.6 1.6 0 1 0 3.2 0a1.6 1.6 0 1 0 -3.2 0M0.8 136.7a1.6 1.6 0 1 0 3.2 0a1.6 1.6 0 1 0 -3.2 0M18.3 193.9a1.6 1.6 0 1 0 3.2 0a1.6 1.6 0 1 0 -3.2 0M253.9 90.6a1.6 1.6 0 1 0 3.2 0a1.6 1.6 0 1 0 -3.2 0M274.3 158.7a1.6 1.6 0 1 0 3.2 0a1.6 1.6 0 1 0 -3.2 0M66.4 51.9a1.6 1.6 0 1 0 3.2 0a1.6 1.6 0 1 0 -3.2 0M125.3 300.5a1.6 1.6 0 1 0 3.2 0a1.6 1.6 0 1 0 -3.2 0M282.1 144.4a1.6 1.6 0 1 0 3.2 0a1.6 1.6 0 1 0 -3.2 0M123.5 286.7a1.6 1.6 0 1 0 3.2 0a1.6 1.6 0 1 0 -3.2 0M270.1 218.8a1.6 1.6 0 1 0 3.2 0a1.6 1.6 0 1 0 -3.2 0M20.3 152.7a1.6 1.6 0 1 0 3.2 0a1.6 1.6 0 1 0 -3.2 0M230.4 58.2a1.6 1.6 0 1 0 3.2 0a1.6 1.6 0 1 0 -3.2 0M15.7 161.7a1.6 1.6 0 1 0 3.2 0a1.6 1.6 0 1 0 -3.2 0M280.1 121.5a1.6 1.6 0 1 0 3.2 0a1.6 1.6 0 1 0 -3.2 0M26.1 87.2a1.6 1.6 0 1 0 3.2 0a1.6 1.6 0 1 0 -3.2 0M11.5 185.0a1.6 1.6 0 1 0 3.2 0a1.6 1.6 0 1 0 -3.2 0M33.7 243.2a1.6 1.6 0 1 0 3.2 0a1.6 1.6 0 1 0 -3.2 0M190.8 281.7a1.6 1.6 0 1 0 3.2 0a1.6 1.6 0 1 0 -3.2 0M180.0 285.0a1.6 1.6 0 1 0 3.2 0a1.6 1.6 0 1 0 -3.2 0M191.7 31.9a1.6 1.6 0 1 0 3.2 0a1.6 1.6 0 1 0 -3.2 0M280.3 182.8a1.6 1.6 0 1 0 3.2 0a1.6 1.6 0 1 0 -3.2 0M31.6 249.4a1.6 1.6 0 1 0 3.2 0a1.6 1.6 0 1 0 -3.2 0M145.5 287.8a1.6 1.6 0 1 0 3.2 0a1.6 1.6 0 1 0 -3.2 0M126.9 33.5a1.6 1.6 0 1 0 3.2 0a1.6 1.6 0 1 0 -3.2 0M20.6 109.2a1.6 1.6 0 1 0 3.2 0a1.6 1.6 0 1 0 -3.2 0M58.2 274.8a1.6 1.6 0 1 0 3.2 0a1.6 1.6 0 1 0 -3.2 0M78.6 50.3a1.6 1.6 0 1 0 3.2 0a1.6 1.6 0 1 0 -3.2 0M267.7 114.7a1.6 1.6 0 1 0 3.2 0a1.6 1.6 0 1 0 -3.2 0M240.9 56.5a1.6 1.6 0 1 0 3.2 0a1.6 1.6 0 1 0 -3.2 0M142.4 298.4a1.6 1.6 0 1 0 3.2 0a1.6 1.6 0 1 0 -3.2 0M145.7 299.1a1.6 1.6 0 1 0 3.2 0a1.6 1.6 0 1 0 -3.2 0M266.2 133.5a1.6 1.6 0 1 0 3.2 0a1.6 1.6 0 1 0 -3.2 0M179.4 283.5a1.6 1.6 0 1 0 3.2 0a1.6 1.6 0 1 0 -3.2 0M287.1 147.5a1.6 1.6 0 1 0 3.2 0a1.6 1.6 0 1 0 -3.2 0M200.3 273.6a1.6 1.6 0 1 0 3.2 0a1.6 1.6 0 1 0 -3.2 0M35.8 89.0a1.6 1.6 0 1 0 3.2 0a1.6 1.6 0 1 0 -3.2 0M10.5 156.6a1.6 1.6 0 1 0 3.2 0a1.6 1.6 0 1 0 -3.2 0M131.4 31.9a1.6 1.6 0 1 0 3.2 0a1.6 1.6 0 1 0 -3.2 0M76.0 265.5a1.6 1.6 0 1 0 3.2 0a1.6 1.6 0 1 0 -3.2 0M18.4 171.4a1.6 1.6 0 1 0 3.2 0a1.6 1.6 0 1 0 -3.2 0M239.7 57.1a1.6 1.6 0 1 0 3.2 0a1.6 1.6 0 1 0 -3.2 0M9.3 213.3a1.6 1.6 0 1 0 3.2 0a1.6 1.6 0 1 0 -3.2 0M67.5 280.7a1.6 1.6 0 1 0 3.2 0a1.6 1.6 0 1 0 -3.2 0M277.1 130.4a1.6 1.6 0 1 0 3.2 0a1.6 1.6 0 1 0 -3.2 0M45.9 59.9a1.6 1.6 0 1 0 3.2 0a1.6 1.6 0 1 0 -3.2 0M80.1 272.3a1.6 1.6 0 1 0 3.2 0a1.6 1.6 0 1 0 -3.2 0M34.8 99.0a1.6 1.6 0 1 0 3.2 0a1.6 1.6 0 1 0 -3.2 0M268.6 241.2a1.6 1.6 0 1 0 3.2 0a1.6 1.6 0 1 0 -3.2 0M278.9 247.6a1.6 1.6 0 1 0 3.2 0a1.6 1.6 0 1 0 -3.2 0M260.3 252.4a1.6 1.6 0 1 0 3.2 0a1.6 1.6 0 1 0 -3.2 0M249.6 261.9a1.6 1.6 0 1 0 3.2 0a1.6 1.6 0 1 0 -3.2 0M273.4 261.9a1.6 1.6 0 1 0 3.2 0a1.6 1.6 0 1 0 -3.2 0M238.4 271.4a1.6 1.6 0 1 0 3.2 0a1.6 1.6 0 1 0 -3.2 0M256.7 273.8a1.6 1.6 0 1 0 3.2 0a1.6 1.6 0 1 0 -3.2 0M272.2 272.6a1.6 1.6 0 1 0 3.2 0a1.6 1.6 0 1 0 -3.2 0M248.4 280.5a1.6 1.6 0 1 0 3.2 0a1.6 1.6 0 1 0 -3.2 0M265.1 283.3a1.6 1.6 0 1 0 3.2 0a1.6 1.6 0 1 0 -3.2 0M235.3 285.2a1.6 1.6 0 1 0 3.2 0a1.6 1.6 0 1 0 -3.2 0M247.9 297.6a1.6 1.6 0 1 0 3.2 0a1.6 1.6 0 1 0 -3.2 0M214.6 294.0a1.6 1.6 0 1 0 3.2 0a1.6 1.6 0 1 0 -3.2 0M225.8 283.3a1.6 1.6 0 1 0 3.2 0a1.6 1.6 0 1 0 -3.2 0M253.2 292.9a1.6 1.6 0 1 0 3.2 0a1.6 1.6 0 1 0 -3.2 0M262.7 295.7a1.6 1.6 0 1 0 3.2 0a1.6 1.6 0 1 0 -3.2 0M277.0 288.1a1.6 1.6 0 1 0 3.2 0a1.6 1.6 0 1 0 -3.2 0M230.4 278.0a1.6 1.6 0 1 0 3.2 0a1.6 1.6 0 1 0 -3.2 0" fill="#9ecae1"/>
<rect x="32.5" y="309.5" width="241" height="85.5" fill="#fff" stroke="#8c8c8c" stroke-width="1"/>
<text x="40.8" y="319.7" font-size="10" fill="#222">Node Color</text>
<circle cx="54.2" cy="330.2" r="4.5" fill="#9ecae1"/>
<circle cx="54.2" cy="342" r="4.5" fill="#fcbba1"/>
<text x="75.3" y="333" font-size="8.5" fill="#222">Compound</text>
<text x="75.3" y="345.8" font-size="8.5" fill="#222">Target</text>
<text x="40.8" y="363.5" font-size="10" fill="#222">Edge Style</text>
<line x1="42" y1="373.5" x2="66.5" y2="373.5" stroke="#555" stroke-width="5" stroke-linecap="round"/>
<rect x="41.2" y="382.4" width="4.8" height="5" fill="#555"/>
<rect x="51" y="382.4" width="4.8" height="5" fill="#555"/>
<rect x="60.9" y="382.4" width="4.8" height="5" fill="#555"/>
<text x="75.3" y="377" font-size="8.5" fill="#222">Known</text>
<text x="75.3" y="388.5" font-size="8.5" fill="#222">Not Known</text>
<text x="171.7" y="318.8" font-size="10" fill="#222">Edge Color</text>
<rect x="136.5" y="333.7" width="23.2" height="5.0" fill="#41ab5d"/>
<rect x="136.5" y="358.5" width="23.2" height="5.2" fill="#0868ac"/>
<rect x="136.5" y="381.9" width="23.2" height="5.2" fill="#4292c6"/>
<rect x="210.7" y="333.2" width="23.2" height="5.2" fill="#6a51a3"/>
<rect x="210.7" y="352.5" width="23.2" height="5.2" fill="#a6a0d4"/>
<rect x="210.7" y="369.2" width="23.2" height="5.0" fill="#fd8d3c"/>
<rect x="210.7" y="385" width="23.2" height="5.2" fill="#969696"/>
<text x="166.1" y="334.5" font-size="8.5" fill="#222">Known</text>
<text x="166.1" y="345.3" font-size="8.5" fill="#222">pIC<tspan font-size="5.5" dy="1.5">50</tspan></text>
<text x="166.1" y="360.7" font-size="8.5" fill="#222">Structure</text>
<text x="166.1" y="370.6" font-size="8.5" fill="#222">Sure</text>
<text x="166.1" y="383" font-size="8.5" fill="#222">Structure</text>
<text x="166.1" y="393.5" font-size="8.5" fill="#222">Likely</text>
<text x="240.4" y="332" font-size="8.5" fill="#222">NCI<tspan font-size="5.5" dy="1.5">60</tspan></text>
<text x="240.4" y="343.4" font-size="8.5" fill="#222">PSP</text>
<text x="240.4" y="358.5" font-size="8.5" fill="#222">pQSAR</text>
<text x="240.4" y="374.7" font-size="8.5" fill="#222">L1000</text>
<text x="240.4" y="391.6" font-size="8.5" fill="#222">NA</text>
<text transform="translate(0.3 12.1) scale(0.78 1)" font-size="13.8" fill="#111" stroke="#111" stroke-width="0.25">a</text>
<text transform="translate(328.6 12.1) scale(0.92 1)" font-size="14" fill="#111">b</text>
<text transform="translate(0.7 405.1) scale(0.85 1)" font-size="13.2" fill="#111" stroke="#111" stroke-width="0.25">c</text>
<path d="M581.7 87.0L580.2 139.4M440.9 96.3L436.8 59.4M440.9 96.3L462.0 58.0M440.9 96.3L475.5 83.4M440.9 96.3L410.4 110.7M440.9 96.3L423.7 131.0M382.5 128.9L347.4 105.2M382.5 128.9L345.2 131.5M459.8 139.9L471.0 162.0M466.2 187.2L492.3 190.8M471.0 162.0L492.3 190.8M465.0 342.3L500.9 335.3M531.4 127.5L509.8 85.8M580.2 139.4L601.9 106.0M580.2 139.4L621.3 120.9M623.5 171.5L642.5 189.3M561.6 281.6L525.4 308.2M561.6 281.6L574.7 261.8M492.3 190.8L478.5 210.5" stroke="#6e6e6e" stroke-width="0.65" stroke-dasharray="1.4 1.3" fill="none"/>
<path d="M440.9 96.3L411.2 63.6M440.9 96.3L459.8 139.9M531.4 127.5L532.6 88.2M492.3 190.8L498.6 156.8M623.5 171.5L621.8 145.9M623.5 171.5L623.5 208.5M607.0 188.0L621.8 145.9M634.5 230.9L605.9 224.6M561.6 281.6L591.4 285.6M561.6 281.6L558.0 244.7M554.5 145.1L580.2 139.4M603.0 164.1L623.5 171.5M584.3 177.0L607.0 188.0M607.0 188.0L623.5 208.5M569.8 223.6L594.0 244.0M576.5 230.0L594.0 244.0M603.0 164.1L586.3 210.5M607.0 188.0L586.3 210.5M569.8 223.6L634.5 230.9M576.5 230.0L634.5 230.9M558.0 244.7L605.9 224.6" stroke="#f7a046" stroke-width="1" stroke-dasharray="1.6 1.2" fill="none"/>
<path d="M597.6 45.0L581.0 10.0M597.6 45.0L608.0 7.0M597.6 45.0L633.0 24.0M597.6 45.0L560.0 33.0M597.6 45.0L635.7 52.0M597.6 45.0L563.4 60.0M597.6 45.0L621.5 77.0M597.6 45.0L581.7 87.0M440.9 96.3L400.2 89.9M382.5 128.9L400.2 89.9M382.5 128.9L410.4 110.7M382.5 128.9L423.7 131.0M382.5 128.9L351.1 158.7M382.5 128.9L401.0 168.2M418.7 195.9L421.8 156.5M418.7 195.9L401.0 168.2M418.7 195.9L379.9 179.5M418.7 195.9L427.1 220.8M418.7 195.9L406.5 234.9M418.7 195.9L428.7 240.5M418.7 195.9L443.7 164.8M418.7 195.9L454.2 220.2M443.1 194.8L443.7 164.8M443.1 194.8L421.8 156.5M443.1 194.8L427.1 220.8M443.1 194.8L454.2 220.2M443.1 194.8L450.6 242.4M443.1 194.8L428.7 240.5M443.1 194.8L406.5 234.9M443.1 194.8L466.2 187.2M443.1 194.8L498.6 156.8M397.7 207.8L379.9 179.5M397.7 207.8L357.0 197.3M397.7 207.8L359.9 221.6M397.7 207.8L382.1 243.0M397.7 207.8L406.5 234.9M397.7 207.8L427.1 220.8M397.7 207.8L401.0 168.2M395.4 274.9L357.2 259.9M395.4 274.9L359.1 284.9M395.4 274.9L430.7 275.1M395.4 274.9L427.3 302.6M395.4 274.9L406.5 234.9M395.4 274.9L428.7 240.5M454.2 220.2L497.1 219.0M454.2 220.2L478.5 210.5M384.3 345.1L342.7 342.3M366.0 352.1L342.7 342.3M384.3 345.1L423.2 363.2M518.0 145.1L504.4 109.8M535.5 148.9L504.4 109.8M518.0 145.1L480.8 112.8M518.0 145.1L484.7 135.5M518.0 145.1L498.6 156.8M554.5 145.1L554.6 101.0M600.3 144.6L601.9 106.0M623.5 171.5L621.3 120.9M623.5 171.5L644.4 130.8M623.5 171.5L665.8 141.6M623.5 171.5L645.0 163.7M623.5 171.5L670.0 164.7M623.5 171.5L666.6 187.7M623.5 171.5L648.3 210.8M634.5 230.9L674.6 218.9M634.5 230.9L659.1 267.4M634.5 230.9L634.4 270.7M634.5 230.9L648.3 210.8M634.5 230.9L623.5 208.5M561.6 281.6L527.3 281.6M561.6 281.6L569.8 299.6M561.6 281.6L600.6 309.6M561.6 281.6L548.8 322.2M561.6 281.6L574.5 324.6M561.6 281.6L549.5 263.8M492.3 190.8L510.0 175.2M517.5 233.7L475.8 234.1M499.5 251.7L476.6 257.6M499.5 251.7L484.2 279.7M517.5 233.7L506.0 274.6M533.2 219.0L605.9 224.6M579.4 160.0L565.1 172.8M579.4 160.0L568.6 197.0M535.5 148.9L568.6 197.0M508.9 199.0L529.1 167.8M527.3 192.7L510.0 175.2M527.3 192.7L529.1 167.8M544.0 209.8L568.6 197.0M533.2 219.0L568.6 197.0M492.3 190.8L529.1 167.8M508.9 199.0L510.0 175.2M517.5 233.7L550.5 214.7M548.0 236.4L550.5 214.7M569.8 223.6L586.3 210.5M576.5 230.0L605.9 224.6M558.0 244.7L594.0 244.0M603.0 164.1L586.3 210.5M607.0 188.0L603.1 196.0M603.0 164.1L642.5 189.3M554.5 145.1L549.5 167.8M518.0 145.1L529.1 167.8M531.4 127.5L529.1 167.8M600.3 144.6L581.3 182.6M584.3 177.0L568.6 197.0M535.5 148.9L565.1 172.8M554.5 145.1L565.1 172.8M600.3 144.6L565.1 172.8M533.2 219.0L531.3 257.5M548.0 236.4L531.3 257.5M544.0 209.8L524.1 239.1M533.2 219.0L524.1 239.1M508.9 199.0L550.5 214.7M569.8 223.6L594.0 244.0M527.3 192.7L568.6 197.0M576.5 230.0L586.3 210.5M558.0 244.7L574.7 261.8M548.0 236.4L549.5 263.8M527.3 281.6L517.5 233.7M531.4 127.5L578.1 116.8M531.4 127.5L498.6 156.8M531.4 127.5L549.5 167.8M531.4 127.5L510.0 175.2M580.2 139.4L549.5 167.8M580.2 139.4L581.3 182.6M580.2 139.4L557.9 123.1M580.2 139.4L621.8 145.9M580.2 139.4L565.1 172.8M600.3 144.6L557.9 123.1M600.3 144.6L621.8 145.9M600.3 144.6L578.1 116.8M600.3 144.6L621.3 120.9M600.3 144.6L603.1 196.0M518.0 145.1L510.0 175.2M518.0 145.1L547.0 187.0M518.0 145.1L557.9 123.1M518.0 145.1L549.5 167.8M518.0 145.1L565.1 172.8M554.5 145.1L529.1 167.8M554.5 145.1L578.1 116.8M554.5 145.1L510.0 175.2M554.5 145.1L568.6 197.0M554.5 145.1L581.3 182.6M535.5 148.9L557.9 123.1M535.5 148.9L578.1 116.8M535.5 148.9L498.6 156.8M579.4 160.0L621.8 145.9M579.4 160.0L564.6 150.2M579.4 160.0L581.3 182.6M579.4 160.0L586.3 210.5M579.4 160.0L557.9 123.1M603.0 164.1L568.6 197.0M603.0 164.1L621.8 145.9M603.0 164.1L623.5 208.5M603.0 164.1L549.5 167.8M603.0 164.1L578.1 116.8M623.5 171.5L603.1 196.0M623.5 171.5L581.3 182.6M623.5 171.5L586.3 210.5M584.3 177.0L564.6 150.2M584.3 177.0L623.5 208.5M584.3 177.0L550.5 214.7M584.3 177.0L621.8 145.9M584.3 177.0L605.9 224.6M607.0 188.0L565.1 172.8M607.0 188.0L605.9 224.6M607.0 188.0L568.6 197.0M492.3 190.8L547.0 187.0M492.3 190.8L497.1 219.0M527.3 192.7L581.3 182.6M527.3 192.7L549.5 167.8M527.3 192.7L550.5 214.7M527.3 192.7L497.1 219.0M527.3 192.7L565.1 172.8M508.9 199.0L549.5 167.8M508.9 199.0L497.1 219.0M508.9 199.0L498.6 156.8M544.0 209.8L497.1 219.0M544.0 209.8L547.0 187.0M544.0 209.8L581.3 182.6M544.0 209.8L550.5 214.7M544.0 209.8L510.0 175.2M533.2 219.0L549.5 167.8M533.2 219.0L510.0 175.2M533.2 219.0L497.1 219.0M533.2 219.0L586.3 210.5M533.2 219.0L550.5 214.7M569.8 223.6L524.1 239.1M569.8 223.6L525.2 215.8M569.8 223.6L605.9 224.6M569.8 223.6L615.4 247.4M569.8 223.6L603.1 196.0M576.5 230.0L603.1 196.0M576.5 230.0L615.4 247.4M576.5 230.0L550.5 214.7M576.5 230.0L623.5 208.5M576.5 230.0L549.5 263.8M634.5 230.9L603.1 196.0M634.5 230.9L615.4 247.4M634.5 230.9L596.4 265.6M634.5 230.9L586.3 210.5M517.5 233.7L549.5 263.8M517.5 233.7L524.1 239.1M517.5 233.7L497.1 219.0M548.0 236.4L574.7 261.8M548.0 236.4L497.1 219.0M548.0 236.4L499.5 251.7M548.0 236.4L568.6 197.0M548.0 236.4L586.3 210.5M558.0 244.7L550.5 214.7M558.0 244.7L525.2 215.8M558.0 244.7L524.1 239.1M558.0 244.7L586.3 210.5M558.0 244.7L568.6 197.0" stroke="#9e9ac8" stroke-width="2.4" stroke-dasharray="4.6 3.8" fill="none"/>
<path d="M366.0 352.1L325.3 365.4" stroke="#6a51a3" stroke-width="1.6" stroke-dasharray="2.5 2" fill="none"/>
<path d="M531.4 127.5L504.4 109.8M531.4 127.5L557.9 123.1M554.5 145.1L557.9 123.1M554.5 145.1L549.5 167.8M518.0 145.1L557.9 123.1M527.3 192.7L547.0 187.0M544.0 209.8L547.0 187.0M508.9 199.0L525.2 215.8M568.6 197.0L548.0 236.4M531.4 127.5L564.6 150.2M580.2 139.4L557.9 123.1M578.1 116.8L554.5 145.1M510.0 175.2L529.1 167.8M607.0 188.0L623.5 208.5M584.3 177.0L607.0 188.0" stroke="#41ab5d" stroke-width="3.4" stroke-dasharray="4 3.3" fill="none"/>
<path d="M382.5 128.9L372.5 92.1M395.4 274.9L373.2 310.9M395.4 274.9L396.0 313.7M384.3 345.1L373.2 310.9M384.3 345.1L396.0 313.7M384.3 345.1L348.8 318.7M384.3 345.1L411.2 339.5M384.3 345.1L351.1 379.3M384.3 345.1L397.4 377.6M384.3 345.1L373.8 393.2M366.0 352.1L373.2 310.9M366.0 352.1L396.0 313.7M366.0 352.1L348.8 318.7M366.0 352.1L351.1 379.3M366.0 352.1L397.4 377.6M366.0 352.1L373.8 393.2M634.5 230.9L594.0 244.0M634.5 230.9L671.6 244.2M492.3 190.8L524.1 239.1M492.3 190.8L499.5 251.7M531.4 127.5L557.9 123.1M531.4 127.5L564.6 150.2M531.4 127.5L581.3 182.6M531.4 127.5L518.0 145.1M518.0 145.1L564.6 150.2M518.0 145.1L581.3 182.6M554.5 145.1L564.6 150.2M554.5 145.1L557.9 123.1M600.3 144.6L564.6 150.2M607.0 188.0L564.6 150.2M607.0 188.0L581.3 182.6M607.0 188.0L557.9 123.1M535.5 148.9L529.1 167.8M535.5 148.9L547.0 187.0M535.5 148.9L510.0 175.2M535.5 148.9L564.6 150.2M579.4 160.0L529.1 167.8M579.4 160.0L547.0 187.0M579.4 160.0L525.2 215.8M579.4 160.0L578.1 116.8M579.4 160.0L510.0 175.2M580.2 139.4L578.1 116.8M580.2 139.4L564.6 150.2M580.2 139.4L600.3 144.6M584.3 177.0L547.0 187.0M584.3 177.0L565.1 172.8M508.9 199.0L547.0 187.0M508.9 199.0L525.2 215.8M508.9 199.0L524.1 239.1M508.9 199.0L499.5 251.7M492.3 190.8L525.2 215.8M517.5 233.7L596.4 265.6M517.5 233.7L531.3 257.5M517.5 233.7L525.2 215.8M517.5 233.7L499.5 251.7M558.0 244.7L549.5 263.8M558.0 244.7L603.1 196.0M558.0 244.7L596.4 265.6M558.0 244.7L531.3 257.5M558.0 244.7L499.5 251.7M569.8 223.6L596.4 265.6M569.8 223.6L591.4 285.6M569.8 223.6L531.3 257.5M576.5 230.0L596.4 265.6M576.5 230.0L591.4 285.6M576.5 230.0L531.3 257.5M548.0 236.4L547.0 187.0M548.0 236.4L525.2 215.8M548.0 236.4L524.1 239.1M544.0 209.8L525.2 215.8M544.0 209.8L574.7 261.8M544.0 209.8L531.3 257.5M603.0 164.1L581.3 182.6M603.0 164.1L564.6 150.2M603.0 164.1L603.1 196.0M527.3 192.7L525.2 215.8M527.3 192.7L524.1 239.1M584.3 177.0L581.3 182.6M579.4 160.0L549.5 167.8M535.5 148.9L549.5 167.8M607.0 188.0L623.5 208.5M558.0 244.7L591.4 285.6" stroke="#41ab5d" stroke-width="3.4" fill="none"/>
<circle cx="581" cy="10" r="7" fill="#9ecae1"/>
<circle cx="608" cy="7" r="7" fill="#9ecae1"/>
<circle cx="633" cy="24" r="7" fill="#9ecae1"/>
<circle cx="560" cy="33" r="7" fill="#9ecae1"/>
<circle cx="597.6" cy="45" r="7" fill="#fcbba1"/>
<circle cx="635.7" cy="52" r="7" fill="#9ecae1"/>
<circle cx="563.4" cy="60" r="7" fill="#9ecae1"/>
<circle cx="621.5" cy="77" r="7" fill="#9ecae1"/>
<circle cx="581.7" cy="87" r="7" fill="#9ecae1"/>
<circle cx="411.2" cy="63.6" r="7" fill="#9ecae1"/>
<circle cx="436.8" cy="59.4" r="7" fill="#9ecae1"/>
<circle cx="462" cy="58" r="7" fill="#9ecae1"/>
<circle cx="475.5" cy="83.4" r="7" fill="#9ecae1"/>
<circle cx="440.9" cy="96.3" r="7" fill="#fcbba1"/>
<circle cx="400.2" cy="89.9" r="7" fill="#9ecae1"/>
<circle cx="372.5" cy="92.1" r="7" fill="#9ecae1"/>
<circle cx="347.4" cy="105.2" r="7" fill="#9ecae1"/>
<circle cx="410.4" cy="110.7" r="7" fill="#9ecae1"/>
<circle cx="382.5" cy="128.9" r="7" fill="#fcbba1"/>
<circle cx="345.2" cy="131.5" r="7" fill="#9ecae1"/>
<circle cx="423.7" cy="131" r="7" fill="#9ecae1"/>
<circle cx="459.8" cy="139.9" r="7" fill="#9ecae1"/>
<circle cx="351.1" cy="158.7" r="7" fill="#9ecae1"/>
<circle cx="421.8" cy="156.5" r="7" fill="#9ecae1"/>
<circle cx="401" cy="168.2" r="7" fill="#9ecae1"/>
<circle cx="443.7" cy="164.8" r="7" fill="#9ecae1"/>
<circle cx="379.9" cy="179.5" r="7" fill="#9ecae1"/>
<circle cx="418.7" cy="195.9" r="7" fill="#fcbba1"/>
<circle cx="443.1" cy="194.8" r="7" fill="#fcbba1"/>
<circle cx="357" cy="197.3" r="7" fill="#9ecae1"/>
<circle cx="397.7" cy="207.8" r="7" fill="#fcbba1"/>
<circle cx="359.9" cy="221.6" r="7" fill="#9ecae1"/>
<circle cx="427.1" cy="220.8" r="7" fill="#9ecae1"/>
<circle cx="454.2" cy="220.2" r="7" fill="#9ecae1"/>
<circle cx="406.5" cy="234.9" r="7" fill="#9ecae1"/>
<circle cx="382.1" cy="243" r="7" fill="#9ecae1"/>
<circle cx="428.7" cy="240.5" r="7" fill="#9ecae1"/>
<circle cx="450.6" cy="242.4" r="7" fill="#9ecae1"/>
<circle cx="357.2" cy="259.9" r="7" fill="#9ecae1"/>
<circle cx="395.4" cy="274.9" r="7" fill="#fcbba1"/>
<circle cx="430.7" cy="275.1" r="7" fill="#9ecae1"/>
<circle cx="359.1" cy="284.9" r="7" fill="#9ecae1"/>
<circle cx="427.3" cy="302.6" r="7" fill="#9ecae1"/>
<circle cx="466.2" cy="187.2" r="7" fill="#9ecae1"/>
<circle cx="373.2" cy="310.9" r="7" fill="#9ecae1"/>
<circle cx="396" cy="313.7" r="7" fill="#9ecae1"/>
<circle cx="348.8" cy="318.7" r="7" fill="#9ecae1"/>
<circle cx="411.2" cy="339.5" r="7" fill="#9ecae1"/>
<circle cx="342.7" cy="342.3" r="7" fill="#9ecae1"/>
<circle cx="384.3" cy="345.1" r="7" fill="#fcbba1"/>
<circle cx="366" cy="352.1" r="7" fill="#fcbba1"/>
<circle cx="325.3" cy="365.4" r="7" fill="#9ecae1"/>
<circle cx="423.2" cy="363.2" r="7" fill="#9ecae1"/>
<circle cx="351.1" cy="379.3" r="7" fill="#9ecae1"/>
<circle cx="397.4" cy="377.6" r="7" fill="#9ecae1"/>
<circle cx="373.8" cy="393.2" r="7" fill="#9ecae1"/>
<circle cx="465" cy="342.3" r="7" fill="#fcbba1"/>
<circle cx="500.9" cy="335.3" r="7" fill="#9ecae1"/>
<circle cx="509.8" cy="85.8" r="7" fill="#9ecae1"/>
<circle cx="532.6" cy="88.2" r="7" fill="#9ecae1"/>
<circle cx="554.6" cy="101" r="7" fill="#9ecae1"/>
<circle cx="601.9" cy="106" r="7" fill="#9ecae1"/>
<circle cx="504.4" cy="109.8" r="7" fill="#9ecae1"/>
<circle cx="480.8" cy="112.8" r="7" fill="#9ecae1"/>
<circle cx="578.1" cy="116.8" r="7" fill="#9ecae1"/>
<circle cx="621.3" cy="120.9" r="7" fill="#9ecae1"/>
<circle cx="557.9" cy="123.1" r="7" fill="#9ecae1"/>
<circle cx="531.4" cy="127.5" r="7" fill="#fcbba1"/>
<circle cx="644.4" cy="130.8" r="7" fill="#9ecae1"/>
<circle cx="484.7" cy="135.5" r="7" fill="#9ecae1"/>
<circle cx="580.2" cy="139.4" r="7" fill="#fcbba1"/>
<circle cx="665.8" cy="141.6" r="7" fill="#9ecae1"/>
<circle cx="600.3" cy="144.6" r="7" fill="#fcbba1"/>
<circle cx="518" cy="145.1" r="7" fill="#fcbba1"/>
<circle cx="554.5" cy="145.1" r="7" fill="#fcbba1"/>
<circle cx="621.8" cy="145.9" r="7" fill="#9ecae1"/>
<circle cx="535.5" cy="148.9" r="7" fill="#fcbba1"/>
<circle cx="564.6" cy="150.2" r="7" fill="#9ecae1"/>
<circle cx="498.6" cy="156.8" r="7" fill="#9ecae1"/>
<circle cx="579.4" cy="160" r="7" fill="#fcbba1"/>
<circle cx="471" cy="162" r="7" fill="#9ecae1"/>
<circle cx="645" cy="163.7" r="7" fill="#9ecae1"/>
<circle cx="603" cy="164.1" r="7" fill="#fcbba1"/>
<circle cx="670" cy="164.7" r="7" fill="#9ecae1"/>
<circle cx="529.1" cy="167.8" r="7" fill="#9ecae1"/>
<circle cx="549.5" cy="167.8" r="7" fill="#9ecae1"/>
<circle cx="623.5" cy="171.5" r="7" fill="#fcbba1"/>
<circle cx="565.1" cy="172.8" r="7" fill="#9ecae1"/>
<circle cx="510" cy="175.2" r="7" fill="#9ecae1"/>
<circle cx="584.3" cy="177" r="7" fill="#fcbba1"/>
<circle cx="581.3" cy="182.6" r="7" fill="#9ecae1"/>
<circle cx="547" cy="187" r="7" fill="#9ecae1"/>
<circle cx="607" cy="188" r="7" fill="#fcbba1"/>
<circle cx="642.5" cy="189.3" r="7" fill="#9ecae1"/>
<circle cx="666.6" cy="187.7" r="7" fill="#9ecae1"/>
<circle cx="492.3" cy="190.8" r="7" fill="#fcbba1"/>
<circle cx="527.3" cy="192.7" r="7" fill="#fcbba1"/>
<circle cx="603.1" cy="196" r="7" fill="#9ecae1"/>
<circle cx="568.6" cy="197" r="7" fill="#9ecae1"/>
<circle cx="508.9" cy="199" r="7" fill="#fcbba1"/>
<circle cx="623.5" cy="208.5" r="7" fill="#9ecae1"/>
<circle cx="544" cy="209.8" r="7" fill="#fcbba1"/>
<circle cx="586.3" cy="210.5" r="7" fill="#9ecae1"/>
<circle cx="478.5" cy="210.5" r="7" fill="#9ecae1"/>
<circle cx="648.3" cy="210.8" r="7" fill="#9ecae1"/>
<circle cx="550.5" cy="214.7" r="7" fill="#9ecae1"/>
<circle cx="525.2" cy="215.8" r="7" fill="#9ecae1"/>
<circle cx="674.6" cy="218.9" r="7" fill="#9ecae1"/>
<circle cx="497.1" cy="219" r="7" fill="#9ecae1"/>
<circle cx="533.2" cy="219" r="7" fill="#fcbba1"/>
<circle cx="569.8" cy="223.6" r="7" fill="#fcbba1"/>
<circle cx="605.9" cy="224.6" r="7" fill="#9ecae1"/>
<circle cx="576.5" cy="230" r="7" fill="#fcbba1"/>
<circle cx="634.5" cy="230.9" r="7" fill="#fcbba1"/>
<circle cx="517.5" cy="233.7" r="7" fill="#fcbba1"/>
<circle cx="475.8" cy="234.1" r="7" fill="#9ecae1"/>
<circle cx="548" cy="236.4" r="7" fill="#fcbba1"/>
<circle cx="524.1" cy="239.1" r="7" fill="#9ecae1"/>
<circle cx="594" cy="244" r="7" fill="#9ecae1"/>
<circle cx="671.6" cy="244.2" r="7" fill="#9ecae1"/>
<circle cx="558" cy="244.7" r="7" fill="#fcbba1"/>
<circle cx="615.4" cy="247.4" r="7" fill="#9ecae1"/>
<circle cx="499.5" cy="251.7" r="7" fill="#9ecae1"/>
<circle cx="476.6" cy="257.6" r="7" fill="#9ecae1"/>
<circle cx="531.3" cy="257.5" r="7" fill="#9ecae1"/>
<circle cx="574.7" cy="261.8" r="7" fill="#9ecae1"/>
<circle cx="549.5" cy="263.8" r="7" fill="#9ecae1"/>
<circle cx="596.4" cy="265.6" r="7" fill="#9ecae1"/>
<circle cx="659.1" cy="267.4" r="7" fill="#9ecae1"/>
<circle cx="634.4" cy="270.7" r="7" fill="#9ecae1"/>
<circle cx="506" cy="274.6" r="7" fill="#9ecae1"/>
<circle cx="484.2" cy="279.7" r="7" fill="#9ecae1"/>
<circle cx="527.3" cy="281.6" r="7" fill="#9ecae1"/>
<circle cx="561.6" cy="281.6" r="7" fill="#fcbba1"/>
<circle cx="591.4" cy="285.6" r="7" fill="#9ecae1"/>
<circle cx="569.8" cy="299.6" r="7" fill="#9ecae1"/>
<circle cx="525.4" cy="308.2" r="7" fill="#9ecae1"/>
<circle cx="600.6" cy="309.6" r="7" fill="#9ecae1"/>
<circle cx="548.8" cy="322.2" r="7" fill="#9ecae1"/>
<circle cx="574.5" cy="324.6" r="7" fill="#9ecae1"/>
<text x="581" y="11.7" class="nl">ADRB2</text>
<text x="608" y="8.7" class="nl">ADRA2C</text>
<text x="633" y="25.7" class="nl">MAOB</text>
<text x="560" y="34.7" class="nl">GABBR1</text>
<text x="597.6" y="46.7" class="nl">mitotane</text>
<text x="635.7" y="53.7" class="nl">PPARG</text>
<text x="563.4" y="61.7" class="nl">DNMT1</text>
<text x="621.5" y="78.7" class="nl">KCNN4</text>
<text x="581.7" y="88.7" class="nl">TNF</text>
<text x="411.2" y="65.3" class="nl">PLK1</text>
<text x="436.8" y="61.1" class="nl">CYP51A1</text>
<text x="462" y="59.7" class="nl">PIK3CD</text>
<text x="475.5" y="85.10000000000001" class="nl">ATP1B1</text>
<text x="440.9" y="98.0" class="nl">everolimus</text>
<text x="400.2" y="91.60000000000001" class="nl">GABRB3</text>
<text x="372.5" y="93.8" class="nl">MTOR</text>
<text x="347.4" y="106.9" class="nl">PRKCB</text>
<text x="410.4" y="112.4" class="nl">ATP5F1A</text>
<text x="382.5" y="130.6" class="nl">temsirolimus</text>
<text x="345.2" y="133.2" class="nl">PIK3CA</text>
<text x="423.7" y="132.7" class="nl">PRKCA</text>
<text x="459.8" y="141.6" class="nl">PIK3CG</text>
<text x="351.1" y="160.39999999999998" class="nl">KCNMA1</text>
<text x="421.8" y="158.2" class="nl">CHD1</text>
<text x="401" y="169.89999999999998" class="nl">HSP90AA1</text>
<text x="443.7" y="166.5" class="nl">CDK9</text>
<text x="379.9" y="181.2" class="nl">TOP2A</text>
<text x="418.7" y="197.6" class="nl">topotecan</text>
<text x="443.1" y="196.5" class="nl">bortezomib</text>
<text x="357" y="199.0" class="nl">TLR4</text>
<text x="397.7" y="209.5" class="nl">irinotecan</text>
<text x="359.9" y="223.29999999999998" class="nl">BCL2</text>
<text x="427.1" y="222.5" class="nl">MCL1</text>
<text x="454.2" y="221.89999999999998" class="nl">CDK2</text>
<text x="406.5" y="236.6" class="nl">ABCB1</text>
<text x="382.1" y="244.7" class="nl">HSP90AB1</text>
<text x="428.7" y="242.2" class="nl">TOP2B</text>
<text x="450.6" y="244.1" class="nl">HIF1A</text>
<text x="357.2" y="261.59999999999997" class="nl">TOP1</text>
<text x="395.4" y="276.59999999999997" class="nl">panobinostat</text>
<text x="430.7" y="276.8" class="nl">PSMB1</text>
<text x="359.1" y="286.59999999999997" class="nl">NFKB1</text>
<text x="427.3" y="304.3" class="nl">RELA</text>
<text x="466.2" y="188.89999999999998" class="nl">HTR2C</text>
<text x="373.2" y="312.59999999999997" class="nl">HDAC3</text>
<text x="396" y="315.4" class="nl">HDAC1</text>
<text x="348.8" y="320.4" class="nl">HDAC5</text>
<text x="411.2" y="341.2" class="nl">HDAC9</text>
<text x="342.7" y="344.0" class="nl">HDAC10</text>
<text x="384.3" y="346.8" class="nl">belinostat</text>
<text x="366" y="353.8" class="nl">vorinostat</text>
<text x="325.3" y="367.09999999999997" class="nl">HDAC4</text>
<text x="423.2" y="364.9" class="nl">HDAC11</text>
<text x="351.1" y="381.0" class="nl">HDAC8</text>
<text x="397.4" y="379.3" class="nl">HDAC6</text>
<text x="373.8" y="394.9" class="nl">HDAC2</text>
<text x="465" y="344.0" class="nl">olaparib</text>
<text x="500.9" y="337.0" class="nl">HRH1</text>
<text x="509.8" y="87.5" class="nl">PRKACA</text>
<text x="532.6" y="89.9" class="nl">NTRK1</text>
<text x="554.6" y="102.7" class="nl">JUN</text>
<text x="601.9" y="107.7" class="nl">GSK3B</text>
<text x="504.4" y="111.5" class="nl">RIPK2</text>
<text x="480.8" y="114.5" class="nl">CSK</text>
<text x="578.1" y="118.5" class="nl">YES1</text>
<text x="621.3" y="122.60000000000001" class="nl">CDK4</text>
<text x="557.9" y="124.8" class="nl">ERBB4</text>
<text x="531.4" y="129.2" class="nl">neratinib</text>
<text x="644.4" y="132.5" class="nl">PLK4</text>
<text x="484.7" y="137.2" class="nl">MAPK14</text>
<text x="580.2" y="141.1" class="nl">rucaparib</text>
<text x="665.8" y="143.29999999999998" class="nl">WEE1</text>
<text x="600.3" y="146.29999999999998" class="nl">erlotinib</text>
<text x="518" y="146.79999999999998" class="nl">lapatinib</text>
<text x="554.5" y="146.79999999999998" class="nl">gefitinib</text>
<text x="621.8" y="147.6" class="nl">PDPK1</text>
<text x="535.5" y="150.6" class="nl">bosutinib</text>
<text x="564.6" y="151.89999999999998" class="nl">EGFR</text>
<text x="498.6" y="158.5" class="nl">CHEK1</text>
<text x="579.4" y="161.7" class="nl">dasatinib</text>
<text x="471" y="163.7" class="nl">DDR1</text>
<text x="645" y="165.39999999999998" class="nl">INSR</text>
<text x="603" y="165.79999999999998" class="nl">ceritinib</text>
<text x="670" y="166.39999999999998" class="nl">MAPK7</text>
<text x="529.1" y="169.5" class="nl">SRC</text>
<text x="549.5" y="169.5" class="nl">AURKB</text>
<text x="623.5" y="173.2" class="nl">palbociclib</text>
<text x="565.1" y="174.5" class="nl">AKT1</text>
<text x="510" y="176.89999999999998" class="nl">LYN</text>
<text x="584.3" y="178.7" class="nl">ponatinib</text>
<text x="581.3" y="184.29999999999998" class="nl">ERBB2</text>
<text x="547" y="186.8" class="nl">LCK</text>
<text x="547" y="192" class="nl">ABL1</text>
<text x="607" y="189.7" class="nl">afatinib</text>
<text x="642.5" y="191.0" class="nl">MAPK3</text>
<text x="666.6" y="189.39999999999998" class="nl">LRRK2</text>
<text x="492.3" y="192.5" class="nl">masitinib</text>
<text x="527.3" y="194.39999999999998" class="nl">tedizanib</text>
<text x="603.1" y="197.7" class="nl">BRAF</text>
<text x="568.6" y="196.8" class="nl">JAK2</text>
<text x="568.6" y="202" class="nl">AURKA</text>
<text x="508.9" y="200.7" class="nl">imatinib</text>
<text x="623.5" y="210.2" class="nl">IKBKB</text>
<text x="544" y="211.5" class="nl">dovitinib</text>
<text x="586.3" y="212.2" class="nl">CDK1</text>
<text x="478.5" y="212.2" class="nl">JAK3</text>
<text x="648.3" y="212.5" class="nl">FGF2</text>
<text x="550.5" y="216.39999999999998" class="nl">CYP3A5</text>
<text x="525.2" y="217.5" class="nl">KIT</text>
<text x="674.6" y="220.6" class="nl">MAP3K1</text>
<text x="497.1" y="220.7" class="nl">RET</text>
<text x="533.2" y="220.7" class="nl">crizotinib</text>
<text x="569.8" y="225.29999999999998" class="nl">axitinib</text>
<text x="605.9" y="226.29999999999998" class="nl">MET</text>
<text x="576.5" y="231.7" class="nl">tivozanib</text>
<text x="634.5" y="232.6" class="nl">trametinib</text>
<text x="517.5" y="235.39999999999998" class="nl">pazopanib</text>
<text x="475.8" y="235.79999999999998" class="nl">FGFR2</text>
<text x="548" y="238.1" class="nl">nilotinib</text>
<text x="524.1" y="240.79999999999998" class="nl">PDGFRA</text>
<text x="594" y="245.7" class="nl">MAP2K1</text>
<text x="671.6" y="245.89999999999998" class="nl">MAP2K2</text>
<text x="558" y="246.39999999999998" class="nl">sorafenib</text>
<text x="615.4" y="249.1" class="nl">FLT3</text>
<text x="499.5" y="253.39999999999998" class="nl">PDGFRB</text>
<text x="476.6" y="259.3" class="nl">CCNB1</text>
<text x="531.3" y="259.2" class="nl">FLT4</text>
<text x="574.7" y="263.5" class="nl">FGFR1</text>
<text x="549.5" y="265.5" class="nl">RAF1</text>
<text x="596.4" y="267.3" class="nl">KDR</text>
<text x="659.1" y="269.09999999999997" class="nl">MAPK1</text>
<text x="634.4" y="272.4" class="nl">BRD4</text>
<text x="506" y="276.3" class="nl">PTK2B</text>
<text x="484.2" y="281.4" class="nl">CCNE1</text>
<text x="527.3" y="283.3" class="nl">AKT2</text>
<text x="561.6" y="283.3" class="nl">ruxolitinib</text>
<text x="591.4" y="287.3" class="nl">FLT1</text>
<text x="569.8" y="301.3" class="nl">FGFR3</text>
<text x="525.4" y="309.9" class="nl">ADORA1</text>
<text x="600.6" y="311.3" class="nl">AKT3</text>
<text x="548.8" y="323.9" class="nl">ROCK1</text>
<text x="574.5" y="326.3" class="nl">PRKCD</text>
<rect x="14.5" y="419.5" width="289" height="219.5" fill="#fff" stroke="#222" stroke-width="1"/>
<line x1="28.6" y1="420" x2="28.6" y2="639" stroke="#b0b0b0" stroke-width="0.9"/>
<line x1="42.7" y1="420" x2="42.7" y2="639" stroke="#b0b0b0" stroke-width="0.9"/>
<line x1="56.8" y1="420" x2="56.8" y2="639" stroke="#b0b0b0" stroke-width="0.9"/>
<line x1="85.0" y1="420" x2="85.0" y2="639" stroke="#b0b0b0" stroke-width="0.9"/>
<line x1="155.5" y1="420" x2="155.5" y2="639" stroke="#b0b0b0" stroke-width="0.9"/>
<rect x="15.0" y="425.70" width="274.6" height="8.5" fill="#993404" stroke="#7a7a7a" stroke-width="0.7"/>
<text x="307.3" y="433.60" font-size="9.4" fill="#222">GO:0006468: protein phosphorylation</text>
<rect x="15.0" y="436.19" width="235.2" height="8.5" fill="#993404" stroke="#7a7a7a" stroke-width="0.7"/>
<text x="307.3" y="444.09" font-size="9.4" fill="#222">GO:0042327: positive regulation of phosphorylation</text>
<rect x="15.0" y="446.68" width="233.9" height="8.5" fill="#993404" stroke="#7a7a7a" stroke-width="0.7"/>
<text x="307.3" y="454.58" font-size="9.4" fill="#222">hsa04151: PI3K-Akt signaling pathway</text>
<rect x="15.0" y="457.17" width="190.4" height="8.5" fill="#993404" stroke="#7a7a7a" stroke-width="0.7"/>
<text x="307.3" y="465.07" font-size="9.4" fill="#222">hsa01521: EGFR tyrosine kinase inhibitor resistance</text>
<rect x="15.0" y="467.66" width="183.6" height="8.5" fill="#993404" stroke="#7a7a7a" stroke-width="0.7"/>
<text x="307.3" y="475.56" font-size="9.4" fill="#222">hsa04613: Neutrophil extracellular trap formation</text>
<rect x="15.0" y="478.15" width="163.7" height="8.5" fill="#993404" stroke="#7a7a7a" stroke-width="0.7"/>
<text x="307.3" y="486.05" font-size="9.4" fill="#222">GO:1901699: cellular response to nitrogen compound</text>
<rect x="15.0" y="488.64" width="143.4" height="8.5" fill="#993404" stroke="#7a7a7a" stroke-width="0.7"/>
<text x="307.3" y="496.54" font-size="9.4" fill="#222">GO:2000147: positive regulation of cell motility</text>
<rect x="15.0" y="499.13" width="139.8" height="8.5" fill="#d95f0e" stroke="#7a7a7a" stroke-width="0.7"/>
<text x="307.3" y="507.03" font-size="9.4" fill="#222">M237: PID VEGFR1 2 PATHWAY</text>
<rect x="15.0" y="509.62" width="105.4" height="8.5" fill="#d95f0e" stroke="#7a7a7a" stroke-width="0.7"/>
<text x="307.3" y="517.52" font-size="9.4" fill="#222">hsa04020: Calcium signaling pathway</text>
<rect x="15.0" y="520.11" width="102.6" height="8.5" fill="#d95f0e" stroke="#7a7a7a" stroke-width="0.7"/>
<text x="307.3" y="528.01" font-size="9.4" fill="#222">hsa04662: B cell receptor signaling pathway</text>
<rect x="15.0" y="530.60" width="99.5" height="8.5" fill="#d95f0e" stroke="#7a7a7a" stroke-width="0.7"/>
<text x="307.3" y="538.50" font-size="9.4" fill="#222">M186: PID PDGFRB PATHWAY</text>
<rect x="15.0" y="541.09" width="96.3" height="8.5" fill="#d95f0e" stroke="#7a7a7a" stroke-width="0.7"/>
<text x="307.3" y="548.99" font-size="9.4" fill="#222">GO:0018105: peptidyl-serine phosphorylation</text>
<rect x="15.0" y="551.58" width="95.4" height="8.5" fill="#d95f0e" stroke="#7a7a7a" stroke-width="0.7"/>
<text x="307.3" y="559.48" font-size="9.4" fill="#222">R-HSA-69278: Cell Cycle, Mitotic</text>
<rect x="15.0" y="562.07" width="92.7" height="8.5" fill="#d95f0e" stroke="#7a7a7a" stroke-width="0.7"/>
<text x="307.3" y="569.97" font-size="9.4" fill="#222">GO:0000165: MAPK cascade</text>
<rect x="15.0" y="572.56" width="90.0" height="8.5" fill="#d95f0e" stroke="#7a7a7a" stroke-width="0.7"/>
<text x="307.3" y="580.46" font-size="9.4" fill="#222">M1718: SIG IL4RECEPTOR IN B LYPHOCYTES</text>
<rect x="15.0" y="583.05" width="89.1" height="8.5" fill="#d95f0e" stroke="#7a7a7a" stroke-width="0.7"/>
<text x="307.3" y="590.95" font-size="9.4" fill="#222">GO:0038083: peptidyl-tyrosine autophosphorylation</text>
<rect x="15.0" y="593.54" width="87.3" height="8.5" fill="#d95f0e" stroke="#7a7a7a" stroke-width="0.7"/>
<text x="307.3" y="601.44" font-size="9.4" fill="#222">M276: PID FGF PATHWAY</text>
<rect x="15.0" y="604.03" width="81.8" height="8.5" fill="#d95f0e" stroke="#7a7a7a" stroke-width="0.7"/>
<text x="307.3" y="611.93" font-size="9.4" fill="#222">R-HSA-1280215: Cytokine Signaling in Immune system</text>
<rect x="15.0" y="614.52" width="80.9" height="8.5" fill="#d95f0e" stroke="#7a7a7a" stroke-width="0.7"/>
<text x="307.3" y="622.42" font-size="9.4" fill="#222">GO:0010035: response to inorganic substance</text>
<rect x="15.0" y="625.01" width="77.3" height="8.5" fill="#d95f0e" stroke="#7a7a7a" stroke-width="0.7"/>
<text x="307.3" y="632.91" font-size="9.4" fill="#222">GO:1903829: positive regulation of protein localization</text>
<line x1="14" y1="639.6" x2="303.5" y2="639.6" stroke="#222" stroke-width="1.2"/>
<line x1="14.5" y1="639.5" x2="14.5" y2="644.7" stroke="#222" stroke-width="1.1"/>
<text x="14.5" y="655" font-size="9" text-anchor="middle" fill="#222">0</text>
<line x1="49.8" y1="639.5" x2="49.8" y2="644.7" stroke="#222" stroke-width="1.1"/>
<text x="49.8" y="655" font-size="9" text-anchor="middle" fill="#222">5</text>
<line x1="85.0" y1="639.5" x2="85.0" y2="644.7" stroke="#222" stroke-width="1.1"/>
<text x="85.0" y="655" font-size="9" text-anchor="middle" fill="#222">10</text>
<line x1="120.2" y1="639.5" x2="120.2" y2="644.7" stroke="#222" stroke-width="1.1"/>
<text x="120.2" y="655" font-size="9" text-anchor="middle" fill="#222">15</text>
<line x1="155.5" y1="639.5" x2="155.5" y2="644.7" stroke="#222" stroke-width="1.1"/>
<text x="155.5" y="655" font-size="9" text-anchor="middle" fill="#222">20</text>
<line x1="190.8" y1="639.5" x2="190.8" y2="644.7" stroke="#222" stroke-width="1.1"/>
<text x="190.8" y="655" font-size="9" text-anchor="middle" fill="#222">25</text>
<line x1="226.0" y1="639.5" x2="226.0" y2="644.7" stroke="#222" stroke-width="1.1"/>
<text x="226.0" y="655" font-size="9" text-anchor="middle" fill="#222">30</text>
<line x1="261.2" y1="639.5" x2="261.2" y2="644.7" stroke="#222" stroke-width="1.1"/>
<text x="261.2" y="655" font-size="9" text-anchor="middle" fill="#222">35</text>
<line x1="296.5" y1="639.5" x2="296.5" y2="644.7" stroke="#222" stroke-width="1.1"/>
<text x="296.5" y="655" font-size="9" text-anchor="middle" fill="#222">40</text>
<text x="157" y="668.3" font-size="10.2" text-anchor="middle" fill="#222">-log10(P)</text>
</svg></body></html>
